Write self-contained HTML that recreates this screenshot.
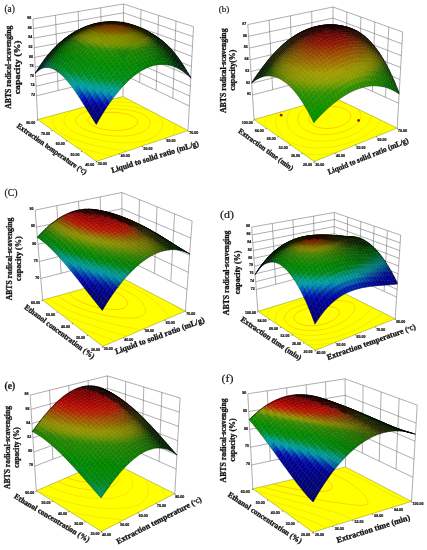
<!DOCTYPE html>
<html><head><meta charset="utf-8"><title>ABTS radical-scavenging capacity response surfaces</title>
<style>
html,body{margin:0;padding:0;background:#fff}
svg{display:block}
.tk{font-family:"Liberation Sans",sans-serif;font-weight:bold;font-size:3.6px;fill:#111;stroke:#111;stroke-width:.2px}
.q path{fill:currentColor;stroke:currentColor;stroke-width:.4}
.pl{font-family:"Liberation Serif",serif;fill:#111;stroke:#111;stroke-width:.15px}
.ax{stroke:#111;stroke-width:.3px;font-family:"Liberation Serif","Noto Serif CJK SC",serif;font-weight:bold;fill:#111}
</style></head><body>
<svg width="427" height="550" viewBox="0 0 427 550">
<rect width="427" height="550" fill="#fff"/>
<g><path d="M32.9 19L123.5 4L193.5 26.7M33.3 28.6L123.5 12.8L193 36.6M33.8 38.2L123.4 21.7L192.5 46.5M34.2 47.8L123.4 30.5L191.9 56.4M34.7 57.4L123.3 39.3L191.4 66.4M35.1 67L123.3 48.1L190.9 76.3M35.6 76.6L123.2 57L190.4 86.2M36 86.2L123.2 65.8L189.8 96.1M36.5 95.8L123.1 74.6L189.3 106M32.9 19L37.6 119.6M55.5 15.2L58.1 90.5M78.2 11.5L79.8 85.2M100.8 7.8L101.5 79.9M123.5 4L123 96.5M193.5 26.7L188 130.6M176 21L172.8 98.2M158.5 15.3L156.2 90.3M141 9.7L139.7 82.5" fill="none" stroke="#6a6a6a" stroke-width="0.55"/>
<polygon points="37.6,119.6 96.5,161.4 188,130.6 123,96.5" fill="#ffff00" stroke="#8a8a20" stroke-width="0.5"/>
<path d="M186.6 131.1L186.6 129.8M75.7 146.6L77.6 147.2L79.5 147.8L82.6 148.7L84.3 149.1L86.7 149.8L89.4 150.5L91.1 151L93.7 151.6L96.4 152.3L98.2 152.7L100.5 153.2L103.6 153.9L105.4 154.4L107.3 154.8L110.7 155.6L112.5 156M128.7 99.5L126.2 99.3L123.7 99.2L121.3 99L119 98.9L116.7 98.9M42.4 118.3L42.2 119.3L42 120.3L41.9 121.3L42 122.7" fill="none" stroke="#d8e000" stroke-width="0.5"/>
<path d="M172.8 135.7L173.3 134.6L173.7 133.5L174.1 132.4L174.4 131.3L174.7 130.1L174.9 128.9L175.1 127.7L175.1 126.5L175.1 125.6L175.1 124.7L174.9 123.8M136.1 103.4L133.7 103.1L131.5 102.8L129.2 102.6L126.8 102.4L124.4 102.2L121.8 102L119.2 101.9L116.4 101.8L113.5 101.7L111.1 101.7L109 101.6L106.9 101.6L103.8 101.7M54.4 115.1L53.6 116.2L53.1 117.3L52.7 118.4L52.5 119.4L52.3 120.4L52.4 121.6L52.6 123.2L52.9 124.1L53.3 125L54.2 126.6L54.9 127.5L56.1 129L57.6 130.5L59.4 131.9L61.4 133.3L63.5 134.6L65.9 135.9L68.4 137.1L69.7 137.7L72.5 138.9L74 139.5L76.9 140.5L78.4 141L81.6 142L83.2 142.5L86 143.3L88.2 143.9L90 144.3L92.9 145L95.4 145.6L97.2 146L99.5 146.5L102.6 147.1L104.9 147.5L106.8 147.9L108.8 148.2L111.8 148.7L114.8 149.2L117 149.5L119.2 149.8L121.3 150.1L123.5 150.3L126.2 150.6" fill="none" stroke="#d6dc00" stroke-width="0.5"/>
<path d="M140.2 141.8L143.6 141.1L146.9 140.2L149.8 139.1L152.4 137.9L153.6 137.2L155.8 135.7L156.8 134.9L157.8 134.1L159.1 132.7L160.1 131.4L160.8 130.4L161.4 129.4L161.8 128.4L162.2 127.3L162.5 126.1L162.7 125L162.7 124.1L162.6 123.2L162.5 122.3L162.1 120.8L161.6 119.8L161.2 119L160.1 117.5L159.5 116.8L158 115.5L156.3 114.2L154.4 113L152.1 111.9L149.6 110.8L146.9 109.9L145.2 109.4L142.3 108.6L140.6 108.2L137.1 107.4L135.2 107.1L133.2 106.8L130.7 106.4L127.8 106L125.1 105.8L122.5 105.5L120 105.4L117.6 105.2L115.2 105.1L113 105.1L110.8 105L107.9 105L104.5 105.1L102.5 105.1L100.5 105.2L96.8 105.5L94.9 105.7L91.4 106L89.7 106.3L86.4 106.8L83.3 107.4L80.4 108.1L77.6 108.9L74.9 109.8L72.5 110.8L71.3 111.4L69.2 112.6L68.2 113.3L66.8 114.5L65.8 115.6L65.1 116.5L64.6 117.5L64.2 118.6L63.9 119.8L63.9 121L64.1 121.9L64.3 122.8L65.1 124.4L65.7 125.3L67 126.8L68.5 128.3L70.4 129.7L72.5 131L74.8 132.3L77.3 133.5L79.2 134.3L81.5 135.1L83.9 136L86 136.7L87.9 137.2L91 138.1L92.7 138.5L95 139L98.2 139.7L100.2 140.1L102.1 140.5L104.3 140.8L107.2 141.3L110 141.7L112.8 142L115.1 142.2L117.5 142.4L120 142.6L122.7 142.7L125.4 142.8L127.7 142.8L130 142.7L132.1 142.7L135.4 142.4L138.2 142.1L140.2 141.8" fill="none" stroke="#e6d200" stroke-width="0.5"/>
<path d="M129.7 135.6L131.6 135.3L135.1 134.6L138.3 133.7L141.1 132.7L143.6 131.4L144.8 130.7L146.8 129.2L147.7 128.4L148.4 127.5L149.1 126.5L149.7 125.4L150 124.4L150.2 123.3L150.1 121.9L149.8 120.7L149.5 119.9L148.6 118.5L147.8 117.7L146.3 116.4L144.4 115.1L142.2 114L139.7 112.9L136.8 112L135.3 111.5L132 110.7L130.1 110.3L128.2 110L125.5 109.6L122.7 109.3L120 109L117.5 108.8L115.1 108.7L112.8 108.6L110.6 108.6L107.9 108.6L104.4 108.7L102.5 108.8L100 109L97 109.3L94.1 109.7L92 110.1L88.9 110.8L86.1 111.6L83.4 112.5L82.2 113.1L80 114.3L79 114.9L77.5 116.2L76.6 117.4L76.1 118.4L75.8 119.5L75.7 120.5L75.9 121.4L76.3 122.5L77.1 123.9L78.4 125.3L79.3 126.1L81.2 127.4L83.4 128.7L84.6 129.3L87.3 130.5L90 131.5L91.7 132L94 132.7L96.7 133.4L98.5 133.8L100.8 134.3L103.9 134.8L106.5 135.2L108.7 135.5L111 135.7L113.5 135.9L116.1 136.1L118.9 136.1L121.6 136.1L123.8 136.1L125.9 136L129.7 135.6" fill="none" stroke="#eab400" stroke-width="0.5"/>
<path d="M122.9 130.1L124.8 129.8L128.2 129.1L131.1 128.2L133.7 127L134.8 126.3L136.3 125L137.2 123.8L137.6 122.7L137.6 121.8L137.5 120.9L137 119.7L136 118.6L134.3 117.2L132.2 116.1L129.6 115L127.4 114.4L124.7 113.7L122.9 113.4L120.5 113L117.8 112.7L115.3 112.5L112.9 112.4L110.7 112.3L107.2 112.4L104.7 112.6L102.7 112.8L99.4 113.3L96.3 114L93.5 114.9L91.1 116L90.1 116.6L88.9 117.7L88.1 118.8L87.8 119.8L87.9 120.8L88.5 122.3L89.2 123.2L90.9 124.6L93.1 125.9L95.6 127L97.1 127.5L100.2 128.5L102 128.9L104 129.3L106.9 129.8L109.7 130.1L112.2 130.3L114.6 130.4L116.9 130.5L119 130.4L122.9 130.1" fill="none" stroke="#f09a00" stroke-width="0.5"/>
<path d="M96.5 161.4l0.6 1.2M119.4 153.7l0.6 1.2M142.2 146l0.6 1.2M165.1 138.3l0.6 1.2M188 130.6l0.6 1.2M96.5 161.4l-0.6 1.2M81.8 150.9l-0.6 1.2M67 140.5l-0.6 1.2M52.3 130.1l-0.6 1.2M37.6 119.6l-0.6 1.2" stroke="#333" stroke-width="0.6" fill="none"/>
<g class="q">
<path color="#000092" d="M122.5 52.1l3.1 4-2.4 4.5-3.1-4.2z"/>
<path color="#0023b0" d="M119.4 48.4l3.1 3.7-2.4 4.3-3.1-3.8z"/>
<path color="#002fb0" d="M124.9 48.3l3.2 3.8-2.5 4-3.1-4z"/>
<path color="#0081af" d="M116.2 45.1l3.2 3.3-2.4 4.2-3.2-3.5z"/>
<path color="#0092ad" d="M127.4 44.9l3.1 3.7-2.4 3.5-3.2-3.8z"/>
<path color="#008fae" d="M121.8 44.7l3.1 3.6-2.4 3.8-3.1-3.7z"/>
<path color="#009f8b" d="M113 42.1l3.2 3-2.4 4-3.1-3.1z"/>
<path color="#009c7b" d="M118.6 41.6l3.2 3.1-2.4 3.7-3.2-3.3z"/>
<path color="#009973" d="M124.2 41.5l3.2 3.4-2.5 3.4-3.1-3.6z"/>
<path color="#009875" d="M129.9 42l3.1 3.6-2.5 3-3.1-3.7z"/>
<path color="#008a1d" d="M121.1 38.5l3.1 3-2.4 3.2-3.2-3.1z"/>
<path color="#00914d" d="M109.9 39.5l3.1 2.6-2.3 3.9-3.2-2.8z"/>
<path color="#008d2d" d="M115.5 38.7l3.1 2.9-2.4 3.5-3.2-3z"/>
<path color="#00891a" d="M126.7 38.8l3.2 3.2-2.5 2.9-3.2-3.4z"/>
<path color="#008826" d="M132.3 39.6l3.2 3.4-2.5 2.6-3.1-3.6z"/>
<path color="#008917" d="M106.7 37.2l3.2 2.3-2.4 3.7-3.2-2.4z"/>
<path color="#008710" d="M117.9 35.8l3.2 2.7-2.5 3.1-3.1-2.9z"/>
<path color="#00850f" d="M123.5 35.9l3.2 2.9-2.5 2.7-3.1-3z"/>
<path color="#008211" d="M134.8 37.6l3.2 3.3-2.5 2.1-3.2-3.4z"/>
<path color="#008812" d="M112.3 36.3l3.2 2.4-2.5 3.4-3.1-2.6z"/>
<path color="#00840f" d="M129.1 36.5l3.2 3.1-2.4 2.4-3.2-3.2z"/>
<path color="#00860e" d="M103.5 35.3l3.2 1.9-2.4 3.6-3.2-2z"/>
<path color="#00850a" d="M109.1 34.1l3.2 2.2-2.4 3.2-3.2-2.3z"/>
<path color="#008307" d="M114.7 33.5l3.2 2.3-2.4 2.9-3.2-2.4z"/>
<path color="#008205" d="M120.3 33.3l3.2 2.6-2.4 2.6-3.2-2.7z"/>
<path color="#008005" d="M126 33.7l3.1 2.8-2.4 2.3-3.2-2.9z"/>
<path color="#007d07" d="M131.6 34.6l3.2 3-2.5 2-3.2-3.1z"/>
<path color="#007b09" d="M137.3 36l3.2 3.2-2.5 1.7-3.2-3.3z"/>
<path color="#008207" d="M100.3 33.8l3.2 1.5-2.4 3.5-3.2-1.7z"/>
<path color="#017f00" d="M111.4 31.5l3.3 2-2.4 2.8-3.2-2.2z"/>
<path color="#037800" d="M128.4 31.9l3.2 2.7-2.5 1.9-3.1-2.8z"/>
<path color="#007203" d="M139.8 34.9l3.1 3.1-2.4 1.2-3.2-3.2z"/>
<path color="#008002" d="M105.8 32.3l3.3 1.8-2.4 3.1-3.2-1.9z"/>
<path color="#047d00" d="M117.1 31.1l3.2 2.2-2.4 2.5-3.2-2.3z"/>
<path color="#047b00" d="M122.7 31.3l3.3 2.4-2.5 2.2-3.2-2.6z"/>
<path color="#007500" d="M134.1 33.1l3.2 2.9-2.5 1.6-3.2-3z"/>
<path color="#007d02" d="M97 32.5l3.3 1.3-2.4 3.3-3.2-1.4z"/>
<path color="#057c00" d="M102.6 30.9l3.2 1.4-2.3 3-3.2-1.5z"/>
<path color="#0a7a00" d="M108.2 29.8l3.2 1.7-2.3 2.6-3.3-1.8z"/>
<path color="#0d7800" d="M113.9 29.2l3.2 1.9-2.4 2.4-3.3-2z"/>
<path color="#0d7200" d="M125.2 29.6l3.2 2.3-2.4 1.8-3.3-2.4z"/>
<path color="#0b6f00" d="M130.9 30.6l3.2 2.5-2.5 1.5-3.2-2.7z"/>
<path color="#076a00" d="M136.6 32.1l3.2 2.8-2.5 1.1-3.2-2.9z"/>
<path color="#026500" d="M142.2 34.1l3.2 3-2.5 .9-3.1-3.1z"/>
<path color="#0e7600" d="M119.5 29.2l3.2 2.1-2.4 2-3.2-2.2z"/>
<path color="#037700" d="M93.8 31.7l3.2 .8-2.3 3.2-3.2-1z"/>
<path color="#107400" d="M105 28.5l3.2 1.3-2.4 2.5-3.2-1.4z"/>
<path color="#0f6100" d="M133.3 29.7l3.3 2.4-2.5 1-3.2-2.5z"/>
<path color="#055400" d="M144.7 33.7l3.2 2.9-2.5 .5-3.2-3z"/>
<path color="#0b7500" d="M99.4 29.8l3.2 1.1-2.3 2.9-3.3-1.3z"/>
<path color="#147100" d="M110.6 27.7l3.3 1.5-2.5 2.3-3.2-1.7z"/>
<path color="#156e00" d="M116.3 27.4l3.2 1.8-2.4 1.9-3.2-1.9z"/>
<path color="#156b00" d="M122 27.6l3.2 2-2.5 1.7-3.2-2.1z"/>
<path color="#126600" d="M127.6 28.4l3.3 2.2-2.5 1.3-3.2-2.3z"/>
<path color="#0a5b00" d="M139 31.4l3.2 2.7-2.4 .8-3.2-2.8z"/>
<path color="#076f00" d="M90.6 31.1l3.2 .6-2.3 3-3.2-.6z"/>
<path color="#0f6d00" d="M96.2 29l3.2 .8-2.4 2.7-3.2-.8z"/>
<path color="#146b00" d="M101.7 27.5l3.3 1-2.4 2.4-3.2-1.1z"/>
<path color="#1a6800" d="M107.4 26.5l3.2 1.2-2.4 2.1-3.2-1.3z"/>
<path color="#296200" d="M118.7 26l3.3 1.6-2.5 1.6-3.2-1.8z"/>
<path color="#175500" d="M130.1 27.6l3.2 2.1-2.4 .9-3.3-2.2z"/>
<path color="#0f4d00" d="M135.8 29.1l3.2 2.3-2.4 .7-3.3-2.4z"/>
<path color="#0a4400" d="M141.5 31.2l3.2 2.5-2.5 .4-3.2-2.7z"/>
<path color="#053b00" d="M147.2 33.7l3.2 2.9-2.5 0-3.2-2.9z"/>
<path color="#246500" d="M113 26l3.3 1.4-2.4 1.8-3.3-1.5z"/>
<path color="#235c00" d="M124.4 26.5l3.2 1.9-2.4 1.2-3.2-2z"/>
<path color="#196000" d="M98.5 26.8l3.2 .7-2.3 2.3-3.2-.8z"/>
<path color="#0d2f00" d="M138.3 28.9l3.2 2.3-2.5 .2-3.2-2.3z"/>
<path color="#0a6400" d="M87.4 30.9l3.2 .2-2.3 3-3.2-.3z"/>
<path color="#116200" d="M92.9 28.6l3.3 .4-2.4 2.7-3.2-.6z"/>
<path color="#316000" d="M104.1 25.6l3.3 .9-2.4 2-3.3-1z"/>
<path color="#425e00" d="M109.8 24.9l3.2 1.1-2.4 1.7-3.2-1.2z"/>
<path color="#465900" d="M115.4 24.7l3.3 1.3-2.4 1.4-3.3-1.4z"/>
<path color="#405200" d="M121.1 25l3.3 1.5-2.4 1.1-3.3-1.6z"/>
<path color="#344800" d="M126.8 25.8l3.3 1.8-2.5 .8-3.2-1.9z"/>
<path color="#203c00" d="M132.6 27.1l3.2 2-2.5 .6-3.2-2.1z"/>
<path color="#062300" d="M144 31.2l3.2 2.5-2.5 0-3.2-2.5z"/>
<path color="#031e00" d="M149.7 34.1l3.2 2.8-2.5-.3-3.2-2.9z"/>
<path color="#0a5700" d="M84.2 31.1l3.2-.2-2.3 2.9-3.2 0z"/>
<path color="#235200" d="M95.3 26.5l3.2 .3-2.3 2.2-3.3-.4z"/>
<path color="#3d5100" d="M100.9 25.1l3.2 .5-2.4 1.9-3.2-.7z"/>
<path color="#3e4400" d="M112.2 23.7l3.2 1-2.4 1.3-3.2-1.1z"/>
<path color="#2a2e00" d="M123.6 24.3l3.2 1.5-2.4 .7-3.3-1.5z"/>
<path color="#192100" d="M135 27l3.3 1.9-2.5 .2-3.2-2z"/>
<path color="#0d1f00" d="M140.7 29.1l3.3 2.1-2.5 0-3.2-2.3z"/>
<path color="#041e00" d="M152.1 34.8l3.2 2.7-2.4-.6-3.2-2.8z"/>
<path color="#105400" d="M89.7 28.5l3.2 .1-2.3 2.5-3.2-.2z"/>
<path color="#424c00" d="M106.5 24.1l3.3 .8-2.4 1.6-3.3-.9z"/>
<path color="#353a00" d="M117.9 23.8l3.2 1.2-2.4 1-3.3-1.3z"/>
<path color="#1d2100" d="M129.3 25.4l3.3 1.7-2.5 .5-3.3-1.8z"/>
<path color="#061e00" d="M146.4 31.7l3.3 2.4-2.5-.4-3.2-2.5z"/>
<path color="#094500" d="M81 31.5l3.2-.4-2.3 2.7-3.2 .4z"/>
<path color="#0e4100" d="M86.5 28.7l3.2-.2-2.3 2.4-3.2 .2z"/>
<path color="#233e00" d="M92 26.5l3.3 0-2.4 2.1-3.2-.1z"/>
<path color="#303900" d="M97.6 24.8l3.3 .3-2.4 1.7-3.2-.3z"/>
<path color="#2c2f00" d="M103.2 23.7l3.3 .4-2.4 1.5-3.2-.5z"/>
<path color="#222300" d="M108.9 23l3.3 .7-2.4 1.2-3.3-.8z"/>
<path color="#212200" d="M114.6 22.9l3.3 .9-2.5 .9-3.2-1z"/>
<path color="#212200" d="M120.3 23.2l3.3 1.1-2.5 .7-3.2-1.2z"/>
<path color="#202200" d="M126 24.1l3.3 1.3-2.5 .4-3.2-1.5z"/>
<path color="#1f2200" d="M131.7 25.4l3.3 1.6-2.4 .1-3.3-1.7z"/>
<path color="#1c2100" d="M137.5 27.2l3.2 1.9-2.4-.2-3.3-1.9z"/>
<path color="#111f00" d="M143.2 29.6l3.2 2.1-2.4-.5-3.3-2.1z"/>
<path color="#061e00" d="M148.9 32.4l3.2 2.4-2.4-.7-3.3-2.4z"/>
<path color="#041e00" d="M154.6 35.8l3.2 2.7-2.5-1-3.2-2.7z"/>
<path color="#062d00" d="M77.8 32.3l3.2-.8-2.3 2.7-3.2 .7z"/>
<path color="#152000" d="M88.8 26.8l3.2-.3-2.3 2-3.2 .2z"/>
<path color="#222200" d="M105.6 22.7l3.3 .3-2.4 1.1-3.3-.4z"/>
<path color="#232200" d="M117 22.4l3.3 .8-2.4 .6-3.3-.9z"/>
<path color="#212200" d="M128.5 24.1l3.2 1.3-2.4 0-3.3-1.3z"/>
<path color="#122000" d="M145.6 30.4l3.3 2-2.5-.7-3.2-2.1z"/>
<path color="#031e00" d="M157 37.2l3.2 2.5-2.4-1.2-3.2-2.7z"/>
<path color="#082600" d="M83.2 29.3l3.3-.6-2.3 2.4-3.2 .4z"/>
<path color="#1e2200" d="M94.4 24.9l3.2-.1-2.3 1.7-3.3 0z"/>
<path color="#202200" d="M100 23.5l3.2 .2-2.3 1.4-3.3-.3z"/>
<path color="#232200" d="M111.3 22.3l3.3 .6-2.4 .8-3.3-.7z"/>
<path color="#222200" d="M122.7 23l3.3 1.1-2.4 .2-3.3-1.1z"/>
<path color="#202200" d="M134.2 25.7l3.3 1.5-2.5-.2-3.3-1.6z"/>
<path color="#1d2100" d="M139.9 27.8l3.3 1.8-2.5-.5-3.2-1.9z"/>
<path color="#061e00" d="M151.3 33.5l3.3 2.3-2.5-1-3.2-2.4z"/>
<path color="#031e00" d="M74.6 33.4l3.2-1.1-2.3 2.6-3.2 1z"/>
<path color="#061e00" d="M80 30.2l3.2-.9-2.2 2.2-3.2 .8z"/>
<path color="#162000" d="M85.5 27.5l3.3-.7-2.3 1.9-3.3 .6z"/>
<path color="#1f2200" d="M91.1 25.3l3.3-.4-2.4 1.6-3.2 .3z"/>
<path color="#232200" d="M102.4 22.6l3.2 .1-2.4 1-3.2-.2z"/>
<path color="#231e00" d="M108 22l3.3 .3-2.4 .7-3.3-.3z"/>
<path color="#231c00" d="M113.7 21.9l3.3 .5-2.4 .5-3.3-.6z"/>
<path color="#231c00" d="M119.4 22.3l3.3 .7-2.4 .2-3.3-.8z"/>
<path color="#231f00" d="M125.2 23.2l3.3 .9-2.5 0-3.3-1.1z"/>
<path color="#222200" d="M130.9 24.5l3.3 1.2-2.5-.3-3.2-1.3z"/>
<path color="#1e2200" d="M142.4 28.7l3.2 1.7-2.4-.8-3.3-1.8z"/>
<path color="#122000" d="M148.1 31.5l3.2 2-2.4-1.1-3.3-2z"/>
<path color="#061e00" d="M153.8 34.9l3.2 2.3-2.4-1.4-3.3-2.3z"/>
<path color="#031e00" d="M159.5 38.8l3.2 2.5-2.5-1.6-3.2-2.5z"/>
<path color="#212200" d="M96.7 23.7l3.3-.2-2.4 1.3-3.2 .1z"/>
<path color="#202200" d="M136.6 26.4l3.3 1.4-2.4-.6-3.3-1.5z"/>
<path color="#152000" d="M82.3 28.5l3.2-1-2.3 1.8-3.2 .9z"/>
<path color="#241700" d="M110.4 21.7l3.3 .2-2.4 .4-3.3-.3z"/>
<path color="#241800" d="M121.9 22.5l3.3 .7-2.5-.2-3.3-.7z"/>
<path color="#101f00" d="M150.5 33l3.3 1.9-2.5-1.4-3.2-2z"/>
<path color="#031e00" d="M71.4 34.9l3.2-1.5-2.3 2.5-3.1 1.4z"/>
<path color="#061e00" d="M76.8 31.4l3.2-1.2-2.2 2.1-3.2 1.1z"/>
<path color="#1f2200" d="M87.9 26.1l3.2-.8-2.3 1.5-3.3 .7z"/>
<path color="#212200" d="M93.4 24.2l3.3-.5-2.3 1.2-3.3 .4z"/>
<path color="#232000" d="M99.1 22.9l3.3-.3-2.4 .9-3.3 .2z"/>
<path color="#241b00" d="M104.7 22.1l3.3-.1-2.4 .7-3.2-.1z"/>
<path color="#241600" d="M116.1 21.9l3.3 .4-2.4 .1-3.3-.5z"/>
<path color="#231c00" d="M127.6 23.7l3.3 .8-2.4-.4-3.3-.9z"/>
<path color="#232200" d="M133.3 25.2l3.3 1.2-2.4-.7-3.3-1.2z"/>
<path color="#212200" d="M139.1 27.3l3.3 1.4-2.5-.9-3.3-1.4z"/>
<path color="#1d2100" d="M144.8 29.9l3.3 1.6-2.5-1.1-3.2-1.7z"/>
<path color="#051e00" d="M156.2 36.6l3.3 2.2-2.5-1.6-3.2-2.3z"/>
<path color="#021e00" d="M161.9 40.7l3.2 2.5-2.4-1.9-3.2-2.5z"/>
<path color="#021e00" d="M68.2 36.6l3.2-1.7-2.2 2.4-3.2 1.7z"/>
<path color="#061e00" d="M73.6 32.9l3.2-1.5-2.2 2-3.2 1.5z"/>
<path color="#122000" d="M79.1 29.7l3.2-1.2-2.3 1.7-3.2 1.2z"/>
<path color="#1e2200" d="M84.6 27.1l3.3-1-2.4 1.4-3.2 1z"/>
<path color="#231f00" d="M95.8 23.5l3.3-.6-2.4 .8-3.3 .5z"/>
<path color="#241500" d="M107.1 21.9l3.3-.2-2.4 .3-3.3 .1z"/>
<path color="#241400" d="M112.8 21.8l3.3 .1-2.4 0-3.3-.2z"/>
<path color="#241400" d="M118.6 22.2l3.3 .3-2.5-.2-3.3-.4z"/>
<path color="#241500" d="M124.3 23.1l3.3 .6-2.4-.5-3.3-.7z"/>
<path color="#232200" d="M135.8 26.3l3.3 1-2.5-.9-3.3-1.2z"/>
<path color="#1c2100" d="M147.2 31.4l3.3 1.6-2.4-1.5-3.3-1.6z"/>
<path color="#0c1f00" d="M152.9 34.7l3.3 1.9-2.4-1.7-3.3-1.9z"/>
<path color="#051e00" d="M158.6 38.5l3.3 2.2-2.4-1.9-3.3-2.2z"/>
<path color="#011e00" d="M164.3 42.9l3.2 2.5-2.4-2.2-3.2-2.5z"/>
<path color="#212200" d="M90.2 25.1l3.2-.9-2.3 1.1-3.2 .8z"/>
<path color="#241800" d="M101.5 22.4l3.2-.3-2.3 .5-3.3 .3z"/>
<path color="#241b00" d="M130 24.4l3.3 .8-2.4-.7-3.3-.8z"/>
<path color="#202200" d="M141.5 28.6l3.3 1.3-2.4-1.2-3.3-1.4z"/>
<path color="#011d00" d="M65 38.7l3.2-2.1-2.2 2.4-3.1 2z"/>
<path color="#0d1f00" d="M75.9 31.3l3.2-1.6-2.3 1.7-3.2 1.5z"/>
<path color="#241300" d="M115.2 22.2l3.4 0-2.5-.3-3.3-.1z"/>
<path color="#081e00" d="M155.4 36.6l3.2 1.9-2.4-1.9-3.3-1.9z"/>
<path color="#001d00" d="M166.7 45.3l3.2 2.5-2.4-2.4-3.2-2.5z"/>
<path color="#051e00" d="M70.4 34.7l3.2-1.8-2.2 2-3.2 1.7z"/>
<path color="#1d2100" d="M81.4 28.5l3.2-1.4-2.3 1.4-3.2 1.2z"/>
<path color="#212200" d="M86.9 26.2l3.3-1.1-2.3 1-3.3 1z"/>
<path color="#231f00" d="M92.5 24.4l3.3-.9-2.4 .7-3.2 .9z"/>
<path color="#241700" d="M98.2 23.1l3.3-.7-2.4 .5-3.3 .6z"/>
<path color="#241400" d="M103.8 22.3l3.3-.4-2.4 .2-3.2 .3z"/>
<path color="#241300" d="M109.5 22l3.3-.2-2.4-.1-3.3 .2z"/>
<path color="#241300" d="M121 22.8l3.3 .3-2.4-.6-3.3-.3z"/>
<path color="#241500" d="M126.7 23.9l3.3 .5-2.4-.7-3.3-.6z"/>
<path color="#241b00" d="M132.4 25.5l3.4 .8-2.5-1.1-3.3-.8z"/>
<path color="#232200" d="M138.2 27.6l3.3 1-2.4-1.3-3.3-1z"/>
<path color="#202200" d="M143.9 30.1l3.3 1.3-2.4-1.5-3.3-1.3z"/>
<path color="#1a2100" d="M149.6 33.1l3.3 1.6-2.4-1.7-3.3-1.6z"/>
<path color="#041e00" d="M161 40.7l3.3 2.2-2.4-2.2-3.3-2.2z"/>
<path color="#001d00" d="M61.9 41.1l3.1-2.4-2.1 2.3-3.2 2.3z"/>
<path color="#081e00" d="M72.7 33.2l3.2-1.9-2.3 1.6-3.2 1.8z"/>
<path color="#232100" d="M89.3 25.6l3.2-1.2-2.3 .7-3.3 1.1z"/>
<path color="#241400" d="M100.5 23.1l3.3-.8-2.3 .1-3.3 .7z"/>
<path color="#241200" d="M111.9 22.5l3.3-.3-2.4-.4-3.3 .2z"/>
<path color="#241200" d="M117.6 22.9l3.4-.1-2.4-.6-3.4 0z"/>
<path color="#241500" d="M129.1 25.1l3.3 .4-2.4-1.1-3.3-.5z"/>
<path color="#222200" d="M140.6 29.1l3.3 1-2.4-1.5-3.3-1z"/>
<path color="#061e00" d="M157.8 38.8l3.2 1.9-2.4-2.2-3.2-1.9z"/>
<path color="#001d01" d="M169.1 47.9l3.2 2.5-2.4-2.6-3.2-2.5z"/>
<path color="#041e00" d="M67.2 36.9l3.2-2.2-2.2 1.9-3.2 2.1z"/>
<path color="#1b2100" d="M78.2 30.2l3.2-1.7-2.3 1.2-3.2 1.6z"/>
<path color="#202200" d="M83.7 27.6l3.2-1.4-2.3 .9-3.2 1.4z"/>
<path color="#241800" d="M94.9 24.1l3.3-1-2.4 .4-3.3 .9z"/>
<path color="#241200" d="M106.2 22.6l3.3-.6-2.4-.1-3.3 .4z"/>
<path color="#241300" d="M123.4 23.8l3.3 .1-2.4-.8-3.3-.3z"/>
<path color="#231c00" d="M134.9 26.9l3.3 .7-2.4-1.3-3.4-.8z"/>
<path color="#1f2200" d="M146.3 31.9l3.3 1.2-2.4-1.7-3.3-1.3z"/>
<path color="#162000" d="M152.1 35.1l3.3 1.5-2.5-1.9-3.3-1.6z"/>
<path color="#031e00" d="M163.4 43.1l3.3 2.2-2.4-2.4-3.3-2.2z"/>
<path color="#001d01" d="M58.8 43.8l3.1-2.7-2.2 2.2-3.1 2.7z"/>
<path color="#021e00" d="M64.1 39.3l3.1-2.4-2.2 1.8-3.1 2.4z"/>
<path color="#061e00" d="M69.5 35.4l3.2-2.2-2.3 1.5-3.2 2.2z"/>
<path color="#152000" d="M74.9 32.1l3.3-1.9-2.3 1.1-3.2 1.9z"/>
<path color="#1f2200" d="M80.4 29.4l3.3-1.8-2.3 .9-3.2 1.7z"/>
<path color="#222200" d="M86 27.1l3.3-1.5-2.4 .6-3.2 1.4z"/>
<path color="#241b00" d="M91.6 25.4l3.3-1.3-2.4 .3-3.2 1.2z"/>
<path color="#241400" d="M97.2 24.1l3.3-1-2.3 0-3.3 1z"/>
<path color="#241200" d="M102.9 23.4l3.3-.8-2.4-.3-3.3 .8z"/>
<path color="#241100" d="M108.6 23.1l3.3-.6-2.4-.5-3.3 .6z"/>
<path color="#241100" d="M114.3 23.3l3.3-.4-2.4-.7-3.3 .3z"/>
<path color="#241200" d="M120 23.9l3.4-.1-2.4-1-3.4 .1z"/>
<path color="#241300" d="M125.8 25l3.3 .1-2.4-1.2-3.3-.1z"/>
<path color="#241600" d="M131.5 26.5l3.4 .4-2.5-1.4-3.3-.4z"/>
<path color="#231e00" d="M137.3 28.5l3.3 .6-2.4-1.5-3.3-.7z"/>
<path color="#212200" d="M143 31l3.3 .9-2.4-1.8-3.3-1z"/>
<path color="#1e2200" d="M148.8 33.9l3.3 1.2-2.5-2-3.3-1.2z"/>
<path color="#0e1f00" d="M154.5 37.3l3.3 1.5-2.4-2.2-3.3-1.5z"/>
<path color="#051e00" d="M160.1 41.3l3.3 1.8-2.4-2.4-3.2-1.9z"/>
<path color="#021e00" d="M165.8 45.7l3.3 2.2-2.4-2.6-3.3-2.2z"/>
<path color="#001d02" d="M171.4 50.7l3.2 2.6-2.3-2.9-3.2-2.5z"/>
<path color="#001d02" d="M55.7 46.9l3.1-3.1-2.2 2.2-3.1 3z"/>
<path color="#051e00" d="M66.3 38l3.2-2.6-2.3 1.5-3.1 2.4z"/>
<path color="#0d1f00" d="M71.7 34.4l3.2-2.3-2.2 1.1-3.2 2.2z"/>
<path color="#212200" d="M82.7 28.9l3.3-1.8-2.3 .5-3.3 1.8z"/>
<path color="#241500" d="M93.9 25.5l3.3-1.4-2.3 0-3.3 1.3z"/>
<path color="#241200" d="M105.3 24l3.3-.9-2.4-.5-3.3 .8z"/>
<path color="#241200" d="M122.4 25.1l3.4-.1-2.4-1.2-3.4 .1z"/>
<path color="#241900" d="M133.9 28.2l3.4 .3-2.4-1.6-3.4-.4z"/>
<path color="#202200" d="M145.4 33l3.4 .9-2.5-2-3.3-.9z"/>
<path color="#081e00" d="M156.9 39.8l3.2 1.5-2.3-2.5-3.3-1.5z"/>
<path color="#041e00" d="M162.5 43.9l3.3 1.8-2.4-2.6-3.3-1.8z"/>
<path color="#001d03" d="M173.8 53.8l3.2 2.5-2.4-3-3.2-2.6z"/>
<path color="#011d00" d="M60.9 42.1l3.2-2.8-2.2 1.8-3.1 2.7z"/>
<path color="#1d2100" d="M77.2 31.4l3.2-2-2.2 .8-3.3 1.9z"/>
<path color="#231e00" d="M88.3 27l3.3-1.6-2.3 .2-3.3 1.5z"/>
<path color="#241300" d="M99.6 24.5l3.3-1.1-2.4-.3-3.3 1z"/>
<path color="#241100" d="M111 23.9l3.3-.6-2.4-.8-3.3 .6z"/>
<path color="#241100" d="M116.7 24.3l3.3-.4-2.4-1-3.3 .4z"/>
<path color="#241400" d="M128.2 26.4l3.3 .1-2.4-1.4-3.3-.1z"/>
<path color="#232200" d="M139.7 30.3l3.3 .7-2.4-1.9-3.3-.6z"/>
<path color="#1a2100" d="M151.1 36.1l3.4 1.2-2.4-2.2-3.3-1.2z"/>
<path color="#001d00" d="M168.2 48.6l3.2 2.1-2.3-2.8-3.3-2.2z"/>
<path color="#001d04" d="M52.6 50.2l3.1-3.3-2.2 2.1-3.1 3.2z"/>
<path color="#001d01" d="M57.8 45.2l3.1-3.1-2.1 1.7-3.1 3.1z"/>
<path color="#031e00" d="M63.1 40.8l3.2-2.8-2.2 1.3-3.2 2.8z"/>
<path color="#061e00" d="M68.5 37l3.2-2.6-2.2 1-3.2 2.6z"/>
<path color="#202200" d="M79.5 31l3.2-2.1-2.3 .5-3.2 2z"/>
<path color="#241900" d="M90.7 27.1l3.2-1.6-2.3-.1-3.3 1.6z"/>
<path color="#241400" d="M96.3 25.9l3.3-1.4-2.4-.4-3.3 1.4z"/>
<path color="#241200" d="M102 25.2l3.3-1.2-2.4-.6-3.3 1.1z"/>
<path color="#241100" d="M107.7 24.9l3.3-1-2.4-.8-3.3 .9z"/>
<path color="#241100" d="M119.1 25.6l3.3-.5-2.4-1.2-3.3 .4z"/>
<path color="#241300" d="M124.8 26.7l3.4-.3-2.4-1.4-3.4 .1z"/>
<path color="#241500" d="M130.6 28.1l3.3 .1-2.4-1.7-3.3-.1z"/>
<path color="#231d00" d="M136.3 30.1l3.4 .2-2.4-1.8-3.4-.3z"/>
<path color="#1f2200" d="M147.8 35.3l3.3 .8-2.3-2.2-3.4-.9z"/>
<path color="#061e00" d="M159.2 42.4l3.3 1.5-2.4-2.6-3.2-1.5z"/>
<path color="#021e00" d="M164.9 46.7l3.3 1.9-2.4-2.9-3.3-1.8z"/>
<path color="#001d01" d="M170.5 51.6l3.3 2.2-2.4-3.1-3.2-2.1z"/>
<path color="#001d04" d="M176.1 57l3.2 2.6-2.3-3.3-3.2-2.5z"/>
<path color="#192100" d="M74 33.7l3.2-2.3-2.3 .7-3.2 2.3z"/>
<path color="#232200" d="M85.1 28.8l3.2-1.8-2.3 .1-3.3 1.8z"/>
<path color="#241100" d="M113.4 25l3.3-.7-2.4-1-3.3 .6z"/>
<path color="#222200" d="M142.1 32.4l3.3 .6-2.4-2-3.3-.7z"/>
<path color="#132000" d="M153.5 38.6l3.4 1.2-2.4-2.5-3.4-1.2z"/>
<path color="#011d00" d="M60 43.9l3.1-3.1-2.2 1.3-3.1 3.1z"/>
<path color="#2d1800" d="M98.7 26.6l3.3-1.4-2.4-.7-3.3 1.4z"/>
<path color="#502c00" d="M127.2 28.4l3.4-.3-2.4-1.7-3.4 .3z"/>
<path color="#011d00" d="M167.3 49.7l3.2 1.9-2.3-3-3.3-1.9z"/>
<path color="#001d06" d="M49.5 53.8l3.1-3.6-2.2 2-3 3.6z"/>
<path color="#001d02" d="M54.7 48.5l3.1-3.3-2.1 1.7-3.1 3.3z"/>
<path color="#051e00" d="M65.4 39.8l3.1-2.8-2.2 1-3.2 2.8z"/>
<path color="#0d1f00" d="M70.8 36.3l3.2-2.6-2.3 .7-3.2 2.6z"/>
<path color="#1d2100" d="M76.3 33.4l3.2-2.4-2.3 .4-3.2 2.3z"/>
<path color="#212200" d="M81.8 31l3.3-2.2-2.4 .1-3.2 2.1z"/>
<path color="#231e00" d="M87.4 29.1l3.3-2-2.4-.1-3.2 1.8z"/>
<path color="#241600" d="M93 27.6l3.3-1.7-2.4-.4-3.2 1.6z"/>
<path color="#502800" d="M104.3 26.1l3.4-1.2-2.4-.9-3.3 1.2z"/>
<path color="#572a00" d="M110 26l3.4-1-2.4-1.1-3.3 1z"/>
<path color="#592b00" d="M115.8 26.4l3.3-.8-2.4-1.3-3.3 .7z"/>
<path color="#562c00" d="M121.5 27.2l3.3-.5-2.4-1.6-3.3 .5z"/>
<path color="#3b2900" d="M133 30.1l3.3 0-2.4-1.9-3.3-.1z"/>
<path color="#323000" d="M138.7 32.2l3.4 .2-2.4-2.1-3.4-.2z"/>
<path color="#272800" d="M144.5 34.7l3.3 .6-2.4-2.3-3.3-.6z"/>
<path color="#1b2100" d="M150.2 37.7l3.3 .9-2.4-2.5-3.3-.8z"/>
<path color="#0a1e00" d="M155.9 41.2l3.3 1.2-2.3-2.6-3.4-1.2z"/>
<path color="#041e00" d="M161.6 45.2l3.3 1.5-2.4-2.8-3.3-1.5z"/>
<path color="#001d02" d="M172.9 54.7l3.2 2.3-2.3-3.2-3.3-2.2z"/>
<path color="#001d05" d="M178.4 60.3l3.3 2.7-2.4-3.4-3.2-2.6z"/>
<path color="#001f14" d="M46.4 57.7l3.1-3.9-2.1 2-3 3.9z"/>
<path color="#001d04" d="M51.6 52.2l3.1-3.7-2.1 1.7-3.1 3.6z"/>
<path color="#001d01" d="M56.9 47.3l3.1-3.4-2.2 1.3-3.1 3.3z"/>
<path color="#031e00" d="M62.2 43l3.2-3.2-2.3 1-3.1 3.1z"/>
<path color="#172000" d="M73.1 36.1l3.2-2.7-2.3 .3-3.2 2.6z"/>
<path color="#1f2200" d="M78.6 33.4l3.2-2.4-2.3 0-3.2 2.4z"/>
<path color="#2d2c00" d="M84.1 31.3l3.3-2.2-2.3-.3-3.3 2.2z"/>
<path color="#3c2e00" d="M89.7 29.6l3.3-2-2.3-.5-3.3 2z"/>
<path color="#563100" d="M95.3 28.4l3.4-1.8-2.4-.7-3.3 1.7z"/>
<path color="#613300" d="M101 27.7l3.3-1.6-2.3-.9-3.3 1.4z"/>
<path color="#6b3500" d="M112.4 27.5l3.4-1.1-2.4-1.4-3.4 1z"/>
<path color="#663700" d="M123.9 29l3.3-.6-2.4-1.7-3.3 .5z"/>
<path color="#5d3800" d="M129.6 30.4l3.4-.3-2.4-2-3.4 .3z"/>
<path color="#4c4000" d="M135.4 32.2l3.3 0-2.4-2.1-3.3 0z"/>
<path color="#434300" d="M141.1 34.5l3.4 .2-2.4-2.3-3.4-.2z"/>
<path color="#353a00" d="M146.9 37.2l3.3 .5-2.4-2.4-3.3-.6z"/>
<path color="#1c2d00" d="M152.6 40.4l3.3 .8-2.4-2.6-3.3-.9z"/>
<path color="#031e00" d="M164 48.2l3.3 1.5-2.4-3-3.3-1.5z"/>
<path color="#001d01" d="M169.6 52.8l3.3 1.9-2.4-3.1-3.2-1.9z"/>
<path color="#001d03" d="M175.2 58l3.2 2.3-2.3-3.3-3.2-2.3z"/>
<path color="#001f10" d="M180.8 63.8l3.2 2.7-2.3-3.5-3.3-2.7z"/>
<path color="#061e00" d="M67.6 39.3l3.2-3-2.3 .7-3.1 2.8z"/>
<path color="#683400" d="M106.7 27.4l3.3-1.4-2.3-1.1-3.4 1.2z"/>
<path color="#6b3600" d="M118.1 28l3.4-.8-2.4-1.6-3.3 .8z"/>
<path color="#061e00" d="M158.3 44l3.3 1.2-2.4-2.8-3.3-1.2z"/>
<path color="#001d02" d="M53.8 51l3.1-3.7-2.2 1.2-3.1 3.7z"/>
<path color="#3e4100" d="M80.9 33.8l3.2-2.5-2.3-.3-3.2 2.4z"/>
<path color="#594000" d="M92 30.5l3.3-2.1-2.3-.8-3.3 2z"/>
<path color="#604900" d="M132 32.6l3.4-.4-2.4-2.1-3.4 .3z"/>
<path color="#4c5000" d="M143.5 37l3.4 .2-2.4-2.5-3.4-.2z"/>
<path color="#001d02" d="M171.9 56.1l3.3 1.9-2.3-3.3-3.3-1.9z"/>
<path color="#00211f" d="M43.4 61.9l3-4.2-2 2-3 4.2z"/>
<path color="#001d06" d="M48.6 56.1l3-3.9-2.1 1.6-3.1 3.9z"/>
<path color="#011d00" d="M59.1 46.4l3.1-3.4-2.2 .9-3.1 3.4z"/>
<path color="#041e00" d="M64.4 42.5l3.2-3.2-2.2 .5-3.2 3.2z"/>
<path color="#0a1e00" d="M69.9 39.1l3.2-3-2.3 .2-3.2 3z"/>
<path color="#293100" d="M75.3 36.2l3.3-2.8-2.3 0-3.2 2.7z"/>
<path color="#4f4c00" d="M86.4 31.9l3.3-2.3-2.3-.5-3.3 2.2z"/>
<path color="#6d3e00" d="M97.7 29.5l3.3-1.8-2.3-1.1-3.4 1.8z"/>
<path color="#743e00" d="M103.4 29l3.3-1.6-2.4-1.3-3.3 1.6z"/>
<path color="#783e00" d="M109.1 28.8l3.3-1.3-2.4-1.5-3.3 1.4z"/>
<path color="#783e00" d="M114.8 29.1l3.3-1.1-2.3-1.6-3.4 1.1z"/>
<path color="#764000" d="M120.5 29.9l3.4-.9-2.4-1.8-3.4 .8z"/>
<path color="#704100" d="M126.3 31l3.3-.6-2.4-2-3.3 .6z"/>
<path color="#595600" d="M137.8 34.6l3.3-.1-2.4-2.3-3.3 0z"/>
<path color="#394600" d="M149.2 39.8l3.4 .6-2.4-2.7-3.3-.5z"/>
<path color="#113600" d="M154.9 43.2l3.4 .8-2.4-2.8-3.3-.8z"/>
<path color="#062900" d="M160.6 47l3.4 1.2-2.4-3-3.3-1.2z"/>
<path color="#011d00" d="M166.3 51.3l3.3 1.5-2.3-3.1-3.3-1.5z"/>
<path color="#001d05" d="M177.5 61.5l3.3 2.3-2.4-3.5-3.2-2.3z"/>
<path color="#002019" d="M183.1 67.4l3.1 2.8-2.2-3.7-3.2-2.7z"/>
<path color="#001a24" d="M40.4 66.4l3-4.5-2 2-3 4.5z"/>
<path color="#001d04" d="M50.7 54.9l3.1-3.9-2.2 1.2-3 3.9z"/>
<path color="#082c00" d="M66.7 42.3l3.2-3.2-2.3 .2-3.2 3.2z"/>
<path color="#475000" d="M77.6 36.6l3.3-2.8-2.3-.4-3.3 2.8z"/>
<path color="#655d00" d="M88.8 32.8l3.2-2.3-2.3-.9-3.3 2.3z"/>
<path color="#804600" d="M105.7 30.5l3.4-1.7-2.4-1.4-3.3 1.6z"/>
<path color="#814700" d="M117.2 31l3.3-1.1-2.4-1.9-3.3 1.1z"/>
<path color="#696300" d="M134.4 34.9l3.4-.3-2.4-2.4-3.4 .4z"/>
<path color="#505900" d="M145.9 39.6l3.3 .2-2.3-2.6-3.4-.2z"/>
<path color="#0c3d00" d="M157.3 46.1l3.3 .9-2.3-3-3.4-.8z"/>
<path color="#001d03" d="M174.3 59.5l3.2 2-2.3-3.5-3.3-1.9z"/>
<path color="#002121" d="M185.3 71.1l3.2 2.9-2.3-3.8-3.1-2.8z"/>
<path color="#001f15" d="M45.5 60.4l3.1-4.3-2.2 1.6-3 4.2z"/>
<path color="#001d01" d="M55.9 50.1l3.2-3.7-2.2 .9-3.1 3.7z"/>
<path color="#021e00" d="M61.3 45.9l3.1-3.4-2.2 .5-3.1 3.4z"/>
<path color="#223f00" d="M72.1 39.2l3.2-3-2.2-.1-3.2 3z"/>
<path color="#585a00" d="M83.2 34.5l3.2-2.6-2.3-.6-3.2 2.5z"/>
<path color="#6c4e00" d="M94.4 31.6l3.3-2.1-2.4-1.1-3.3 2.1z"/>
<path color="#7b4700" d="M100 30.8l3.4-1.8-2.4-1.3-3.3 1.8z"/>
<path color="#824600" d="M111.4 30.6l3.4-1.5-2.4-1.6-3.3 1.3z"/>
<path color="#7d4900" d="M122.9 31.9l3.4-.9-2.4-2-3.4 .9z"/>
<path color="#6f5100" d="M128.6 33.2l3.4-.6-2.4-2.2-3.3 .6z"/>
<path color="#5e6000" d="M140.1 37.1l3.4-.1-2.4-2.5-3.3 .1z"/>
<path color="#2c4c00" d="M151.6 42.6l3.3 .6-2.3-2.8-3.4-.6z"/>
<path color="#053000" d="M163 50.1l3.3 1.2-2.3-3.1-3.4-1.2z"/>
<path color="#002000" d="M168.6 54.5l3.3 1.6-2.3-3.3-3.3-1.5z"/>
<path color="#001e0c" d="M179.8 65l3.3 2.4-2.3-3.6-3.3-2.3z"/>
<path color="#000924" d="M37.5 71.2l2.9-4.8-2 2-3 4.8z"/>
<path color="#002121" d="M42.5 64.9l3-4.5-2.1 1.5-3 4.5z"/>
<path color="#001e0a" d="M47.6 59.2l3.1-4.3-2.1 1.2-3.1 4.3z"/>
<path color="#001d03" d="M52.8 54.1l3.1-4-2.1 .9-3.1 3.9z"/>
<path color="#073900" d="M63.5 45.8l3.2-3.5-2.3 .2-3.1 3.4z"/>
<path color="#0f4700" d="M68.9 42.5l3.2-3.3-2.2-.1-3.2 3.2z"/>
<path color="#3c5800" d="M74.4 39.6l3.2-3-2.3-.4-3.2 3z"/>
<path color="#5b6400" d="M79.9 37.3l3.3-2.8-2.3-.7-3.3 2.8z"/>
<path color="#6a6b00" d="M85.5 35.4l3.3-2.6-2.4-.9-3.2 2.6z"/>
<path color="#746b00" d="M91.1 34l3.3-2.4-2.4-1.1-3.2 2.3z"/>
<path color="#835100" d="M102.4 32.4l3.3-1.9-2.3-1.5-3.4 1.8z"/>
<path color="#884e00" d="M108.1 32.3l3.3-1.7-2.3-1.8-3.4 1.7z"/>
<path color="#884e00" d="M113.8 32.5l3.4-1.5-2.4-1.9-3.4 1.5z"/>
<path color="#845100" d="M119.5 33.2l3.4-1.3-2.4-2-3.3 1.1z"/>
<path color="#766b00" d="M131 35.6l3.4-.7-2.4-2.3-3.4 .6z"/>
<path color="#6c6d00" d="M136.8 37.5l3.3-.4-2.3-2.5-3.4 .3z"/>
<path color="#606700" d="M142.5 39.8l3.4-.2-2.4-2.6-3.4 .1z"/>
<path color="#485e00" d="M148.2 42.4l3.4 .2-2.4-2.8-3.3-.2z"/>
<path color="#164e00" d="M154 45.6l3.3 .5-2.4-2.9-3.3-.6z"/>
<path color="#0a4300" d="M159.6 49.2l3.4 .9-2.4-3.1-3.3-.9z"/>
<path color="#002402" d="M171 57.8l3.3 1.7-2.4-3.4-3.3-1.6z"/>
<path color="#001d05" d="M176.6 63l3.2 2-2.3-3.5-3.2-2z"/>
<path color="#002016" d="M182.1 68.6l3.2 2.5-2.2-3.7-3.3-2.4z"/>
<path color="#001b24" d="M187.6 74.9l3.2 3-2.3-3.9-3.2-2.9z"/>
<path color="#002600" d="M58.1 49.7l3.2-3.8-2.2 .5-3.2 3.7z"/>
<path color="#795b00" d="M96.7 33l3.3-2.2-2.3-1.3-3.3 2.1z"/>
<path color="#7a5a00" d="M125.3 34.2l3.3-1-2.3-2.2-3.4 .9z"/>
<path color="#023500" d="M165.3 53.3l3.3 1.2-2.3-3.2-3.3-1.2z"/>
<path color="#002019" d="M44.6 63.7l3-4.5-2.1 1.2-3 4.5z"/>
<path color="#195a00" d="M71.2 43l3.2-3.4-2.3-.4-3.2 3.3z"/>
<path color="#697200" d="M82.2 38.3l3.3-2.9-2.3-.9-3.3 2.8z"/>
<path color="#6c7300" d="M139.1 40.2l3.4-.4-2.4-2.7-3.3 .4z"/>
<path color="#2a5e00" d="M150.6 45.4l3.4 .2-2.4-3-3.4-.2z"/>
<path color="#001e09" d="M178.9 66.5l3.2 2.1-2.3-3.6-3.2-2z"/>
<path color="#001624" d="M39.5 69.7l3-4.8-2.1 1.5-2.9 4.8z"/>
<path color="#001d05" d="M49.8 58.4l3-4.3-2.1 .8-3.1 4.3z"/>
<path color="#034300" d="M60.3 49.6l3.2-3.8-2.2 .1-3.2 3.8z"/>
<path color="#757700" d="M87.8 36.7l3.3-2.7-2.3-1.2-3.3 2.6z"/>
<path color="#836a00" d="M99.1 34.7l3.3-2.3-2.4-1.6-3.3 2.2z"/>
<path color="#875c00" d="M110.4 34.3l3.4-1.8-2.4-1.9-3.3 1.7z"/>
<path color="#836700" d="M121.9 35.4l3.4-1.2-2.4-2.3-3.4 1.3z"/>
<path color="#777700" d="M133.4 38.2l3.4-.7-2.4-2.6-3.4 .7z"/>
<path color="#064700" d="M162 52.3l3.3 1-2.3-3.2-3.4-.9z"/>
<path color="#002604" d="M173.3 61.3l3.3 1.7-2.3-3.5-3.3-1.7z"/>
<path color="#00211e" d="M184.4 72.3l3.2 2.6-2.3-3.8-3.2-2.5z"/>
<path color="#003203" d="M55 53.7l3.1-4-2.2 .4-3.1 4z"/>
<path color="#0c5000" d="M65.7 46l3.2-3.5-2.2-.2-3.2 3.5z"/>
<path color="#506a00" d="M76.7 40.4l3.2-3.1-2.3-.7-3.2 3z"/>
<path color="#7f7900" d="M93.4 35.5l3.3-2.5-2.3-1.4-3.3 2.4z"/>
<path color="#855f00" d="M104.7 34.3l3.4-2-2.4-1.8-3.3 1.9z"/>
<path color="#855e00" d="M116.2 34.7l3.3-1.5-2.3-2.2-3.4 1.5z"/>
<path color="#7f7500" d="M127.6 36.6l3.4-1-2.4-2.4-3.3 1z"/>
<path color="#5a6c00" d="M144.9 42.6l3.3-.2-2.3-2.8-3.4 .2z"/>
<path color="#0f5200" d="M156.3 48.6l3.3 .6-2.3-3.1-3.3-.5z"/>
<path color="#003801" d="M167.6 56.5l3.4 1.3-2.4-3.3-3.3-1.2z"/>
<path color="#002024" d="M41.6 68.5l3-4.8-2.1 1.2-3 4.8z"/>
<path color="#001f15" d="M181.2 70.1l3.2 2.2-2.3-3.7-3.2-2.1z"/>
<path color="#002817" d="M46.7 63l3.1-4.6-2.2 .8-3 4.5z"/>
<path color="#004b03" d="M57.2 53.7l3.1-4.1-2.2 .1-3.1 4z"/>
<path color="#106000" d="M68 46.6l3.2-3.6-2.3-.5-3.2 3.5z"/>
<path color="#226700" d="M73.4 43.8l3.3-3.4-2.3-.8-3.2 3.4z"/>
<path color="#5d7600" d="M79 41.5l3.2-3.2-2.3-1-3.2 3.1z"/>
<path color="#727d00" d="M84.5 39.6l3.3-2.9-2.3-1.3-3.3 2.9z"/>
<path color="#858200" d="M95.7 37.2l3.4-2.5-2.4-1.7-3.3 2.5z"/>
<path color="#8a7400" d="M107.1 36.3l3.3-2-2.3-2-3.4 2z"/>
<path color="#8a7200" d="M112.8 36.5l3.4-1.8-2.4-2.2-3.4 1.8z"/>
<path color="#878100" d="M124.2 37.9l3.4-1.3-2.3-2.4-3.4 1.2z"/>
<path color="#757c00" d="M135.7 40.9l3.4-.7-2.3-2.7-3.4 .7z"/>
<path color="#677700" d="M141.5 43l3.4-.4-2.4-2.8-3.4 .4z"/>
<path color="#406b00" d="M147.2 45.5l3.4-.1-2.4-3-3.3 .2z"/>
<path color="#145e00" d="M152.9 48.4l3.4 .2-2.3-3-3.4-.2z"/>
<path color="#024900" d="M164.3 55.6l3.3 .9-2.3-3.2-3.3-1z"/>
<path color="#002606" d="M175.6 64.7l3.3 1.8-2.3-3.5-3.3-1.7z"/>
<path color="#003b08" d="M51.9 58l3.1-4.3-2.2 .4-3 4.3z"/>
<path color="#065700" d="M62.6 49.9l3.1-3.9-2.2-.2-3.2 3.8z"/>
<path color="#7d8000" d="M90.1 38.2l3.3-2.7-2.3-1.5-3.3 2.7z"/>
<path color="#897c00" d="M101.4 36.5l3.3-2.2-2.3-1.9-3.3 2.3z"/>
<path color="#897700" d="M118.5 37l3.4-1.6-2.4-2.2-3.3 1.5z"/>
<path color="#7f7f00" d="M130 39.2l3.4-1-2.4-2.6-3.4 1z"/>
<path color="#0b5400" d="M158.6 51.8l3.4 .5-2.4-3.1-3.3-.6z"/>
<path color="#003a03" d="M170 59.9l3.3 1.4-2.3-3.5-3.4-1.3z"/>
<path color="#287100" d="M75.7 44.9l3.3-3.4-2.3-1.1-3.3 3.4z"/>
<path color="#517600" d="M143.8 45.9l3.4-.4-2.3-2.9-3.4 .4z"/>
<path color="#003430" d="M43.7 67.8l3-4.8-2.1 .7-3 4.8z"/>
<path color="#005108" d="M54.1 58l3.1-4.3-2.2 0-3.1 4.3z"/>
<path color="#096400" d="M64.8 50.5l3.2-3.9-2.3-.6-3.1 3.9z"/>
<path color="#818600" d="M92.4 39.9l3.3-2.7-2.3-1.7-3.3 2.7z"/>
<path color="#848500" d="M126.6 40.5l3.4-1.3-2.4-2.6-3.4 1.3z"/>
<path color="#106000" d="M155.3 51.5l3.3 .3-2.3-3.2-3.4-.2z"/>
<path color="#004901" d="M166.6 58.9l3.4 1-2.4-3.4-3.3-.9z"/>
<path color="#002509" d="M177.9 68.3l3.3 1.8-2.3-3.6-3.3-1.8z"/>
<path color="#004313" d="M48.9 62.6l3-4.6-2.1 .4-3.1 4.6z"/>
<path color="#005c01" d="M59.4 54l3.2-4.1-2.3-.3-3.1 4.1z"/>
<path color="#136b00" d="M70.2 47.5l3.2-3.7-2.2-.8-3.2 3.6z"/>
<path color="#637f00" d="M81.2 42.8l3.3-3.2-2.3-1.3-3.2 3.2z"/>
<path color="#788400" d="M86.8 41.2l3.3-3-2.3-1.5-3.3 2.9z"/>
<path color="#888800" d="M98.1 39.1l3.3-2.6-2.3-1.8-3.4 2.5z"/>
<path color="#8c8900" d="M103.7 38.6l3.4-2.3-2.4-2-3.3 2.2z"/>
<path color="#8e8900" d="M109.4 38.5l3.4-2-2.4-2.2-3.3 2z"/>
<path color="#8d8800" d="M115.1 38.8l3.4-1.8-2.3-2.3-3.4 1.8z"/>
<path color="#8a8700" d="M120.9 39.5l3.3-1.6-2.3-2.5-3.4 1.6z"/>
<path color="#7c8300" d="M132.3 41.9l3.4-1-2.3-2.7-3.4 1z"/>
<path color="#707f00" d="M138.1 43.7l3.4-.7-2.4-2.8-3.4 .7z"/>
<path color="#1e6800" d="M149.5 48.5l3.4-.1-2.3-3-3.4 .1z"/>
<path color="#065600" d="M161 55l3.3 .6-2.3-3.3-3.4-.5z"/>
<path color="#003906" d="M172.3 63.3l3.3 1.4-2.3-3.4-3.3-1.4z"/>
<path color="#00560f" d="M51 62.6l3.1-4.6-2.2 0-3 4.6z"/>
<path color="#006800" d="M61.6 54.6l3.2-4.1-2.2-.6-3.2 4.1z"/>
<path color="#157300" d="M72.5 48.6l3.2-3.7-2.3-1.1-3.2 3.7z"/>
<path color="#287800" d="M78 46.3l3.2-3.5-2.2-1.3-3.3 3.4z"/>
<path color="#798a00" d="M89.1 43l3.3-3.1-2.3-1.7-3.3 3z"/>
<path color="#888d00" d="M100.4 41.2l3.3-2.6-2.3-2.1-3.3 2.6z"/>
<path color="#8a8c00" d="M117.5 41.4l3.4-1.9-2.4-2.5-3.4 1.8z"/>
<path color="#7f8900" d="M128.9 43.3l3.4-1.4-2.3-2.7-3.4 1.3z"/>
<path color="#5b7e00" d="M140.4 46.7l3.4-.8-2.3-2.9-3.4 .7z"/>
<path color="#277000" d="M146.1 48.9l3.4-.4-2.3-3-3.4 .4z"/>
<path color="#0a6100" d="M157.6 54.7l3.4 .3-2.4-3.2-3.3-.3z"/>
<path color="#004905" d="M168.9 62.3l3.4 1-2.3-3.4-3.4-1z"/>
<path color="#004f3c" d="M45.8 67.4l3.1-4.8-2.2 .4-3 4.8z"/>
<path color="#006008" d="M56.3 58.3l3.1-4.3-2.2-.3-3.1 4.3z"/>
<path color="#0b6e00" d="M67 51.4l3.2-3.9-2.2-.9-3.2 3.9z"/>
<path color="#838c00" d="M94.7 41.9l3.4-2.8-2.4-1.9-3.3 2.7z"/>
<path color="#8b8d00" d="M106.1 40.9l3.3-2.4-2.3-2.2-3.4 2.3z"/>
<path color="#8c8d00" d="M111.8 40.9l3.3-2.1-2.3-2.3-3.4 2z"/>
<path color="#868b00" d="M123.2 42.1l3.4-1.6-2.4-2.6-3.3 1.6z"/>
<path color="#136900" d="M151.9 51.6l3.4-.1-2.4-3.1-3.4 .1z"/>
<path color="#015600" d="M163.3 58.3l3.3 .6-2.3-3.3-3.3-.6z"/>
<path color="#003808" d="M174.6 66.8l3.3 1.5-2.3-3.6-3.3-1.4z"/>
<path color="#5f8400" d="M83.5 44.4l3.3-3.2-2.3-1.6-3.3 3.2z"/>
<path color="#758500" d="M134.7 44.8l3.4-1.1-2.4-2.8-3.4 1z"/>
<path color="#005f3d" d="M47.9 67.4l3.1-4.8-2.1 0-3.1 4.8z"/>
<path color="#006b07" d="M58.5 59l3.1-4.4-2.2-.6-3.1 4.3z"/>
<path color="#0c7500" d="M69.3 52.6l3.2-4-2.3-1.1-3.2 3.9z"/>
<path color="#167000" d="M148.5 52l3.4-.4-2.4-3.1-3.4 .4z"/>
<path color="#056100" d="M159.9 57.9l3.4 .4-2.3-3.3-3.4-.3z"/>
<path color="#004708" d="M171.2 65.6l3.4 1.2-2.3-3.5-3.4-1z"/>
<path color="#00640f" d="M53.2 62.9l3.1-4.6-2.2-.3-3.1 4.6z"/>
<path color="#017000" d="M63.9 55.5l3.1-4.1-2.2-.9-3.2 4.1z"/>
<path color="#157900" d="M74.8 50l3.2-3.7-2.3-1.4-3.2 3.7z"/>
<path color="#257d00" d="M80.3 47.9l3.2-3.5-2.3-1.6-3.2 3.5z"/>
<path color="#548700" d="M85.8 46.3l3.3-3.3-2.3-1.8-3.3 3.2z"/>
<path color="#748d00" d="M91.4 45l3.3-3.1-2.3-2-3.3 3.1z"/>
<path color="#829000" d="M97.1 44.1l3.3-2.9-2.3-2.1-3.4 2.8z"/>
<path color="#869000" d="M102.7 43.5l3.4-2.6-2.4-2.3-3.3 2.6z"/>
<path color="#889000" d="M108.4 43.3l3.4-2.4-2.4-2.4-3.3 2.4z"/>
<path color="#889000" d="M114.1 43.5l3.4-2.1-2.4-2.6-3.3 2.1z"/>
<path color="#868f00" d="M119.8 44l3.4-1.9-2.3-2.6-3.4 1.9z"/>
<path color="#818d00" d="M125.5 44.9l3.4-1.6-2.3-2.8-3.4 1.6z"/>
<path color="#758a00" d="M131.3 46.1l3.4-1.3-2.4-2.9-3.4 1.4z"/>
<path color="#5d8400" d="M137 47.7l3.4-1-2.3-3-3.4 1.1z"/>
<path color="#2f7800" d="M142.7 49.7l3.4-.8-2.3-3-3.4 .8z"/>
<path color="#0e6a00" d="M154.2 54.8l3.4-.1-2.3-3.2-3.4 .1z"/>
<path color="#005603" d="M165.6 61.6l3.3 .7-2.3-3.4-3.3-.6z"/>
<path color="#006d0f" d="M55.4 63.6l3.1-4.6-2.2-.7-3.1 4.6z"/>
<path color="#027700" d="M66.1 56.8l3.2-4.2-2.3-1.2-3.1 4.1z"/>
<path color="#1f8000" d="M82.6 49.8l3.2-3.5-2.3-1.9-3.2 3.5z"/>
<path color="#678e00" d="M93.7 47.2l3.4-3.1-2.4-2.2-3.3 3.1z"/>
<path color="#7c9000" d="M122.1 46.8l3.4-1.9-2.3-2.8-3.4 1.9z"/>
<path color="#578700" d="M133.6 49.1l3.4-1.4-2.3-2.9-3.4 1.3z"/>
<path color="#117100" d="M150.8 55.2l3.4-.4-2.3-3.2-3.4 .4z"/>
<path color="#006000" d="M162.2 61.2l3.4 .4-2.3-3.3-3.4-.4z"/>
<path color="#006a37" d="M50.1 67.8l3.1-4.9-2.2-.3-3.1 4.8z"/>
<path color="#007307" d="M60.7 60l3.2-4.5-2.3-.9-3.1 4.4z"/>
<path color="#0c7b00" d="M71.5 54l3.3-4-2.3-1.4-3.2 4z"/>
<path color="#799200" d="M99.4 46.4l3.3-2.9-2.3-2.3-3.3 2.9z"/>
<path color="#809300" d="M105 46l3.4-2.7-2.3-2.4-3.4 2.6z"/>
<path color="#849300" d="M110.7 45.9l3.4-2.4-2.3-2.6-3.4 2.4z"/>
<path color="#829200" d="M116.4 46.2l3.4-2.2-2.3-2.6-3.4 2.1z"/>
<path color="#187600" d="M145.1 52.8l3.4-.8-2.4-3.1-3.4 .8z"/>
<path color="#086900" d="M156.5 58l3.4-.1-2.3-3.2-3.4 .1z"/>
<path color="#005406" d="M167.9 64.9l3.3 .7-2.3-3.3-3.3-.7z"/>
<path color="#157e00" d="M77 51.7l3.3-3.8-2.3-1.6-3.2 3.7z"/>
<path color="#428700" d="M88.1 48.3l3.3-3.3-2.3-2-3.3 3.3z"/>
<path color="#718d00" d="M127.9 47.8l3.4-1.7-2.4-2.8-3.4 1.6z"/>
<path color="#307d00" d="M139.3 50.7l3.4-1-2.3-3-3.4 1z"/>
<path color="#00722e" d="M52.3 68.5l3.1-4.9-2.2-.7-3.1 4.9z"/>
<path color="#007907" d="M62.9 61.2l3.2-4.4-2.2-1.3-3.2 4.5z"/>
<path color="#0a7100" d="M153.1 58.3l3.4-.3-2.3-3.2-3.4 .4z"/>
<path color="#005f04" d="M164.5 64.5l3.4 .4-2.3-3.3-3.4-.4z"/>
<path color="#00750f" d="M57.6 64.6l3.1-4.6-2.2-1-3.1 4.6z"/>
<path color="#017c00" d="M68.3 58.3l3.2-4.3-2.2-1.4-3.2 4.2z"/>
<path color="#138100" d="M79.3 53.7l3.3-3.9-2.3-1.9-3.3 3.8z"/>
<path color="#1b8300" d="M84.9 51.9l3.2-3.6-2.3-2-3.2 3.5z"/>
<path color="#2a8500" d="M90.4 50.6l3.3-3.4-2.3-2.2-3.3 3.3z"/>
<path color="#4a8c00" d="M96.1 49.6l3.3-3.2-2.3-2.3-3.4 3.1z"/>
<path color="#629000" d="M101.7 49l3.3-3-2.3-2.5-3.3 2.9z"/>
<path color="#709300" d="M107.4 48.7l3.3-2.8-2.3-2.6-3.4 2.7z"/>
<path color="#739300" d="M113 48.7l3.4-2.5-2.3-2.7-3.4 2.4z"/>
<path color="#6f9100" d="M118.7 49l3.4-2.2-2.3-2.8-3.4 2.2z"/>
<path color="#608e00" d="M124.5 49.7l3.4-1.9-2.4-2.9-3.4 1.9z"/>
<path color="#498800" d="M130.2 50.7l3.4-1.6-2.3-3-3.4 1.7z"/>
<path color="#298000" d="M135.9 52.1l3.4-1.4-2.3-3-3.4 1.4z"/>
<path color="#127700" d="M147.4 55.9l3.4-.7-2.3-3.2-3.4 .8z"/>
<path color="#026900" d="M158.8 61.2l3.4 0-2.3-3.3-3.4 .1z"/>
<path color="#0b7f00" d="M73.8 55.8l3.2-4.1-2.2-1.7-3.3 4z"/>
<path color="#197b00" d="M141.7 53.8l3.4-1-2.4-3.1-3.4 1z"/>
<path color="#007a10" d="M59.8 65.9l3.1-4.7-2.2-1.2-3.1 4.6z"/>
<path color="#047000" d="M155.4 61.5l3.4-.3-2.3-3.2-3.4 .3z"/>
<path color="#007828" d="M54.5 69.5l3.1-4.9-2.2-1-3.1 4.9z"/>
<path color="#007d07" d="M65.2 62.8l3.1-4.5-2.2-1.5-3.2 4.4z"/>
<path color="#098200" d="M76.1 57.7l3.2-4-2.3-2-3.2 4.1z"/>
<path color="#188600" d="M87.1 54.2l3.3-3.6-2.3-2.3-3.2 3.6z"/>
<path color="#2a8800" d="M98.4 52.2l3.3-3.2-2.3-2.6-3.3 3.2z"/>
<path color="#3c8b00" d="M104 51.6l3.4-2.9-2.4-2.7-3.3 3z"/>
<path color="#478d00" d="M109.7 51.4l3.3-2.7-2.3-2.8-3.3 2.8z"/>
<path color="#498d00" d="M115.4 51.5l3.3-2.5-2.3-2.8-3.4 2.5z"/>
<path color="#318600" d="M126.8 52.7l3.4-2-2.3-2.9-3.4 1.9z"/>
<path color="#197f00" d="M138.2 55.2l3.5-1.4-2.4-3.1-3.4 1.4z"/>
<path color="#0c7600" d="M149.7 59l3.4-.7-2.3-3.1-3.4 .7z"/>
<path color="#006703" d="M161.1 64.4l3.4 .1-2.3-3.3-3.4 0z"/>
<path color="#008000" d="M70.6 60l3.2-4.2-2.3-1.8-3.2 4.3z"/>
<path color="#118400" d="M81.6 55.8l3.3-3.9-2.3-2.1-3.3 3.9z"/>
<path color="#1d8700" d="M92.7 53l3.4-3.4-2.4-2.4-3.3 3.4z"/>
<path color="#428b00" d="M121.1 52l3.4-2.3-2.4-2.9-3.4 2.2z"/>
<path color="#228200" d="M132.5 53.8l3.4-1.7-2.3-3-3.4 1.6z"/>
<path color="#137b00" d="M144 56.9l3.4-1-2.3-3.1-3.4 1z"/>
<path color="#007d28" d="M56.7 70.9l3.1-5-2.2-1.3-3.1 4.9z"/>
<path color="#006f01" d="M157.7 64.7l3.4-.3-2.3-3.2-3.4 .3z"/>
<path color="#007f11" d="M62 67.5l3.2-4.7-2.3-1.6-3.1 4.7z"/>
<path color="#008302" d="M72.8 62l3.3-4.3-2.3-1.9-3.2 4.2z"/>
<path color="#0e8600" d="M83.9 58.1l3.2-3.9-2.2-2.3-3.3 3.9z"/>
<path color="#148800" d="M89.4 56.7l3.3-3.7-2.3-2.4-3.3 3.6z"/>
<path color="#198800" d="M95 55.7l3.4-3.5-2.3-2.6-3.4 3.4z"/>
<path color="#1c8900" d="M100.7 54.9l3.3-3.3-2.3-2.6-3.3 3.2z"/>
<path color="#208900" d="M106.3 54.5l3.4-3.1-2.3-2.7-3.4 2.9z"/>
<path color="#248900" d="M112 54.3l3.4-2.8-2.4-2.8-3.3 2.7z"/>
<path color="#248800" d="M117.7 54.5l3.4-2.5-2.4-3-3.3 2.5z"/>
<path color="#1f8700" d="M123.4 55l3.4-2.3-2.3-3-3.4 2.3z"/>
<path color="#1b8500" d="M129.1 55.7l3.4-1.9-2.3-3.1-3.4 2z"/>
<path color="#137f00" d="M140.5 58.3l3.5-1.4-2.3-3.1-3.5 1.4z"/>
<path color="#067600" d="M152 62.2l3.4-.7-2.3-3.2-3.4 .7z"/>
<path color="#008109" d="M67.4 64.6l3.2-4.6-2.3-1.7-3.1 4.5z"/>
<path color="#068500" d="M78.3 59.9l3.3-4.1-2.3-2.1-3.2 4z"/>
<path color="#178200" d="M134.8 56.9l3.4-1.7-2.3-3.1-3.4 1.7z"/>
<path color="#0d7b00" d="M146.3 60l3.4-1-2.3-3.1-3.4 1z"/>
<path color="#00822d" d="M58.9 72.5l3.1-5-2.2-1.6-3.1 5z"/>
<path color="#00840b" d="M69.6 66.6l3.2-4.6-2.2-2-3.2 4.6z"/>
<path color="#178a00" d="M102.9 57.7l3.4-3.2-2.3-2.9-3.3 3.3z"/>
<path color="#198a00" d="M108.6 57.4l3.4-3.1-2.3-2.9-3.4 3.1z"/>
<path color="#0c7f00" d="M142.9 61.4l3.4-1.4-2.3-3.1-3.5 1.4z"/>
<path color="#007400" d="M154.3 65.3l3.4-.6-2.3-3.2-3.4 .7z"/>
<path color="#008212" d="M64.2 69.3l3.2-4.7-2.2-1.8-3.2 4.7z"/>
<path color="#008504" d="M75.1 64.3l3.2-4.4-2.2-2.2-3.3 4.3z"/>
<path color="#038700" d="M80.6 62.3l3.3-4.2-2.3-2.3-3.3 4.1z"/>
<path color="#098800" d="M86.1 60.7l3.3-4-2.3-2.5-3.2 3.9z"/>
<path color="#0f8900" d="M91.7 59.4l3.3-3.7-2.3-2.7-3.3 3.7z"/>
<path color="#138900" d="M97.3 58.4l3.4-3.5-2.3-2.7-3.4 3.5z"/>
<path color="#198900" d="M114.3 57.3l3.4-2.8-2.3-3-3.4 2.8z"/>
<path color="#198800" d="M120 57.5l3.4-2.5-2.3-3-3.4 2.5z"/>
<path color="#178700" d="M125.7 58l3.4-2.3-2.3-3-3.4 2.3z"/>
<path color="#158500" d="M131.4 58.8l3.4-1.9-2.3-3.1-3.4 1.9z"/>
<path color="#118200" d="M137.1 60l3.4-1.7-2.3-3.1-3.4 1.7z"/>
<path color="#067a00" d="M148.6 63.2l3.4-1-2.3-3.2-3.4 1z"/>
<path color="#008514" d="M66.4 71.4l3.2-4.8-2.2-2-3.2 4.7z"/>
<path color="#008707" d="M77.3 66.7l3.3-4.4-2.3-2.4-3.2 4.4z"/>
<path color="#0a8a00" d="M94 62.2l3.3-3.8-2.3-2.7-3.3 3.7z"/>
<path color="#0e8a00" d="M99.6 61.3l3.3-3.6-2.2-2.8-3.4 3.5z"/>
<path color="#118a00" d="M105.2 60.7l3.4-3.3-2.3-2.9-3.4 3.2z"/>
<path color="#128a00" d="M110.9 60.4l3.4-3.1-2.3-3-3.4 3.1z"/>
<path color="#138a00" d="M116.6 60.3l3.4-2.8-2.3-3-3.4 2.8z"/>
<path color="#0e8500" d="M133.7 61.9l3.4-1.9-2.3-3.1-3.4 1.9z"/>
<path color="#057e00" d="M145.1 64.5l3.5-1.3-2.3-3.2-3.4 1.4z"/>
<path color="#008639" d="M61.1 74.3l3.1-5-2.2-1.8-3.1 5z"/>
<path color="#00860d" d="M71.9 68.9l3.2-4.6-2.3-2.3-3.2 4.6z"/>
<path color="#008801" d="M82.9 64.9l3.2-4.2-2.2-2.6-3.3 4.2z"/>
<path color="#058900" d="M88.4 63.4l3.3-4-2.3-2.7-3.3 4z"/>
<path color="#128800" d="M122.3 60.6l3.4-2.6-2.3-3-3.4 2.5z"/>
<path color="#118700" d="M128 61.1l3.4-2.3-2.3-3.1-3.4 2.3z"/>
<path color="#0a8200" d="M139.4 63.1l3.5-1.7-2.4-3.1-3.4 1.7z"/>
<path color="#007900" d="M150.9 66.3l3.4-1-2.3-3.1-3.4 1z"/>
<path color="#008b4a" d="M63.3 76.4l3.1-5-2.2-2.1-3.1 5z"/>
<path color="#007d01" d="M147.4 67.6l3.5-1.3-2.3-3.1-3.5 1.3z"/>
<path color="#008717" d="M68.7 73.7l3.2-4.8-2.3-2.3-3.2 4.8z"/>
<path color="#008810" d="M74.1 71.4l3.2-4.7-2.2-2.4-3.2 4.6z"/>
<path color="#00890a" d="M79.6 69.3l3.3-4.4-2.3-2.6-3.3 4.4z"/>
<path color="#008a05" d="M85.1 67.6l3.3-4.2-2.3-2.7-3.2 4.2z"/>
<path color="#008a01" d="M90.7 66.2l3.3-4-2.3-2.8-3.3 4z"/>
<path color="#048b00" d="M96.3 65.1l3.3-3.8-2.3-2.9-3.3 3.8z"/>
<path color="#088b00" d="M101.9 64.3l3.3-3.6-2.3-3-3.3 3.6z"/>
<path color="#0a8b00" d="M107.5 63.7l3.4-3.3-2.3-3-3.4 3.3z"/>
<path color="#0c8a00" d="M113.2 63.5l3.4-3.2-2.3-3-3.4 3.1z"/>
<path color="#0c8a00" d="M118.9 63.4l3.4-2.8-2.3-3.1-3.4 2.8z"/>
<path color="#0c8800" d="M124.6 63.7l3.4-2.6-2.3-3.1-3.4 2.6z"/>
<path color="#0a8700" d="M130.3 64.2l3.4-2.3-2.3-3.1-3.4 2.3z"/>
<path color="#078400" d="M136 65l3.4-1.9-2.3-3.1-3.4 1.9z"/>
<path color="#048100" d="M141.7 66.1l3.4-1.6-2.2-3.1-3.5 1.7z"/>
<path color="#008b02" d="M98.5 68.1l3.4-3.8-2.3-3-3.3 3.8z"/>
<path color="#048b00" d="M109.8 66.8l3.4-3.3-2.3-3.1-3.4 3.3z"/>
<path color="#00905c" d="M65.5 78.8l3.2-5.1-2.3-2.3-3.1 5z"/>
<path color="#00891d" d="M70.9 76.2l3.2-4.8-2.2-2.5-3.2 4.8z"/>
<path color="#008a14" d="M76.4 74l3.2-4.7-2.3-2.6-3.2 4.7z"/>
<path color="#008a0e" d="M81.9 72.1l3.2-4.5-2.2-2.7-3.3 4.4z"/>
<path color="#008b09" d="M87.4 70.5l3.3-4.3-2.3-2.8-3.3 4.2z"/>
<path color="#008b05" d="M92.9 69.2l3.4-4.1-2.3-2.9-3.3 4z"/>
<path color="#018b00" d="M104.2 67.4l3.3-3.7-2.3-3-3.3 3.6z"/>
<path color="#058a00" d="M115.5 66.6l3.4-3.2-2.3-3.1-3.4 3.2z"/>
<path color="#068a00" d="M121.1 66.6l3.5-2.9-2.3-3.1-3.4 2.8z"/>
<path color="#058800" d="M126.8 66.8l3.5-2.6-2.3-3.1-3.4 2.6z"/>
<path color="#038600" d="M132.6 67.3l3.4-2.3-2.3-3.1-3.4 2.3z"/>
<path color="#018400" d="M138.3 68.1l3.4-2-2.3-3-3.4 1.9z"/>
<path color="#008002" d="M144 69.2l3.4-1.6-2.3-3.1-3.4 1.6z"/>
<path color="#00956e" d="M67.7 81.3l3.2-5.1-2.2-2.5-3.2 5.1z"/>
<path color="#008b18" d="M78.6 76.8l3.3-4.7-2.3-2.8-3.2 4.7z"/>
<path color="#008c12" d="M84.1 75l3.3-4.5-2.3-2.9-3.2 4.5z"/>
<path color="#008c0e" d="M89.6 73.5l3.3-4.3-2.2-3-3.3 4.3z"/>
<path color="#008c0a" d="M95.2 72.3l3.3-4.2-2.2-3-3.4 4.1z"/>
<path color="#008c07" d="M100.8 71.3l3.4-3.9-2.3-3.1-3.4 3.8z"/>
<path color="#008c04" d="M106.4 70.5l3.4-3.7-2.3-3.1-3.3 3.7z"/>
<path color="#008b02" d="M112.1 70l3.4-3.4-2.3-3.1-3.4 3.3z"/>
<path color="#008a01" d="M117.7 69.7l3.4-3.1-2.2-3.2-3.4 3.2z"/>
<path color="#008901" d="M123.4 69.7l3.4-2.9-2.2-3.1-3.5 2.9z"/>
<path color="#008801" d="M129.1 69.9l3.5-2.6-2.3-3.1-3.5 2.6z"/>
<path color="#008304" d="M140.6 71.1l3.4-1.9-2.3-3.1-3.4 2z"/>
<path color="#008e3c" d="M73.1 78.9l3.3-4.9-2.3-2.6-3.2 4.8z"/>
<path color="#008602" d="M134.8 70.4l3.5-2.3-2.3-3.1-3.4 2.3z"/>
<path color="#008e29" d="M80.8 79.8l3.3-4.8-2.2-2.9-3.3 4.7z"/>
<path color="#008d17" d="M86.3 78.1l3.3-4.6-2.2-3-3.3 4.5z"/>
<path color="#008d13" d="M91.9 76.6l3.3-4.3-2.3-3.1-3.3 4.3z"/>
<path color="#008d0f" d="M97.5 75.4l3.3-4.1-2.3-3.2-3.3 4.2z"/>
<path color="#008d0c" d="M103.1 74.4l3.3-3.9-2.2-3.1-3.4 3.9z"/>
<path color="#008c09" d="M108.7 73.7l3.4-3.7-2.3-3.2-3.4 3.7z"/>
<path color="#008c08" d="M114.3 73.2l3.4-3.5-2.2-3.1-3.4 3.4z"/>
<path color="#008b06" d="M120 72.9l3.4-3.2-2.3-3.1-3.4 3.1z"/>
<path color="#008906" d="M125.7 72.8l3.4-2.9-2.3-3.1-3.4 2.9z"/>
<path color="#009b82" d="M69.9 84.1l3.2-5.2-2.2-2.7-3.2 5.1z"/>
<path color="#00935c" d="M75.4 81.8l3.2-5-2.2-2.8-3.3 4.9z"/>
<path color="#008806" d="M131.4 73l3.4-2.6-2.2-3.1-3.5 2.6z"/>
<path color="#008507" d="M137.1 73.4l3.5-2.3-2.3-3-3.5 2.3z"/>
<path color="#009353" d="M83.1 82.9l3.2-4.8-2.2-3.1-3.3 4.8z"/>
<path color="#008e25" d="M88.6 81.3l3.3-4.7-2.3-3.1-3.3 4.6z"/>
<path color="#008d14" d="M99.7 78.6l3.4-4.2-2.3-3.1-3.3 4.1z"/>
<path color="#008d11" d="M105.3 77.7l3.4-4-2.3-3.2-3.3 3.9z"/>
<path color="#008c0d" d="M116.6 76.4l3.4-3.5-2.3-3.2-3.4 3.5z"/>
<path color="#008b0b" d="M122.3 76l3.4-3.2-2.3-3.1-3.4 3.2z"/>
<path color="#009d97" d="M72.2 87l3.2-5.2-2.3-2.9-3.2 5.2z"/>
<path color="#009a75" d="M77.6 84.8l3.2-5-2.2-3-3.2 5z"/>
<path color="#008d18" d="M94.1 79.8l3.4-4.4-2.3-3.1-3.3 4.3z"/>
<path color="#008c0e" d="M110.9 76.9l3.4-3.7-2.2-3.2-3.4 3.7z"/>
<path color="#00890b" d="M128 75.9l3.4-2.9-2.3-3.1-3.4 2.9z"/>
<path color="#00870b" d="M133.7 76l3.4-2.6-2.3-3-3.4 2.6z"/>
<path color="#009a70" d="M85.3 86.1l3.3-4.8-2.3-3.2-3.2 4.8z"/>
<path color="#008c12" d="M118.8 79.5l3.5-3.5-2.3-3.1-3.4 3.5z"/>
<path color="#009aab" d="M74.4 90.1l3.2-5.3-2.2-3-3.2 5.2z"/>
<path color="#009e8f" d="M79.8 88l3.3-5.1-2.3-3.1-3.2 5z"/>
<path color="#009453" d="M90.8 84.5l3.3-4.7-2.2-3.2-3.3 4.7z"/>
<path color="#00902c" d="M96.4 83.1l3.3-4.5-2.2-3.2-3.4 4.4z"/>
<path color="#008e19" d="M102 81.9l3.3-4.2-2.2-3.3-3.4 4.2z"/>
<path color="#008d16" d="M107.6 80.9l3.3-4-2.2-3.2-3.4 4z"/>
<path color="#008d14" d="M113.2 80.1l3.4-3.7-2.3-3.2-3.4 3.7z"/>
<path color="#008a10" d="M124.5 79.1l3.5-3.2-2.3-3.1-3.4 3.2z"/>
<path color="#008910" d="M130.2 78.9l3.5-2.9-2.3-3-3.4 2.9z"/>
<path color="#007dac" d="M76.6 93.3l3.2-5.3-2.2-3.2-3.2 5.3z"/>
<path color="#009fa8" d="M82 91.2l3.3-5.1-2.2-3.2-3.3 5.1z"/>
<path color="#009b72" d="M93.1 87.8l3.3-4.7-2.3-3.3-3.3 4.7z"/>
<path color="#008e1f" d="M109.8 84.1l3.4-4-2.3-3.2-3.3 4z"/>
<path color="#008b17" d="M121.1 82.6l3.4-3.5-2.2-3.1-3.5 3.5z"/>
<path color="#008a15" d="M126.8 82.2l3.4-3.3-2.2-3-3.5 3.2z"/>
<path color="#009f8d" d="M87.5 89.4l3.3-4.9-2.2-3.2-3.3 4.8z"/>
<path color="#00955a" d="M98.6 86.4l3.4-4.5-2.3-3.3-3.3 4.5z"/>
<path color="#00913b" d="M104.2 85.2l3.4-4.3-2.3-3.2-3.3 4.2z"/>
<path color="#008c19" d="M115.4 83.3l3.4-3.8-2.2-3.1-3.4 3.7z"/>
<path color="#005aad" d="M78.8 96.6l3.2-5.4-2.2-3.2-3.2 5.3z"/>
<path color="#008c23" d="M123.3 85.7l3.5-3.5-2.3-3.1-3.4 3.5z"/>
<path color="#0084ad" d="M84.3 94.6l3.2-5.2-2.2-3.3-3.3 5.1z"/>
<path color="#00a0a7" d="M89.8 92.8l3.3-5-2.3-3.3-3.3 4.9z"/>
<path color="#00a08f" d="M95.3 91.2l3.3-4.8-2.2-3.3-3.3 4.7z"/>
<path color="#009c78" d="M100.8 89.7l3.4-4.5-2.2-3.3-3.4 4.5z"/>
<path color="#009763" d="M106.4 88.5l3.4-4.4-2.2-3.2-3.4 4.3z"/>
<path color="#00934e" d="M112 87.4l3.4-4.1-2.2-3.2-3.4 4z"/>
<path color="#008f36" d="M117.7 86.4l3.4-3.8-2.3-3.1-3.4 3.8z"/>
<path color="#0032ad" d="M81 100l3.3-5.4-2.3-3.4-3.2 5.4z"/>
<path color="#0060ae" d="M86.5 98l3.3-5.2-2.3-3.4-3.2 5.2z"/>
<path color="#0085ae" d="M92 96.2l3.3-5-2.2-3.4-3.3 5z"/>
<path color="#00a0aa" d="M97.5 94.5l3.3-4.8-2.2-3.3-3.3 4.8z"/>
<path color="#009f95" d="M103.1 93l3.3-4.5-2.2-3.3-3.4 4.5z"/>
<path color="#009d80" d="M108.7 91.7l3.3-4.3-2.2-3.3-3.4 4.4z"/>
<path color="#00986d" d="M114.3 90.5l3.4-4.1-2.3-3.1-3.4 4.1z"/>
<path color="#00945d" d="M119.9 89.5l3.4-3.8-2.2-3.1-3.4 3.8z"/>
<path color="#0014ab" d="M83.2 103.4l3.3-5.4-2.2-3.4-3.3 5.4z"/>
<path color="#0036ae" d="M88.7 101.4l3.3-5.2-2.2-3.4-3.3 5.2z"/>
<path color="#0081ad" d="M99.7 97.9l3.4-4.9-2.3-3.3-3.3 4.8z"/>
<path color="#009e9a" d="M110.9 94.9l3.4-4.4-2.3-3.1-3.3 4.3z"/>
<path color="#009d88" d="M116.5 93.7l3.4-4.2-2.2-3.1-3.4 4.1z"/>
<path color="#0060ae" d="M94.2 99.6l3.3-5.1-2.2-3.3-3.3 5z"/>
<path color="#009dad" d="M105.3 96.3l3.4-4.6-2.3-3.2-3.3 4.5z"/>
<path color="#0002a5" d="M85.4 106.9l3.3-5.5-2.2-3.4-3.3 5.4z"/>
<path color="#0015ac" d="M90.9 104.9l3.3-5.3-2.2-3.4-3.3 5.2z"/>
<path color="#0036ae" d="M96.4 103l3.3-5.1-2.2-3.4-3.3 5.1z"/>
<path color="#005cad" d="M101.9 101.2l3.4-4.9-2.2-3.3-3.4 4.9z"/>
<path color="#007bad" d="M107.5 99.6l3.4-4.7-2.2-3.2-3.4 4.6z"/>
<path color="#0096ac" d="M113.1 98.1l3.4-4.4-2.2-3.2-3.4 4.4z"/>
<path color="#0003a5" d="M93.1 108.4l3.3-5.4-2.2-3.4-3.3 5.3z"/>
<path color="#0034ad" d="M104.1 104.5l3.4-4.9-2.2-3.3-3.4 4.9z"/>
<path color="#00008e" d="M87.6 110.5l3.3-5.6-2.2-3.5-3.3 5.5z"/>
<path color="#0015ab" d="M98.6 106.4l3.3-5.2-2.2-3.3-3.3 5.1z"/>
<path color="#0058ac" d="M109.7 102.8l3.4-4.7-2.2-3.2-3.4 4.7z"/>
<path color="#000087" d="M89.8 114l3.3-5.6-2.2-3.5-3.3 5.6z"/>
<path color="#00008f" d="M95.3 111.8l3.3-5.4-2.2-3.4-3.3 5.4z"/>
<path color="#0004a5" d="M100.8 109.8l3.3-5.3-2.2-3.3-3.3 5.2z"/>
<path color="#0016ab" d="M106.3 107.8l3.4-5-2.2-3.2-3.4 4.9z"/>
<path color="#000087" d="M97.4 115.2l3.4-5.4-2.2-3.4-3.3 5.4z"/>
<path color="#000081" d="M92 117.5l3.3-5.7-2.2-3.4-3.3 5.6z"/>
<path color="#000091" d="M103 113l3.3-5.2-2.2-3.3-3.3 5.3z"/>
<path color="#00007b" d="M94.1 121l3.3-5.8-2.1-3.4-3.3 5.7z"/>
<path color="#000082" d="M99.6 118.6l3.4-5.6-2.2-3.2-3.4 5.4z"/>
<path color="#000076" d="M96.3 124.4l3.3-5.8-2.2-3.4-3.3 5.8z"/>
</g>
<path d="M35 73.5L36 71.8L37 70.1L38 68.9L39 67.3L40 65.7L41 64.2L42 63L43 61.6L44 60.1L45 58.7L46 57.4L47 56L48 55L49 53.7L50 52.7L51 51.5L52 50.3L53 49.4L54 48.3L55 47.3L56 46.3L57 45.4L58 44.4L59 43.5L60 42.7L61 41.8L62 41L63 40.1L64 39.3L65 38.6L66 37.8L67 37.1L68 36.4L69 35.6L70 35L71 34.4L72 33.7L73 33L74 32.5L75 31.9L76 31.3L77 30.7L78 30.2L79 29.8L80 29.3L81 28.8L82 28.3L83 27.9L84 27.5L85 27.1L86 26.7L87 26.3L88 25.9L89 25.6L90 25.3L91 25L92 24.7L93 24.4L94 24.1L95 23.9L96 23.7L97 23.5L98 23.3L99 23.1L100 22.9L101 22.8L102 22.6L103 22.5L104 22.4L105 22.3L106 22.2L107 22.1L108 22.1L109 22.1L110 22L111 22L112 22L113 22.1L114 22.1L115 22.1L116 22.2L117 22.2L118 22.3L119 22.4L120 22.5L121 22.7L122 22.8L123 23L124 23.1L125 23.3L126 23.5L127 23.7L128 24L129 24.2L130 24.4L131 24.7L132 25L133 25.3L134 25.6L135 25.9L136 26.3L137 26.6L138 27L139 27.4L140 27.8L141 28.2L142 28.7L143 29.1L144 29.6L145 30L146 30.5L147 31.1L148 31.6L149 32.1L150 32.7L151 33.3L152 33.8L153 34.4L154 35.1L155 35.7L156 36.4L157 37L158 37.7L159 38.4L160 39.1L161 39.9L162 40.6L163 41.5L164 42.3L165 43.1L166 44L167 44.9L168 45.7L169 46.9L170 47.8L171 49.2L172 50.1L173 51.1L174 52.5L175 53.6L176 55.2L177 56.2L178 57.3L179 59L180 60.2L181 62L182 63.2L183 65L184 66.3L185 68.2L186 69.5L187 71.5L188 72.8L189 74.8L190 76.1L191 78.2" fill="none" stroke="#000" stroke-opacity=".75" stroke-width=".9" stroke-linejoin="round"/>
<path d="M96.3 124.4L99.6 118.6L103 113L106.3 107.8L109.7 102.8L113.1 98.1L116.5 93.7L119.9 89.5L123.3 85.7L126.8 82.2L130.2 78.9L133.7 76L137.1 73.4L140.6 71.1L144 69.2L147.4 67.6L150.9 66.3L154.3 65.3L157.7 64.7L161.1 64.4L164.5 64.5L167.9 64.9L171.2 65.6L174.6 66.8L177.9 68.3L181.2 70.1L184.4 72.3L187.6 74.9L190.8 77.9" fill="none" stroke="#000" stroke-opacity=".45" stroke-width=".5"/>
<path d="M96.3 124.4L94.1 121L92 117.5L89.8 114L87.6 110.5L85.4 106.9L83.2 103.4L81 100L78.8 96.6L76.6 93.3L74.4 90.1L72.2 87L69.9 84.1L67.7 81.3L65.5 78.8L63.3 76.4L61.1 74.3L58.9 72.5L56.7 70.9L54.5 69.5L52.3 68.5L50.1 67.8L47.9 67.4L45.8 67.4L43.7 67.8L41.6 68.5L39.5 69.7L37.5 71.2L35.4 73.2" fill="none" stroke="#000" stroke-opacity=".45" stroke-width=".5"/>
<text x="4.4" y="11.6" font-size="9.4" textLength="10.4" lengthAdjust="spacingAndGlyphs" class="pl">(a)</text>
<text x="31.3" y="19.2" class="tk" text-anchor="end">88</text>
<text x="31.7" y="28.8" class="tk" text-anchor="end">86</text>
<text x="32.2" y="38.4" class="tk" text-anchor="end">84</text>
<text x="32.6" y="48" class="tk" text-anchor="end">82</text>
<text x="33.1" y="57.6" class="tk" text-anchor="end">80</text>
<text x="33.5" y="67.2" class="tk" text-anchor="end">78</text>
<text x="34" y="76.8" class="tk" text-anchor="end">76</text>
<text x="34.4" y="86.4" class="tk" text-anchor="end">74</text>
<text x="34.9" y="96" class="tk" text-anchor="end">72</text>
<text x="102.3" y="164.9" class="tk" text-anchor="middle">30.00</text>
<text x="125.2" y="157.2" class="tk" text-anchor="middle">40.00</text>
<text x="148.1" y="149.5" class="tk" text-anchor="middle">50.00</text>
<text x="170.9" y="141.8" class="tk" text-anchor="middle">60.00</text>
<text x="193.8" y="134.1" class="tk" text-anchor="middle">70.00</text>
<text x="89.7" y="166.2" class="tk" text-anchor="middle">40.00</text>
<text x="75" y="155.8" class="tk" text-anchor="middle">50.00</text>
<text x="60.2" y="145.3" class="tk" text-anchor="middle">60.00</text>
<text x="45.5" y="134.9" class="tk" text-anchor="middle">70.00</text>
<text x="30.8" y="124.4" class="tk" text-anchor="middle">80.00</text>
<text transform="translate(11.3 108.7) rotate(-90)" y="0" class="ax" font-size="7.9" textLength="83" lengthAdjust="spacingAndGlyphs">ABTS radical-scavenging</text>
<text transform="translate(20.3 94.3) rotate(-90)" y="0" class="ax" font-size="7.9" textLength="53.9" lengthAdjust="spacingAndGlyphs">capacity (%)</text>
<text transform="translate(17.2 125.6) rotate(34.9)" y="1.8" class="ax" font-size="7.7" textLength="83.6" lengthAdjust="spacingAndGlyphs">Extraction temperature (<tspan font-size="5.6">℃</tspan>)</text>
<text transform="translate(111.7 171.2) rotate(-17.5)" y="1.8" class="ax" font-size="8.01" textLength="91.2" lengthAdjust="spacingAndGlyphs">Liquid to solid ratio (mL/g)</text></g>
<g><path d="M247.8 24.6L333 7L402.7 32M248.6 36.3L333 18.1L402 43.9M249.4 48.1L333 29.2L401.3 55.7M250.1 59.8L333 40.3L400.7 67.6M250.9 71.5L333 51.5L400 79.5M251.7 83.3L333 62.6L399.3 91.3M252.5 95L333 73.7L398.6 103.2M247.8 24.6L254.1 119.6M269.1 20.2L272.6 89.7M290.4 15.8L292.7 84.3M311.7 11.4L312.9 79M333 7L333 97M402.7 32L397.2 128.1M388.8 27L385.5 97.3M374.8 22L372.4 91.4M360.9 17L359.2 85.5M346.9 12L346.1 79.6" fill="none" stroke="#6a6a6a" stroke-width="0.55"/>
<polygon points="254.1,119.6 314.3,161.4 397.2,128.1 333,97" fill="#ffff00" stroke="#8a8a20" stroke-width="0.5"/>
<path d="M374.6 137.2L376 136.2L377.7 134.9L379 133.9L380.1 133L381.8 131.5L382.6 130.7L383.6 129.7L384.9 128.2L385.7 127.3L386.3 126.4L387 125.5L387.8 124.3M303.4 153.8L305.9 154.1L308.3 154.2L310.6 154.4L312.8 154.4L315.4 154.4L318.4 154.3L321.2 154.2L323.2 154.1L325.1 153.9L328.7 153.5L330.7 153.2L333 152.8L336 152.3L338 151.9M266.1 116.2L265.8 117.2L265.6 118.2L265.4 119.3L265.2 120.3L265.1 121.3L265 122.3L265 123.3L265 124.5L265.1 125.9L265.3 127.2" fill="none" stroke="#d8e000" stroke-width="0.5"/>
<path d="M277.7 112.8L277.2 113.9L276.8 115L276.4 116L276.2 117.1L275.9 118.1L275.8 119.1L275.7 120.1L275.6 121.3L275.6 122.6L275.7 124L275.9 124.9L276.1 125.9L276.4 127L276.9 128.6L277.3 129.5L277.9 130.7L278.7 132.1L279.3 133L280.5 134.5L281.9 136.1L282.7 136.9L284.4 138.3L286.4 139.8L288.5 141.1L290.8 142.4L292.1 143L294.8 144.1L296.3 144.6L299.4 145.6L301.1 146L303.2 146.5L306.1 147L308.8 147.4L311 147.6L313.4 147.8L315.9 147.9L318.2 147.9L320.3 147.9L322.4 147.8L324.6 147.7L328.1 147.4L330.2 147.1L332.1 146.9L335.5 146.3L337.2 146L340.6 145.3L343.1 144.6L345.3 144L348.4 143.1L351.3 142.1L354.1 141.1L356.8 140L359.4 138.8L361.8 137.5L363.6 136.6L365.4 135.6L367.6 134.2L368.6 133.5L370.6 132L371.6 131.3L373.2 129.9L374.3 128.9L375.1 128.1L376.3 126.8L377.3 125.6L378 124.7L378.6 123.8L379.1 122.9L379.7 121.8L380.2 120.7" fill="none" stroke="#d6dc00" stroke-width="0.5"/>
<path d="M291.8 108.8L290.7 110L290.1 110.9L289.5 111.7L289 112.6L288.5 113.5L288 114.5L287.6 115.6L287.3 116.6L287.1 117.6L287 118.6L286.9 119.8L286.9 121.1L287 122.4L287.2 123.4L287.5 124.3L287.9 125.5L288.5 126.9L289 127.7L290.1 129.3L290.7 130.1L292.1 131.7L293.8 133.1L295.7 134.5L297.8 135.8L300.2 137L302.9 138.1L304.4 138.6L307.4 139.4L309.3 139.9L311.2 140.2L313.3 140.6L315.9 140.9L318.3 141L320.6 141.1L322.8 141.1L325.8 141L328.8 140.8L330.7 140.6L333.2 140.3L336 139.8L338.4 139.3L341 138.7L344 137.9L347 137L349.8 135.9L352.4 134.8L354.9 133.7L357.3 132.4L358.8 131.6L360.6 130.4L362.2 129.3L363.6 128.3L364.5 127.5L366.2 125.9L366.9 125.1L367.6 124.3L368.5 123.2L369.3 122L369.9 120.8L370.4 119.7L370.7 118.7L371 117.7L371.2 116.7L371.2 115.8" fill="none" stroke="#e6d200" stroke-width="0.5"/>
<path d="M346.2 103.4L344.2 102.9L342.1 102.4L339 101.9L336.9 101.7L334.7 101.5L332.2 101.4L329.4 101.4L327.4 101.5L325.5 101.6L322.1 101.9L320.5 102.2L317.5 102.8L314.8 103.5L312.2 104.3L309.9 105.2L308.8 105.7L306.7 106.8L305.5 107.5L304 108.6L303.1 109.3L301.9 110.4L300.9 111.5L300.3 112.3L299.7 113.1L299.2 114L298.7 115L298.4 116.1L298.1 117.1L298 118.1L297.9 119.2L298 120.5L298.3 121.8L298.6 122.7L299 123.6L299.9 125.1L300.5 125.9L301.8 127.4L303.5 128.8L305.5 130.2L307.8 131.4L310.4 132.4L311.9 132.9L315.2 133.7L317.1 134.1L319.2 134.4L321.4 134.6L323.9 134.7L326.7 134.6L329.4 134.5L331.3 134.3L334.2 133.9L336.5 133.5L339.7 132.7L341.2 132.3L344.1 131.4L346.7 130.4L348.1 129.8L350.4 128.6L352.6 127.3L353.6 126.7L355.5 125.2L356.4 124.5L357.4 123.5L358.6 122.1L359.3 121.2L359.8 120.3L360.3 119.3L360.7 118.3L360.9 117.3L361 116.2L361 115L360.8 114L360.5 113.2L360.2 112.4L359.3 111L358.8 110.3L357.5 109" fill="none" stroke="#eab400" stroke-width="0.5"/>
<path d="M335.2 127.7L336.8 127.3L339.7 126.4L342.3 125.4L343.9 124.6L345.6 123.5L347 122.5L348.3 121.4L349 120.6L349.7 119.7L350.3 118.6L350.6 117.6L350.8 116.6L350.8 115.6L350.4 114.3L349.9 113.3L349.4 112.5L348.1 111.2L346.7 110.1L345.4 109.4L343.6 108.6L341.8 107.9L338.8 107.2L337 106.8L335 106.6L332.8 106.4L330 106.4L326.8 106.6L325.1 106.8L322 107.3L319.3 108.1L316.9 109L314.7 110.1L313.7 110.7L312.2 111.8L311.2 112.7L310.6 113.5L309.9 114.4L309.4 115.5L309 116.5L308.8 117.5L308.8 118.5L309 119.8L309.5 121.1L309.9 121.9L311.1 123.4L311.9 124.1L313.8 125.4L316.1 126.6L317.5 127.1L320.5 127.9L322.6 128.2L324.8 128.4L327.3 128.5L330 128.4L331.9 128.2L335.2 127.7" fill="none" stroke="#f09a00" stroke-width="0.5"/>
<circle cx="281.2" cy="115.2" r="1.4" fill="#8b2000"/>
<circle cx="358.6" cy="120.5" r="1.4" fill="#8b2000"/>
<path d="M314.3 161.4l0.6 1.2M335 153.1l0.6 1.2M355.8 144.8l0.6 1.2M376.5 136.4l0.6 1.2M397.2 128.1l0.6 1.2M314.3 161.4l-0.6 1.2M302.3 153l-0.6 1.2M290.2 144.7l-0.6 1.2M278.2 136.3l-0.6 1.2M266.1 128l-0.6 1.2M254.1 119.6l-0.6 1.2" stroke="#333" stroke-width="0.6" fill="none"/>
<g class="q">
<path color="#241a00" d="M332.4 27.4l3 .8-2.4 .8-3-.8z"/>
<path color="#241700" d="M329.4 26.8l3 .6-2.4 .8-3-.6z"/>
<path color="#241700" d="M334.9 26.8l3 .9-2.5 .5-3-.8z"/>
<path color="#241600" d="M326.4 26.4l3 .4-2.4 .8-3-.3z"/>
<path color="#241500" d="M337.3 26.5l3.1 .9-2.5 .3-3-.9z"/>
<path color="#241500" d="M331.9 26.2l3 .6-2.5 .6-3-.6z"/>
<path color="#241400" d="M323.4 26.3l3 .1-2.4 .9-3-.1z"/>
<path color="#241300" d="M328.9 25.8l3 .4-2.5 .6-3-.4z"/>
<path color="#241200" d="M334.3 25.8l3 .7-2.4 .3-3-.6z"/>
<path color="#241300" d="M339.8 26.3l3 1-2.4 .1-3.1-.9z"/>
<path color="#241000" d="M331.3 25.3l3 .5-2.4 .4-3-.4z"/>
<path color="#241300" d="M320.4 26.4l3-.1-2.4 .9-3 .1z"/>
<path color="#241100" d="M325.8 25.6l3.1 .2-2.5 .6-3-.1z"/>
<path color="#241000" d="M336.8 25.6l3 .7-2.5 .2-3-.7z"/>
<path color="#241100" d="M342.3 26.4l3 1-2.5-.1-3-1z"/>
<path color="#241200" d="M317.4 26.7l3-.3-2.4 .9-3 .4z"/>
<path color="#240e00" d="M328.3 25.1l3 .2-2.4 .5-3.1-.2z"/>
<path color="#240d00" d="M333.7 25.1l3.1 .5-2.5 .2-3-.5z"/>
<path color="#241000" d="M344.7 26.7l3 1-2.4-.3-3-1z"/>
<path color="#241000" d="M322.8 25.7l3-.1-2.4 .7-3 .1z"/>
<path color="#240e00" d="M339.2 25.6l3.1 .8-2.5-.1-3-.7z"/>
<path color="#241200" d="M314.4 27.3l3-.6-2.4 1-3 .6z"/>
<path color="#240f00" d="M319.8 26l3-.3-2.4 .7-3 .3z"/>
<path color="#240c00" d="M325.2 25.2l3.1-.1-2.5 .5-3 .1z"/>
<path color="#240a00" d="M330.7 24.9l3 .2-2.4 .2-3-.2z"/>
<path color="#240a00" d="M336.2 25.1l3 .5-2.4 0-3.1-.5z"/>
<path color="#240c00" d="M341.7 25.9l3 .8-2.4-.3-3.1-.8z"/>
<path color="#240f00" d="M347.2 27.2l3 1.1-2.5-.6-3-1z"/>
<path color="#241200" d="M311.4 28l3-.7-2.4 1-3 .8z"/>
<path color="#240a00" d="M322.2 25.4l3-.2-2.4 .5-3 .3z"/>
<path color="#240800" d="M338.6 25.4l3.1 .5-2.5-.3-3-.5z"/>
<path color="#240e00" d="M349.6 28l3.1 1.1-2.5-.8-3-1.1z"/>
<path color="#240e00" d="M316.8 26.5l3-.5-2.4 .7-3 .6z"/>
<path color="#240800" d="M327.7 24.9l3 0-2.4 .2-3.1 .1z"/>
<path color="#240700" d="M333.1 24.9l3.1 .2-2.5 0-3-.2z"/>
<path color="#240a00" d="M344.1 26.4l3.1 .8-2.5-.5-3-.8z"/>
<path color="#241200" d="M308.4 29l3-1-2.4 1.1-3 1z"/>
<path color="#240e00" d="M313.7 27.2l3.1-.7-2.4 .8-3 .7z"/>
<path color="#240a00" d="M319.2 25.9l3-.5-2.4 .6-3 .5z"/>
<path color="#240700" d="M324.6 25.1l3.1-.2-2.5 .3-3 .2z"/>
<path color="#230600" d="M335.6 25l3 .4-2.4-.3-3.1-.2z"/>
<path color="#240700" d="M341.1 25.8l3 .6-2.4-.5-3.1-.5z"/>
<path color="#240900" d="M346.6 27.1l3 .9-2.4-.8-3.1-.8z"/>
<path color="#240e00" d="M352.1 28.9l3 1.2-2.4-1-3.1-1.1z"/>
<path color="#230600" d="M330.1 24.8l3 .1-2.4 0-3 0z"/>
<path color="#241300" d="M305.4 30.2l3-1.2-2.4 1.1-3 1.2z"/>
<path color="#240900" d="M316.1 26.6l3.1-.7-2.4 .6-3.1 .7z"/>
<path color="#230600" d="M343.5 26.5l3.1 .6-2.5-.7-3-.6z"/>
<path color="#240e00" d="M354.5 30.1l3.1 1.2-2.5-1.2-3-1.2z"/>
<path color="#240e00" d="M310.7 28.1l3-.9-2.3 .8-3 1z"/>
<path color="#230600" d="M321.6 25.5l3-.4-2.4 .3-3 .5z"/>
<path color="#230500" d="M327.1 25l3-.2-2.4 .1-3.1 .2z"/>
<path color="#230500" d="M332.5 25l3.1 0-2.5-.1-3-.1z"/>
<path color="#230500" d="M338 25.4l3.1 .4-2.5-.4-3-.4z"/>
<path color="#240900" d="M349.1 28l3 .9-2.5-.9-3-.9z"/>
<path color="#241400" d="M302.4 31.5l3-1.3-2.4 1.1-3 1.4z"/>
<path color="#240f00" d="M307.7 29.3l3-1.2-2.3 .9-3 1.2z"/>
<path color="#240a00" d="M313.1 27.5l3-.9-2.4 .6-3 .9z"/>
<path color="#230600" d="M318.5 26.2l3.1-.7-2.4 .4-3.1 .7z"/>
<path color="#230400" d="M329.5 25.1l3-.1-2.4-.2-3 .2z"/>
<path color="#230500" d="M340.5 26.1l3 .4-2.4-.7-3.1-.4z"/>
<path color="#230600" d="M346 27.4l3.1 .6-2.5-.9-3.1-.6z"/>
<path color="#240900" d="M351.5 29.2l3 .9-2.4-1.2-3-.9z"/>
<path color="#240f00" d="M357 31.5l3 1.2-2.4-1.4-3.1-1.2z"/>
<path color="#230500" d="M324 25.4l3.1-.4-2.5 .1-3 .4z"/>
<path color="#230400" d="M335 25.3l3 .1-2.4-.4-3.1 0z"/>
<path color="#240b00" d="M310.1 28.6l3-1.1-2.4 .6-3 1.2z"/>
<path color="#230600" d="M348.4 28.5l3.1 .7-2.4-1.2-3.1-.6z"/>
<path color="#241500" d="M299.4 33.1l3-1.6-2.4 1.2-2.9 1.6z"/>
<path color="#241000" d="M304.7 30.6l3-1.3-2.3 .9-3 1.3z"/>
<path color="#230600" d="M315.5 27.1l3-.9-2.4 .4-3 .9z"/>
<path color="#230500" d="M321 26l3-.6-2.4 .1-3.1 .7z"/>
<path color="#220400" d="M326.4 25.5l3.1-.4-2.4-.1-3.1 .4z"/>
<path color="#210100" d="M331.9 25.4l3.1-.1-2.5-.3-3 .1z"/>
<path color="#220300" d="M337.4 25.9l3.1 .2-2.5-.7-3-.1z"/>
<path color="#230500" d="M342.9 26.9l3.1 .5-2.5-.9-3-.4z"/>
<path color="#240a00" d="M353.9 30.5l3.1 1-2.5-1.4-3-.9z"/>
<path color="#241000" d="M359.4 33.2l3 1.2-2.4-1.7-3-1.2z"/>
<path color="#241700" d="M296.4 34.9l3-1.8-2.3 1.2-3 1.8z"/>
<path color="#240c00" d="M307.1 29.9l3-1.3-2.4 .7-3 1.3z"/>
<path color="#240700" d="M312.5 28.1l3-1-2.4 .4-3 1.1z"/>
<path color="#210100" d="M323.4 26.1l3-.6-2.4-.1-3 .6z"/>
<path color="#210100" d="M334.4 26l3-.1-2.4-.6-3.1 .1z"/>
<path color="#230500" d="M345.4 28l3 .5-2.4-1.1-3.1-.5z"/>
<path color="#240700" d="M350.9 29.8l3 .7-2.4-1.3-3.1-.7z"/>
<path color="#241200" d="M361.9 35l3 1.3-2.5-1.9-3-1.2z"/>
<path color="#241200" d="M301.7 32.2l3-1.6-2.3 .9-3 1.6z"/>
<path color="#230500" d="M317.9 26.8l3.1-.8-2.5 .2-3 .9z"/>
<path color="#210100" d="M328.9 25.8l3-.4-2.4-.3-3.1 .4z"/>
<path color="#210100" d="M339.9 26.7l3 .2-2.4-.8-3.1-.2z"/>
<path color="#240c00" d="M356.4 32.2l3 1-2.4-1.7-3.1-1z"/>
<path color="#241900" d="M293.4 36.8l3-1.9-2.3 1.2-2.9 2z"/>
<path color="#241300" d="M298.7 33.9l3-1.7-2.3 .9-3 1.8z"/>
<path color="#240e00" d="M304.1 31.4l3-1.5-2.4 .7-3 1.6z"/>
<path color="#240800" d="M309.4 29.4l3.1-1.3-2.4 .5-3 1.3z"/>
<path color="#230500" d="M314.9 27.9l3-1.1-2.4 .3-3 1z"/>
<path color="#210100" d="M320.3 26.9l3.1-.8-2.4-.1-3.1 .8z"/>
<path color="#210100" d="M325.8 26.3l3.1-.5-2.5-.3-3 .6z"/>
<path color="#200100" d="M331.3 26.3l3.1-.3-2.5-.6-3 .4z"/>
<path color="#210100" d="M336.8 26.8l3.1-.1-2.5-.8-3 .1z"/>
<path color="#210100" d="M342.3 27.8l3.1 .2-2.5-1.1-3-.2z"/>
<path color="#230500" d="M347.8 29.3l3.1 .5-2.5-1.3-3-.5z"/>
<path color="#240700" d="M353.3 31.4l3.1 .8-2.5-1.7-3-.7z"/>
<path color="#240e00" d="M358.8 34l3.1 1-2.5-1.8-3-1z"/>
<path color="#241400" d="M364.3 37.2l3 1.3-2.4-2.2-3-1.3z"/>
<path color="#241b00" d="M290.5 39l2.9-2.2-2.2 1.3-3 2.2z"/>
<path color="#241000" d="M301.1 33.1l3-1.7-2.4 .8-3 1.7z"/>
<path color="#220200" d="M317.3 27.9l3-1-2.4-.1-3 1.1z"/>
<path color="#200100" d="M328.2 26.8l3.1-.5-2.4-.5-3.1 .5z"/>
<path color="#210100" d="M339.2 27.8l3.1 0-2.4-1.1-3.1 .1z"/>
<path color="#240900" d="M355.8 33.2l3 .8-2.4-1.8-3.1-.8z"/>
<path color="#241600" d="M366.7 39.5l3 1.4-2.4-2.4-3-1.3z"/>
<path color="#241500" d="M295.7 35.8l3-1.9-2.3 1-3 1.9z"/>
<path color="#240900" d="M306.4 30.9l3-1.5-2.3 .5-3 1.5z"/>
<path color="#230600" d="M311.8 29.1l3.1-1.2-2.4 .2-3.1 1.3z"/>
<path color="#210100" d="M322.7 27.1l3.1-.8-2.4-.2-3.1 .8z"/>
<path color="#200100" d="M333.7 27l3.1-.2-2.4-.8-3.1 .3z"/>
<path color="#220100" d="M344.8 29l3 .3-2.4-1.3-3.1-.2z"/>
<path color="#230500" d="M350.3 30.8l3 .6-2.4-1.6-3.1-.5z"/>
<path color="#241000" d="M361.2 36.1l3.1 1.1-2.4-2.2-3.1-1z"/>
<path color="#231d00" d="M287.6 41.3l2.9-2.3-2.3 1.3-2.9 2.3z"/>
<path color="#241700" d="M292.8 37.9l2.9-2.1-2.3 1-2.9 2.2z"/>
<path color="#241200" d="M298.1 35l3-1.9-2.4 .8-3 1.9z"/>
<path color="#240c00" d="M303.4 32.6l3-1.7-2.3 .5-3 1.7z"/>
<path color="#230400" d="M314.2 29.1l3.1-1.2-2.4 0-3.1 1.2z"/>
<path color="#210100" d="M319.7 28.1l3-1-2.4-.2-3 1z"/>
<path color="#200100" d="M325.1 27.5l3.1-.7-2.4-.5-3.1 .8z"/>
<path color="#200100" d="M330.6 27.5l3.1-.5-2.4-.7-3.1 .5z"/>
<path color="#200100" d="M336.2 28l3-.2-2.4-1-3.1 .2z"/>
<path color="#210100" d="M341.7 29l3.1 0-2.5-1.2-3.1 0z"/>
<path color="#230600" d="M352.7 32.6l3.1 .6-2.5-1.8-3-.6z"/>
<path color="#240c00" d="M358.2 35.2l3 .9-2.4-2.1-3-.8z"/>
<path color="#241200" d="M363.6 38.4l3.1 1.1-2.4-2.3-3.1-1.1z"/>
<path color="#241800" d="M369.1 42.1l3 1.4-2.4-2.6-3-1.4z"/>
<path color="#230600" d="M308.8 30.6l3-1.5-2.4 .3-3 1.5z"/>
<path color="#230400" d="M347.2 30.5l3.1 .3-2.5-1.5-3-.3z"/>
<path color="#241400" d="M295.1 37.1l3-2.1-2.4 .8-2.9 2.1z"/>
<path color="#200100" d="M322.1 28.5l3-1-2.4-.4-3 1z"/>
<path color="#200100" d="M333.1 28.5l3.1-.5-2.5-1-3.1 .5z"/>
<path color="#240f00" d="M360.6 37.5l3 .9-2.4-2.3-3-.9z"/>
<path color="#232000" d="M284.6 43.8l3-2.5-2.3 1.3-2.9 2.5z"/>
<path color="#241a00" d="M289.8 40.2l3-2.3-2.3 1.1-2.9 2.3z"/>
<path color="#240e00" d="M300.4 34.4l3-1.8-2.3 .5-3 1.9z"/>
<path color="#240800" d="M305.8 32.2l3-1.6-2.4 .3-3 1.7z"/>
<path color="#230500" d="M311.2 30.5l3-1.4-2.4 0-3 1.5z"/>
<path color="#210100" d="M316.6 29.2l3.1-1.1-2.4-.2-3.1 1.2z"/>
<path color="#200100" d="M327.6 28.2l3-.7-2.4-.7-3.1 .7z"/>
<path color="#200100" d="M338.6 29.2l3.1-.2-2.5-1.2-3 .2z"/>
<path color="#210100" d="M344.1 30.5l3.1 0-2.4-1.5-3.1 0z"/>
<path color="#230500" d="M349.6 32.3l3.1 .3-2.4-1.8-3.1-.3z"/>
<path color="#240800" d="M355.1 34.6l3.1 .6-2.4-2-3.1-.6z"/>
<path color="#241500" d="M366 40.9l3.1 1.2-2.4-2.6-3.1-1.1z"/>
<path color="#241b00" d="M371.5 44.9l3 1.5-2.4-2.9-3-1.4z"/>
<path color="#222200" d="M281.7 46.5l2.9-2.7-2.2 1.3-2.9 2.7z"/>
<path color="#231c00" d="M286.9 42.7l2.9-2.5-2.2 1.1-3 2.5z"/>
<path color="#241600" d="M292.1 39.3l3-2.2-2.3 .8-3 2.3z"/>
<path color="#241100" d="M297.4 36.5l3-2.1-2.3 .6-3 2.1z"/>
<path color="#230600" d="M308.1 32.1l3.1-1.6-2.4 .1-3 1.6z"/>
<path color="#200100" d="M319 29.6l3.1-1.1-2.4-.4-3.1 1.1z"/>
<path color="#200100" d="M324.5 29.1l3.1-.9-2.5-.7-3 1z"/>
<path color="#1f0100" d="M330 29.1l3.1-.6-2.5-1-3 .7z"/>
<path color="#200100" d="M335.5 29.6l3.1-.4-2.4-1.2-3.1 .5z"/>
<path color="#220100" d="M346.5 32.2l3.1 .1-2.4-1.8-3.1 0z"/>
<path color="#240b00" d="M357.5 36.8l3.1 .7-2.4-2.3-3.1-.6z"/>
<path color="#241100" d="M363 40l3 .9-2.4-2.5-3-.9z"/>
<path color="#241800" d="M368.4 43.7l3.1 1.2-2.4-2.8-3.1-1.2z"/>
<path color="#231e00" d="M373.8 48l3 1.5-2.3-3.1-3-1.5z"/>
<path color="#240a00" d="M302.7 34l3.1-1.8-2.4 .4-3 1.8z"/>
<path color="#220100" d="M313.5 30.6l3.1-1.4-2.4-.1-3 1.4z"/>
<path color="#200100" d="M341 30.6l3.1-.1-2.4-1.5-3.1 .2z"/>
<path color="#230600" d="M352 34.2l3.1 .4-2.4-2-3.1-.3z"/>
<path color="#202200" d="M278.8 49.3l2.9-2.8-2.2 1.3-2.9 2.9z"/>
<path color="#241900" d="M289.2 41.8l2.9-2.5-2.3 .9-2.9 2.5z"/>
<path color="#1f0100" d="M326.9 30l3.1-.9-2.4-.9-3.1 .9z"/>
<path color="#241400" d="M365.4 42.7l3 1-2.4-2.8-3-.9z"/>
<path color="#232100" d="M376.2 51.3l3 1.5-2.4-3.3-3-1.5z"/>
<path color="#231f00" d="M284 45.3l2.9-2.6-2.3 1.1-2.9 2.7z"/>
<path color="#241300" d="M294.4 38.7l3-2.2-2.3 .6-3 2.2z"/>
<path color="#240d00" d="M299.7 36.1l3-2.1-2.3 .4-3 2.1z"/>
<path color="#240700" d="M305.1 33.9l3-1.8-2.3 .1-3.1 1.8z"/>
<path color="#230400" d="M310.5 32.2l3-1.6-2.3-.1-3.1 1.6z"/>
<path color="#210100" d="M315.9 31l3.1-1.4-2.4-.4-3.1 1.4z"/>
<path color="#200100" d="M321.4 30.2l3.1-1.1-2.4-.6-3.1 1.1z"/>
<path color="#1f0100" d="M332.4 30.3l3.1-.7-2.4-1.1-3.1 .6z"/>
<path color="#200100" d="M337.9 31l3.1-.4-2.4-1.4-3.1 .4z"/>
<path color="#220100" d="M343.5 32.3l3-.1-2.4-1.7-3.1 .1z"/>
<path color="#260500" d="M349 34.1l3 .1-2.4-1.9-3.1-.1z"/>
<path color="#270800" d="M354.5 36.4l3 .4-2.4-2.2-3.1-.4z"/>
<path color="#250f00" d="M359.9 39.3l3.1 .7-2.4-2.5-3.1-.7z"/>
<path color="#241a00" d="M370.8 46.7l3 1.3-2.3-3.1-3.1-1.2z"/>
<path color="#1e2200" d="M276 52.3l2.8-3-2.2 1.4-2.8 3z"/>
<path color="#241c00" d="M286.2 44.4l3-2.6-2.3 .9-2.9 2.6z"/>
<path color="#240a00" d="M302.1 35.9l3-2-2.4 .1-3 2.1z"/>
<path color="#210100" d="M312.9 32.5l3-1.5-2.4-.4-3 1.6z"/>
<path color="#200100" d="M323.8 31.1l3.1-1.1-2.4-.9-3.1 1.1z"/>
<path color="#260100" d="M329.3 31.1l3.1-.8-2.4-1.2-3.1 .9z"/>
<path color="#430200" d="M340.4 32.6l3.1-.3-2.5-1.7-3.1 .4z"/>
<path color="#470c00" d="M351.4 36.3l3.1 .1-2.5-2.2-3-.1z"/>
<path color="#322100" d="M367.8 45.7l3 1-2.4-3-3-1z"/>
<path color="#242400" d="M378.5 54.8l3 1.6-2.3-3.6-3-1.5z"/>
<path color="#232200" d="M281.1 48.1l2.9-2.8-2.3 1.2-2.9 2.8z"/>
<path color="#241600" d="M291.4 41.1l3-2.4-2.3 .6-2.9 2.5z"/>
<path color="#241000" d="M296.7 38.2l3-2.1-2.3 .4-3 2.2z"/>
<path color="#230600" d="M307.5 34l3-1.8-2.4-.1-3 1.8z"/>
<path color="#200100" d="M318.3 31.6l3.1-1.4-2.4-.6-3.1 1.4z"/>
<path color="#2c0100" d="M334.8 31.6l3.1-.6-2.4-1.4-3.1 .7z"/>
<path color="#480300" d="M345.9 34.2l3.1-.1-2.5-1.9-3 .1z"/>
<path color="#431400" d="M356.9 38.9l3 .4-2.4-2.5-3-.4z"/>
<path color="#3c1d00" d="M362.3 42l3.1 .7-2.4-2.7-3.1-.7z"/>
<path color="#2d2500" d="M373.2 50l3 1.3-2.4-3.3-3-1.3z"/>
<path color="#182100" d="M273.1 55.4l2.9-3.1-2.2 1.4-2.9 3.2z"/>
<path color="#212200" d="M278.2 51.1l2.9-3-2.3 1.2-2.8 3z"/>
<path color="#231f00" d="M283.3 47.1l2.9-2.7-2.2 .9-2.9 2.8z"/>
<path color="#241900" d="M288.5 43.7l2.9-2.6-2.2 .7-3 2.6z"/>
<path color="#241300" d="M293.7 40.6l3-2.4-2.3 .5-3 2.4z"/>
<path color="#240d00" d="M299.1 38l3-2.1-2.4 .2-3 2.1z"/>
<path color="#240700" d="M304.4 35.9l3.1-1.9-2.4-.1-3 2z"/>
<path color="#230400" d="M309.8 34.2l3.1-1.7-2.4-.3-3 1.8z"/>
<path color="#220100" d="M315.3 33.1l3-1.5-2.4-.6-3 1.5z"/>
<path color="#2c0100" d="M320.7 32.4l3.1-1.3-2.4-.9-3.1 1.4z"/>
<path color="#440200" d="M326.2 32.1l3.1-1-2.4-1.1-3.1 1.1z"/>
<path color="#490200" d="M331.7 32.4l3.1-.8-2.4-1.3-3.1 .8z"/>
<path color="#4e0200" d="M337.3 33.2l3.1-.6-2.5-1.6-3.1 .6z"/>
<path color="#520300" d="M342.8 34.5l3.1-.3-2.4-1.9-3.1 .3z"/>
<path color="#550b00" d="M348.3 36.3l3.1 0-2.4-2.2-3.1 .1z"/>
<path color="#541200" d="M353.8 38.7l3.1 .2-2.4-2.5-3.1-.1z"/>
<path color="#4e2000" d="M359.3 41.5l3 .5-2.4-2.7-3-.4z"/>
<path color="#472900" d="M364.7 45l3.1 .7-2.4-3-3.1-.7z"/>
<path color="#402f00" d="M370.1 48.9l3.1 1.1-2.4-3.3-3-1z"/>
<path color="#393600" d="M375.5 53.5l3 1.3-2.3-3.5-3-1.3z"/>
<path color="#2d3100" d="M380.8 58.6l3 1.6-2.3-3.8-3-1.6z"/>
<path color="#101f00" d="M270.3 58.7l2.8-3.3-2.2 1.5-2.8 3.3z"/>
<path color="#232200" d="M280.4 50.1l2.9-3-2.2 1-2.9 3z"/>
<path color="#241b00" d="M285.6 46.4l2.9-2.7-2.3 .7-2.9 2.7z"/>
<path color="#241000" d="M296.1 40.4l3-2.4-2.4 .2-3 2.4z"/>
<path color="#230600" d="M306.8 36.2l3-2-2.3-.2-3.1 1.9z"/>
<path color="#480300" d="M317.7 33.8l3-1.4-2.4-.8-3 1.5z"/>
<path color="#570300" d="M334.2 34l3.1-.8-2.5-1.6-3.1 .8z"/>
<path color="#600b00" d="M345.2 36.6l3.1-.3-2.4-2.1-3.1 .3z"/>
<path color="#5d1e00" d="M356.2 41.3l3.1 .2-2.4-2.6-3.1-.2z"/>
<path color="#503500" d="M367.1 48.1l3 .8-2.3-3.2-3.1-.7z"/>
<path color="#4a3f00" d="M372.5 52.4l3 1.1-2.3-3.5-3.1-1.1z"/>
<path color="#293a00" d="M383.1 62.6l2.9 1.7-2.2-4.1-3-1.6z"/>
<path color="#1f2200" d="M275.3 54.2l2.9-3.1-2.2 1.2-2.9 3.1z"/>
<path color="#241600" d="M290.8 43.2l2.9-2.6-2.3 .5-2.9 2.6z"/>
<path color="#240a00" d="M301.4 38l3-2.1-2.3 0-3 2.1z"/>
<path color="#2e0300" d="M312.2 34.8l3.1-1.7-2.4-.6-3.1 1.7z"/>
<path color="#4d0200" d="M323.1 33.4l3.1-1.3-2.4-1-3.1 1.3z"/>
<path color="#520200" d="M328.6 33.4l3.1-1-2.4-1.3-3.1 1z"/>
<path color="#5b0300" d="M339.7 35l3.1-.5-2.4-1.9-3.1 .6z"/>
<path color="#601100" d="M350.7 38.7l3.1 0-2.4-2.4-3.1 0z"/>
<path color="#572c00" d="M361.6 44.4l3.1 .6-2.4-3-3-.5z"/>
<path color="#404200" d="M377.8 57.2l3 1.4-2.3-3.8-3-1.3z"/>
<path color="#091e00" d="M267.5 62.2l2.8-3.5-2.2 1.5-2.8 3.5z"/>
<path color="#182100" d="M272.4 57.4l2.9-3.2-2.2 1.2-2.8 3.3z"/>
<path color="#212200" d="M277.5 53.2l2.9-3.1-2.2 1-2.9 3.1z"/>
<path color="#231f00" d="M282.6 49.3l3-2.9-2.3 .7-2.9 3z"/>
<path color="#241300" d="M293.1 42.9l3-2.5-2.4 .2-2.9 2.6z"/>
<path color="#2d0900" d="M303.7 38.3l3.1-2.1-2.4-.3-3 2.1z"/>
<path color="#490a00" d="M309.2 36.7l3-1.9-2.4-.6-3 2z"/>
<path color="#510300" d="M314.6 35.5l3.1-1.7-2.4-.7-3.1 1.7z"/>
<path color="#560300" d="M320.1 34.8l3-1.4-2.4-1-3 1.4z"/>
<path color="#5e0300" d="M331.1 35l3.1-1-2.5-1.6-3.1 1z"/>
<path color="#630300" d="M336.6 35.8l3.1-.8-2.4-1.8-3.1 .8z"/>
<path color="#670400" d="M342.1 37.1l3.1-.5-2.4-2.1-3.1 .5z"/>
<path color="#6a1000" d="M347.6 38.9l3.1-.2-2.4-2.4-3.1 .3z"/>
<path color="#642c00" d="M358.6 44.2l3 .2-2.3-2.9-3.1-.2z"/>
<path color="#584300" d="M369.4 51.6l3.1 .8-2.4-3.5-3-.8z"/>
<path color="#524f00" d="M374.8 56.1l3 1.1-2.3-3.7-3-1.1z"/>
<path color="#434b00" d="M380.1 61.2l3 1.4-2.3-4-3-1.4z"/>
<path color="#1c3f00" d="M385.4 66.9l2.9 1.7-2.3-4.3-2.9-1.7z"/>
<path color="#241900" d="M287.8 45.9l3-2.7-2.3 .5-2.9 2.7z"/>
<path color="#240e00" d="M298.4 40.3l3-2.3-2.3 0-3 2.4z"/>
<path color="#5a0300" d="M325.5 34.7l3.1-1.3-2.4-1.3-3.1 1.3z"/>
<path color="#691a00" d="M353.1 41.3l3.1 0-2.4-2.6-3.1 0z"/>
<path color="#5e3800" d="M364 47.6l3.1 .5-2.4-3.1-3.1-.6z"/>
<path color="#1e2200" d="M274.6 56.4l2.9-3.2-2.2 1-2.9 3.2z"/>
<path color="#590b00" d="M311.5 37.4l3.1-1.9-2.4-.7-3 1.9z"/>
<path color="#6e0400" d="M339 37.8l3.1-.7-2.4-2.1-3.1 .8z"/>
<path color="#535700" d="M377.1 60.1l3 1.1-2.3-4-3-1.1z"/>
<path color="#071e00" d="M264.7 65.7l2.8-3.5-2.2 1.5-2.7 3.6z"/>
<path color="#101f00" d="M269.6 60.9l2.8-3.5-2.1 1.3-2.8 3.5z"/>
<path color="#232200" d="M279.7 52.3l2.9-3-2.2 .8-2.9 3.1z"/>
<path color="#231c00" d="M284.9 48.7l2.9-2.8-2.2 .5-3 2.9z"/>
<path color="#241600" d="M290.1 45.6l3-2.7-2.3 .3-3 2.7z"/>
<path color="#251200" d="M295.4 42.8l3-2.5-2.3 .1-3 2.5z"/>
<path color="#401400" d="M300.7 40.5l3-2.2-2.3-.3-3 2.3z"/>
<path color="#4f0e00" d="M306.1 38.7l3.1-2-2.4-.5-3.1 2.1z"/>
<path color="#5e0400" d="M317 36.5l3.1-1.7-2.4-1-3.1 1.7z"/>
<path color="#620300" d="M322.5 36.1l3-1.4-2.4-1.3-3 1.4z"/>
<path color="#650300" d="M328 36.1l3.1-1.1-2.5-1.6-3.1 1.3z"/>
<path color="#690400" d="M333.5 36.7l3.1-.9-2.4-1.8-3.1 1z"/>
<path color="#720f00" d="M344.5 39.4l3.1-.5-2.4-2.3-3.1 .5z"/>
<path color="#731600" d="M350 41.5l3.1-.2-2.4-2.6-3.1 .2z"/>
<path color="#6f2900" d="M355.5 44.1l3.1 .1-2.4-2.9-3.1 0z"/>
<path color="#6a3900" d="M360.9 47.3l3.1 .3-2.4-3.2-3-.2z"/>
<path color="#644600" d="M366.4 51l3 .6-2.3-3.5-3.1-.5z"/>
<path color="#5f5400" d="M371.8 55.2l3 .9-2.3-3.7-3.1-.8z"/>
<path color="#344f00" d="M382.4 65.5l3 1.4-2.3-4.3-3-1.4z"/>
<path color="#124400" d="M387.6 71.4l2.9 1.8-2.2-4.6-2.9-1.7z"/>
<path color="#051e00" d="M261.9 69.5l2.8-3.8-2.1 1.6-2.8 3.7z"/>
<path color="#091e00" d="M266.8 64.4l2.8-3.5-2.1 1.3-2.8 3.5z"/>
<path color="#182100" d="M271.8 59.8l2.8-3.4-2.2 1-2.8 3.5z"/>
<path color="#212200" d="M276.8 55.5l2.9-3.2-2.2 .9-2.9 3.2z"/>
<path color="#241a00" d="M287.2 48.4l2.9-2.8-2.3 .3-2.9 2.8z"/>
<path color="#2c1900" d="M292.4 45.5l3-2.7-2.3 .1-3 2.7z"/>
<path color="#431c00" d="M297.7 43l3-2.5-2.3-.2-3 2.5z"/>
<path color="#531500" d="M303.1 41l3-2.3-2.4-.4-3 2.2z"/>
<path color="#5f0f00" d="M308.5 39.4l3-2-2.3-.7-3.1 2z"/>
<path color="#660b00" d="M313.9 38.3l3.1-1.8-2.4-1-3.1 1.9z"/>
<path color="#6c0400" d="M324.9 37.5l3.1-1.4-2.5-1.4-3 1.4z"/>
<path color="#740400" d="M335.9 38.7l3.1-.9-2.4-2-3.1 .9z"/>
<path color="#790f00" d="M341.4 40l3.1-.6-2.4-2.3-3.1 .7z"/>
<path color="#7a1600" d="M346.9 41.9l3.1-.4-2.4-2.6-3.1 .5z"/>
<path color="#782500" d="M352.4 44.3l3.1-.2-2.4-2.8-3.1 .2z"/>
<path color="#743800" d="M357.9 47.2l3 .1-2.3-3.1-3.1-.1z"/>
<path color="#6f4700" d="M363.3 50.6l3.1 .4-2.4-3.4-3.1-.3z"/>
<path color="#636200" d="M374.1 59.2l3 .9-2.3-4-3-.9z"/>
<path color="#4e5d00" d="M379.4 64.3l3 1.2-2.3-4.3-3-1.1z"/>
<path color="#1e5000" d="M384.6 69.9l3 1.5-2.2-4.5-3-1.4z"/>
<path color="#0e4a00" d="M389.8 76.2l2.9 1.8-2.2-4.8-2.9-1.8z"/>
<path color="#231f00" d="M282 51.8l2.9-3.1-2.3 .6-2.9 3z"/>
<path color="#690400" d="M319.4 37.7l3.1-1.6-2.4-1.3-3.1 1.7z"/>
<path color="#6f0400" d="M330.4 37.9l3.1-1.2-2.4-1.7-3.1 1.1z"/>
<path color="#6a5500" d="M368.7 54.6l3.1 .6-2.4-3.6-3-.6z"/>
<path color="#101f00" d="M268.9 63.3l2.9-3.5-2.2 1.1-2.8 3.5z"/>
<path color="#472400" d="M294.7 45.6l3-2.6-2.3-.2-3 2.7z"/>
<path color="#631400" d="M305.4 41.6l3.1-2.2-2.4-.7-3 2.3z"/>
<path color="#801500" d="M343.8 42.5l3.1-.6-2.4-2.5-3.1 .6z"/>
<path color="#7c3600" d="M354.8 47.3l3.1-.1-2.4-3.1-3.1 .2z"/>
<path color="#365e00" d="M381.6 68.7l3 1.2-2.2-4.4-3-1.2z"/>
<path color="#031e00" d="M259.1 73.3l2.8-3.8-2.1 1.5-2.7 3.9z"/>
<path color="#071e00" d="M264 68.1l2.8-3.7-2.1 1.3-2.8 3.8z"/>
<path color="#1e2200" d="M274 58.9l2.8-3.4-2.2 .9-2.8 3.4z"/>
<path color="#222200" d="M279.1 54.9l2.9-3.1-2.3 .5-2.9 3.2z"/>
<path color="#231c00" d="M284.2 51.4l3-3-2.3 .3-2.9 3.1z"/>
<path color="#322100" d="M289.4 48.3l3-2.8-2.3 .1-2.9 2.8z"/>
<path color="#561f00" d="M300 43.4l3.1-2.4-2.4-.5-3 2.5z"/>
<path color="#6b1000" d="M310.8 40.3l3.1-2-2.4-.9-3 2z"/>
<path color="#710c00" d="M316.3 39.5l3.1-1.8-2.4-1.2-3.1 1.8z"/>
<path color="#720400" d="M321.8 39.1l3.1-1.6-2.4-1.4-3.1 1.6z"/>
<path color="#750400" d="M327.3 39.2l3.1-1.3-2.4-1.8-3.1 1.4z"/>
<path color="#790500" d="M332.8 39.8l3.1-1.1-2.4-2-3.1 1.2z"/>
<path color="#7e0f00" d="M338.3 40.9l3.1-.9-2.4-2.2-3.1 .9z"/>
<path color="#7f2200" d="M349.3 44.7l3.1-.4-2.4-2.8-3.1 .4z"/>
<path color="#784600" d="M360.2 50.5l3.1 .1-2.4-3.3-3-.1z"/>
<path color="#745600" d="M365.6 54.2l3.1 .4-2.3-3.6-3.1-.4z"/>
<path color="#6f6700" d="M371 58.5l3.1 .7-2.3-4-3.1-.6z"/>
<path color="#606700" d="M376.4 63.3l3 1-2.3-4.2-3-.9z"/>
<path color="#145400" d="M386.9 74.7l2.9 1.5-2.2-4.8-3-1.5z"/>
<path color="#084e00" d="M392 81.2l2.9 1.9-2.2-5.1-2.9-1.8z"/>
<path color="#011d00" d="M256.4 77.3l2.7-4-2 1.6-2.7 4z"/>
<path color="#091e00" d="M266.1 66.9l2.8-3.6-2.1 1.1-2.8 3.7z"/>
<path color="#242100" d="M281.3 54.5l2.9-3.1-2.2 .4-2.9 3.1z"/>
<path color="#492c00" d="M291.7 48.4l3-2.8-2.3-.1-3 2.8z"/>
<path color="#652000" d="M302.4 44l3-2.4-2.3-.6-3.1 2.4z"/>
<path color="#7a0e00" d="M318.7 40.9l3.1-1.8-2.4-1.4-3.1 1.8z"/>
<path color="#7f0800" d="M329.7 41.1l3.1-1.3-2.4-1.9-3.1 1.3z"/>
<path color="#852000" d="M346.2 45.3l3.1-.6-2.4-2.8-3.1 .6z"/>
<path color="#804500" d="M357.1 50.6l3.1-.1-2.3-3.3-3.1 .1z"/>
<path color="#786600" d="M368 58.1l3 .4-2.3-3.9-3.1-.4z"/>
<path color="#1c5d00" d="M383.9 73.4l3 1.3-2.3-4.8-3-1.2z"/>
<path color="#025200" d="M394.1 86.5l2.9 1.9-2.1-5.3-2.9-1.9z"/>
<path color="#051e00" d="M261.2 71.9l2.8-3.8-2.1 1.4-2.8 3.8z"/>
<path color="#162000" d="M271.1 62.4l2.9-3.5-2.2 .9-2.9 3.5z"/>
<path color="#202200" d="M276.2 58.3l2.9-3.4-2.3 .6-2.8 3.4z"/>
<path color="#372900" d="M286.5 51.2l2.9-2.9-2.2 .1-3 3z"/>
<path color="#582900" d="M297 46l3-2.6-2.3-.4-3 2.6z"/>
<path color="#6f1500" d="M307.8 42.5l3-2.2-2.3-.9-3.1 2.2z"/>
<path color="#751100" d="M313.2 41.4l3.1-1.9-2.4-1.2-3.1 2z"/>
<path color="#7b0500" d="M324.2 40.8l3.1-1.6-2.4-1.7-3.1 1.6z"/>
<path color="#831000" d="M335.2 42l3.1-1.1-2.4-2.2-3.1 1.1z"/>
<path color="#851500" d="M340.7 43.4l3.1-.9-2.4-2.5-3.1 .9z"/>
<path color="#833400" d="M351.7 47.7l3.1-.4-2.4-3-3.1 .4z"/>
<path color="#7c5500" d="M362.6 54.1l3 .1-2.3-3.6-3.1-.1z"/>
<path color="#6d6f00" d="M373.3 62.6l3.1 .7-2.3-4.1-3.1-.7z"/>
<path color="#4e6900" d="M378.6 67.7l3 1-2.2-4.4-3-1z"/>
<path color="#0e5800" d="M389 79.7l3 1.5-2.2-5-2.9-1.5z"/>
<path color="#001d01" d="M253.7 81.4l2.7-4.1-2 1.6-2.7 4.1z"/>
<path color="#031e00" d="M258.5 75.8l2.7-3.9-2.1 1.4-2.7 4z"/>
<path color="#071e00" d="M263.3 70.7l2.8-3.8-2.1 1.2-2.8 3.8z"/>
<path color="#0e1f00" d="M268.3 66l2.8-3.6-2.2 .9-2.8 3.6z"/>
<path color="#262600" d="M278.4 57.8l2.9-3.3-2.2 .4-2.9 3.4z"/>
<path color="#3a3100" d="M283.5 54.4l3-3.2-2.3 .2-2.9 3.1z"/>
<path color="#4a3400" d="M288.8 51.3l2.9-2.9-2.3-.1-2.9 2.9z"/>
<path color="#5a3200" d="M294 48.7l3-2.7-2.3-.4-3 2.8z"/>
<path color="#672c00" d="M299.4 46.6l3-2.6-2.4-.6-3 2.6z"/>
<path color="#712000" d="M304.7 44.9l3.1-2.4-2.4-.9-3 2.4z"/>
<path color="#7e1200" d="M315.6 42.8l3.1-1.9-2.4-1.4-3.1 1.9z"/>
<path color="#811000" d="M321.1 42.5l3.1-1.7-2.4-1.7-3.1 1.8z"/>
<path color="#841000" d="M326.5 42.7l3.2-1.6-2.4-1.9-3.1 1.6z"/>
<path color="#871200" d="M332 43.3l3.2-1.3-2.4-2.2-3.1 1.3z"/>
<path color="#8a1f00" d="M343.1 46.1l3.1-.8-2.4-2.8-3.1 .9z"/>
<path color="#893200" d="M348.5 48.3l3.2-.6-2.4-3-3.1 .6z"/>
<path color="#864400" d="M354 50.9l3.1-.3-2.3-3.3-3.1 .4z"/>
<path color="#835400" d="M359.5 54.1l3.1 0-2.4-3.6-3.1 .1z"/>
<path color="#7f6500" d="M364.9 57.9l3.1 .2-2.4-3.9-3-.1z"/>
<path color="#797700" d="M370.3 62.2l3 .4-2.3-4.1-3-.4z"/>
<path color="#2f6700" d="M380.9 72.4l3 1-2.3-4.7-3-1z"/>
<path color="#156000" d="M386.1 78.4l2.9 1.3-2.1-5-3-1.3z"/>
<path color="#075b00" d="M391.2 84.9l2.9 1.6-2.1-5.3-3-1.5z"/>
<path color="#005605" d="M396.3 92.1l2.9 1.9-2.2-5.6-2.9-1.9z"/>
<path color="#1d2100" d="M273.3 61.7l2.9-3.4-2.2 .6-2.9 3.5z"/>
<path color="#791600" d="M310.2 43.6l3-2.2-2.4-1.1-3 2.2z"/>
<path color="#891600" d="M337.5 44.5l3.2-1.1-2.4-2.5-3.1 1.1z"/>
<path color="#677400" d="M375.6 67l3 .7-2.2-4.4-3.1-.7z"/>
<path color="#051e00" d="M260.6 74.6l2.7-3.9-2.1 1.2-2.7 3.9z"/>
<path color="#4d3c00" d="M285.8 54.4l3-3.1-2.3-.1-3 3.2z"/>
<path color="#683600" d="M296.4 49.3l3-2.7-2.4-.6-3 2.7z"/>
<path color="#8b4300" d="M350.9 51.5l3.1-.6-2.3-3.2-3.2 .6z"/>
<path color="#866500" d="M361.8 57.9l3.1 0-2.3-3.8-3.1 0z"/>
<path color="#0d6300" d="M388.3 83.6l2.9 1.3-2.2-5.2-2.9-1.3z"/>
<path color="#011d00" d="M255.7 79.9l2.8-4.1-2.1 1.5-2.7 4.1z"/>
<path color="#081e00" d="M265.5 69.8l2.8-3.8-2.2 .9-2.8 3.8z"/>
<path color="#272a00" d="M275.5 61.3l2.9-3.5-2.2 .5-2.9 3.4z"/>
<path color="#722d00" d="M301.7 47.4l3-2.5-2.3-.9-3 2.6z"/>
<path color="#811800" d="M312.5 44.9l3.1-2.1-2.4-1.4-3 2.2z"/>
<path color="#881400" d="M323.4 44.4l3.1-1.7-2.3-1.9-3.1 1.7z"/>
<path color="#8d1800" d="M334.4 45.7l3.1-1.2-2.3-2.5-3.2 1.3z"/>
<path color="#8d3100" d="M345.4 49l3.1-.7-2.3-3-3.1 .8z"/>
<path color="#737a00" d="M372.6 66.5l3 .5-2.3-4.4-3-.4z"/>
<path color="#1b6800" d="M383.1 77.3l3 1.1-2.2-5-3-1z"/>
<path color="#005e01" d="M393.4 90.4l2.9 1.7-2.2-5.6-2.9-1.6z"/>
<path color="#142000" d="M270.4 65.3l2.9-3.6-2.2 .7-2.8 3.6z"/>
<path color="#3d3b00" d="M280.6 57.6l2.9-3.2-2.2 .1-2.9 3.3z"/>
<path color="#5b3b00" d="M291.1 51.6l2.9-2.9-2.3-.3-2.9 2.9z"/>
<path color="#7b2100" d="M307.1 45.9l3.1-2.3-2.4-1.1-3.1 2.4z"/>
<path color="#851500" d="M318 44.4l3.1-1.9-2.4-1.6-3.1 1.9z"/>
<path color="#8b1500" d="M328.9 44.8l3.1-1.5-2.3-2.2-3.2 1.6z"/>
<path color="#8e2000" d="M339.9 47.1l3.2-1-2.4-2.7-3.2 1.1z"/>
<path color="#895300" d="M356.4 54.4l3.1-.3-2.4-3.5-3.1 .3z"/>
<path color="#827900" d="M367.2 61.9l3.1 .3-2.3-4.1-3.1-.2z"/>
<path color="#467200" d="M377.9 71.6l3 .8-2.3-4.7-3-.7z"/>
<path color="#031e00" d="M257.8 78.7l2.8-4.1-2.1 1.2-2.8 4.1z"/>
<path color="#046500" d="M390.4 89.1l3 1.3-2.2-5.5-2.9-1.3z"/>
<path color="#061e00" d="M262.7 73.7l2.8-3.9-2.2 .9-2.7 3.9z"/>
<path color="#232c00" d="M272.6 64.8l2.9-3.5-2.2 .4-2.9 3.6z"/>
<path color="#4f4600" d="M282.9 57.6l2.9-3.2-2.3 0-2.9 3.2z"/>
<path color="#5c4400" d="M288.1 54.7l3-3.1-2.3-.3-3 3.1z"/>
<path color="#694000" d="M293.4 52.2l3-2.9-2.4-.6-2.9 2.9z"/>
<path color="#733900" d="M298.7 50.1l3-2.7-2.3-.8-3 2.7z"/>
<path color="#832300" d="M309.5 47.2l3-2.3-2.3-1.3-3.1 2.3z"/>
<path color="#8c1800" d="M320.4 46.3l3-1.9-2.3-1.9-3.1 1.9z"/>
<path color="#8e1900" d="M325.8 46.5l3.1-1.7-2.4-2.1-3.1 1.7z"/>
<path color="#922300" d="M336.8 48.3l3.1-1.2-2.4-2.6-3.1 1.2z"/>
<path color="#904300" d="M347.8 52.2l3.1-.7-2.4-3.2-3.1 .7z"/>
<path color="#8e5300" d="M353.3 54.9l3.1-.5-2.4-3.5-3.1 .6z"/>
<path color="#8b6400" d="M358.7 58.2l3.1-.3-2.3-3.8-3.1 .3z"/>
<path color="#887700" d="M364.1 61.9l3.1 0-2.3-4-3.1 0z"/>
<path color="#5c7b00" d="M374.8 71.1l3.1 .5-2.3-4.6-3-.5z"/>
<path color="#136a00" d="M385.3 82.5l3 1.1-2.2-5.2-3-1.1z"/>
<path color="#0c1f00" d="M267.6 69l2.8-3.7-2.1 .7-2.8 3.8z"/>
<path color="#3c3e00" d="M277.7 61l2.9-3.4-2.2 .2-2.9 3.5z"/>
<path color="#7c2f00" d="M304.1 48.4l3-2.5-2.4-1-3 2.5z"/>
<path color="#881a00" d="M314.9 46.5l3.1-2.1-2.4-1.6-3.1 2.1z"/>
<path color="#911b00" d="M331.3 47.2l3.1-1.5-2.4-2.4-3.1 1.5z"/>
<path color="#913200" d="M342.3 50l3.1-1-2.3-2.9-3.2 1z"/>
<path color="#7d8000" d="M369.5 66.2l3.1 .3-2.3-4.3-3.1-.3z"/>
<path color="#236e00" d="M380.1 76.5l3 .8-2.2-4.9-3-.8z"/>
<path color="#694a00" d="M290.4 55.2l3-3-2.3-.6-3 3.1z"/>
<path color="#906400" d="M355.6 58.6l3.1-.4-2.3-3.8-3.1 .5z"/>
<path color="#041e00" d="M259.9 77.7l2.8-4-2.1 .9-2.8 4.1z"/>
<path color="#192c00" d="M269.8 68.5l2.8-3.7-2.2 .5-2.8 3.7z"/>
<path color="#4f4e00" d="M280 61l2.9-3.4-2.3 0-2.9 3.4z"/>
<path color="#843200" d="M306.4 49.7l3.1-2.5-2.4-1.3-3 2.5z"/>
<path color="#943500" d="M339.2 51.2l3.1-1.2-2.4-2.9-3.1 1.2z"/>
<path color="#868500" d="M366.4 66.2l3.1 0-2.3-4.3-3.1 0z"/>
<path color="#367600" d="M377.1 75.9l3 .6-2.2-4.9-3.1-.5z"/>
<path color="#0a6c00" d="M387.5 87.9l2.9 1.2-2.1-5.5-3-1.1z"/>
<path color="#081e00" d="M264.8 72.9l2.8-3.9-2.1 .8-2.8 3.9z"/>
<path color="#3a4000" d="M274.8 64.6l2.9-3.6-2.2 .3-2.9 3.5z"/>
<path color="#5e4e00" d="M285.1 57.9l3-3.2-2.3-.3-2.9 3.2z"/>
<path color="#744300" d="M295.7 52.9l3-2.8-2.3-.8-3 2.9z"/>
<path color="#7d3b00" d="M301 51.1l3.1-2.7-2.4-1-3 2.7z"/>
<path color="#8a2700" d="M311.8 48.8l3.1-2.3-2.4-1.6-3 2.3z"/>
<path color="#8e2000" d="M317.3 48.3l3.1-2-2.4-1.9-3.1 2.1z"/>
<path color="#911e00" d="M322.7 48.3l3.1-1.8-2.4-2.1-3 1.9z"/>
<path color="#932000" d="M328.2 48.8l3.1-1.6-2.4-2.4-3.1 1.7z"/>
<path color="#942800" d="M333.7 49.8l3.1-1.5-2.4-2.6-3.1 1.5z"/>
<path color="#934400" d="M344.7 53.2l3.1-1-2.4-3.2-3.1 1z"/>
<path color="#925300" d="M350.2 55.7l3.1-.8-2.4-3.4-3.1 .7z"/>
<path color="#8d7600" d="M361 62.2l3.1-.3-2.3-4-3.1 .3z"/>
<path color="#718200" d="M371.8 70.8l3 .3-2.2-4.6-3.1-.3z"/>
<path color="#197000" d="M382.3 81.6l3 .9-2.2-5.2-3-.8z"/>
<path color="#0e2c00" d="M266.9 72.4l2.9-3.9-2.2 .5-2.8 3.9z"/>
<path color="#4b5000" d="M277.1 64.5l2.9-3.5-2.3 0-2.9 3.6z"/>
<path color="#6a5400" d="M287.4 58.4l3-3.2-2.3-.5-3 3.2z"/>
<path color="#744e00" d="M292.7 55.9l3-3-2.3-.7-3 3z"/>
<path color="#843f00" d="M303.4 52.3l3-2.6-2.3-1.3-3.1 2.7z"/>
<path color="#8f2d00" d="M314.2 50.6l3.1-2.3-2.4-1.8-3.1 2.3z"/>
<path color="#962f00" d="M330.6 51.4l3.1-1.6-2.4-2.6-3.1 1.6z"/>
<path color="#964600" d="M341.6 54.3l3.1-1.1-2.4-3.2-3.1 1.2z"/>
<path color="#936400" d="M352.5 59.3l3.1-.7-2.3-3.7-3.1 .8z"/>
<path color="#917500" d="M357.9 62.6l3.1-.4-2.3-4-3.1 .4z"/>
<path color="#7c8800" d="M368.7 70.7l3.1 .1-2.3-4.6-3.1 0z"/>
<path color="#1e7500" d="M379.3 81l3 .6-2.2-5.1-3-.6z"/>
<path color="#061e00" d="M262 76.9l2.8-4-2.1 .8-2.8 4z"/>
<path color="#2d3f00" d="M272 68.2l2.8-3.6-2.2 .2-2.8 3.7z"/>
<path color="#5f5a00" d="M282.2 61.2l2.9-3.3-2.2-.3-2.9 3.4z"/>
<path color="#8a3600" d="M308.8 51.2l3-2.4-2.3-1.6-3.1 2.5z"/>
<path color="#922900" d="M319.6 50.4l3.1-2.1-2.3-2-3.1 2z"/>
<path color="#952900" d="M325.1 50.6l3.1-1.8-2.4-2.3-3.1 1.8z"/>
<path color="#963a00" d="M336.1 52.6l3.1-1.4-2.4-2.9-3.1 1.5z"/>
<path color="#8d8900" d="M363.3 66.4l3.1-.2-2.3-4.3-3.1 .3z"/>
<path color="#497e00" d="M374 75.6l3.1 .3-2.3-4.8-3-.3z"/>
<path color="#0f7200" d="M384.5 87l3 .9-2.2-5.4-3-.9z"/>
<path color="#7d4600" d="M298 53.9l3-2.8-2.3-1-3 2.8z"/>
<path color="#955400" d="M347 56.6l3.2-.9-2.4-3.5-3.1 1z"/>
<path color="#0b2d00" d="M264.1 76.3l2.8-3.9-2.1 .5-2.8 4z"/>
<path color="#425000" d="M274.2 68.2l2.9-3.7-2.3 .1-2.8 3.6z"/>
<path color="#6b6100" d="M284.5 61.7l2.9-3.3-2.3-.5-2.9 3.3z"/>
<path color="#938b00" d="M360.2 66.8l3.1-.4-2.3-4.2-3.1 .4z"/>
<path color="#5b8500" d="M371 75.5l3 .1-2.2-4.8-3.1-.1z"/>
<path color="#147700" d="M381.5 86.4l3 .6-2.2-5.4-3-.6z"/>
<path color="#1c3e00" d="M269.1 72l2.9-3.8-2.2 .3-2.9 3.9z"/>
<path color="#5a5d00" d="M279.3 64.7l2.9-3.5-2.2-.2-2.9 3.5z"/>
<path color="#745900" d="M289.7 59.1l3-3.2-2.3-.7-3 3.2z"/>
<path color="#7d5200" d="M295 56.9l3-3-2.3-1-3 3z"/>
<path color="#844a00" d="M300.3 55.1l3.1-2.8-2.4-1.2-3 2.8z"/>
<path color="#8a4200" d="M305.7 53.8l3.1-2.6-2.4-1.5-3 2.6z"/>
<path color="#8f3c00" d="M311.1 53l3.1-2.4-2.4-1.8-3 2.4z"/>
<path color="#933600" d="M316.5 52.6l3.1-2.2-2.3-2.1-3.1 2.3z"/>
<path color="#963500" d="M322 52.6l3.1-2-2.4-2.3-3.1 2.1z"/>
<path color="#983800" d="M327.5 53.2l3.1-1.8-2.4-2.6-3.1 1.8z"/>
<path color="#984000" d="M333 54.2l3.1-1.6-2.4-2.8-3.1 1.6z"/>
<path color="#994a00" d="M338.4 55.7l3.2-1.4-2.4-3.1-3.1 1.4z"/>
<path color="#985600" d="M343.9 57.7l3.1-1.1-2.3-3.4-3.1 1.1z"/>
<path color="#976500" d="M349.4 60.2l3.1-.9-2.3-3.6-3.2 .9z"/>
<path color="#957500" d="M354.8 63.2l3.1-.6-2.3-4-3.1 .7z"/>
<path color="#848c00" d="M365.6 70.9l3.1-.2-2.3-4.5-3.1 .2z"/>
<path color="#237a00" d="M376.2 80.7l3.1 .3-2.2-5.1-3.1-.3z"/>
<path color="#2e4e00" d="M271.3 71.9l2.9-3.7-2.2 0-2.9 3.8z"/>
<path color="#686700" d="M281.5 65.1l3-3.4-2.3-.5-2.9 3.5z"/>
<path color="#845600" d="M297.3 58.1l3-3-2.3-1.2-3 3z"/>
<path color="#904700" d="M308.1 55.5l3-2.5-2.3-1.8-3.1 2.6z"/>
<path color="#9a4e00" d="M335.3 57.2l3.1-1.5-2.3-3.1-3.1 1.6z"/>
<path color="#996700" d="M346.3 61.3l3.1-1.1-2.4-3.6-3.1 1.1z"/>
<path color="#8a8f00" d="M362.5 71.2l3.1-.3-2.3-4.5-3.1 .4z"/>
<path color="#2f7f00" d="M373.2 80.5l3 .2-2.2-5.1-3-.1z"/>
<path color="#113d00" d="M266.3 75.9l2.8-3.9-2.2 .4-2.8 3.9z"/>
<path color="#555e00" d="M276.4 68.3l2.9-3.6-2.2-.2-2.9 3.7z"/>
<path color="#756600" d="M286.7 62.4l3-3.3-2.3-.7-2.9 3.3z"/>
<path color="#934300" d="M313.5 54.9l3-2.3-2.3-2-3.1 2.4z"/>
<path color="#964000" d="M318.9 54.8l3.1-2.2-2.4-2.2-3.1 2.2z"/>
<path color="#994100" d="M324.4 55.1l3.1-1.9-2.4-2.6-3.1 2z"/>
<path color="#9a4600" d="M329.8 56l3.2-1.8-2.4-2.8-3.1 1.8z"/>
<path color="#968a00" d="M357.1 67.4l3.1-.6-2.3-4.2-3.1 .6z"/>
<path color="#6a8b00" d="M367.9 75.6l3.1-.1-2.3-4.8-3.1 .2z"/>
<path color="#197b00" d="M378.4 86l3.1 .4-2.2-5.4-3.1-.3z"/>
<path color="#7d5e00" d="M292 60l3-3.1-2.3-1-3 3.2z"/>
<path color="#8a4e00" d="M302.7 56.6l3-2.8-2.3-1.5-3.1 2.8z"/>
<path color="#9a5900" d="M340.8 59l3.1-1.3-2.3-3.4-3.2 1.4z"/>
<path color="#987600" d="M351.7 64.1l3.1-.9-2.3-3.9-3.1 .9z"/>
<path color="#194a00" d="M268.5 75.8l2.8-3.9-2.2 .1-2.8 3.9z"/>
<path color="#616800" d="M278.6 68.7l2.9-3.6-2.2-.4-2.9 3.6z"/>
<path color="#778f00" d="M364.8 75.9l3.1-.3-2.3-4.7-3.1 .3z"/>
<path color="#1e7f00" d="M375.4 85.8l3 .2-2.2-5.3-3-.2z"/>
<path color="#405b00" d="M273.5 72.1l2.9-3.8-2.2-.1-2.9 3.7z"/>
<path color="#737000" d="M283.8 65.8l2.9-3.4-2.2-.7-3 3.4z"/>
<path color="#846200" d="M294.3 61.2l3-3.1-2.3-1.2-3 3.1z"/>
<path color="#8a5a00" d="M299.6 59.5l3.1-2.9-2.4-1.5-3 3z"/>
<path color="#905300" d="M305 58.3l3.1-2.8-2.4-1.7-3 2.8z"/>
<path color="#944e00" d="M310.4 57.5l3.1-2.6-2.4-1.9-3 2.5z"/>
<path color="#974b00" d="M315.8 57.2l3.1-2.4-2.4-2.2-3 2.3z"/>
<path color="#994b00" d="M321.3 57.3l3.1-2.2-2.4-2.5-3.1 2.2z"/>
<path color="#9b4e00" d="M326.7 57.9l3.1-1.9-2.3-2.8-3.1 1.9z"/>
<path color="#9c5400" d="M332.2 59l3.1-1.8-2.3-3-3.2 1.8z"/>
<path color="#9c5d00" d="M337.7 60.5l3.1-1.5-2.4-3.3-3.1 1.5z"/>
<path color="#9c6a00" d="M343.1 62.6l3.2-1.3-2.4-3.6-3.1 1.3z"/>
<path color="#9b7800" d="M348.6 65.2l3.1-1.1-2.3-3.9-3.1 1.1z"/>
<path color="#8f9200" d="M359.4 71.8l3.1-.6-2.3-4.4-3.1 .6z"/>
<path color="#3d8400" d="M370.1 80.6l3.1-.1-2.2-5-3.1 .1z"/>
<path color="#7d6a00" d="M289 63.3l3-3.3-2.3-.9-3 3.3z"/>
<path color="#998b00" d="M354 68.2l3.1-.8-2.3-4.2-3.1 .9z"/>
<path color="#516700" d="M275.7 72.4l2.9-3.7-2.2-.4-2.9 3.8z"/>
<path color="#4a8900" d="M367 80.9l3.1-.3-2.2-5-3.1 .3z"/>
<path color="#285800" d="M270.7 75.9l2.8-3.8-2.2-.2-2.8 3.9z"/>
<path color="#6c7100" d="M280.9 69.3l2.9-3.5-2.3-.7-2.9 3.6z"/>
<path color="#846e00" d="M291.3 64.4l3-3.2-2.3-1.2-3 3.3z"/>
<path color="#8f5f00" d="M302 61.2l3-2.9-2.3-1.7-3.1 2.9z"/>
<path color="#975500" d="M312.8 59.7l3-2.5-2.3-2.3-3.1 2.6z"/>
<path color="#9a5400" d="M318.2 59.6l3.1-2.3-2.4-2.5-3.1 2.4z"/>
<path color="#9c5600" d="M323.6 60l3.1-2.1-2.3-2.8-3.1 2.2z"/>
<path color="#9d5b00" d="M329.1 60.9l3.1-1.9-2.4-3-3.1 1.9z"/>
<path color="#9d6e00" d="M340 64.1l3.1-1.5-2.3-3.6-3.1 1.5z"/>
<path color="#9b8c00" d="M350.9 69.3l3.1-1.1-2.3-4.1-3.1 1.1z"/>
<path color="#819300" d="M361.7 76.5l3.1-.6-2.3-4.7-3.1 .6z"/>
<path color="#218200" d="M372.3 85.8l3.1 0-2.2-5.3-3.1 .1z"/>
<path color="#7d7800" d="M286.1 66.7l2.9-3.4-2.3-.9-2.9 3.4z"/>
<path color="#8a6600" d="M296.6 62.6l3-3.1-2.3-1.4-3 3.1z"/>
<path color="#945900" d="M307.3 60.2l3.1-2.7-2.3-2-3.1 2.8z"/>
<path color="#9d6300" d="M334.6 62.3l3.1-1.8-2.4-3.3-3.1 1.8z"/>
<path color="#9d7b00" d="M345.5 66.4l3.1-1.2-2.3-3.9-3.2 1.3z"/>
<path color="#939400" d="M356.3 72.6l3.1-.8-2.3-4.4-3.1 .8z"/>
<path color="#366300" d="M272.9 76.3l2.8-3.9-2.2-.3-2.8 3.8z"/>
<path color="#258500" d="M369.3 86.1l3-.3-2.2-5.2-3.1 .3z"/>
<path color="#607100" d="M278 73l2.9-3.7-2.3-.6-2.9 3.7z"/>
<path color="#847d00" d="M288.4 67.8l2.9-3.4-2.3-1.1-2.9 3.4z"/>
<path color="#8f6b00" d="M298.9 64.2l3.1-3-2.4-1.7-3 3.1z"/>
<path color="#936600" d="M304.3 63l3-2.8-2.3-1.9-3 2.9z"/>
<path color="#976100" d="M309.7 62.4l3.1-2.7-2.4-2.2-3.1 2.7z"/>
<path color="#9a5e00" d="M315.1 62.1l3.1-2.5-2.4-2.4-3 2.5z"/>
<path color="#9c5f00" d="M320.5 62.3l3.1-2.3-2.3-2.7-3.1 2.3z"/>
<path color="#9e6300" d="M326 63l3.1-2.1-2.4-3-3.1 2.1z"/>
<path color="#9e6900" d="M331.4 64.1l3.2-1.8-2.4-3.3-3.1 1.9z"/>
<path color="#9f7300" d="M336.9 65.8l3.1-1.7-2.3-3.6-3.1 1.8z"/>
<path color="#9e7e00" d="M342.4 67.9l3.1-1.5-2.4-3.8-3.1 1.5z"/>
<path color="#959600" d="M353.2 73.6l3.1-1-2.3-4.4-3.1 1.1z"/>
<path color="#538d00" d="M364 81.4l3-.5-2.2-5-3.1 .6z"/>
<path color="#757900" d="M283.1 70.2l3-3.5-2.3-.9-2.9 3.5z"/>
<path color="#8a7300" d="M293.6 65.8l3-3.2-2.3-1.4-3 3.2z"/>
<path color="#9d8f00" d="M347.8 70.5l3.1-1.2-2.3-4.1-3.1 1.2z"/>
<path color="#879600" d="M358.6 77.3l3.1-.8-2.3-4.7-3.1 .8z"/>
<path color="#446d00" d="M275.1 76.8l2.9-3.8-2.3-.6-2.8 3.9z"/>
<path color="#7c7f00" d="M285.4 71.3l3-3.5-2.3-1.1-3 3.5z"/>
<path color="#9c6900" d="M317.5 64.8l3-2.5-2.3-2.7-3.1 2.5z"/>
<path color="#9e6b00" d="M322.9 65.2l3.1-2.2-2.4-3-3.1 2.3z"/>
<path color="#8a9800" d="M355.5 78.2l3.1-.9-2.3-4.7-3.1 1z"/>
<path color="#278700" d="M366.2 86.6l3.1-.5-2.3-5.2-3 .5z"/>
<path color="#6d7900" d="M280.2 73.8l2.9-3.6-2.2-.9-2.9 3.7z"/>
<path color="#898200" d="M290.6 69.1l3-3.3-2.3-1.4-2.9 3.4z"/>
<path color="#8f7800" d="M295.9 67.4l3-3.2-2.3-1.6-3 3.2z"/>
<path color="#937100" d="M301.3 66.1l3-3.1-2.3-1.8-3.1 3z"/>
<path color="#976d00" d="M306.6 65.2l3.1-2.8-2.4-2.2-3 2.8z"/>
<path color="#9a6a00" d="M312 64.7l3.1-2.6-2.3-2.4-3.1 2.7z"/>
<path color="#9f7100" d="M328.3 66.2l3.1-2.1-2.3-3.2-3.1 2.1z"/>
<path color="#a07800" d="M333.8 67.6l3.1-1.8-2.3-3.5-3.2 1.8z"/>
<path color="#a08300" d="M339.2 69.5l3.2-1.6-2.4-3.8-3.1 1.7z"/>
<path color="#9f9300" d="M344.7 71.9l3.1-1.4-2.3-4.1-3.1 1.5z"/>
<path color="#979800" d="M350.1 74.8l3.1-1.2-2.3-4.3-3.1 1.2z"/>
<path color="#5a9100" d="M360.9 82.1l3.1-.7-2.3-4.9-3.1 .8z"/>
<path color="#747f00" d="M282.5 74.9l2.9-3.6-2.3-1.1-2.9 3.6z"/>
<path color="#8e8700" d="M292.9 70.7l3-3.3-2.3-1.6-3 3.3z"/>
<path color="#9a7500" d="M309 67.5l3-2.8-2.3-2.3-3.1 2.8z"/>
<path color="#9c7300" d="M314.4 67.4l3.1-2.6-2.4-2.7-3.1 2.6z"/>
<path color="#9e7500" d="M319.8 67.7l3.1-2.5-2.4-2.9-3 2.5z"/>
<path color="#a07800" d="M325.2 68.4l3.1-2.2-2.3-3.2-3.1 2.2z"/>
<path color="#a07f00" d="M330.7 69.6l3.1-2-2.4-3.5-3.1 2.1z"/>
<path color="#979a00" d="M347 76.2l3.1-1.4-2.3-4.3-3.1 1.4z"/>
<path color="#5f9300" d="M357.8 83.1l3.1-1-2.3-4.8-3.1 .9z"/>
<path color="#4f7500" d="M277.3 77.6l2.9-3.8-2.2-.8-2.9 3.8z"/>
<path color="#828400" d="M287.7 72.6l2.9-3.5-2.2-1.3-3 3.5z"/>
<path color="#937f00" d="M298.3 69.2l3-3.1-2.4-1.9-3 3.2z"/>
<path color="#977800" d="M303.6 68.2l3-3-2.3-2.2-3 3.1z"/>
<path color="#a18900" d="M336.1 71.3l3.1-1.8-2.3-3.7-3.1 1.8z"/>
<path color="#a09800" d="M341.6 73.5l3.1-1.6-2.3-4-3.2 1.6z"/>
<path color="#8b9a00" d="M352.4 79.4l3.1-1.2-2.3-4.6-3.1 1.2z"/>
<path color="#2b8900" d="M363.1 87.3l3.1-.7-2.2-5.2-3.1 .7z"/>
<path color="#587c00" d="M279.5 78.6l3-3.7-2.3-1.1-2.9 3.8z"/>
<path color="#2e8b00" d="M360 88.2l3.1-.9-2.2-5.2-3.1 1z"/>
<path color="#798500" d="M284.7 76.2l3-3.6-2.3-1.3-2.9 3.6z"/>
<path color="#868900" d="M290 74.1l2.9-3.4-2.3-1.6-2.9 3.5z"/>
<path color="#928c00" d="M295.2 72.5l3.1-3.3-2.4-1.8-3 3.3z"/>
<path color="#968600" d="M300.6 71.3l3-3.1-2.3-2.1-3 3.1z"/>
<path color="#9a8100" d="M305.9 70.5l3.1-3-2.4-2.3-3 3z"/>
<path color="#9c7e00" d="M311.3 70.2l3.1-2.8-2.4-2.7-3 2.8z"/>
<path color="#9e7e00" d="M316.7 70.3l3.1-2.6-2.3-2.9-3.1 2.6z"/>
<path color="#a08100" d="M322.1 70.8l3.1-2.4-2.3-3.2-3.1 2.5z"/>
<path color="#a18700" d="M327.6 71.9l3.1-2.3-2.4-3.4-3.1 2.2z"/>
<path color="#a19100" d="M333 73.3l3.1-2-2.3-3.7-3.1 2z"/>
<path color="#a09b00" d="M338.4 75.3l3.2-1.8-2.4-4-3.1 1.8z"/>
<path color="#979b00" d="M343.9 77.8l3.1-1.6-2.3-4.3-3.1 1.6z"/>
<path color="#8c9b00" d="M349.3 80.7l3.1-1.3-2.3-4.6-3.1 1.4z"/>
<path color="#609500" d="M354.7 84.2l3.1-1.1-2.3-4.9-3.1 1.2z"/>
<path color="#9e8a00" d="M313.6 73l3.1-2.7-2.3-2.9-3.1 2.8z"/>
<path color="#a19100" d="M324.5 74.2l3.1-2.3-2.4-3.5-3.1 2.4z"/>
<path color="#5f8100" d="M281.8 79.9l2.9-3.7-2.2-1.3-3 3.7z"/>
<path color="#7d8900" d="M287 77.7l3-3.6-2.3-1.5-3 3.6z"/>
<path color="#898d00" d="M292.3 75.9l2.9-3.4-2.3-1.8-2.9 3.4z"/>
<path color="#939000" d="M297.6 74.5l3-3.2-2.3-2.1-3.1 3.3z"/>
<path color="#998f00" d="M302.9 73.6l3-3.1-2.3-2.3-3 3.1z"/>
<path color="#9c8b00" d="M308.3 73.1l3-2.9-2.3-2.7-3.1 3z"/>
<path color="#a08c00" d="M319.1 73.4l3-2.6-2.3-3.1-3.1 2.6z"/>
<path color="#a29900" d="M329.9 75.5l3.1-2.2-2.3-3.7-3.1 2.3z"/>
<path color="#9d9c00" d="M335.3 77.3l3.1-2-2.3-4-3.1 2z"/>
<path color="#959c00" d="M340.8 79.5l3.1-1.7-2.3-4.3-3.2 1.8z"/>
<path color="#889c00" d="M346.2 82.3l3.1-1.6-2.3-4.5-3.1 1.6z"/>
<path color="#5f9600" d="M351.6 85.5l3.1-1.3-2.3-4.8-3.1 1.3z"/>
<path color="#2f8d00" d="M356.9 89.3l3.1-1.1-2.2-5.1-3.1 1.1z"/>
<path color="#628600" d="M284.1 81.4l2.9-3.7-2.3-1.5-2.9 3.7z"/>
<path color="#8a9000" d="M294.6 77.9l3-3.4-2.4-2-2.9 3.4z"/>
<path color="#939300" d="M299.9 76.8l3-3.2-2.3-2.3-3 3.2z"/>
<path color="#999500" d="M305.2 76.1l3.1-3-2.4-2.6-3 3.1z"/>
<path color="#9e9700" d="M310.6 75.9l3-2.9-2.3-2.8-3 2.9z"/>
<path color="#a09800" d="M316 76.1l3.1-2.7-2.4-3.1-3.1 2.7z"/>
<path color="#a09b00" d="M321.4 76.7l3.1-2.5-2.4-3.4-3 2.6z"/>
<path color="#9e9c00" d="M326.8 77.9l3.1-2.4-2.3-3.6-3.1 2.3z"/>
<path color="#9a9d00" d="M332.2 79.4l3.1-2.1-2.3-4-3.1 2.2z"/>
<path color="#939d00" d="M337.6 81.5l3.2-2-2.4-4.2-3.1 2z"/>
<path color="#819c00" d="M343.1 84l3.1-1.7-2.3-4.5-3.1 1.7z"/>
<path color="#2e8e00" d="M353.8 90.6l3.1-1.3-2.2-5.1-3.1 1.3z"/>
<path color="#808d00" d="M289.3 79.5l3-3.6-2.3-1.8-3 3.6z"/>
<path color="#5b9600" d="M348.4 87l3.2-1.5-2.3-4.8-3.1 1.6z"/>
<path color="#8a9300" d="M296.9 80.2l3-3.4-2.3-2.3-3 3.4z"/>
<path color="#919600" d="M302.2 79.3l3-3.2-2.3-2.5-3 3.2z"/>
<path color="#969800" d="M307.5 78.9l3.1-3-2.3-2.8-3.1 3z"/>
<path color="#999a00" d="M312.9 79l3.1-2.9-2.4-3.1-3 2.9z"/>
<path color="#9a9b00" d="M318.3 79.4l3.1-2.7-2.3-3.3-3.1 2.7z"/>
<path color="#999c00" d="M323.7 80.4l3.1-2.5-2.3-3.7-3.1 2.5z"/>
<path color="#959d00" d="M329.1 81.7l3.1-2.3-2.3-3.9-3.1 2.4z"/>
<path color="#909e00" d="M334.5 83.6l3.1-2.1-2.3-4.2-3.1 2.1z"/>
<path color="#789b00" d="M339.9 85.9l3.2-1.9-2.3-4.5-3.2 2z"/>
<path color="#628900" d="M286.3 83.1l3-3.6-2.3-1.8-2.9 3.7z"/>
<path color="#7f9000" d="M291.6 81.4l3-3.5-2.3-2-3 3.6z"/>
<path color="#559600" d="M345.3 88.7l3.1-1.7-2.2-4.7-3.1 1.7z"/>
<path color="#2d8f00" d="M350.7 92.1l3.1-1.5-2.2-5.1-3.2 1.5z"/>
<path color="#889600" d="M299.2 82.7l3-3.4-2.3-2.5-3 3.4z"/>
<path color="#8e9800" d="M304.5 82.1l3-3.2-2.3-2.8-3 3.2z"/>
<path color="#949c00" d="M315.2 82.3l3.1-2.9-2.3-3.3-3.1 2.9z"/>
<path color="#939d00" d="M320.6 83l3.1-2.6-2.3-3.7-3.1 2.7z"/>
<path color="#859d00" d="M331.4 85.9l3.1-2.3-2.3-4.2-3.1 2.3z"/>
<path color="#6c9a00" d="M336.8 88l3.1-2.1-2.3-4.4-3.1 2.1z"/>
<path color="#5e8b00" d="M288.6 85.1l3-3.7-2.3-1.9-3 3.6z"/>
<path color="#789200" d="M293.9 83.7l3-3.5-2.3-2.3-3 3.5z"/>
<path color="#929a00" d="M309.9 82l3-3-2.3-3.1-3.1 3z"/>
<path color="#909e00" d="M326 84.2l3.1-2.5-2.3-3.8-3.1 2.5z"/>
<path color="#4c9500" d="M342.2 90.6l3.1-1.9-2.2-4.7-3.2 1.9z"/>
<path color="#2a8f00" d="M347.6 93.7l3.1-1.6-2.3-5.1-3.1 1.7z"/>
<path color="#7e9700" d="M301.5 85.4l3-3.3-2.3-2.8-3 3.4z"/>
<path color="#5d9800" d="M333.7 90.3l3.1-2.3-2.3-4.4-3.1 2.3z"/>
<path color="#578d00" d="M290.9 87.3l3-3.6-2.3-2.3-3 3.7z"/>
<path color="#6d9200" d="M296.2 86.1l3-3.4-2.3-2.5-3 3.5z"/>
<path color="#899a00" d="M306.8 85.1l3.1-3.1-2.4-3.1-3 3.2z"/>
<path color="#8c9c00" d="M312.2 85.2l3-2.9-2.3-3.3-3 3z"/>
<path color="#8c9d00" d="M317.5 85.8l3.1-2.8-2.3-3.6-3.1 2.9z"/>
<path color="#839d00" d="M322.9 86.8l3.1-2.6-2.3-3.8-3.1 2.6z"/>
<path color="#749b00" d="M328.3 88.3l3.1-2.4-2.3-4.2-3.1 2.5z"/>
<path color="#409300" d="M339.1 92.7l3.1-2.1-2.3-4.7-3.1 2.1z"/>
<path color="#289000" d="M344.5 95.6l3.1-1.9-2.3-5-3.1 1.9z"/>
<path color="#4d8d00" d="M293.2 89.7l3-3.6-2.3-2.4-3 3.6z"/>
<path color="#5f9200" d="M298.5 88.8l3-3.4-2.3-2.7-3 3.4z"/>
<path color="#739800" d="M309.1 88.4l3.1-3.2-2.3-3.2-3.1 3.1z"/>
<path color="#609800" d="M325.2 90.9l3.1-2.6-2.3-4.1-3.1 2.6z"/>
<path color="#329100" d="M336 94.9l3.1-2.2-2.3-4.7-3.1 2.3z"/>
<path color="#269000" d="M341.4 97.6l3.1-2-2.3-5-3.1 2.1z"/>
<path color="#6c9600" d="M303.8 88.4l3-3.3-2.3-3-3 3.3z"/>
<path color="#739a00" d="M314.5 88.8l3-3-2.3-3.5-3 2.9z"/>
<path color="#6d9a00" d="M319.9 89.6l3-2.8-2.3-3.8-3.1 2.8z"/>
<path color="#4d9600" d="M330.6 92.7l3.1-2.4-2.3-4.4-3.1 2.4z"/>
<path color="#3f8c00" d="M295.5 92.4l3-3.6-2.3-2.7-3 3.6z"/>
<path color="#239100" d="M338.3 99.8l3.1-2.2-2.3-4.9-3.1 2.2z"/>
<path color="#4d9100" d="M300.8 91.8l3-3.4-2.3-3-3 3.4z"/>
<path color="#569400" d="M306.1 91.6l3-3.2-2.3-3.3-3 3.3z"/>
<path color="#599500" d="M311.4 91.9l3.1-3.1-2.3-3.6-3.1 3.2z"/>
<path color="#559600" d="M316.8 92.5l3.1-2.9-2.4-3.8-3 3z"/>
<path color="#4b9500" d="M322.2 93.7l3-2.8-2.3-4.1-3 2.8z"/>
<path color="#3a9200" d="M327.5 95.2l3.1-2.5-2.3-4.4-3.1 2.6z"/>
<path color="#299100" d="M332.9 97.3l3.1-2.4-2.3-4.6-3.1 2.4z"/>
<path color="#2d8b00" d="M297.8 95.3l3-3.5-2.3-3-3 3.6z"/>
<path color="#388e00" d="M303.1 95l3-3.4-2.3-3.2-3 3.4z"/>
<path color="#3d9000" d="M308.4 95.1l3-3.2-2.3-3.5-3 3.2z"/>
<path color="#3b9100" d="M313.7 95.6l3.1-3.1-2.3-3.7-3.1 3.1z"/>
<path color="#339100" d="M319.1 96.6l3.1-2.9-2.3-4.1-3.1 2.9z"/>
<path color="#2a9000" d="M324.5 98l3-2.8-2.3-4.3-3 2.8z"/>
<path color="#269100" d="M329.8 99.8l3.1-2.5-2.3-4.6-3.1 2.5z"/>
<path color="#209100" d="M335.2 102.1l3.1-2.3-2.3-4.9-3.1 2.4z"/>
<path color="#268c00" d="M300.1 98.5l3-3.5-2.3-3.2-3 3.5z"/>
<path color="#288d00" d="M305.4 98.4l3-3.3-2.3-3.5-3 3.4z"/>
<path color="#278f00" d="M316 99.6l3.1-3-2.3-4.1-3.1 3.1z"/>
<path color="#219100" d="M326.7 102.5l3.1-2.7-2.3-4.6-3 2.8z"/>
<path color="#1c9100" d="M332.1 104.6l3.1-2.5-2.3-4.8-3.1 2.5z"/>
<path color="#288e00" d="M310.7 98.8l3-3.2-2.3-3.7-3 3.2z"/>
<path color="#259000" d="M321.4 100.8l3.1-2.8-2.3-4.3-3.1 2.9z"/>
<path color="#218d00" d="M302.4 101.9l3-3.5-2.3-3.4-3 3.5z"/>
<path color="#228e00" d="M307.7 102.1l3-3.3-2.3-3.7-3 3.3z"/>
<path color="#228f00" d="M313 102.8l3-3.2-2.3-4-3 3.2z"/>
<path color="#209000" d="M318.3 103.8l3.1-3-2.3-4.2-3.1 3z"/>
<path color="#1c9100" d="M323.7 105.3l3-2.8-2.2-4.5-3.1 2.8z"/>
<path color="#189100" d="M329 107.3l3.1-2.7-2.3-4.8-3.1 2.7z"/>
<path color="#1b8f00" d="M310 106.1l3-3.3-2.3-4-3 3.3z"/>
<path color="#179000" d="M320.6 108.3l3.1-3-2.3-4.5-3.1 3z"/>
<path color="#1b8e00" d="M304.6 105.6l3.1-3.5-2.3-3.7-3 3.5z"/>
<path color="#1a9000" d="M315.3 107l3-3.2-2.3-4.2-3 3.2z"/>
<path color="#139100" d="M325.9 110.1l3.1-2.8-2.3-4.8-3 2.8z"/>
<path color="#158e00" d="M306.9 109.5l3.1-3.4-2.3-4-3.1 3.5z"/>
<path color="#148f00" d="M312.2 110.2l3.1-3.2-2.3-4.2-3 3.3z"/>
<path color="#119000" d="M317.6 111.4l3-3.1-2.3-4.5-3 3.2z"/>
<path color="#0e9100" d="M322.9 113.1l3-3-2.2-4.8-3.1 3z"/>
<path color="#0b9000" d="M314.5 114.7l3.1-3.3-2.3-4.4-3.1 3.2z"/>
<path color="#0d8f00" d="M309.2 113.6l3-3.4-2.2-4.1-3.1 3.4z"/>
<path color="#089000" d="M319.8 116.1l3.1-3-2.3-4.8-3 3.1z"/>
<path color="#058f00" d="M311.5 118l3-3.3-2.3-4.5-3 3.4z"/>
<path color="#029000" d="M316.8 119.3l3-3.2-2.2-4.7-3.1 3.3z"/>
<path color="#009003" d="M313.8 122.7l3-3.4-2.3-4.6-3 3.3z"/>
</g>
<path d="M252 82.3L253 80.8L254 79L255 77.6L256 76.2L257 74.8L258 73.4L259 72.1L260 70.8L261 69.4L262 68.1L263 66.6L264 65.3L265 64.1L266 62.8L267 61.6L268 60.1L269 58.9L270 57.8L271 56.6L272 55.5L273 54.4L274 53.3L275 52.3L276 51.2L277 50.2L278 49.2L279 48.2L280 47.2L281 46.3L282 45.4L283 44.5L284 43.8L285 42.9L286 42.1L287 41.2L288 40.4L289 39.8L290 39L291 38.3L292 37.6L293 37L294 36.3L295 35.6L296 35L297 34.4L298 33.8L299 33.3L300 32.8L301 32.3L302 31.8L303 31.3L304 30.9L305 30.4L306 30L307 29.6L308 29.2L309 28.9L310 28.5L311 28.2L312 27.9L313 27.6L314 27.3L315 27.1L316 26.8L317 26.6L318 26.3L319 26.2L320 26L321 25.8L322 25.7L323 25.5L324 25.4L325 25.3L326 25.2L327 25.2L328 25.1L329 25.1L330 25.1L331 25.1L332 25.1L333 25.1L334 25.2L335 25.2L336 25.3L337 25.4L338 25.5L339 25.7L340 25.8L341 25.9L342 26.1L343 26.3L344 26.5L345 26.8L346 27L347 27.3L348 27.6L349 27.9L350 28.2L351 28.6L352 28.9L353 29.3L354 29.7L355 30.1L356 30.7L357 31.1L358 31.6L359 32.3L360 32.8L361 33.7L362 34.2L363 34.9L364 35.9L365 36.5L366 37.3L367 38.4L368 39.2L369 40L370 41.3L371 42.2L372 43.6L373 44.6L374 45.6L375 47.1L376 48.2L377 49.8L378 51L379 52.1L380 54L381 55.2L382 57.1L383 58.5L384 60.5L385 61.9L386 64L387 65.5L388 67.8L389 69.3L390 71.7L391 74.2L392 75.8L393 78.4L394 80.2L395 82.8L396 85.6L397 87.5L398 90.3L399 93.3" fill="none" stroke="#000" stroke-opacity=".75" stroke-width=".9" stroke-linejoin="round"/>
<path d="M313.8 122.7L316.8 119.3L319.8 116.1L322.9 113.1L325.9 110.1L329 107.3L332.1 104.6L335.2 102.1L338.3 99.8L341.4 97.6L344.5 95.6L347.6 93.7L350.7 92.1L353.8 90.6L356.9 89.3L360 88.2L363.1 87.3L366.2 86.6L369.3 86.1L372.3 85.8L375.4 85.8L378.4 86L381.5 86.4L384.5 87L387.5 87.9L390.4 89.1L393.4 90.4L396.3 92.1L399.2 94" fill="none" stroke="#000" stroke-opacity=".45" stroke-width=".5"/>
<path d="M313.8 122.7L311.5 118L309.2 113.6L306.9 109.5L304.6 105.6L302.4 101.9L300.1 98.5L297.8 95.3L295.5 92.4L293.2 89.7L290.9 87.3L288.6 85.1L286.3 83.1L284.1 81.4L281.8 79.9L279.5 78.6L277.3 77.6L275.1 76.8L272.9 76.3L270.7 75.9L268.5 75.8L266.3 75.9L264.1 76.3L262 76.9L259.9 77.7L257.8 78.7L255.7 79.9L253.7 81.4L251.7 83" fill="none" stroke="#000" stroke-opacity=".45" stroke-width=".5"/>
<text x="218.8" y="11.6" font-size="9.2" textLength="10.5" lengthAdjust="spacingAndGlyphs" class="pl">(b)</text>
<text x="246.2" y="24.8" class="tk" text-anchor="end">87</text>
<text x="247" y="36.5" class="tk" text-anchor="end">86</text>
<text x="247.8" y="48.3" class="tk" text-anchor="end">85</text>
<text x="248.5" y="60" class="tk" text-anchor="end">84</text>
<text x="249.3" y="71.7" class="tk" text-anchor="end">83</text>
<text x="250.1" y="83.5" class="tk" text-anchor="end">82</text>
<text x="250.9" y="95.2" class="tk" text-anchor="end">81</text>
<text x="319.7" y="165.7" class="tk" text-anchor="middle">30.00</text>
<text x="340.4" y="157.4" class="tk" text-anchor="middle">40.00</text>
<text x="361.1" y="149.1" class="tk" text-anchor="middle">50.00</text>
<text x="381.9" y="140.7" class="tk" text-anchor="middle">60.00</text>
<text x="402.6" y="132.4" class="tk" text-anchor="middle">70.00</text>
<text x="307.4" y="165.5" class="tk" text-anchor="middle">20.00</text>
<text x="295.4" y="157.1" class="tk" text-anchor="middle">36.00</text>
<text x="283.3" y="148.8" class="tk" text-anchor="middle">52.00</text>
<text x="271.3" y="140.4" class="tk" text-anchor="middle">68.00</text>
<text x="259.2" y="132.1" class="tk" text-anchor="middle">84.00</text>
<text x="247.2" y="123.7" class="tk" text-anchor="middle">100.00</text>
<text transform="translate(226 113) rotate(-90)" y="0" class="ax" font-size="7.9" textLength="84.6" lengthAdjust="spacingAndGlyphs">ABTS radical-scavenging</text>
<text transform="translate(234.5 90.6) rotate(-90)" y="0" class="ax" font-size="7.9" textLength="40.9" lengthAdjust="spacingAndGlyphs">capacity(%)</text>
<text transform="translate(238.9 130.7) rotate(35.9)" y="1.8" class="ax" font-size="7.59" textLength="65.9" lengthAdjust="spacingAndGlyphs">Extraction time (min)</text>
<text transform="translate(328.3 172.9) rotate(-22)" y="1.8" class="ax" font-size="7.8" textLength="86.3" lengthAdjust="spacingAndGlyphs">Liquid to solid ratio (mL/g)</text></g>
<g><path d="M35.1 210.1L121.9 192.5L192.1 221M36.5 227.2L121.9 208.7L190.8 238.1M37.9 244.3L121.9 225L189.6 255.2M39.4 261.4L122 241.2L188.3 272.3M40.8 278.5L122 257.5L187 289.4M35.1 210.1L42.6 300.1M56.8 205.7L61.1 273.2M78.5 201.3L81.4 268M100.2 196.9L101.7 262.7M121.9 192.5L122 278M192.1 221L185.4 311M174.6 213.9L170.8 281.4M157 206.8L154.5 273.4M139.4 199.6L138.2 265.5" fill="none" stroke="#6a6a6a" stroke-width="0.55"/>
<polygon points="42.6,300.1 102.8,346.4 185.4,311 122,278" fill="#ffff00" stroke="#8a8a20" stroke-width="0.5"/>
<path d="M78 327.3L80.7 328.3L82.2 328.9L85.3 330L86.9 330.5L89.6 331.5L91.5 332.2L93.5 332.9L96.1 333.8L97.7 334.4L100.7 335.5L102.3 336L105.3 337.1L106.8 337.6L109.7 338.7L111.2 339.3L114.1 340.4L115.5 341" fill="none" stroke="#d8e000" stroke-width="0.5"/>
<path d="M183.3 311.9L181.5 310.6L179.8 309.4L178.9 308.8L177.2 307.5L175.5 306.2L173.8 305M59.9 313.4L62.4 314.5L64.4 315.4L66.8 316.4L68.6 317.1L71.3 318.2L72.8 318.8L75.8 319.9L77.4 320.5L80.4 321.6L82.1 322.1L84.2 322.9L86.8 323.8L88.4 324.3L91.6 325.4L93.2 325.9L95.3 326.5L98 327.4L99.6 327.9L102.6 328.8L104.5 329.4L106.3 330L109.3 330.9L110.9 331.4L113.8 332.3L115.6 332.8L117.7 333.5L120.3 334.3L121.8 334.8L124.8 335.8L126.3 336.3M125.8 280L123.5 279.3L121.2 278.7" fill="none" stroke="#d6dc00" stroke-width="0.5"/>
<path d="M169.9 317.6L169.3 316.9L168 315.3L167.4 314.5L166.1 313L165.3 312L164.2 310.8L163.2 309.5L162.3 308.6L160.9 307.1L160.3 306.4L158.8 305L157.9 304.1L156.6 302.9L155.1 301.5L154.3 300.9L152.7 299.6L151 298.3L149.3 297L148.4 296.4L146.6 295.1L144.7 293.9L142.8 292.8L140.7 291.6L138.6 290.5L136.4 289.4L134.2 288.3L131.8 287.3L129.4 286.2L128.1 285.7L125.5 284.8L122.8 283.8L121.4 283.4L118.5 282.4L117 282L113.9 281.1L112.3 280.7M48.5 298.5L50.4 300L52.5 301.5L54.7 302.9L57.1 304.3L58.3 305L60.8 306.4L63.4 307.7L64.8 308.4L67.5 309.6L69.3 310.4L71.8 311.4L73.7 312.2L76.2 313.2L77.8 313.8L80.8 314.9L82.4 315.4L85.5 316.5L87.2 317L89.1 317.6L92.1 318.5L93.7 319L96.1 319.7L98.7 320.5L100.4 320.9L102.9 321.6L105.6 322.3L107.3 322.7L109.5 323.2L112.6 324L114.4 324.4L116.1 324.8L119.1 325.5L121.5 326L123.3 326.4L125.5 326.8L128.6 327.5L130.4 327.8L132.2 328.2L135.2 328.8L137.5 329.3L139.3 329.6" fill="none" stroke="#e6d200" stroke-width="0.5"/>
<path d="M58.5 295.7L59.3 296.5L61 298L63 299.5L65.2 300.9L67.5 302.3L68.7 302.9L71.2 304.2L73.8 305.5L75.2 306.1L78 307.3L79.5 307.9L82.5 309L84 309.5L87.2 310.6L88.8 311.1L90.7 311.7L93.8 312.6L95.5 313L97.4 313.5L100.6 314.3L102.6 314.7L104.5 315.1L106.6 315.6L109.5 316.1L112.2 316.6L114.2 316.9L116.3 317.1L118.5 317.4L120.6 317.6L122.9 317.8L125.3 318L127.8 318L130.6 318L133.7 317.9L135.7 317.6L138 317.2L140.5 316.5L142.6 315.4L143.8 314.4L144.6 313.5L145.1 312.3L145.4 311.2L145.5 310L145.3 308.5L144.9 307.4L144.5 306.5L143.9 305.1L143.2 304L142.5 303.1L141.4 301.8L140.4 300.6L139.3 299.6L137.8 298.2L136.8 297.4L135.3 296.2L133.5 295L131.6 293.7L129.5 292.6L127.4 291.4L125.1 290.3L122.8 289.2L120.5 288.2L118.9 287.6L116.2 286.7L114.7 286.1L111.8 285.2L110.3 284.8L107.1 283.9L105.4 283.5" fill="none" stroke="#eab400" stroke-width="0.5"/>
<path d="M69.3 292.7L69.7 293.5L70.8 295.2L71.6 296L73.3 297.5L75.3 298.9L77.6 300.2L79.7 301.4L81.4 302.1L84.1 303.3L85.6 303.8L88.6 304.9L90.2 305.4L92.7 306.2L95.2 306.8L97 307.3L99.1 307.7L102 308.3L104.7 308.7L106.9 309L109.2 309.3L111.6 309.4L114.2 309.5L116.2 309.5L118.1 309.3L121.5 308.8L124.3 307.9L126.3 306.5L127 305.6L127.5 304.5L127.5 303.3L127.2 301.9L126.8 301.1L126.2 300L125.2 298.7L123.8 297.3L123 296.6L121.2 295.3L119.2 294L117.1 292.8L114.8 291.7L112.4 290.6L110.9 290.1L108.1 289.1L106.6 288.6L103.4 287.7L101.6 287.3L99.8 286.9L97.3 286.4L94.6 286" fill="none" stroke="#f09a00" stroke-width="0.5"/>
<path d="M102.8 346.4l0.6 1.2M123.5 337.5l0.6 1.2M144.1 328.7l0.6 1.2M164.8 319.9l0.6 1.2M185.4 311l0.6 1.2M102.8 346.4l-0.6 1.2M87.8 334.8l-0.6 1.2M72.7 323.2l-0.6 1.2M57.6 311.7l-0.6 1.2M42.6 300.1l-0.6 1.2" stroke="#333" stroke-width="0.6" fill="none"/>
<g class="q">
<path color="#003026" d="M121.3 221.1l3.1 2.6-2.5 0-3-2.6z"/>
<path color="#001d05" d="M118.3 218.9l3 2.2-2.4 0-3-2.3z"/>
<path color="#001f14" d="M123.8 221.3l3 2.4-2.4 0-3.1-2.6z"/>
<path color="#021e00" d="M115.3 216.9l3 2-2.4-.1-3.1-2z"/>
<path color="#001e0d" d="M126.2 221.5l3 2.5-2.4-.3-3-2.4z"/>
<path color="#001d03" d="M120.7 219.1l3.1 2.2-2.5-.2-3-2.2z"/>
<path color="#091e00" d="M112.2 215.1l3.1 1.8-2.5-.1-3-1.8z"/>
<path color="#051e00" d="M117.7 217.1l3 2-2.4-.2-3-2z"/>
<path color="#001d01" d="M123.2 219.4l3 2.1-2.4-.2-3.1-2.2z"/>
<path color="#001e07" d="M128.6 221.9l3 2.4-2.4-.3-3-2.5z"/>
<path color="#071e00" d="M120.1 217.5l3.1 1.9-2.5-.3-3-2z"/>
<path color="#152000" d="M109.1 213.6l3.1 1.5-2.4-.1-3.1-1.6z"/>
<path color="#0e1f00" d="M114.6 215.4l3.1 1.7-2.4-.2-3.1-1.8z"/>
<path color="#011d00" d="M125.6 219.8l3 2.1-2.4-.4-3-2.1z"/>
<path color="#001d05" d="M131.1 222.5l3 2.3-2.5-.5-3-2.4z"/>
<path color="#1f2200" d="M106 212.3l3.1 1.3-2.4-.2-3.1-1.3z"/>
<path color="#122000" d="M117.1 215.8l3 1.7-2.4-.4-3.1-1.7z"/>
<path color="#091e00" d="M122.6 218l3 1.8-2.4-.4-3.1-1.9z"/>
<path color="#001d03" d="M133.5 223.1l3 2.3-2.4-.6-3-2.3z"/>
<path color="#1a2100" d="M111.5 213.9l3.1 1.5-2.4-.3-3.1-1.5z"/>
<path color="#031e00" d="M128 220.4l3.1 2.1-2.5-.6-3-2.1z"/>
<path color="#231f00" d="M102.9 211.3l3.1 1-2.4-.2-3.1-1.1z"/>
<path color="#222200" d="M108.5 212.7l3 1.2-2.4-.3-3.1-1.3z"/>
<path color="#1e2200" d="M114 214.4l3.1 1.4-2.5-.4-3.1-1.5z"/>
<path color="#152000" d="M119.5 216.3l3.1 1.7-2.5-.5-3-1.7z"/>
<path color="#0b1e00" d="M125 218.6l3 1.8-2.4-.6-3-1.8z"/>
<path color="#051e00" d="M130.5 221.1l3 2-2.4-.6-3.1-2.1z"/>
<path color="#001d02" d="M136 223.8l3 2.3-2.5-.7-3-2.3z"/>
<path color="#241500" d="M99.8 210.5l3.1 .8-2.4-.3-3.1-.8z"/>
<path color="#232000" d="M110.9 213.2l3.1 1.2-2.5-.5-3-1.2z"/>
<path color="#0e1f00" d="M127.4 219.3l3.1 1.8-2.5-.7-3-1.8z"/>
<path color="#001d02" d="M138.4 224.7l3 2.2-2.4-.8-3-2.3z"/>
<path color="#241a00" d="M105.4 211.7l3.1 1-2.5-.4-3.1-1z"/>
<path color="#202200" d="M116.4 215l3.1 1.3-2.4-.5-3.1-1.4z"/>
<path color="#182100" d="M121.9 217l3.1 1.6-2.4-.6-3.1-1.7z"/>
<path color="#061e00" d="M132.9 221.9l3.1 1.9-2.5-.7-3-2z"/>
<path color="#240a00" d="M96.7 210l3.1 .5-2.4-.3-3.1-.6z"/>
<path color="#240f00" d="M102.3 211l3.1 .7-2.5-.4-3.1-.8z"/>
<path color="#241500" d="M107.8 212.3l3.1 .9-2.4-.5-3.1-1z"/>
<path color="#231d00" d="M113.3 213.9l3.1 1.1-2.4-.6-3.1-1.2z"/>
<path color="#1b2100" d="M124.4 217.8l3 1.5-2.4-.7-3.1-1.6z"/>
<path color="#0f1f00" d="M129.9 220.1l3 1.8-2.4-.8-3.1-1.8z"/>
<path color="#071e00" d="M135.4 222.8l3 1.9-2.4-.9-3.1-1.9z"/>
<path color="#001d01" d="M140.8 225.6l3 2.2-2.4-.9-3-2.2z"/>
<path color="#212200" d="M118.9 215.7l3 1.3-2.4-.7-3.1-1.3z"/>
<path color="#230500" d="M93.6 209.6l3.1 .4-2.4-.4-3.1-.4z"/>
<path color="#240a00" d="M104.7 211.6l3.1 .7-2.4-.6-3.1-.7z"/>
<path color="#101f00" d="M132.3 221.1l3.1 1.7-2.5-.9-3-1.8z"/>
<path color="#001d01" d="M143.3 226.7l3 2.1-2.5-1-3-2.2z"/>
<path color="#230600" d="M99.2 210.5l3.1 .5-2.5-.5-3.1-.5z"/>
<path color="#241100" d="M110.2 213l3.1 .9-2.4-.7-3.1-.9z"/>
<path color="#241a00" d="M115.8 214.6l3.1 1.1-2.5-.7-3.1-1.1z"/>
<path color="#222200" d="M121.3 216.5l3.1 1.3-2.5-.8-3-1.3z"/>
<path color="#1d2100" d="M126.8 218.7l3.1 1.4-2.5-.8-3-1.5z"/>
<path color="#071e00" d="M137.8 223.8l3 1.8-2.4-.9-3-1.9z"/>
<path color="#220300" d="M90.5 209.5l3.1 .1-2.4-.4-3.1-.2z"/>
<path color="#220300" d="M96.1 210.2l3.1 .3-2.5-.5-3.1-.4z"/>
<path color="#230400" d="M101.6 211.2l3.1 .4-2.4-.6-3.1-.5z"/>
<path color="#230600" d="M107.1 212.4l3.1 .6-2.4-.7-3.1-.7z"/>
<path color="#241800" d="M118.2 215.5l3.1 1-2.4-.8-3.1-1.1z"/>
<path color="#1e2200" d="M129.3 219.7l3 1.4-2.4-1-3.1-1.4z"/>
<path color="#111f00" d="M134.8 222.1l3 1.7-2.4-1-3.1-1.7z"/>
<path color="#071e00" d="M140.3 224.8l3 1.9-2.5-1.1-3-1.8z"/>
<path color="#001d01" d="M145.7 227.8l3 2.1-2.4-1.1-3-2.1z"/>
<path color="#240e00" d="M112.7 213.8l3.1 .8-2.5-.7-3.1-.9z"/>
<path color="#232100" d="M123.7 217.5l3.1 1.2-2.4-.9-3.1-1.3z"/>
<path color="#220200" d="M98.5 211l3.1 .2-2.4-.7-3.1-.3z"/>
<path color="#112000" d="M137.2 223.3l3.1 1.5-2.5-1-3-1.7z"/>
<path color="#210100" d="M87.4 209.7l3.1-.2-2.4-.5-3.1 .1z"/>
<path color="#210100" d="M93 210.2l3.1 0-2.5-.6-3.1-.1z"/>
<path color="#220300" d="M104 212l3.1 .4-2.4-.8-3.1-.4z"/>
<path color="#230500" d="M109.6 213.2l3.1 .6-2.5-.8-3.1-.6z"/>
<path color="#240b00" d="M115.1 214.8l3.1 .7-2.4-.9-3.1-.8z"/>
<path color="#241600" d="M120.7 216.5l3 1-2.4-1-3.1-1z"/>
<path color="#232000" d="M126.2 218.5l3.1 1.2-2.5-1-3.1-1.2z"/>
<path color="#1e2200" d="M131.7 220.8l3.1 1.3-2.5-1-3-1.4z"/>
<path color="#071e00" d="M142.7 226l3 1.8-2.4-1.1-3-1.9z"/>
<path color="#001d01" d="M148.1 229l3 2-2.4-1.1-3-2.1z"/>
<path color="#200100" d="M84.3 210l3.1-.3-2.4-.6-3 .3z"/>
<path color="#200100" d="M95.4 211l3.1 0-2.4-.8-3.1 0z"/>
<path color="#210100" d="M100.9 211.8l3.1 .2-2.4-.8-3.1-.2z"/>
<path color="#230500" d="M112 214.2l3.1 .6-2.4-1-3.1-.6z"/>
<path color="#241500" d="M123.1 217.6l3.1 .9-2.5-1-3-1z"/>
<path color="#1e2200" d="M134.2 221.9l3 1.4-2.4-1.2-3.1-1.3z"/>
<path color="#111f00" d="M139.7 224.5l3 1.5-2.4-1.2-3.1-1.5z"/>
<path color="#001d01" d="M150.6 230.3l3 1.9-2.5-1.2-3-2z"/>
<path color="#200100" d="M89.9 210.4l3.1-.2-2.5-.7-3.1 .2z"/>
<path color="#220200" d="M106.5 212.9l3.1 .3-2.5-.8-3.1-.4z"/>
<path color="#240a00" d="M117.6 215.8l3.1 .7-2.5-1-3.1-.7z"/>
<path color="#232000" d="M128.6 219.6l3.1 1.2-2.4-1.1-3.1-1.2z"/>
<path color="#071e00" d="M145.1 227.2l3 1.8-2.4-1.2-3-1.8z"/>
<path color="#1f0100" d="M81.3 210.5l3-.5-2.3-.6-3.1 .5z"/>
<path color="#1e0100" d="M86.8 210.8l3.1-.4-2.5-.7-3.1 .3z"/>
<path color="#1e0100" d="M92.3 211.2l3.1-.2-2.4-.8-3.1 .2z"/>
<path color="#1f0100" d="M97.8 211.9l3.1-.1-2.4-.8-3.1 0z"/>
<path color="#200100" d="M103.3 212.8l3.2 .1-2.5-.9-3.1-.2z"/>
<path color="#220200" d="M108.9 213.9l3.1 .3-2.4-1-3.1-.3z"/>
<path color="#230400" d="M114.4 215.3l3.2 .5-2.5-1-3.1-.6z"/>
<path color="#240900" d="M120 216.9l3.1 .7-2.4-1.1-3.1-.7z"/>
<path color="#241500" d="M125.5 218.8l3.1 .8-2.4-1.1-3.1-.9z"/>
<path color="#232000" d="M131.1 220.9l3.1 1-2.5-1.1-3.1-1.2z"/>
<path color="#1e2200" d="M136.6 223.2l3.1 1.3-2.5-1.2-3-1.4z"/>
<path color="#111f00" d="M142.1 225.7l3 1.5-2.4-1.2-3-1.5z"/>
<path color="#071e00" d="M147.6 228.5l3 1.8-2.5-1.3-3-1.8z"/>
<path color="#001d02" d="M153 231.6l3 1.9-2.4-1.3-3-1.9z"/>
<path color="#1f0100" d="M78.2 211.3l3.1-.8-2.4-.6-3.1 .7z"/>
<path color="#1d0000" d="M89.2 211.7l3.1-.5-2.4-.8-3.1 .4z"/>
<path color="#1f0100" d="M105.8 213.9l3.1 0-2.4-1-3.2-.1z"/>
<path color="#230400" d="M116.9 216.5l3.1 .4-2.4-1.1-3.2-.5z"/>
<path color="#241500" d="M128 220.1l3.1 .8-2.5-1.3-3.1-.8z"/>
<path color="#101f00" d="M144.5 227.1l3.1 1.4-2.5-1.3-3-1.5z"/>
<path color="#001d02" d="M155.4 233l3 1.9-2.4-1.4-3-1.9z"/>
<path color="#1e0000" d="M83.7 211.4l3.1-.6-2.5-.8-3 .5z"/>
<path color="#1d0000" d="M94.7 212.2l3.1-.3-2.4-.9-3.1 .2z"/>
<path color="#1e0000" d="M100.2 212.9l3.1-.1-2.4-1-3.1 .1z"/>
<path color="#210100" d="M111.3 215.1l3.1 .2-2.4-1.1-3.1-.3z"/>
<path color="#240900" d="M122.4 218.2l3.1 .6-2.4-1.2-3.1-.7z"/>
<path color="#232100" d="M133.5 222.2l3.1 1-2.4-1.3-3.1-1z"/>
<path color="#1d2100" d="M139 224.5l3.1 1.2-2.4-1.2-3.1-1.3z"/>
<path color="#061e00" d="M150 229.9l3 1.7-2.4-1.3-3-1.8z"/>
<path color="#200100" d="M75.1 212.3l3.1-1-2.4-.7-3.1 .9z"/>
<path color="#1e0100" d="M80.6 212.2l3.1-.8-2.4-.9-3.1 .8z"/>
<path color="#1d0000" d="M86.1 212.3l3.1-.6-2.4-.9-3.1 .6z"/>
<path color="#1c0000" d="M91.6 212.7l3.1-.5-2.4-1-3.1 .5z"/>
<path color="#1e0000" d="M102.7 214.1l3.1-.2-2.5-1.1-3.1 .1z"/>
<path color="#1f0100" d="M108.2 215.1l3.1 0-2.4-1.2-3.1 0z"/>
<path color="#210100" d="M113.8 216.3l3.1 .2-2.5-1.2-3.1-.2z"/>
<path color="#230400" d="M119.3 217.8l3.1 .4-2.4-1.3-3.1-.4z"/>
<path color="#240a00" d="M124.9 219.5l3.1 .6-2.5-1.3-3.1-.6z"/>
<path color="#241600" d="M130.4 221.4l3.1 .8-2.4-1.3-3.1-.8z"/>
<path color="#1c2100" d="M141.5 225.9l3 1.2-2.4-1.4-3.1-1.2z"/>
<path color="#0e1f00" d="M147 228.5l3 1.4-2.4-1.4-3.1-1.4z"/>
<path color="#051e00" d="M152.4 231.3l3 1.7-2.4-1.4-3-1.7z"/>
<path color="#001d03" d="M157.9 234.4l2.9 1.8-2.4-1.3-3-1.9z"/>
<path color="#1d0000" d="M97.1 213.3l3.1-.4-2.4-1-3.1 .3z"/>
<path color="#232200" d="M136 223.5l3 1-2.4-1.3-3.1-1z"/>
<path color="#1d0000" d="M83 213.2l3.1-.9-2.4-.9-3.1 .8z"/>
<path color="#1f0100" d="M110.7 216.4l3.1-.1-2.5-1.2-3.1 0z"/>
<path color="#230400" d="M121.8 219.2l3.1 .3-2.5-1.3-3.1-.4z"/>
<path color="#0d1f00" d="M149.4 230l3 1.3-2.4-1.4-3-1.4z"/>
<path color="#230100" d="M72.1 213.5l3-1.2-2.4-.8-3 1.1z"/>
<path color="#1f0100" d="M77.5 213.2l3.1-1-2.4-.9-3.1 1z"/>
<path color="#1c0000" d="M88.5 213.4l3.1-.7-2.4-1-3.1 .6z"/>
<path color="#1b0000" d="M94 213.9l3.1-.6-2.4-1.1-3.1 .5z"/>
<path color="#1c0000" d="M99.6 214.5l3.1-.4-2.5-1.2-3.1 .4z"/>
<path color="#1d0000" d="M105.1 215.3l3.1-.2-2.4-1.2-3.1 .2z"/>
<path color="#220100" d="M116.2 217.7l3.1 .1-2.4-1.3-3.1-.2z"/>
<path color="#240b00" d="M127.3 220.9l3.1 .5-2.4-1.3-3.1-.6z"/>
<path color="#241800" d="M132.9 222.8l3.1 .7-2.5-1.3-3.1-.8z"/>
<path color="#222200" d="M138.4 225l3.1 .9-2.5-1.4-3-1z"/>
<path color="#1a2100" d="M143.9 227.4l3.1 1.1-2.5-1.4-3-1.2z"/>
<path color="#041e00" d="M154.9 232.8l3 1.6-2.5-1.4-3-1.7z"/>
<path color="#001d04" d="M160.3 235.8l2.9 1.9-2.4-1.5-2.9-1.8z"/>
<path color="#8d0900" d="M69 214.9l3.1-1.4-2.4-.9-3 1.3z"/>
<path color="#830400" d="M74.5 214.5l3-1.3-2.4-.9-3 1.2z"/>
<path color="#790200" d="M79.9 214.3l3.1-1.1-2.4-1-3.1 1z"/>
<path color="#280000" d="M85.4 214.4l3.1-1-2.4-1.1-3.1 .9z"/>
<path color="#190000" d="M96.4 215.1l3.2-.6-2.5-1.2-3.1 .6z"/>
<path color="#1e0000" d="M107.5 216.7l3.2-.3-2.5-1.3-3.1 .2z"/>
<path color="#1f0100" d="M113.1 217.8l3.1-.1-2.4-1.4-3.1 .1z"/>
<path color="#220200" d="M118.7 219.1l3.1 .1-2.5-1.4-3.1-.1z"/>
<path color="#230500" d="M124.2 220.6l3.1 .3-2.4-1.4-3.1-.3z"/>
<path color="#241a00" d="M135.3 224.3l3.1 .7-2.4-1.5-3.1-.7z"/>
<path color="#182100" d="M146.3 228.9l3.1 1.1-2.4-1.5-3.1-1.1z"/>
<path color="#0b1e00" d="M151.8 231.5l3.1 1.3-2.5-1.5-3-1.3z"/>
<path color="#031e00" d="M157.3 234.3l3 1.5-2.4-1.4-3-1.6z"/>
<path color="#001d05" d="M162.7 237.3l3 1.8-2.5-1.4-2.9-1.9z"/>
<path color="#1e0000" d="M90.9 214.6l3.1-.7-2.4-1.2-3.1 .7z"/>
<path color="#1c0000" d="M102 215.8l3.1-.5-2.4-1.2-3.1 .4z"/>
<path color="#240d00" d="M129.8 222.4l3.1 .4-2.5-1.4-3.1-.5z"/>
<path color="#212200" d="M140.8 226.5l3.1 .9-2.4-1.5-3.1-.9z"/>
<path color="#8f1100" d="M66 216.4l3-1.5-2.3-1-3.1 1.5z"/>
<path color="#870300" d="M76.9 215.6l3-1.3-2.4-1.1-3 1.3z"/>
<path color="#200100" d="M115.5 219.3l3.2-.2-2.5-1.4-3.1 .1z"/>
<path color="#091e00" d="M154.2 233l3.1 1.3-2.4-1.5-3.1-1.3z"/>
<path color="#001d06" d="M165.1 238.9l3 1.7-2.4-1.5-3-1.8z"/>
<path color="#930600" d="M71.4 215.9l3.1-1.4-2.4-1-3.1 1.4z"/>
<path color="#7e0100" d="M82.3 215.5l3.1-1.1-2.4-1.2-3.1 1.1z"/>
<path color="#770000" d="M87.8 215.7l3.1-1.1-2.4-1.2-3.1 1z"/>
<path color="#620000" d="M93.3 216l3.1-.9-2.4-1.2-3.1 .7z"/>
<path color="#640000" d="M98.9 216.5l3.1-.7-2.4-1.3-3.2 .6z"/>
<path color="#200000" d="M104.4 217.2l3.1-.5-2.4-1.4-3.1 .5z"/>
<path color="#1e0000" d="M110 218.1l3.1-.3-2.4-1.4-3.2 .3z"/>
<path color="#220200" d="M121.1 220.6l3.1 0-2.4-1.4-3.1-.1z"/>
<path color="#230600" d="M126.7 222.2l3.1 .2-2.5-1.5-3.1-.3z"/>
<path color="#241000" d="M132.2 223.9l3.1 .4-2.4-1.5-3.1-.4z"/>
<path color="#231c00" d="M137.7 225.9l3.1 .6-2.4-1.5-3.1-.7z"/>
<path color="#202200" d="M143.3 228l3 .9-2.4-1.5-3.1-.9z"/>
<path color="#162000" d="M148.8 230.4l3 1.1-2.4-1.5-3.1-1.1z"/>
<path color="#021e00" d="M159.7 235.8l3 1.5-2.4-1.5-3-1.5z"/>
<path color="#8e1b00" d="M63 218.2l3-1.8-2.4-1-3 1.7z"/>
<path color="#960500" d="M73.8 217.2l3.1-1.6-2.4-1.1-3.1 1.4z"/>
<path color="#7c0000" d="M90.2 217l3.1-1-2.4-1.4-3.1 1.1z"/>
<path color="#760000" d="M101.3 218l3.1-.8-2.4-1.4-3.1 .7z"/>
<path color="#240100" d="M112.4 219.7l3.1-.4-2.4-1.5-3.1 .3z"/>
<path color="#210100" d="M118 220.8l3.1-.2-2.4-1.5-3.2 .2z"/>
<path color="#240700" d="M129.1 223.7l3.1 .2-2.4-1.5-3.1-.2z"/>
<path color="#231e00" d="M140.2 227.5l3.1 .5-2.5-1.5-3.1-.6z"/>
<path color="#081e00" d="M156.7 234.6l3 1.2-2.4-1.5-3.1-1.3z"/>
<path color="#001e09" d="M167.5 240.4l3 1.7-2.4-1.5-3-1.7z"/>
<path color="#9a0f00" d="M68.4 217.6l3-1.7-2.4-1-3 1.5z"/>
<path color="#8b0300" d="M79.3 216.9l3-1.4-2.4-1.2-3 1.3z"/>
<path color="#820100" d="M84.7 216.9l3.1-1.2-2.4-1.3-3.1 1.1z"/>
<path color="#6d0000" d="M95.8 217.4l3.1-.9-2.5-1.4-3.1 .9z"/>
<path color="#750100" d="M106.9 218.7l3.1-.6-2.5-1.4-3.1 .5z"/>
<path color="#220300" d="M123.5 222.2l3.2 0-2.5-1.6-3.1 0z"/>
<path color="#241200" d="M134.6 225.5l3.1 .4-2.4-1.6-3.1-.4z"/>
<path color="#1f2200" d="M145.7 229.6l3.1 .8-2.5-1.5-3-.9z"/>
<path color="#142000" d="M151.2 232l3 1-2.4-1.5-3-1.1z"/>
<path color="#001d00" d="M162.1 237.4l3 1.5-2.4-1.6-3-1.5z"/>
<path color="#803800" d="M60 220.2l3-2-2.4-1.1-3 1.9z"/>
<path color="#981a00" d="M65.4 219.4l3-1.8-2.4-1.2-3 1.8z"/>
<path color="#a20d00" d="M70.8 218.9l3-1.7-2.4-1.3-3 1.7z"/>
<path color="#9a0500" d="M76.2 218.5l3.1-1.6-2.4-1.3-3.1 1.6z"/>
<path color="#8f0300" d="M81.7 218.3l3-1.4-2.4-1.4-3 1.4z"/>
<path color="#870100" d="M87.1 218.3l3.1-1.3-2.4-1.3-3.1 1.2z"/>
<path color="#820000" d="M92.7 218.5l3.1-1.1-2.5-1.4-3.1 1z"/>
<path color="#7e0000" d="M98.2 218.9l3.1-.9-2.4-1.5-3.1 .9z"/>
<path color="#7d0100" d="M103.7 219.5l3.2-.8-2.5-1.5-3.1 .8z"/>
<path color="#7e0200" d="M109.3 220.3l3.1-.6-2.4-1.6-3.1 .6z"/>
<path color="#7f0300" d="M114.8 221.3l3.2-.5-2.5-1.5-3.1 .4z"/>
<path color="#260200" d="M120.4 222.5l3.1-.3-2.4-1.6-3.1 .2z"/>
<path color="#230400" d="M126 223.8l3.1-.1-2.4-1.5-3.2 0z"/>
<path color="#240900" d="M131.5 225.4l3.1 .1-2.4-1.6-3.1-.2z"/>
<path color="#241500" d="M137.1 227.2l3.1 .3-2.5-1.6-3.1-.4z"/>
<path color="#232000" d="M142.6 229.1l3.1 .5-2.4-1.6-3.1-.5z"/>
<path color="#1e2200" d="M148.1 231.3l3.1 .7-2.4-1.6-3.1-.8z"/>
<path color="#111f00" d="M153.6 233.6l3.1 1-2.5-1.6-3-1z"/>
<path color="#071e00" d="M159.1 236.2l3 1.2-2.4-1.6-3-1.2z"/>
<path color="#001d01" d="M164.5 239l3 1.4-2.4-1.5-3-1.5z"/>
<path color="#001e0d" d="M169.9 241.9l3 1.7-2.4-1.5-3-1.7z"/>
<path color="#704f00" d="M57 222.3l3-2.1-2.4-1.2-2.9 2.1z"/>
<path color="#9f1900" d="M67.7 220.8l3.1-1.9-2.4-1.3-3 1.8z"/>
<path color="#a70d00" d="M73.2 220.3l3-1.8-2.4-1.3-3 1.7z"/>
<path color="#940300" d="M84.1 219.8l3-1.5-2.4-1.4-3 1.4z"/>
<path color="#880100" d="M95.1 220.1l3.1-1.2-2.4-1.5-3.1 1.1z"/>
<path color="#850200" d="M106.2 221.2l3.1-.9-2.4-1.6-3.2 .8z"/>
<path color="#880a00" d="M122.8 224.2l3.2-.4-2.5-1.6-3.1 .3z"/>
<path color="#240d00" d="M134 227.1l3.1 .1-2.5-1.7-3.1-.1z"/>
<path color="#222200" d="M145 230.8l3.1 .5-2.4-1.7-3.1-.5z"/>
<path color="#0f1f00" d="M156 235.3l3.1 .9-2.4-1.6-3.1-1z"/>
<path color="#061e00" d="M161.5 237.8l3 1.2-2.4-1.6-3-1.2z"/>
<path color="#001f11" d="M172.3 243.5l3 1.6-2.4-1.5-3-1.7z"/>
<path color="#8c3500" d="M62.4 221.5l3-2.1-2.4-1.2-3 2z"/>
<path color="#9e0500" d="M78.6 219.9l3.1-1.6-2.4-1.4-3.1 1.6z"/>
<path color="#8d0200" d="M89.6 219.9l3.1-1.4-2.5-1.5-3.1 1.3z"/>
<path color="#850100" d="M100.6 220.6l3.1-1.1-2.4-1.5-3.1 .9z"/>
<path color="#860300" d="M111.7 222l3.1-.7-2.4-1.6-3.1 .6z"/>
<path color="#880400" d="M117.3 223l3.1-.5-2.4-1.7-3.2 .5z"/>
<path color="#230500" d="M128.4 225.5l3.1-.1-2.4-1.7-3.1 .1z"/>
<path color="#241900" d="M139.5 228.9l3.1 .2-2.4-1.6-3.1-.3z"/>
<path color="#1b2100" d="M150.5 232.9l3.1 .7-2.4-1.6-3.1-.7z"/>
<path color="#001d02" d="M166.9 240.6l3 1.3-2.4-1.5-3-1.4z"/>
<path color="#757000" d="M54.1 224.7l2.9-2.4-2.3-1.2-3 2.3z"/>
<path color="#7b5200" d="M59.4 223.7l3-2.2-2.4-1.3-3 2.1z"/>
<path color="#943400" d="M64.7 222.9l3-2.1-2.3-1.4-3 2.1z"/>
<path color="#a41900" d="M70.1 222.2l3.1-1.9-2.4-1.4-3.1 1.9z"/>
<path color="#a30600" d="M81 221.5l3.1-1.7-2.4-1.5-3.1 1.6z"/>
<path color="#930200" d="M92 221.5l3.1-1.4-2.4-1.6-3.1 1.4z"/>
<path color="#8f0200" d="M97.5 221.8l3.1-1.2-2.4-1.7-3.1 1.2z"/>
<path color="#8d0200" d="M103 222.3l3.2-1.1-2.5-1.7-3.1 1.1z"/>
<path color="#8d0300" d="M108.6 222.9l3.1-.9-2.4-1.7-3.1 .9z"/>
<path color="#920600" d="M119.7 224.7l3.1-.5-2.4-1.7-3.1 .5z"/>
<path color="#880e00" d="M125.3 225.9l3.1-.4-2.4-1.7-3.2 .4z"/>
<path color="#2d0800" d="M130.8 227.3l3.2-.2-2.5-1.7-3.1 .1z"/>
<path color="#241100" d="M136.4 228.8l3.1 .1-2.4-1.7-3.1-.1z"/>
<path color="#212200" d="M147.5 232.5l3 .4-2.4-1.6-3.1-.5z"/>
<path color="#0c1f00" d="M158.4 236.9l3.1 .9-2.4-1.6-3.1-.9z"/>
<path color="#041e00" d="M163.9 239.4l3 1.2-2.4-1.6-3-1.2z"/>
<path color="#001d03" d="M169.3 242.1l3 1.4-2.4-1.6-3-1.3z"/>
<path color="#001f13" d="M174.7 245l3 1.6-2.4-1.5-3-1.6z"/>
<path color="#aa0d00" d="M75.6 221.8l3-1.9-2.4-1.4-3 1.8z"/>
<path color="#9a0400" d="M86.5 221.4l3.1-1.5-2.5-1.6-3 1.5z"/>
<path color="#8f0400" d="M114.2 223.7l3.1-.7-2.5-1.7-3.1 .7z"/>
<path color="#231c00" d="M141.9 230.6l3.1 .2-2.4-1.7-3.1-.2z"/>
<path color="#182100" d="M153 234.6l3 .7-2.4-1.7-3.1-.7z"/>
<path color="#825500" d="M61.8 225.2l2.9-2.3-2.3-1.4-3 2.2z"/>
<path color="#960300" d="M99.9 223.6l3.1-1.3-2.4-1.7-3.1 1.2z"/>
<path color="#871300" d="M127.7 227.7l3.1-.4-2.4-1.8-3.1 .4z"/>
<path color="#031e00" d="M166.3 241.1l3 1-2.4-1.5-3-1.2z"/>
<path color="#6b7600" d="M51.2 227.2l2.9-2.5-2.4-1.3-2.9 2.4z"/>
<path color="#7c7400" d="M56.4 226.1l3-2.4-2.4-1.4-2.9 2.4z"/>
<path color="#993600" d="M67.1 224.4l3-2.2-2.4-1.4-3 2.1z"/>
<path color="#a71b00" d="M72.5 223.8l3.1-2-2.4-1.5-3.1 1.9z"/>
<path color="#ad1000" d="M78 223.4l3-1.9-2.4-1.6-3 1.9z"/>
<path color="#a90700" d="M83.4 223.2l3.1-1.8-2.4-1.6-3.1 1.7z"/>
<path color="#a00500" d="M88.9 223.1l3.1-1.6-2.4-1.6-3.1 1.5z"/>
<path color="#9a0400" d="M94.4 223.3l3.1-1.5-2.4-1.7-3.1 1.4z"/>
<path color="#950300" d="M105.5 224l3.1-1.1-2.4-1.7-3.2 1.1z"/>
<path color="#950400" d="M111 224.7l3.2-1-2.5-1.7-3.1 .9z"/>
<path color="#980600" d="M116.6 225.5l3.1-.8-2.4-1.7-3.1 .7z"/>
<path color="#980b00" d="M122.1 226.5l3.2-.6-2.5-1.7-3.1 .5z"/>
<path color="#691e00" d="M133.3 229.1l3.1-.3-2.4-1.7-3.2 .2z"/>
<path color="#241500" d="M138.8 230.6l3.1 0-2.4-1.7-3.1-.1z"/>
<path color="#231f00" d="M144.4 232.3l3.1 .2-2.5-1.7-3.1-.2z"/>
<path color="#1f2200" d="M149.9 234.2l3.1 .4-2.5-1.7-3-.4z"/>
<path color="#152000" d="M155.4 236.3l3 .6-2.4-1.6-3-.7z"/>
<path color="#0a1e00" d="M160.9 238.6l3 .8-2.4-1.6-3.1-.9z"/>
<path color="#001d04" d="M171.7 243.7l3 1.3-2.4-1.5-3-1.4z"/>
<path color="#002016" d="M177.1 246.6l3 1.5-2.4-1.5-3-1.6z"/>
<path color="#4a7600" d="M48.2 229.9l3-2.7-2.4-1.4-2.9 2.7z"/>
<path color="#717c00" d="M53.5 228.7l2.9-2.6-2.3-1.4-2.9 2.5z"/>
<path color="#817800" d="M58.8 227.6l3-2.4-2.4-1.5-3 2.4z"/>
<path color="#875900" d="M64.1 226.8l3-2.4-2.4-1.5-2.9 2.3z"/>
<path color="#a91d00" d="M74.9 225.5l3.1-2.1-2.4-1.6-3.1 2z"/>
<path color="#ae1300" d="M80.4 225.2l3-2-2.4-1.7-3 1.9z"/>
<path color="#ae0a00" d="M85.8 225l3.1-1.9-2.4-1.7-3.1 1.8z"/>
<path color="#a70600" d="M91.3 224.9l3.1-1.6-2.4-1.8-3.1 1.6z"/>
<path color="#a20500" d="M96.8 225.1l3.1-1.5-2.4-1.8-3.1 1.5z"/>
<path color="#9f0500" d="M102.4 225.4l3.1-1.4-2.5-1.7-3.1 1.3z"/>
<path color="#9f0600" d="M113.5 226.5l3.1-1-2.4-1.8-3.2 1z"/>
<path color="#961100" d="M124.6 228.4l3.1-.7-2.4-1.8-3.2 .6z"/>
<path color="#841800" d="M130.1 229.6l3.2-.5-2.5-1.8-3.1 .4z"/>
<path color="#602800" d="M135.7 230.9l3.1-.3-2.4-1.8-3.1 .3z"/>
<path color="#2a1d00" d="M141.2 232.4l3.2-.1-2.5-1.7-3.1 0z"/>
<path color="#232200" d="M146.8 234.1l3.1 .1-2.4-1.7-3.1-.2z"/>
<path color="#1e2200" d="M152.3 236l3.1 .3-2.4-1.7-3.1-.4z"/>
<path color="#091e00" d="M163.3 240.3l3 .8-2.4-1.7-3-.8z"/>
<path color="#011e00" d="M168.7 242.7l3 1-2.4-1.6-3-1z"/>
<path color="#001d05" d="M174.1 245.3l3 1.3-2.4-1.6-3-1.3z"/>
<path color="#002018" d="M179.5 248.1l3 1.5-2.4-1.5-3-1.5z"/>
<path color="#9b3c00" d="M69.5 226.1l3-2.3-2.4-1.6-3 2.2z"/>
<path color="#9e0500" d="M107.9 225.9l3.1-1.2-2.4-1.8-3.1 1.1z"/>
<path color="#9f0900" d="M119 227.4l3.1-.9-2.4-1.8-3.1 .8z"/>
<path color="#122000" d="M157.8 238.1l3.1 .5-2.5-1.7-3-.6z"/>
<path color="#758000" d="M55.9 230.3l2.9-2.7-2.4-1.5-2.9 2.6z"/>
<path color="#ae1700" d="M82.8 227l3-2-2.4-1.8-3 2z"/>
<path color="#af0900" d="M93.7 226.8l3.1-1.7-2.4-1.8-3.1 1.6z"/>
<path color="#7d2400" d="M132.6 231.4l3.1-.5-2.4-1.8-3.2 .5z"/>
<path color="#302600" d="M143.7 234.3l3.1-.2-2.4-1.8-3.2 .1z"/>
<path color="#001d00" d="M171.1 244.3l3 1-2.4-1.6-3-1z"/>
<path color="#267200" d="M45.4 232.7l2.8-2.8-2.3-1.4-2.9 2.7z"/>
<path color="#4e7a00" d="M50.6 231.4l2.9-2.7-2.3-1.5-3 2.7z"/>
<path color="#867f00" d="M61.2 229.3l2.9-2.5-2.3-1.6-3 2.4z"/>
<path color="#895f00" d="M66.5 228.5l3-2.4-2.4-1.7-3 2.4z"/>
<path color="#9b4400" d="M71.9 227.8l3-2.3-2.4-1.7-3 2.3z"/>
<path color="#aa2100" d="M77.3 227.3l3.1-2.1-2.4-1.8-3.1 2.1z"/>
<path color="#b10f00" d="M88.2 226.8l3.1-1.9-2.4-1.8-3.1 1.9z"/>
<path color="#aa0700" d="M99.2 227l3.2-1.6-2.5-1.8-3.1 1.5z"/>
<path color="#a80600" d="M104.8 227.3l3.1-1.4-2.4-1.9-3.1 1.4z"/>
<path color="#a70700" d="M110.3 227.8l3.2-1.3-2.5-1.8-3.1 1.2z"/>
<path color="#a60a00" d="M115.9 228.5l3.1-1.1-2.4-1.9-3.1 1z"/>
<path color="#a01000" d="M121.4 229.3l3.2-.9-2.5-1.9-3.1 .9z"/>
<path color="#941700" d="M127 230.3l3.1-.7-2.4-1.9-3.1 .7z"/>
<path color="#572f00" d="M138.1 232.8l3.1-.4-2.4-1.8-3.1 .3z"/>
<path color="#212200" d="M149.2 235.9l3.1 .1-2.4-1.8-3.1-.1z"/>
<path color="#1b2100" d="M154.7 237.8l3.1 .3-2.4-1.8-3.1-.3z"/>
<path color="#101f00" d="M160.2 239.8l3.1 .5-2.4-1.7-3.1-.5z"/>
<path color="#071e00" d="M165.7 241.9l3 .8-2.4-1.6-3-.8z"/>
<path color="#001e07" d="M176.5 246.8l3 1.3-2.4-1.5-3-1.3z"/>
<path color="#00201a" d="M181.9 249.5l3 1.5-2.4-1.4-3-1.5z"/>
<path color="#107400" d="M42.5 235.8l2.9-3.1-2.4-1.5-2.8 3z"/>
<path color="#4f7e00" d="M52.9 233.1l3-2.8-2.4-1.6-2.9 2.7z"/>
<path color="#8b6800" d="M68.9 230.3l3-2.5-2.4-1.7-3 2.4z"/>
<path color="#a72f00" d="M79.7 229.2l3.1-2.2-2.4-1.8-3.1 2.1z"/>
<path color="#b01500" d="M90.6 228.8l3.1-2-2.4-1.9-3.1 1.9z"/>
<path color="#ae0c00" d="M107.2 229.3l3.1-1.5-2.4-1.9-3.1 1.4z"/>
<path color="#a61200" d="M118.3 230.4l3.1-1.1-2.4-1.9-3.1 1.1z"/>
<path color="#743200" d="M135 233.3l3.1-.5-2.4-1.9-3.1 .5z"/>
<path color="#353000" d="M146.1 236.1l3.1-.2-2.4-1.8-3.1 .2z"/>
<path color="#172100" d="M157.1 239.5l3.1 .3-2.4-1.7-3.1-.3z"/>
<path color="#001d01" d="M173.5 245.9l3 .9-2.4-1.5-3-1z"/>
<path color="#00211b" d="M184.3 251l3 1.4-2.4-1.4-3-1.5z"/>
<path color="#287600" d="M47.7 234.3l2.9-2.9-2.4-1.5-2.8 2.8z"/>
<path color="#778400" d="M58.2 232l3-2.7-2.4-1.7-2.9 2.7z"/>
<path color="#888400" d="M63.5 231.1l3-2.6-2.4-1.7-2.9 2.5z"/>
<path color="#994e00" d="M74.3 229.7l3-2.4-2.4-1.8-3 2.3z"/>
<path color="#ae1d00" d="M85.2 228.9l3-2.1-2.4-1.8-3 2z"/>
<path color="#b11000" d="M96.1 228.8l3.1-1.8-2.4-1.9-3.1 1.7z"/>
<path color="#b00d00" d="M101.7 229l3.1-1.7-2.4-1.9-3.2 1.6z"/>
<path color="#ab0e00" d="M112.7 229.8l3.2-1.3-2.4-2-3.2 1.3z"/>
<path color="#9d1700" d="M123.9 231.2l3.1-.9-2.4-1.9-3.2 .9z"/>
<path color="#901e00" d="M129.4 232.2l3.2-.8-2.5-1.8-3.1 .7z"/>
<path color="#4d3300" d="M140.5 234.6l3.2-.3-2.5-1.9-3.1 .4z"/>
<path color="#202200" d="M151.6 237.7l3.1 .1-2.4-1.8-3.1-.1z"/>
<path color="#0d1f00" d="M162.6 241.5l3.1 .4-2.4-1.6-3.1-.5z"/>
<path color="#061e00" d="M168.1 243.6l3 .7-2.4-1.6-3-.8z"/>
<path color="#001e0a" d="M178.9 248.3l3 1.2-2.4-1.4-3-1.3z"/>
<path color="#007509" d="M39.7 238.9l2.8-3.1-2.3-1.6-2.8 3.1z"/>
<path color="#107700" d="M44.8 237.4l2.9-3.1-2.3-1.6-2.9 3.1z"/>
<path color="#277900" d="M50 236.1l2.9-3-2.3-1.7-2.9 2.9z"/>
<path color="#4e8100" d="M55.3 234.9l2.9-2.9-2.3-1.7-3 2.8z"/>
<path color="#878700" d="M65.9 233l3-2.7-2.4-1.8-3 2.6z"/>
<path color="#8e7300" d="M71.3 232.2l3-2.5-2.4-1.9-3 2.5z"/>
<path color="#965900" d="M76.7 231.6l3-2.4-2.4-1.9-3 2.4z"/>
<path color="#a34000" d="M82.1 231.2l3.1-2.3-2.4-1.9-3.1 2.2z"/>
<path color="#ad2500" d="M87.6 230.9l3-2.1-2.4-2-3 2.1z"/>
<path color="#af1c00" d="M93.1 230.8l3-2-2.4-2-3.1 2z"/>
<path color="#af1500" d="M104.1 231l3.1-1.7-2.4-2-3.1 1.7z"/>
<path color="#ad1400" d="M109.6 231.3l3.1-1.5-2.4-2-3.1 1.5z"/>
<path color="#a91600" d="M115.2 231.8l3.1-1.4-2.4-1.9-3.2 1.3z"/>
<path color="#a31900" d="M120.7 232.4l3.2-1.2-2.5-1.9-3.1 1.1z"/>
<path color="#863000" d="M131.8 234.2l3.2-.9-2.4-1.9-3.2 .8z"/>
<path color="#693b00" d="M137.4 235.3l3.1-.7-2.4-1.8-3.1 .5z"/>
<path color="#4c3b00" d="M142.9 236.5l3.2-.4-2.4-1.8-3.2 .3z"/>
<path color="#383700" d="M148.5 237.9l3.1-.2-2.4-1.8-3.1 .2z"/>
<path color="#1e2200" d="M154 239.5l3.1 0-2.4-1.7-3.1-.1z"/>
<path color="#142000" d="M159.5 241.3l3.1 .2-2.4-1.7-3.1-.3z"/>
<path color="#051e00" d="M170.5 245.2l3 .7-2.4-1.6-3-.7z"/>
<path color="#001d02" d="M175.9 247.4l3 .9-2.4-1.5-3-.9z"/>
<path color="#001e0d" d="M181.3 249.8l3 1.2-2.4-1.5-3-1.2z"/>
<path color="#00211d" d="M186.7 252.4l3 1.4-2.4-1.4-3-1.4z"/>
<path color="#758700" d="M60.6 233.9l2.9-2.8-2.3-1.8-3 2.7z"/>
<path color="#b01700" d="M98.6 230.8l3.1-1.8-2.5-2-3.1 1.8z"/>
<path color="#9a1e00" d="M126.3 233.2l3.1-1-2.4-1.9-3.1 .9z"/>
<path color="#0a1e00" d="M165 243.2l3.1 .4-2.4-1.7-3.1-.4z"/>
<path color="#0f7a00" d="M47.2 239.3l2.8-3.2-2.3-1.8-2.9 3.1z"/>
<path color="#908000" d="M73.7 234.3l3-2.7-2.4-1.9-3 2.5z"/>
<path color="#9d5100" d="M84.5 233.3l3.1-2.4-2.4-2-3.1 2.3z"/>
<path color="#5f4200" d="M139.8 237.2l3.1-.7-2.4-1.9-3.1 .7z"/>
<path color="#383a00" d="M150.9 239.8l3.1-.3-2.4-1.8-3.1 .2z"/>
<path color="#001d03" d="M178.3 249l3 .8-2.4-1.5-3-.9z"/>
<path color="#00780a" d="M42 240.7l2.8-3.3-2.3-1.6-2.8 3.1z"/>
<path color="#267c00" d="M52.4 238l2.9-3.1-2.4-1.8-2.9 3z"/>
<path color="#6f8800" d="M63 235.8l2.9-2.8-2.4-1.9-2.9 2.8z"/>
<path color="#a63a00" d="M90 233l3.1-2.2-2.5-2-3 2.1z"/>
<path color="#ae1f00" d="M101 232.9l3.1-1.9-2.4-2-3.1 1.8z"/>
<path color="#ab1c00" d="M112 233.4l3.2-1.6-2.5-2-3.1 1.5z"/>
<path color="#9f2200" d="M123.1 234.5l3.2-1.3-2.4-2-3.2 1.2z"/>
<path color="#7b3f00" d="M134.2 236.1l3.2-.8-2.4-2-3.2 .9z"/>
<path color="#112000" d="M161.9 243l3.1 .2-2.4-1.7-3.1-.2z"/>
<path color="#031e00" d="M172.9 246.8l3 .6-2.4-1.5-3-.7z"/>
<path color="#001f10" d="M183.7 251.3l3 1.1-2.4-1.4-3-1.2z"/>
<path color="#498200" d="M57.7 236.8l2.9-2.9-2.4-1.9-2.9 2.9z"/>
<path color="#868a00" d="M68.3 235l3-2.8-2.4-1.9-3 2.7z"/>
<path color="#916600" d="M79.1 233.7l3-2.5-2.4-2-3 2.4z"/>
<path color="#ad2600" d="M95.5 232.9l3.1-2.1-2.5-2-3 2z"/>
<path color="#ad1c00" d="M106.5 233.1l3.1-1.8-2.4-2-3.1 1.7z"/>
<path color="#a61d00" d="M117.6 233.9l3.1-1.5-2.4-2-3.1 1.4z"/>
<path color="#903200" d="M128.7 235.2l3.1-1-2.4-2-3.1 1z"/>
<path color="#4f4600" d="M145.3 238.4l3.2-.5-2.4-1.8-3.2 .4z"/>
<path color="#1c2300" d="M156.4 241.3l3.1 0-2.4-1.8-3.1 0z"/>
<path color="#091e00" d="M167.4 244.8l3.1 .4-2.4-1.6-3.1-.4z"/>
<path color="#007b0c" d="M44.3 242.6l2.9-3.3-2.4-1.9-2.8 3.3z"/>
<path color="#001d04" d="M180.7 250.4l3 .9-2.4-1.5-3-.8z"/>
<path color="#0c7c00" d="M49.5 241.2l2.9-3.2-2.4-1.9-2.8 3.2z"/>
<path color="#428300" d="M60 238.9l3-3.1-2.4-1.9-2.9 2.9z"/>
<path color="#828c00" d="M70.7 237.1l3-2.8-2.4-2.1-3 2.8z"/>
<path color="#8f8c00" d="M76.1 236.4l3-2.7-2.4-2.1-3 2.7z"/>
<path color="#927500" d="M81.5 235.8l3-2.5-2.4-2.1-3 2.5z"/>
<path color="#976100" d="M86.9 235.4l3.1-2.4-2.4-2.1-3.1 2.4z"/>
<path color="#a53f00" d="M97.9 235l3.1-2.1-2.4-2.1-3.1 2.1z"/>
<path color="#a82b00" d="M108.9 235.2l3.1-1.8-2.4-2.1-3.1 1.8z"/>
<path color="#a62a00" d="M114.4 235.5l3.2-1.6-2.4-2.1-3.2 1.6z"/>
<path color="#953900" d="M125.5 236.5l3.2-1.3-2.4-2-3.2 1.3z"/>
<path color="#714900" d="M136.6 238.1l3.2-.9-2.4-1.9-3.2 .8z"/>
<path color="#604d00" d="M142.2 239.1l3.1-.7-2.4-1.9-3.1 .7z"/>
<path color="#4f4e00" d="M147.7 240.3l3.2-.5-2.4-1.9-3.2 .5z"/>
<path color="#383d00" d="M153.3 241.6l3.1-.3-2.4-1.8-3.1 .3z"/>
<path color="#0f1f00" d="M164.3 244.7l3.1 .1-2.4-1.6-3.1-.2z"/>
<path color="#021e00" d="M175.3 248.4l3 .6-2.4-1.6-3-.6z"/>
<path color="#237e00" d="M54.7 240l3-3.2-2.4-1.9-2.9 3.1z"/>
<path color="#658900" d="M65.3 237.9l3-2.9-2.4-2-2.9 2.8z"/>
<path color="#9f4f00" d="M92.4 235.2l3.1-2.3-2.4-2.1-3.1 2.2z"/>
<path color="#a83200" d="M103.4 235l3.1-1.9-2.4-2.1-3.1 1.9z"/>
<path color="#9f2f00" d="M120 235.9l3.1-1.4-2.4-2.1-3.1 1.5z"/>
<path color="#864300" d="M131.1 237.3l3.1-1.2-2.4-1.9-3.1 1z"/>
<path color="#1a2500" d="M158.8 243.1l3.1-.1-2.4-1.7-3.1 0z"/>
<path color="#081e00" d="M169.8 246.5l3.1 .3-2.4-1.6-3.1-.4z"/>
<path color="#8a8e00" d="M78.5 238.6l3-2.8-2.4-2.1-3 2.7z"/>
<path color="#615a00" d="M144.6 241.1l3.1-.8-2.4-1.9-3.1 .7z"/>
<path color="#007d0f" d="M46.7 244.6l2.8-3.4-2.3-1.9-2.9 3.3z"/>
<path color="#1f8000" d="M57.1 242.1l2.9-3.2-2.3-2.1-3 3.2z"/>
<path color="#598900" d="M67.7 240.1l3-3-2.4-2.1-3 2.9z"/>
<path color="#976100" d="M94.8 237.4l3.1-2.4-2.4-2.1-3.1 2.3z"/>
<path color="#8a4b00" d="M127.9 238.6l3.2-1.3-2.4-2.1-3.2 1.3z"/>
<path color="#353e00" d="M155.7 243.4l3.1-.3-2.4-1.8-3.1 .3z"/>
<path color="#0c1f00" d="M166.7 246.4l3.1 .1-2.4-1.7-3.1-.1z"/>
<path color="#011d00" d="M177.7 249.9l3 .5-2.4-1.4-3-.6z"/>
<path color="#077e00" d="M51.9 243.3l2.8-3.3-2.3-2-2.9 3.2z"/>
<path color="#388300" d="M62.4 241l2.9-3.1-2.3-2.1-3 3.1z"/>
<path color="#7b8e00" d="M73.1 239.2l3-2.8-2.4-2.1-3 2.8z"/>
<path color="#938700" d="M83.9 238l3-2.6-2.4-2.1-3 2.5z"/>
<path color="#937200" d="M89.3 237.6l3.1-2.4-2.4-2.2-3.1 2.4z"/>
<path color="#9c5400" d="M100.3 237.2l3.1-2.2-2.4-2.1-3.1 2.1z"/>
<path color="#9f4b00" d="M105.8 237.2l3.1-2-2.4-2.1-3.1 1.9z"/>
<path color="#9f4500" d="M111.3 237.4l3.1-1.9-2.4-2.1-3.1 1.8z"/>
<path color="#9c4300" d="M116.8 237.6l3.2-1.7-2.4-2-3.2 1.6z"/>
<path color="#954600" d="M122.4 238.1l3.1-1.6-2.4-2-3.1 1.4z"/>
<path color="#7b5000" d="M133.5 239.3l3.1-1.2-2.4-2-3.1 1.2z"/>
<path color="#6d5400" d="M139 240.1l3.2-1-2.4-1.9-3.2 .9z"/>
<path color="#4d5000" d="M150.1 242.2l3.2-.6-2.4-1.8-3.2 .5z"/>
<path color="#182600" d="M161.2 244.8l3.1-.1-2.4-1.7-3.1 .1z"/>
<path color="#071e00" d="M172.2 248.1l3.1 .3-2.4-1.6-3.1-.3z"/>
<path color="#007f00" d="M54.2 245.4l2.9-3.3-2.4-2.1-2.8 3.3z"/>
<path color="#2c8200" d="M64.8 243.2l2.9-3.1-2.4-2.2-2.9 3.1z"/>
<path color="#6b8d00" d="M75.4 241.5l3.1-2.9-2.4-2.2-3 2.8z"/>
<path color="#849000" d="M80.8 240.8l3.1-2.8-2.4-2.2-3 2.8z"/>
<path color="#948500" d="M91.7 239.9l3.1-2.5-2.4-2.2-3.1 2.4z"/>
<path color="#936600" d="M102.7 239.5l3.1-2.3-2.4-2.2-3.1 2.2z"/>
<path color="#915600" d="M119.2 239.8l3.2-1.7-2.4-2.2-3.2 1.7z"/>
<path color="#805800" d="M130.3 240.7l3.2-1.4-2.4-2-3.2 1.3z"/>
<path color="#6d6200" d="M141.4 242.1l3.2-1-2.4-2-3.2 1z"/>
<path color="#5e5e00" d="M147 243l3.1-.8-2.4-1.9-3.1 .8z"/>
<path color="#303e00" d="M158.1 245.2l3.1-.4-2.4-1.7-3.1 .3z"/>
<path color="#0a1e00" d="M169.1 248l3.1 .1-2.4-1.6-3.1-.1z"/>
<path color="#007f14" d="M49 246.7l2.9-3.4-2.4-2.1-2.8 3.4z"/>
<path color="#198100" d="M59.5 244.3l2.9-3.3-2.4-2.1-2.9 3.2z"/>
<path color="#4c8800" d="M70.1 242.3l3-3.1-2.4-2.1-3 3z"/>
<path color="#937400" d="M97.2 239.6l3.1-2.4-2.4-2.2-3.1 2.4z"/>
<path color="#955e00" d="M108.2 239.5l3.1-2.1-2.4-2.2-3.1 2z"/>
<path color="#955800" d="M113.7 239.6l3.1-2-2.4-2.1-3.1 1.9z"/>
<path color="#8b5700" d="M124.8 240.2l3.1-1.6-2.4-2.1-3.1 1.6z"/>
<path color="#4b5100" d="M152.5 244.1l3.2-.7-2.4-1.8-3.2 .6z"/>
<path color="#152600" d="M163.6 246.6l3.1-.2-2.4-1.7-3.1 .1z"/>
<path color="#061e00" d="M174.6 249.6l3.1 .3-2.4-1.5-3.1-.3z"/>
<path color="#8e8f00" d="M86.3 240.3l3-2.7-2.4-2.2-3 2.6z"/>
<path color="#775d00" d="M135.9 241.3l3.1-1.2-2.4-2-3.1 1.2z"/>
<path color="#00811c" d="M51.4 249l2.8-3.6-2.3-2.1-2.9 3.4z"/>
<path color="#108200" d="M61.8 246.6l3-3.4-2.4-2.2-2.9 3.3z"/>
<path color="#3d8700" d="M72.5 244.6l2.9-3.1-2.3-2.3-3 3.1z"/>
<path color="#5b6000" d="M149.4 244.9l3.1-.8-2.4-1.9-3.1 .8z"/>
<path color="#2a3e00" d="M160.5 247l3.1-.4-2.4-1.8-3.1 .4z"/>
<path color="#091e00" d="M171.5 249.6l3.1 0-2.4-1.5-3.1-.1z"/>
<path color="#008106" d="M56.6 247.7l2.9-3.4-2.4-2.2-2.9 3.3z"/>
<path color="#248300" d="M67.1 245.5l3-3.2-2.4-2.2-2.9 3.1z"/>
<path color="#598b00" d="M77.8 243.8l3-3-2.3-2.2-3.1 2.9z"/>
<path color="#768f00" d="M83.2 243.2l3.1-2.9-2.4-2.3-3.1 2.8z"/>
<path color="#879000" d="M88.7 242.6l3-2.7-2.4-2.3-3 2.7z"/>
<path color="#8e8f00" d="M94.1 242.2l3.1-2.6-2.4-2.2-3.1 2.5z"/>
<path color="#938900" d="M99.6 241.9l3.1-2.4-2.4-2.3-3.1 2.4z"/>
<path color="#927b00" d="M105.1 241.8l3.1-2.3-2.4-2.3-3.1 2.3z"/>
<path color="#907100" d="M110.6 241.7l3.1-2.1-2.4-2.2-3.1 2.1z"/>
<path color="#8e6a00" d="M116.1 241.8l3.1-2-2.4-2.2-3.1 2z"/>
<path color="#8a6700" d="M121.6 242l3.2-1.8-2.4-2.1-3.2 1.7z"/>
<path color="#856600" d="M127.2 242.3l3.1-1.6-2.4-2.1-3.1 1.6z"/>
<path color="#7f6800" d="M132.7 242.8l3.2-1.5-2.4-2-3.2 1.4z"/>
<path color="#776c00" d="M138.3 243.4l3.1-1.3-2.4-2-3.1 1.2z"/>
<path color="#6b6a00" d="M143.8 244.1l3.2-1.1-2.4-1.9-3.2 1z"/>
<path color="#465200" d="M154.9 245.9l3.2-.7-2.4-1.8-3.2 .7z"/>
<path color="#122500" d="M166 248.2l3.1-.2-2.4-1.6-3.1 .2z"/>
<path color="#00820d" d="M58.9 250.1l2.9-3.5-2.3-2.3-2.9 3.4z"/>
<path color="#1c8400" d="M69.5 247.9l3-3.3-2.4-2.3-3 3.2z"/>
<path color="#618d00" d="M85.6 245.6l3.1-3-2.4-2.3-3.1 2.9z"/>
<path color="#869000" d="M96.5 244.6l3.1-2.7-2.4-2.3-3.1 2.6z"/>
<path color="#8a7a00" d="M124 244.2l3.2-1.9-2.4-2.1-3.2 1.8z"/>
<path color="#7f7900" d="M135.1 244.9l3.2-1.5-2.4-2.1-3.2 1.5z"/>
<path color="#576000" d="M151.8 246.8l3.1-.9-2.4-1.8-3.1 .8z"/>
<path color="#253d00" d="M162.9 248.7l3.1-.5-2.4-1.6-3.1 .4z"/>
<path color="#008534" d="M53.7 251.3l2.9-3.6-2.4-2.3-2.8 3.6z"/>
<path color="#068300" d="M64.2 248.9l2.9-3.4-2.3-2.3-3 3.4z"/>
<path color="#2c8500" d="M74.8 247l3-3.2-2.4-2.3-2.9 3.1z"/>
<path color="#8c8e00" d="M102 244.3l3.1-2.5-2.4-2.3-3.1 2.4z"/>
<path color="#908c00" d="M107.5 244.1l3.1-2.4-2.4-2.2-3.1 2.3z"/>
<path color="#908500" d="M113 244l3.1-2.2-2.4-2.2-3.1 2.1z"/>
<path color="#8d7e00" d="M118.5 244l3.1-2-2.4-2.2-3.1 2z"/>
<path color="#676b00" d="M146.2 246.1l3.2-1.2-2.4-1.9-3.2 1.1z"/>
<path color="#3e5100" d="M157.3 247.7l3.2-.7-2.4-1.8-3.2 .7z"/>
<path color="#0f2400" d="M168.4 249.9l3.1-.3-2.4-1.6-3.1 .2z"/>
<path color="#488900" d="M80.2 246.2l3-3-2.4-2.4-3 3z"/>
<path color="#7a9000" d="M91 245l3.1-2.8-2.4-2.3-3 2.7z"/>
<path color="#857800" d="M129.6 244.5l3.1-1.7-2.4-2.1-3.1 1.6z"/>
<path color="#747300" d="M140.7 245.4l3.1-1.3-2.4-2-3.1 1.3z"/>
<path color="#00894f" d="M56.1 253.8l2.8-3.7-2.3-2.4-2.9 3.6z"/>
<path color="#008304" d="M66.6 251.4l2.9-3.5-2.4-2.4-2.9 3.4z"/>
<path color="#4e5f00" d="M154.2 248.7l3.1-1-2.4-1.8-3.1 .9z"/>
<path color="#203c00" d="M165.3 250.4l3.1-.5-2.4-1.7-3.1 .5z"/>
<path color="#008315" d="M61.3 252.5l2.9-3.6-2.4-2.3-2.9 3.5z"/>
<path color="#118400" d="M71.9 250.4l2.9-3.4-2.3-2.4-3 3.3z"/>
<path color="#358700" d="M82.6 248.7l3-3.1-2.4-2.4-3 3z"/>
<path color="#4d8b00" d="M88 248l3-3-2.3-2.4-3.1 3z"/>
<path color="#638e00" d="M93.4 247.5l3.1-2.9-2.4-2.4-3.1 2.8z"/>
<path color="#778f00" d="M98.9 247l3.1-2.7-2.4-2.4-3.1 2.7z"/>
<path color="#838f00" d="M104.4 246.7l3.1-2.6-2.4-2.3-3.1 2.5z"/>
<path color="#878d00" d="M109.8 246.4l3.2-2.4-2.4-2.3-3.1 2.4z"/>
<path color="#898b00" d="M115.4 246.3l3.1-2.3-2.4-2.2-3.1 2.2z"/>
<path color="#888800" d="M120.9 246.3l3.1-2.1-2.4-2.2-3.1 2z"/>
<path color="#858400" d="M126.4 246.4l3.2-1.9-2.4-2.2-3.2 1.9z"/>
<path color="#808000" d="M132 246.6l3.1-1.7-2.4-2.1-3.1 1.7z"/>
<path color="#787a00" d="M137.5 247l3.2-1.6-2.4-2-3.2 1.5z"/>
<path color="#626b00" d="M148.6 248l3.2-1.2-2.4-1.9-3.2 1.2z"/>
<path color="#375000" d="M159.7 249.5l3.2-.8-2.4-1.7-3.2 .7z"/>
<path color="#228500" d="M77.2 249.5l3-3.3-2.4-2.4-3 3.2z"/>
<path color="#6e7400" d="M143.1 247.4l3.1-1.3-2.4-2-3.1 1.3z"/>
<path color="#00862b" d="M63.7 255.1l2.9-3.7-2.4-2.5-2.9 3.6z"/>
<path color="#455e00" d="M156.6 250.5l3.1-1-2.4-1.8-3.1 1z"/>
<path color="#008f64" d="M58.4 256.3l2.9-3.8-2.4-2.4-2.8 3.7z"/>
<path color="#00840d" d="M68.9 253.9l3-3.5-2.4-2.5-2.9 3.5z"/>
<path color="#178500" d="M79.6 252l3-3.3-2.4-2.5-3 3.3z"/>
<path color="#398800" d="M90.4 250.5l3-3-2.4-2.5-3 3z"/>
<path color="#608d00" d="M101.3 249.4l3.1-2.7-2.4-2.4-3.1 2.7z"/>
<path color="#718e00" d="M106.7 249.1l3.1-2.7-2.3-2.3-3.1 2.6z"/>
<path color="#7c8e00" d="M112.2 248.8l3.2-2.5-2.4-2.3-3.2 2.4z"/>
<path color="#808c00" d="M117.7 248.6l3.2-2.3-2.4-2.3-3.1 2.3z"/>
<path color="#7e8500" d="M128.8 248.6l3.2-2-2.4-2.1-3.2 1.9z"/>
<path color="#727b00" d="M139.9 249l3.2-1.6-2.4-2-3.2 1.6z"/>
<path color="#596a00" d="M151 249.9l3.2-1.2-2.4-1.9-3.2 1.2z"/>
<path color="#304e00" d="M162.1 251.2l3.2-.8-2.4-1.7-3.2 .8z"/>
<path color="#048400" d="M74.2 252.9l3-3.4-2.4-2.5-2.9 3.4z"/>
<path color="#268600" d="M85 251.2l3-3.2-2.4-2.4-3 3.1z"/>
<path color="#4e8b00" d="M95.8 249.9l3.1-2.9-2.4-2.4-3.1 2.9z"/>
<path color="#808900" d="M123.3 248.6l3.1-2.2-2.4-2.2-3.1 2.1z"/>
<path color="#798000" d="M134.3 248.8l3.2-1.8-2.4-2.1-3.1 1.7z"/>
<path color="#697400" d="M145.4 249.4l3.2-1.4-2.4-1.9-3.1 1.3z"/>
<path color="#009479" d="M60.8 258.9l2.9-3.8-2.4-2.6-2.9 3.8z"/>
<path color="#3c5c00" d="M159 252.2l3.1-1-2.4-1.7-3.1 1z"/>
<path color="#008b4e" d="M66 257.7l2.9-3.8-2.3-2.5-2.9 3.7z"/>
<path color="#008507" d="M76.6 255.5l3-3.5-2.4-2.5-3 3.4z"/>
<path color="#1b8600" d="M87.3 253.8l3.1-3.3-2.4-2.5-3 3.2z"/>
<path color="#288600" d="M92.7 253l3.1-3.1-2.4-2.4-3 3z"/>
<path color="#398700" d="M98.2 252.4l3.1-3-2.4-2.4-3.1 2.9z"/>
<path color="#4b8a00" d="M103.6 251.9l3.1-2.8-2.3-2.4-3.1 2.7z"/>
<path color="#598b00" d="M109.1 251.5l3.1-2.7-2.4-2.4-3.1 2.7z"/>
<path color="#668b00" d="M114.6 251.1l3.1-2.5-2.3-2.3-3.2 2.5z"/>
<path color="#6f8a00" d="M120.1 250.9l3.2-2.3-2.4-2.3-3.2 2.3z"/>
<path color="#738800" d="M125.6 250.8l3.2-2.2-2.4-2.2-3.1 2.2z"/>
<path color="#748500" d="M131.2 250.8l3.1-2-2.3-2.2-3.2 2z"/>
<path color="#687a00" d="M142.3 251.1l3.1-1.7-2.3-2-3.2 1.6z"/>
<path color="#4e6800" d="M153.4 251.7l3.2-1.2-2.4-1.8-3.2 1.2z"/>
<path color="#008517" d="M71.3 256.5l2.9-3.6-2.3-2.5-3 3.5z"/>
<path color="#0a8500" d="M82 254.6l3-3.4-2.4-2.5-3 3.3z"/>
<path color="#708000" d="M136.7 250.9l3.2-1.9-2.4-2-3.2 1.8z"/>
<path color="#5d7200" d="M147.8 251.3l3.2-1.4-2.4-1.9-3.2 1.4z"/>
<path color="#00968c" d="M63.1 261.6l2.9-3.9-2.3-2.6-2.9 3.8z"/>
<path color="#008936" d="M73.7 259.2l2.9-3.7-2.4-2.6-2.9 3.6z"/>
<path color="#368600" d="M106 254.4l3.1-2.9-2.4-2.4-3.1 2.8z"/>
<path color="#458800" d="M111.5 253.9l3.1-2.8-2.4-2.3-3.1 2.7z"/>
<path color="#5a7800" d="M144.7 253l3.1-1.7-2.4-1.9-3.1 1.7z"/>
<path color="#436600" d="M155.8 253.5l3.2-1.3-2.4-1.7-3.2 1.2z"/>
<path color="#009167" d="M68.4 260.3l2.9-3.8-2.4-2.6-2.9 3.8z"/>
<path color="#008611" d="M79 258.2l3-3.6-2.4-2.6-3 3.5z"/>
<path color="#008503" d="M84.3 257.2l3-3.4-2.3-2.6-3 3.4z"/>
<path color="#0d8500" d="M89.7 256.4l3-3.4-2.3-2.5-3.1 3.3z"/>
<path color="#1d8500" d="M95.1 255.6l3.1-3.2-2.4-2.5-3.1 3.1z"/>
<path color="#288500" d="M100.5 254.9l3.1-3-2.3-2.5-3.1 3z"/>
<path color="#518800" d="M117 253.5l3.1-2.6-2.4-2.3-3.1 2.5z"/>
<path color="#5a8700" d="M122.5 253.2l3.1-2.4-2.3-2.2-3.2 2.3z"/>
<path color="#608500" d="M128 253l3.2-2.2-2.4-2.2-3.2 2.2z"/>
<path color="#628200" d="M133.5 252.9l3.2-2-2.4-2.1-3.1 2z"/>
<path color="#607e00" d="M139.1 252.9l3.2-1.8-2.4-2.1-3.2 1.9z"/>
<path color="#507000" d="M150.2 253.2l3.2-1.5-2.4-1.8-3.2 1.4z"/>
<path color="#009780" d="M70.7 263.1l3-3.9-2.4-2.7-2.9 3.8z"/>
<path color="#008724" d="M81.3 260.8l3-3.6-2.3-2.6-3 3.6z"/>
<path color="#0f8500" d="M97.5 258.2l3-3.3-2.3-2.5-3.1 3.2z"/>
<path color="#1d8500" d="M102.9 257.5l3.1-3.1-2.4-2.5-3.1 3z"/>
<path color="#268400" d="M108.4 256.8l3.1-2.9-2.4-2.4-3.1 2.9z"/>
<path color="#318400" d="M113.8 256.3l3.2-2.8-2.4-2.4-3.1 2.8z"/>
<path color="#3e8500" d="M119.3 255.9l3.2-2.7-2.4-2.3-3.1 2.6z"/>
<path color="#508000" d="M135.9 255.1l3.2-2.2-2.4-2-3.2 2z"/>
<path color="#4c7600" d="M147 255l3.2-1.8-2.4-1.9-3.1 1.7z"/>
<path color="#00979d" d="M65.5 264.3l2.9-4-2.4-2.6-2.9 3.9z"/>
<path color="#008e5a" d="M76 261.9l3-3.7-2.4-2.7-2.9 3.7z"/>
<path color="#00860e" d="M86.7 259.9l3-3.5-2.4-2.6-3 3.4z"/>
<path color="#008501" d="M92.1 259l3-3.4-2.4-2.6-3 3.4z"/>
<path color="#478400" d="M124.9 255.5l3.1-2.5-2.4-2.2-3.1 2.4z"/>
<path color="#4e8300" d="M130.4 255.2l3.1-2.3-2.3-2.1-3.2 2.2z"/>
<path color="#507c00" d="M141.5 255l3.2-2-2.4-1.9-3.2 1.8z"/>
<path color="#456e00" d="M152.6 255.1l3.2-1.6-2.4-1.8-3.2 1.5z"/>
<path color="#008aa5" d="M67.8 267.1l2.9-4-2.3-2.8-2.9 4z"/>
<path color="#417300" d="M149.4 256.9l3.2-1.8-2.4-1.9-3.2 1.8z"/>
<path color="#009893" d="M73.1 265.8l2.9-3.9-2.3-2.7-3 3.9z"/>
<path color="#009474" d="M78.4 264.6l2.9-3.8-2.3-2.6-3 3.7z"/>
<path color="#008c4d" d="M83.7 263.6l3-3.7-2.4-2.7-3 3.6z"/>
<path color="#008619" d="M89 262.5l3.1-3.5-2.4-2.6-3 3.5z"/>
<path color="#00850c" d="M94.4 261.6l3.1-3.4-2.4-2.6-3 3.4z"/>
<path color="#008400" d="M99.8 260.8l3.1-3.3-2.4-2.6-3 3.3z"/>
<path color="#0f8400" d="M105.3 260l3.1-3.2-2.4-2.4-3.1 3.1z"/>
<path color="#1b8400" d="M110.7 259.3l3.1-3-2.3-2.4-3.1 2.9z"/>
<path color="#248300" d="M116.2 258.7l3.1-2.8-2.3-2.4-3.2 2.8z"/>
<path color="#2b8100" d="M121.7 258.2l3.2-2.7-2.4-2.3-3.2 2.7z"/>
<path color="#368100" d="M127.2 257.8l3.2-2.6-2.4-2.2-3.1 2.5z"/>
<path color="#3d8000" d="M132.7 257.4l3.2-2.3-2.4-2.2-3.1 2.3z"/>
<path color="#427d00" d="M138.3 257.2l3.2-2.2-2.4-2.1-3.2 2.2z"/>
<path color="#437900" d="M143.8 257l3.2-2-2.3-2-3.2 2z"/>
<path color="#00850b" d="M102.2 263.4l3.1-3.4-2.4-2.5-3.1 3.3z"/>
<path color="#0e8300" d="M113.1 261.8l3.1-3.1-2.4-2.4-3.1 3z"/>
<path color="#0072a5" d="M70.2 269.9l2.9-4.1-2.4-2.7-2.9 4z"/>
<path color="#0097a5" d="M75.4 268.6l3-4-2.4-2.7-2.9 3.9z"/>
<path color="#00988a" d="M80.7 267.4l3-3.8-2.4-2.8-2.9 3.8z"/>
<path color="#00926a" d="M86 266.3l3-3.8-2.3-2.6-3 3.7z"/>
<path color="#008b42" d="M91.4 265.2l3-3.6-2.3-2.6-3.1 3.5z"/>
<path color="#008617" d="M96.8 264.3l3-3.5-2.3-2.6-3.1 3.4z"/>
<path color="#018400" d="M107.6 262.5l3.1-3.2-2.3-2.5-3.1 3.2z"/>
<path color="#198200" d="M118.6 261.1l3.1-2.9-2.4-2.3-3.1 2.8z"/>
<path color="#218100" d="M124.1 260.5l3.1-2.7-2.3-2.3-3.2 2.7z"/>
<path color="#277f00" d="M129.6 260l3.1-2.6-2.3-2.2-3.2 2.6z"/>
<path color="#2e7d00" d="M135.1 259.6l3.2-2.4-2.4-2.1-3.2 2.3z"/>
<path color="#347a00" d="M140.7 259.2l3.1-2.2-2.3-2-3.2 2.2z"/>
<path color="#377600" d="M146.2 258.9l3.2-2-2.4-1.9-3.2 2z"/>
<path color="#0056a6" d="M72.5 272.8l2.9-4.2-2.3-2.8-2.9 4.1z"/>
<path color="#00989e" d="M83.1 270.2l2.9-3.9-2.3-2.7-3 3.8z"/>
<path color="#009884" d="M88.4 269.1l3-3.9-2.4-2.7-3 3.8z"/>
<path color="#009163" d="M93.7 268l3.1-3.7-2.4-2.7-3 3.6z"/>
<path color="#008a39" d="M99.1 266.9l3.1-3.5-2.4-2.6-3 3.5z"/>
<path color="#008515" d="M104.5 266l3.1-3.5-2.3-2.5-3.1 3.4z"/>
<path color="#00840a" d="M110 265.1l3.1-3.3-2.4-2.5-3.1 3.2z"/>
<path color="#018200" d="M115.4 264.2l3.2-3.1-2.4-2.4-3.1 3.1z"/>
<path color="#0d8100" d="M120.9 263.5l3.2-3-2.4-2.3-3.1 2.9z"/>
<path color="#178000" d="M126.4 262.8l3.2-2.8-2.4-2.2-3.1 2.7z"/>
<path color="#1f7e00" d="M131.9 262.2l3.2-2.6-2.4-2.2-3.1 2.6z"/>
<path color="#277800" d="M143 261.2l3.2-2.3-2.4-1.9-3.1 2.2z"/>
<path color="#007fa6" d="M77.8 271.5l2.9-4.1-2.3-2.8-3 4z"/>
<path color="#247b00" d="M137.5 261.7l3.2-2.5-2.4-2-3.2 2.4z"/>
<path color="#0089a6" d="M85.4 273.1l3-4-2.4-2.8-2.9 3.9z"/>
<path color="#009897" d="M90.7 271.8l3-3.8-2.3-2.8-3 3.9z"/>
<path color="#00967d" d="M96.1 270.7l3-3.8-2.3-2.6-3.1 3.7z"/>
<path color="#008f5c" d="M101.5 269.6l3-3.6-2.3-2.6-3.1 3.5z"/>
<path color="#008832" d="M106.9 268.5l3.1-3.4-2.4-2.6-3.1 3.5z"/>
<path color="#008414" d="M112.3 267.6l3.1-3.4-2.3-2.4-3.1 3.3z"/>
<path color="#008209" d="M117.8 266.7l3.1-3.2-2.3-2.4-3.2 3.1z"/>
<path color="#018100" d="M123.3 265.8l3.1-3-2.3-2.3-3.2 3z"/>
<path color="#0d7f00" d="M128.8 265.1l3.1-2.9-2.3-2.2-3.2 2.8z"/>
<path color="#003ca6" d="M74.8 275.7l3-4.2-2.4-2.9-2.9 4.2z"/>
<path color="#0065a6" d="M80.1 274.4l3-4.2-2.4-2.8-2.9 4.1z"/>
<path color="#167d00" d="M134.3 264.4l3.2-2.7-2.4-2.1-3.2 2.6z"/>
<path color="#1d7a00" d="M139.8 263.7l3.2-2.5-2.3-2-3.2 2.5z"/>
<path color="#006fa6" d="M87.7 275.9l3-4.1-2.3-2.7-3 4z"/>
<path color="#0092a5" d="M93.1 274.6l3-3.9-2.4-2.7-3 3.8z"/>
<path color="#009475" d="M103.8 272.2l3.1-3.7-2.4-2.5-3 3.6z"/>
<path color="#008c56" d="M109.2 271.1l3.1-3.5-2.3-2.5-3.1 3.4z"/>
<path color="#008212" d="M120.1 269.1l3.2-3.3-2.4-2.3-3.1 3.2z"/>
<path color="#008007" d="M125.6 268.1l3.2-3-2.4-2.3-3.1 3z"/>
<path color="#0020a7" d="M77.2 278.6l2.9-4.2-2.3-2.9-3 4.2z"/>
<path color="#0048a6" d="M82.4 277.2l3-4.1-2.3-2.9-3 4.2z"/>
<path color="#009790" d="M98.4 273.4l3.1-3.8-2.4-2.7-3 3.8z"/>
<path color="#00862a" d="M114.6 270.1l3.2-3.4-2.4-2.5-3.1 3.4z"/>
<path color="#027e00" d="M131.1 267.3l3.2-2.9-2.4-2.2-3.1 2.9z"/>
<path color="#0d7c00" d="M136.6 266.4l3.2-2.7-2.3-2-3.2 2.7z"/>
<path color="#0053a6" d="M90 278.7l3.1-4.1-2.4-2.8-3 4.1z"/>
<path color="#008320" d="M122.4 271.4l3.2-3.3-2.3-2.3-3.2 3.3z"/>
<path color="#0011a4" d="M79.5 281.6l2.9-4.4-2.3-2.8-2.9 4.2z"/>
<path color="#002da7" d="M84.8 280.1l2.9-4.2-2.3-2.8-3 4.1z"/>
<path color="#0079a5" d="M95.4 277.4l3-4-2.3-2.7-3 3.9z"/>
<path color="#0098a3" d="M100.7 276.1l3.1-3.9-2.3-2.6-3.1 3.8z"/>
<path color="#00968a" d="M106.1 274.8l3.1-3.7-2.3-2.6-3.1 3.7z"/>
<path color="#00916d" d="M111.5 273.7l3.1-3.6-2.3-2.5-3.1 3.5z"/>
<path color="#008a4c" d="M117 272.5l3.1-3.4-2.3-2.4-3.2 3.4z"/>
<path color="#00800f" d="M127.9 270.4l3.2-3.1-2.3-2.2-3.2 3z"/>
<path color="#007e05" d="M133.4 269.4l3.2-3-2.3-2-3.2 2.9z"/>
<path color="#00059f" d="M81.8 284.6l3-4.5-2.4-2.9-2.9 4.4z"/>
<path color="#0017a6" d="M87.1 283l2.9-4.3-2.3-2.8-2.9 4.2z"/>
<path color="#0060a5" d="M97.7 280.2l3-4.1-2.3-2.7-3 4z"/>
<path color="#009582" d="M113.9 276.2l3.1-3.7-2.4-2.4-3.1 3.6z"/>
<path color="#00863e" d="M124.8 273.7l3.1-3.3-2.3-2.3-3.2 3.3z"/>
<path color="#008017" d="M130.3 272.6l3.1-3.2-2.3-2.1-3.2 3.1z"/>
<path color="#0039a6" d="M92.4 281.6l3-4.2-2.3-2.8-3.1 4.1z"/>
<path color="#0082a4" d="M103.1 278.8l3-4-2.3-2.6-3.1 3.9z"/>
<path color="#00969a" d="M108.4 277.4l3.1-3.7-2.3-2.6-3.1 3.7z"/>
<path color="#008e63" d="M119.3 274.9l3.1-3.5-2.3-2.3-3.1 3.4z"/>
<path color="#000093" d="M84.1 287.5l3-4.5-2.3-2.9-3 4.5z"/>
<path color="#008956" d="M127.1 276l3.2-3.4-2.4-2.2-3.1 3.3z"/>
<path color="#000ba1" d="M89.4 285.9l3-4.3-2.4-2.9-2.9 4.3z"/>
<path color="#001fa6" d="M94.7 284.4l3-4.2-2.3-2.8-3 4.2z"/>
<path color="#0045a6" d="M100 282.9l3.1-4.1-2.4-2.7-3 4.1z"/>
<path color="#006ba4" d="M105.4 281.4l3-4-2.3-2.6-3 4z"/>
<path color="#008da3" d="M110.8 280l3.1-3.8-2.4-2.5-3.1 3.7z"/>
<path color="#009591" d="M116.2 278.6l3.1-3.7-2.3-2.4-3.1 3.7z"/>
<path color="#009276" d="M121.6 277.3l3.2-3.6-2.4-2.3-3.1 3.5z"/>
<path color="#00008c" d="M86.4 290.5l3-4.6-2.3-2.9-3 4.5z"/>
<path color="#00009d" d="M91.7 288.8l3-4.4-2.3-2.8-3 4.3z"/>
<path color="#0011a3" d="M97 287.2l3-4.3-2.3-2.7-3 4.2z"/>
<path color="#002da5" d="M102.3 285.6l3.1-4.2-2.3-2.6-3.1 4.1z"/>
<path color="#0053a4" d="M107.7 284l3.1-4-2.4-2.6-3 4z"/>
<path color="#0078a3" d="M113.1 282.5l3.1-3.9-2.3-2.4-3.1 3.8z"/>
<path color="#00959f" d="M118.5 281l3.1-3.7-2.3-2.4-3.1 3.7z"/>
<path color="#009385" d="M123.9 279.6l3.2-3.6-2.3-2.3-3.2 3.6z"/>
<path color="#000086" d="M88.7 293.4l3-4.6-2.3-2.9-3 4.6z"/>
<path color="#00008f" d="M94 291.7l3-4.5-2.3-2.8-3 4.4z"/>
<path color="#0018a5" d="M104.6 288.3l3.1-4.3-2.3-2.6-3.1 4.2z"/>
<path color="#0064a3" d="M115.4 285l3.1-4-2.3-2.4-3.1 3.9z"/>
<path color="#0086a1" d="M120.8 283.4l3.1-3.8-2.3-2.3-3.1 3.7z"/>
<path color="#00079f" d="M99.3 290l3-4.4-2.3-2.7-3 4.3z"/>
<path color="#003da4" d="M110 286.6l3.1-4.1-2.3-2.5-3.1 4z"/>
<path color="#000081" d="M91 296.3l3-4.6-2.3-2.9-3 4.6z"/>
<path color="#000089" d="M96.3 294.5l3-4.5-2.3-2.8-3 4.5z"/>
<path color="#000097" d="M101.6 292.7l3-4.4-2.3-2.7-3 4.4z"/>
<path color="#000ea1" d="M106.9 290.9l3.1-4.3-2.3-2.6-3.1 4.3z"/>
<path color="#0028a4" d="M112.3 289.2l3.1-4.2-2.3-2.5-3.1 4.1z"/>
<path color="#004fa2" d="M117.7 287.4l3.1-4-2.3-2.4-3.1 4z"/>
<path color="#000084" d="M98.6 297.3l3-4.6-2.3-2.7-3 4.5z"/>
<path color="#00059d" d="M109.2 293.5l3.1-4.3-2.3-2.6-3.1 4.3z"/>
<path color="#00007d" d="M93.3 299.2l3-4.7-2.3-2.8-3 4.6z"/>
<path color="#00008d" d="M103.9 295.4l3-4.5-2.3-2.6-3 4.4z"/>
<path color="#0017a3" d="M114.6 291.6l3.1-4.2-2.3-2.4-3.1 4.2z"/>
<path color="#00007a" d="M95.6 302.1l3-4.8-2.3-2.8-3 4.7z"/>
<path color="#000080" d="M100.8 300.1l3.1-4.7-2.3-2.7-3 4.6z"/>
<path color="#000088" d="M106.1 298l3.1-4.5-2.3-2.6-3 4.5z"/>
<path color="#000096" d="M111.5 296l3.1-4.4-2.3-2.4-3.1 4.3z"/>
<path color="#00007c" d="M103.1 302.8l3-4.8-2.2-2.6-3.1 4.7z"/>
<path color="#000076" d="M97.8 304.9l3-4.8-2.2-2.8-3 4.8z"/>
<path color="#000083" d="M108.4 300.6l3.1-4.6-2.3-2.5-3.1 4.5z"/>
<path color="#000072" d="M100.1 307.7l3-4.9-2.3-2.7-3 4.8z"/>
<path color="#000079" d="M105.4 305.4l3-4.8-2.3-2.6-3 4.8z"/>
<path color="#00006f" d="M102.3 310.4l3.1-5-2.3-2.6-3 4.9z"/>
</g>
<path d="M37 237.6L38 236.5L39 235.4L40 234.3L41 233.3L42 232.3L43 231.3L44 230.3L45 229.3L46 228.4L47 227.4L48 226.5L49 225.6L50 224.8L51 223.9L52 223.1L53 222.7L54 221.9L55 221.2L56 220.4L57 219.7L58 219L59 218.3L60 217.7L61 217L62 216.4L63 215.9L64 215.3L65 215L66 214.5L67 214L68 213.5L69 213.1L70 212.7L71 212.3L72 211.9L73 211.7L74 211.4L75 211.1L76 210.8L77 210.5L78 210.3L79 210.1L80 209.9L81 209.8L82 209.6L83 209.5L84 209.4L85 209.4L86 209.3L87 209.3L88 209.3L89 209.3L90 209.4L91 209.4L92 209.5L93 209.7L94 209.8L95 209.9L96 210.1L97 210.2L98 210.4L99 210.6L100 210.8L101 210.9L102 211.2L103 211.4L104 211.6L105 211.8L106 212.1L107 212.3L108 212.6L109 212.8L110 213.1L111 213.3L112 213.7L113 213.9L114 214.2L115 214.5L116 214.9L117 215.2L118 215.5L119 215.9L120 216.2L121 216.5L122 217L123 217.3L124 217.7L125 218.1L126 218.5L127 218.8L128 219.3L129 219.7L130 220.1L131 220.6L132 221L133 221.4L134 221.9L135 222.3L136 222.8L137 223.3L138 223.7L139 224.2L140 224.7L141 225.2L142 225.7L143 226.2L144 226.7L145 227.2L146 227.8L147 228.3L148 228.9L149 229.4L150 229.9L151 230.5L152 231.1L153 231.6L154 232.1L155 232.7L156 233.3L157 233.9L158 234.5L159 235.1L160 235.7L161 236.3L162 236.9L163 237.5L164 238.1L165 238.7L166 239.3L167 240L168 240.6L169 241.2L170 241.8L171 242.5L172 243.1L173 243.8L174 244.3L175 245L176 245.7L177 246.2L178 247L179 247.5L180 248.1L181 248.8L182 249.4L183 249.9L184 250.6L185 251.2L186 251.9L187 252.4L188 252.9L189 253.6L190 254.1" fill="none" stroke="#000" stroke-opacity=".75" stroke-width=".9" stroke-linejoin="round"/>
<path d="M102.3 310.4L105.4 305.4L108.4 300.6L111.5 296L114.6 291.6L117.7 287.4L120.8 283.4L123.9 279.6L127.1 276L130.3 272.6L133.4 269.4L136.6 266.4L139.8 263.7L143 261.2L146.2 258.9L149.4 256.9L152.6 255.1L155.8 253.5L159 252.2L162.1 251.2L165.3 250.4L168.4 249.9L171.5 249.6L174.6 249.6L177.7 249.9L180.7 250.4L183.7 251.3L186.7 252.4L189.7 253.8" fill="none" stroke="#000" stroke-opacity=".45" stroke-width=".5"/>
<path d="M102.3 310.4L100.1 307.7L97.8 304.9L95.6 302.1L93.3 299.2L91 296.3L88.7 293.4L86.4 290.5L84.1 287.5L81.8 284.6L79.5 281.6L77.2 278.6L74.8 275.7L72.5 272.8L70.2 269.9L67.8 267.1L65.5 264.3L63.1 261.6L60.8 258.9L58.4 256.3L56.1 253.8L53.7 251.3L51.4 249L49 246.7L46.7 244.6L44.3 242.6L42 240.7L39.7 238.9L37.4 237.3" fill="none" stroke="#000" stroke-opacity=".45" stroke-width=".5"/>
<text x="4.4" y="196.2" font-size="10" textLength="13.2" lengthAdjust="spacingAndGlyphs" class="pl">(C)</text>
<text x="33.5" y="210.3" class="tk" text-anchor="end">90</text>
<text x="34.9" y="227.4" class="tk" text-anchor="end">85</text>
<text x="36.3" y="244.5" class="tk" text-anchor="end">80</text>
<text x="37.8" y="261.6" class="tk" text-anchor="end">75</text>
<text x="39.2" y="278.7" class="tk" text-anchor="end">70</text>
<text x="108.2" y="350.1" class="tk" text-anchor="middle">30.00</text>
<text x="128.8" y="341.2" class="tk" text-anchor="middle">40.00</text>
<text x="149.5" y="332.4" class="tk" text-anchor="middle">50.00</text>
<text x="170.2" y="323.6" class="tk" text-anchor="middle">60.00</text>
<text x="190.8" y="314.7" class="tk" text-anchor="middle">70.00</text>
<text x="95.6" y="350.7" class="tk" text-anchor="middle">20.00</text>
<text x="80.5" y="339.1" class="tk" text-anchor="middle">30.00</text>
<text x="65.5" y="327.6" class="tk" text-anchor="middle">40.00</text>
<text x="50.4" y="316" class="tk" text-anchor="middle">50.00</text>
<text x="35.4" y="304.4" class="tk" text-anchor="middle">60.00</text>
<text transform="translate(12.4 300.2) rotate(-90)" y="0" class="ax" font-size="7.9" textLength="82.5" lengthAdjust="spacingAndGlyphs">ABTS radical-scavenging</text>
<text transform="translate(21.2 281) rotate(-90)" y="0" class="ax" font-size="7.9" textLength="44.7" lengthAdjust="spacingAndGlyphs">capacity (%)</text>
<text transform="translate(24.9 306.7) rotate(36.7)" y="1.8" class="ax" font-size="7.8" textLength="85.5" lengthAdjust="spacingAndGlyphs">Ethanol concentration (%)</text>
<text transform="translate(115.5 352.5) rotate(-20)" y="1.9" class="ax" font-size="8.11" textLength="94.6" lengthAdjust="spacingAndGlyphs">Liquid to solid ratio (mL/g)</text></g>
<g><path d="M251.6 227.1L334.3 212.5L400.7 235.1M252.2 234.9L334.3 219.5L400.2 242.9M252.8 242.7L334.2 226.5L399.7 250.6M253.4 250.5L334.2 233.6L399.2 258.4M253.9 258.3L334.2 240.6L398.7 266.1M254.5 266.1L334.2 247.6L398.2 273.9M255.1 273.9L334.1 254.6L397.6 281.6M255.7 281.7L334.1 261.7L397.1 289.4M256.3 289.5L334.1 268.7L396.6 297.1M251.6 227.1L257.9 311.3M272.3 223.4L275.7 284.3M292.9 219.8L295.2 279.1M313.6 216.2L314.6 273.9M334.3 212.5L334 288.3M400.7 235.1L395.2 318.8M387.4 230.6L384.1 291.4M374.1 226.1L371.6 285.7M360.9 221.5L359.1 280.1M347.6 217L346.6 274.4" fill="none" stroke="#6a6a6a" stroke-width="0.55"/>
<polygon points="257.9,311.3 315.5,350.2 395.2,318.8 334,288.3" fill="#ffff00" stroke="#8a8a20" stroke-width="0.5"/>
<path d="M374.8 326.8L376.3 326L378.5 324.7L379.9 323.9L381.8 322.8L384 321.5L385.1 320.8L387.3 319.6L389.2 318.4L390.5 317.7M306.9 344.4L309.2 344.5L311.6 344.6L314.3 344.6L317.1 344.5L319.4 344.4L321.3 344.2L323.5 344L326.7 343.6L328.5 343.4L331.3 343L333.6 342.6L336.3 342M261.2 310.3L260.4 311.5L259.8 312.6" fill="none" stroke="#d8e000" stroke-width="0.5"/>
<path d="M299.4 339.3L301.9 339.6L304.2 339.8L306.5 340L308.7 340.1L310.9 340.1L312.9 340.1L315.5 340.1L318.6 339.9L320.6 339.7L322.4 339.5L326 339.1L327.6 338.8L330.7 338.2L332.5 337.9L335.7 337.1L337.2 336.7L340.1 335.9L343 335L345.7 334L348.4 333L351 332L353.5 330.9L355.9 329.7L358.1 328.6L359.5 327.9L361.7 326.7L364 325.4L365 324.8L367.2 323.5L368.2 322.8L370.3 321.5L371.8 320.6L373.3 319.5L375 318.4L376.3 317.5L378 316.4L379.3 315.5L381 314.3L382.3 313.5M335.7 289.2L332.8 289.7L330.9 290.1L328.3 290.5L325.3 291.1M274.1 306.4L272.6 307.5L271.7 308.2L270.6 309.3L269.5 310.4L268.9 311.2L268.3 312.1L267.7 313L267.2 314.1L266.8 315.1L266.6 316.2" fill="none" stroke="#d6dc00" stroke-width="0.5"/>
<path d="M286.7 330.7L288 331.3L290.7 332.3L292.2 332.8L294.7 333.5L297 334L298.8 334.3L300.7 334.6L302.9 334.9L305.3 335.1L307.6 335.3L309.7 335.3L312.3 335.3L315.2 335.2L317.6 335.1L319.4 334.9L322.3 334.5L324.6 334.2L327.1 333.7L329.4 333.2L332.4 332.5L334.9 331.8L336.7 331.2L339.4 330.2L342 329.2L344.5 328.2L345.7 327.6L348.1 326.5L350.4 325.3L351.9 324.4L353.6 323.4L355.7 322.1L356.7 321.4L358.6 320.1L359.6 319.4L361.2 318.1L362.3 317.2L363.3 316.4L364.9 315.1L365.7 314.3L366.9 313.3L368.2 312.1L369 311.4L370 310.4L371.3 309.1L372 308.4M344.8 293.7L342.6 293.9L339.6 294.2L337.9 294.4L334.6 294.8L332.9 295L329.8 295.4L328 295.6L325.1 296L323.2 296.3L320 296.8L318.5 297L315.4 297.5L313.9 297.8L311 298.4L308.1 298.9L305.7 299.4L303.8 299.9L301.1 300.6L298.5 301.3L295.9 302L293.4 302.9L291.1 303.7L288.8 304.6L287.7 305.2L285.5 306.2L284 307L282.6 307.9L281.2 308.8L279.9 309.8L279.1 310.5L278 311.6L277 312.9L276.5 313.7L276 314.6L275.6 315.6L275.3 316.7L275.2 317.9L275.3 319.1L275.4 320L275.7 320.9L276.4 322.5L276.9 323.4L278.1 324.9" fill="none" stroke="#e6d200" stroke-width="0.5"/>
<path d="M323.1 329.4L324.7 329.1L327.7 328.3L330.5 327.5L333.2 326.6L335.7 325.5L338.1 324.4L340.4 323.3L341.8 322.5L343.6 321.4L345.2 320.4L346.5 319.4L347.5 318.6L349.1 317.2L349.9 316.5L350.8 315.6L351.9 314.2L352.6 313.2L353.2 312.4L353.7 311.5L354.2 310.6L354.5 309.6L354.7 308.6L354.8 307.5L354.6 306.3L354.3 305.4L353.8 304.7L352.4 303.4L350.3 302.4L347.9 301.7L346 301.3L344.2 301L342 300.8L339.6 300.6L337.4 300.6L335.1 300.6L332.3 300.6L329.4 300.7L327.5 300.8L325.7 301L322.2 301.3L320.6 301.5L317.6 301.8L315.7 302.1L312.6 302.6L311.1 302.9L308.2 303.5L305.4 304.1L302.6 304.9L300.1 305.6L297.6 306.5L295.2 307.4L293 308.4L291.6 309.2L290 310.2L288.8 311L287.4 312.2L286.7 312.9L286 313.8L285.2 314.9L284.7 316L284.5 317.1L284.4 318L284.4 319L284.9 320.4L285.4 321.5L286.1 322.5L287.3 323.7L288.9 325.1L291 326.3L293.3 327.5L294.6 328L297.5 328.9L299.2 329.3L301.1 329.7L303.7 330.1L306.1 330.4L308.4 330.5L310.5 330.6L312.5 330.6L314.9 330.4L318.1 330.2L319.8 329.9L323.1 329.4" fill="none" stroke="#eab400" stroke-width="0.5"/>
<path d="M318.8 325.2L321.6 324.6L324.5 323.9L327.2 323L329.6 321.9L331.9 320.8L333 320.1L334.8 318.8L335.7 318.1L337.1 316.8L338 315.8L338.5 314.9L339 314L339.3 313L339.3 311.8L339 310.7L338.6 309.9L337.1 308.7L334.9 307.6L332.6 307L330.2 306.5L328.2 306.3L325.8 306.2L323.2 306.2L321.1 306.3L319.3 306.4L316.3 306.7L314.2 307L311.1 307.5L309.7 307.8L306.9 308.5L304.3 309.3L301.8 310.2L300 311.1L298.6 311.8L296.9 313L296 313.8L295.2 314.6L294.6 315.6L294.1 316.7L294 317.7L294.1 318.9L294.8 320.3L295.4 321L297 322.4L299.1 323.5L300.4 324.1L303.3 324.9L305.1 325.3L307 325.6L309.2 325.8L311.7 325.8L314.8 325.7L316.8 325.5L318.8 325.2" fill="none" stroke="#f09a00" stroke-width="0.5"/>
<path d="M315.5 350.2l0.6 1.2M335.4 342.4l0.6 1.2M355.4 334.5l0.6 1.2M375.3 326.6l0.6 1.2M395.2 318.8l0.6 1.2M315.5 350.2l-0.6 1.2M304 342.4l-0.6 1.2M292.5 334.6l-0.6 1.2M280.9 326.9l-0.6 1.2M269.4 319.1l-0.6 1.2M257.9 311.3l-0.6 1.2" stroke="#333" stroke-width="0.6" fill="none"/>
<g class="q">
<path color="#001b24" d="M333.6 242.5l2.9-.1-2.3 1.9-2.9 .1z"/>
<path color="#00242b" d="M330.7 242.5l2.9 0-2.3 1.9-2.8 .1z"/>
<path color="#00211f" d="M335.9 240.9l2.9-.1-2.3 1.6-2.9 .1z"/>
<path color="#002e33" d="M327.9 242.5l2.8 0-2.2 2-2.9 0z"/>
<path color="#002016" d="M338.3 239.5l2.8 0-2.3 1.3-2.9 .1z"/>
<path color="#00211d" d="M333 240.8l2.9 .1-2.3 1.6-2.9 0z"/>
<path color="#003436" d="M325 242.4l2.9 .1-2.3 2-2.9 0z"/>
<path color="#00211b" d="M330.2 240.8l2.8 0-2.3 1.7-2.8 0z"/>
<path color="#001f12" d="M335.4 239.4l2.9 .1-2.4 1.4-2.9-.1z"/>
<path color="#001e08" d="M340.6 238.4l2.9 0-2.4 1.1-2.8 0z"/>
<path color="#001e0d" d="M332.5 239.3l2.9 .1-2.4 1.4-2.8 0z"/>
<path color="#003836" d="M322.1 242.4l2.9 0-2.3 2.1-2.8-.1z"/>
<path color="#002017" d="M327.3 240.7l2.9 .1-2.3 1.7-2.9-.1z"/>
<path color="#001d05" d="M337.7 238.3l2.9 .1-2.3 1.1-2.9-.1z"/>
<path color="#001d03" d="M342.9 237.6l2.9 0-2.3 .8-2.9 0z"/>
<path color="#003b35" d="M319.2 242.3l2.9 .1-2.2 2-2.9 0z"/>
<path color="#001e08" d="M329.6 239.2l2.9 .1-2.3 1.5-2.9-.1z"/>
<path color="#001d04" d="M334.8 238.2l2.9 .1-2.3 1.1-2.9-.1z"/>
<path color="#001d01" d="M345.3 237l2.9 .1-2.4 .5-2.9 0z"/>
<path color="#002216" d="M324.4 240.6l2.9 .1-2.3 1.7-2.9 0z"/>
<path color="#001d03" d="M340 237.5l2.9 .1-2.3 .8-2.9-.1z"/>
<path color="#003d32" d="M316.3 242.2l2.9 .1-2.2 2.1-2.9 0z"/>
<path color="#002413" d="M321.5 240.5l2.9 .1-2.3 1.8-2.9-.1z"/>
<path color="#001d05" d="M326.7 239.1l2.9 .1-2.3 1.5-2.9-.1z"/>
<path color="#001d03" d="M331.9 238l2.9 .2-2.3 1.1-2.9-.1z"/>
<path color="#001d02" d="M337.1 237.3l2.9 .2-2.3 .8-2.9-.1z"/>
<path color="#001d00" d="M342.3 236.9l3 .1-2.4 .6-2.9-.1z"/>
<path color="#001d00" d="M347.6 236.7l2.9 .1-2.3 .3-2.9-.1z"/>
<path color="#003c2d" d="M313.4 242.2l2.9 0-2.2 2.2-2.9 0z"/>
<path color="#001d04" d="M323.7 238.9l3 .2-2.3 1.5-2.9-.1z"/>
<path color="#011d00" d="M339.4 236.7l2.9 .2-2.3 .6-2.9-.2z"/>
<path color="#021e00" d="M349.9 236.6l3 .1-2.4 .1-2.9-.1z"/>
<path color="#00260d" d="M318.6 240.4l2.9 .1-2.3 1.8-2.9-.1z"/>
<path color="#001d02" d="M328.9 237.9l3 .1-2.3 1.2-2.9-.1z"/>
<path color="#001d00" d="M334.2 237.1l2.9 .2-2.3 .9-2.9-.2z"/>
<path color="#021e00" d="M344.7 236.5l2.9 .2-2.3 .3-3-.1z"/>
<path color="#003b28" d="M310.5 242.2l2.9 0-2.2 2.2-2.9 0z"/>
<path color="#002607" d="M315.7 240.3l2.9 .1-2.3 1.8-2.9 0z"/>
<path color="#001d03" d="M320.8 238.8l2.9 .1-2.2 1.6-2.9-.1z"/>
<path color="#001d01" d="M326 237.7l2.9 .2-2.2 1.2-3-.2z"/>
<path color="#021e00" d="M336.5 236.5l2.9 .2-2.3 .6-2.9-.2z"/>
<path color="#031e00" d="M341.7 236.4l3 .1-2.4 .4-2.9-.2z"/>
<path color="#041e00" d="M347 236.5l2.9 .1-2.3 .1-2.9-.2z"/>
<path color="#041e00" d="M352.3 236.8l2.9 .1-2.3-.2-3-.1z"/>
<path color="#011d00" d="M331.2 236.9l3 .2-2.3 .9-3-.1z"/>
<path color="#003922" d="M307.6 242.3l2.9-.1-2.2 2.2-2.8 .1z"/>
<path color="#001d02" d="M317.9 238.7l2.9 .1-2.2 1.6-2.9-.1z"/>
<path color="#051e00" d="M344.1 236.3l2.9 .2-2.3 0-3-.1z"/>
<path color="#051e00" d="M354.6 237.3l3 .1-2.4-.5-2.9-.1z"/>
<path color="#002606" d="M312.8 240.3l2.9 0-2.3 1.9-2.9 0z"/>
<path color="#001d00" d="M323.1 237.6l2.9 .1-2.3 1.2-2.9-.1z"/>
<path color="#021e00" d="M328.3 236.8l2.9 .1-2.3 1-2.9-.2z"/>
<path color="#041e00" d="M333.6 236.3l2.9 .2-2.3 .6-3-.2z"/>
<path color="#051e00" d="M338.8 236.2l2.9 .2-2.3 .3-2.9-.2z"/>
<path color="#051e00" d="M349.3 236.7l3 .1-2.4-.2-2.9-.1z"/>
<path color="#00361b" d="M304.7 242.4l2.9-.1-2.1 2.2-2.9 .2z"/>
<path color="#002405" d="M309.8 240.3l3 0-2.3 1.9-2.9 .1z"/>
<path color="#001d01" d="M315 238.7l2.9 0-2.2 1.6-2.9 0z"/>
<path color="#011e00" d="M320.2 237.4l2.9 .2-2.3 1.2-2.9-.1z"/>
<path color="#051e00" d="M330.6 236.1l3 .2-2.4 .6-2.9-.1z"/>
<path color="#071e00" d="M341.1 236.1l3 .2-2.4 .1-2.9-.2z"/>
<path color="#071e00" d="M346.4 236.5l2.9 .2-2.3-.2-2.9-.2z"/>
<path color="#061e00" d="M351.7 237.1l2.9 .2-2.3-.5-3-.1z"/>
<path color="#051e00" d="M357 238l2.9 .1-2.3-.7-3-.1z"/>
<path color="#041e00" d="M325.4 236.6l2.9 .2-2.3 .9-2.9-.1z"/>
<path color="#061e00" d="M335.9 235.9l2.9 .3-2.3 .3-2.9-.2z"/>
<path color="#001d00" d="M312.1 238.7l2.9 0-2.2 1.6-3 0z"/>
<path color="#081e00" d="M348.7 236.9l3 .2-2.4-.4-2.9-.2z"/>
<path color="#003315" d="M301.8 242.6l2.9-.2-2.1 2.3-2.9 .3z"/>
<path color="#002204" d="M306.9 240.4l2.9-.1-2.2 2-2.9 .1z"/>
<path color="#031e00" d="M317.2 237.4l3 0-2.3 1.3-2.9 0z"/>
<path color="#051e00" d="M322.4 236.4l3 .2-2.3 1-2.9-.2z"/>
<path color="#071e00" d="M327.7 235.9l2.9 .2-2.3 .7-2.9-.2z"/>
<path color="#081e00" d="M332.9 235.7l3 .2-2.3 .4-3-.2z"/>
<path color="#081e00" d="M338.2 235.8l2.9 .3-2.3 .1-2.9-.3z"/>
<path color="#081e00" d="M343.5 236.3l2.9 .2-2.3-.2-3-.2z"/>
<path color="#071e00" d="M354 237.8l3 .2-2.4-.7-2.9-.2z"/>
<path color="#051e00" d="M359.3 239l2.9 .1-2.3-1-2.9-.1z"/>
<path color="#002e0f" d="M298.9 243l2.9-.4-2.1 2.4-2.9 .4z"/>
<path color="#011d00" d="M309.1 238.8l3-.1-2.3 1.6-2.9 .1z"/>
<path color="#041e00" d="M314.3 237.3l2.9 .1-2.2 1.3-2.9 0z"/>
<path color="#081e00" d="M324.7 235.7l3 .2-2.3 .7-3-.2z"/>
<path color="#0a1e00" d="M335.2 235.6l3 .2-2.3 .1-3-.2z"/>
<path color="#091e00" d="M345.8 236.7l2.9 .2-2.3-.4-2.9-.2z"/>
<path color="#081e00" d="M351.1 237.6l2.9 .2-2.3-.7-3-.2z"/>
<path color="#051e00" d="M361.6 240.2l2.9 .1-2.3-1.2-2.9-.1z"/>
<path color="#001e03" d="M304 240.6l2.9-.2-2.2 2-2.9 .2z"/>
<path color="#061e00" d="M319.5 236.3l2.9 .1-2.2 1-3 0z"/>
<path color="#091e00" d="M330 235.5l2.9 .2-2.3 .4-2.9-.2z"/>
<path color="#0a1e00" d="M340.5 236l3 .3-2.4-.2-2.9-.3z"/>
<path color="#071e00" d="M356.3 238.8l3 .2-2.3-1-3-.2z"/>
<path color="#00290c" d="M296 243.4l2.9-.4-2.1 2.4-2.9 .5z"/>
<path color="#001d02" d="M301.1 240.9l2.9-.3-2.2 2-2.9 .4z"/>
<path color="#011d00" d="M306.2 238.9l2.9-.1-2.2 1.6-2.9 .2z"/>
<path color="#051e00" d="M311.4 237.4l2.9-.1-2.2 1.4-3 .1z"/>
<path color="#081e00" d="M316.6 236.3l2.9 0-2.3 1.1-2.9-.1z"/>
<path color="#0a1e00" d="M321.8 235.6l2.9 .1-2.3 .7-2.9-.1z"/>
<path color="#0c1f00" d="M327 235.3l3 .2-2.3 .4-3-.2z"/>
<path color="#0d1f00" d="M332.3 235.4l2.9 .2-2.3 .1-2.9-.2z"/>
<path color="#0d1f00" d="M337.6 235.8l2.9 .2-2.3-.2-3-.2z"/>
<path color="#0c1f00" d="M342.8 236.4l3 .3-2.3-.4-3-.3z"/>
<path color="#0a1e00" d="M348.1 237.4l3 .2-2.4-.7-2.9-.2z"/>
<path color="#081e00" d="M353.4 238.6l2.9 .2-2.3-1-2.9-.2z"/>
<path color="#061e00" d="M358.6 240l3 .2-2.3-1.2-3-.2z"/>
<path color="#041e00" d="M363.9 241.6l2.9 .1-2.3-1.4-2.9-.1z"/>
<path color="#002209" d="M293.2 244l2.8-.6-2.1 2.5-2.8 .6z"/>
<path color="#021e00" d="M303.3 239.2l2.9-.3-2.2 1.7-2.9 .3z"/>
<path color="#0c1f00" d="M318.8 235.5l3 .1-2.3 .7-2.9 0z"/>
<path color="#101f00" d="M329.3 235.2l3 .2-2.3 .1-3-.2z"/>
<path color="#101f00" d="M339.9 236.2l2.9 .2-2.3-.4-2.9-.2z"/>
<path color="#081e00" d="M355.7 239.8l2.9 .2-2.3-1.2-2.9-.2z"/>
<path color="#031e00" d="M366.2 243.3l2.9 0-2.3-1.6-2.9-.1z"/>
<path color="#001d02" d="M298.2 241.4l2.9-.5-2.2 2.1-2.9 .4z"/>
<path color="#061e00" d="M308.4 237.5l3-.1-2.3 1.4-2.9 .1z"/>
<path color="#091e00" d="M313.6 236.3l3 0-2.3 1-2.9 .1z"/>
<path color="#0f1f00" d="M324.1 235.2l2.9 .1-2.3 .4-2.9-.1z"/>
<path color="#111f00" d="M334.6 235.5l3 .3-2.4-.2-2.9-.2z"/>
<path color="#0d1f00" d="M345.2 237.1l2.9 .3-2.3-.7-3-.3z"/>
<path color="#0a1e00" d="M350.4 238.4l3 .2-2.3-1-3-.2z"/>
<path color="#061e00" d="M361 241.4l2.9 .2-2.3-1.4-3-.2z"/>
<path color="#001e08" d="M290.3 244.8l2.9-.8-2.1 2.5-2.9 .8z"/>
<path color="#001d02" d="M295.3 241.9l2.9-.5-2.2 2-2.8 .6z"/>
<path color="#031e00" d="M300.4 239.6l2.9-.4-2.2 1.7-2.9 .5z"/>
<path color="#071e00" d="M305.5 237.8l2.9-.3-2.2 1.4-2.9 .3z"/>
<path color="#0e1f00" d="M315.9 235.6l2.9-.1-2.2 .8-3 0z"/>
<path color="#122000" d="M321.1 235.1l3 .1-2.3 .4-3-.1z"/>
<path color="#142000" d="M326.4 235l2.9 .2-2.3 .1-2.9-.1z"/>
<path color="#152000" d="M331.6 235.3l3 .2-2.3-.1-3-.2z"/>
<path color="#132000" d="M336.9 236l3 .2-2.3-.4-3-.3z"/>
<path color="#111f00" d="M342.2 236.9l3 .2-2.4-.7-2.9-.2z"/>
<path color="#0a1e00" d="M352.7 239.6l3 .2-2.3-1.2-3-.2z"/>
<path color="#071e00" d="M358 241.2l3 .2-2.4-1.4-2.9-.2z"/>
<path color="#051e00" d="M363.3 243.1l2.9 .2-2.3-1.7-2.9-.2z"/>
<path color="#011e00" d="M368.5 245.1l2.9 .1-2.3-1.9-2.9 0z"/>
<path color="#0a1e00" d="M310.7 236.4l2.9-.1-2.2 1.1-3 .1z"/>
<path color="#0e1f00" d="M347.5 238.1l2.9 .3-2.3-1-2.9-.3z"/>
<path color="#031e00" d="M297.4 240.1l3-.5-2.2 1.8-2.9 .5z"/>
<path color="#1b2100" d="M323.4 234.9l3 .1-2.3 .2-3-.1z"/>
<path color="#1a2100" d="M333.9 235.7l3 .3-2.3-.5-3-.2z"/>
<path color="#061e00" d="M360.3 242.9l3 .2-2.3-1.7-3-.2z"/>
<path color="#001e0a" d="M287.4 245.7l2.9-.9-2.1 2.5-2.9 .9z"/>
<path color="#001d02" d="M292.4 242.6l2.9-.7-2.1 2.1-2.9 .8z"/>
<path color="#071e00" d="M302.5 238.1l3-.3-2.2 1.4-2.9 .4z"/>
<path color="#0b1e00" d="M307.7 236.7l3-.3-2.3 1.1-2.9 .3z"/>
<path color="#101f00" d="M312.9 235.7l3-.1-2.3 .7-2.9 .1z"/>
<path color="#162000" d="M318.1 235.1l3 0-2.3 .4-2.9 .1z"/>
<path color="#1c2100" d="M328.7 235.2l2.9 .1-2.3-.1-2.9-.2z"/>
<path color="#162000" d="M339.2 236.6l3 .3-2.3-.7-3-.2z"/>
<path color="#111f00" d="M344.5 237.8l3 .3-2.3-1-3-.2z"/>
<path color="#0d1f00" d="M349.8 239.3l2.9 .3-2.3-1.2-2.9-.3z"/>
<path color="#091e00" d="M355 241l3 .2-2.3-1.4-3-.2z"/>
<path color="#031e00" d="M365.5 245l3 .1-2.3-1.8-2.9-.2z"/>
<path color="#003001" d="M370.8 247.3l2.9 0-2.3-2.1-2.9-.1z"/>
<path color="#001e0d" d="M284.5 246.8l2.9-1.1-2.1 2.5-2.8 1.2z"/>
<path color="#001d02" d="M289.5 243.5l2.9-.9-2.1 2.2-2.9 .9z"/>
<path color="#031e00" d="M294.5 240.8l2.9-.7-2.1 1.8-2.9 .7z"/>
<path color="#071e00" d="M299.6 238.7l2.9-.6-2.1 1.5-3 .5z"/>
<path color="#122000" d="M309.9 235.9l3-.2-2.2 .7-3 .3z"/>
<path color="#1f2200" d="M320.4 234.9l3 0-2.3 .2-3 0z"/>
<path color="#202200" d="M325.7 235.1l3 .1-2.3-.2-3-.1z"/>
<path color="#202200" d="M331 235.6l2.9 .1-2.3-.4-2.9-.1z"/>
<path color="#1e2200" d="M336.2 236.4l3 .2-2.3-.6-3-.3z"/>
<path color="#111f00" d="M346.8 239.1l3 .2-2.3-1.2-3-.3z"/>
<path color="#081e00" d="M357.3 242.7l3 .2-2.3-1.7-3-.2z"/>
<path color="#051e00" d="M362.6 244.9l2.9 .1-2.2-1.9-3-.2z"/>
<path color="#022e00" d="M367.8 247.2l3 .1-2.3-2.2-3-.1z"/>
<path color="#003e04" d="M373 249.6l3 0-2.3-2.3-2.9 0z"/>
<path color="#0c1f00" d="M304.8 237l2.9-.3-2.2 1.1-3 .3z"/>
<path color="#1b2100" d="M315.2 235.2l2.9-.1-2.2 .5-3 .1z"/>
<path color="#172000" d="M341.5 237.6l3 .2-2.3-.9-3-.3z"/>
<path color="#0c1e00" d="M352.1 240.8l2.9 .2-2.3-1.4-2.9-.3z"/>
<path color="#001f11" d="M281.7 248.1l2.8-1.3-2 2.6-2.9 1.3z"/>
<path color="#021e00" d="M291.6 241.7l2.9-.9-2.1 1.8-2.9 .9z"/>
<path color="#222200" d="M328 235.5l3 .1-2.3-.4-3-.1z"/>
<path color="#042c00" d="M364.9 247l2.9 .2-2.3-2.2-2.9-.1z"/>
<path color="#00490a" d="M375.3 252.2l2.9 0-2.2-2.6-3 0z"/>
<path color="#001d03" d="M286.6 244.6l2.9-1.1-2.1 2.2-2.9 1.1z"/>
<path color="#071e00" d="M296.7 239.3l2.9-.6-2.2 1.4-2.9 .7z"/>
<path color="#0d1f00" d="M301.8 237.5l3-.5-2.3 1.1-2.9 .6z"/>
<path color="#142000" d="M307 236.2l2.9-.3-2.2 .8-2.9 .3z"/>
<path color="#1e2200" d="M312.2 235.4l3-.2-2.3 .5-3 .2z"/>
<path color="#212200" d="M317.4 235l3-.1-2.3 .2-2.9 .1z"/>
<path color="#232200" d="M322.7 235l3 .1-2.3-.2-3 0z"/>
<path color="#212200" d="M333.3 236.3l2.9 .1-2.3-.7-2.9-.1z"/>
<path color="#1e2200" d="M338.6 237.4l2.9 .2-2.3-1-3-.2z"/>
<path color="#152000" d="M343.8 238.8l3 .3-2.3-1.3-3-.2z"/>
<path color="#0f1f00" d="M349.1 240.5l3 .3-2.3-1.5-3-.2z"/>
<path color="#091e00" d="M354.4 242.5l2.9 .2-2.3-1.7-2.9-.2z"/>
<path color="#061e00" d="M359.6 244.7l3 .2-2.3-2-3-.2z"/>
<path color="#003c02" d="M370.1 249.5l2.9 .1-2.2-2.3-3-.1z"/>
<path color="#001f15" d="M278.8 249.6l2.9-1.5-2.1 2.6-2.8 1.6z"/>
<path color="#021e00" d="M288.7 242.7l2.9-1-2.1 1.8-2.9 1.1z"/>
<path color="#162000" d="M304 236.7l3-.5-2.2 .8-3 .5z"/>
<path color="#232100" d="M314.5 235.2l2.9-.2-2.2 .2-3 .2z"/>
<path color="#231e00" d="M325 235.4l3 .1-2.3-.4-3-.1z"/>
<path color="#232000" d="M330.3 236.2l3 .1-2.3-.7-3-.1z"/>
<path color="#1d2100" d="M340.9 238.6l2.9 .2-2.3-1.2-2.9-.2z"/>
<path color="#0d1f00" d="M351.4 242.3l3 .2-2.3-1.7-3-.3z"/>
<path color="#013b00" d="M367.1 249.4l3 .1-2.3-2.3-2.9-.2z"/>
<path color="#00541a" d="M377.5 254.9l2.9 0-2.2-2.7-2.9 0z"/>
<path color="#001d03" d="M283.7 245.9l2.9-1.3-2.1 2.2-2.8 1.3z"/>
<path color="#071e00" d="M293.8 240.1l2.9-.8-2.2 1.5-2.9 .9z"/>
<path color="#0d1f00" d="M298.9 238.1l2.9-.6-2.2 1.2-2.9 .6z"/>
<path color="#202200" d="M309.2 235.7l3-.3-2.3 .5-2.9 .3z"/>
<path color="#231e00" d="M319.7 235.1l3-.1-2.3-.1-3 .1z"/>
<path color="#212200" d="M335.6 237.2l3 .2-2.4-1-2.9-.1z"/>
<path color="#122000" d="M346.1 240.3l3 .2-2.3-1.4-3-.3z"/>
<path color="#081e00" d="M356.7 244.4l2.9 .3-2.3-2-2.9-.2z"/>
<path color="#062c00" d="M361.9 246.8l3 .2-2.3-2.1-3-.2z"/>
<path color="#004807" d="M372.3 252.1l3 .1-2.3-2.6-2.9-.1z"/>
<path color="#00201a" d="M276 251.4l2.8-1.8-2 2.7-2.8 1.8z"/>
<path color="#001d04" d="M280.9 247.3l2.8-1.4-2 2.2-2.9 1.5z"/>
<path color="#011d00" d="M285.8 243.9l2.9-1.2-2.1 1.9-2.9 1.3z"/>
<path color="#071e00" d="M290.8 241.2l3-1.1-2.2 1.6-2.9 1z"/>
<path color="#0d1f00" d="M295.9 238.9l3-.8-2.2 1.2-2.9 .8z"/>
<path color="#172000" d="M301.1 237.3l2.9-.6-2.2 .8-2.9 .6z"/>
<path color="#212200" d="M306.3 236.1l2.9-.4-2.2 .5-3 .5z"/>
<path color="#231f00" d="M311.5 235.5l3-.3-2.3 .2-3 .3z"/>
<path color="#241b00" d="M316.7 235.3l3-.2-2.3-.1-2.9 .2z"/>
<path color="#241a00" d="M322 235.5l3-.1-2.3-.4-3 .1z"/>
<path color="#241b00" d="M327.3 236.1l3 .1-2.3-.7-3-.1z"/>
<path color="#231f00" d="M332.6 237.1l3 .1-2.3-.9-3-.1z"/>
<path color="#212200" d="M337.9 238.5l3 .1-2.3-1.2-3-.2z"/>
<path color="#1a2100" d="M343.2 240.1l2.9 .2-2.3-1.5-2.9-.2z"/>
<path color="#101f00" d="M348.4 242l3 .3-2.3-1.8-3-.2z"/>
<path color="#0a1e00" d="M353.7 244.2l3 .2-2.3-1.9-3-.2z"/>
<path color="#092c00" d="M358.9 246.6l3 .2-2.3-2.1-2.9-.3z"/>
<path color="#043b00" d="M364.2 249.2l2.9 .2-2.2-2.4-3-.2z"/>
<path color="#004704" d="M369.4 252l2.9 .1-2.2-2.6-3-.1z"/>
<path color="#00510e" d="M374.5 254.9l3 0-2.2-2.7-3-.1z"/>
<path color="#006041" d="M379.7 257.9l2.9 0-2.2-3-2.9 0z"/>
<path color="#00211e" d="M273.2 253.4l2.8-2-2 2.7-2.8 2z"/>
<path color="#001d00" d="M282.9 245.4l2.9-1.5-2.1 2-2.8 1.4z"/>
<path color="#061e00" d="M287.9 242.4l2.9-1.2-2.1 1.5-2.9 1.2z"/>
<path color="#162000" d="M298.1 238.1l3-.8-2.2 .8-3 .8z"/>
<path color="#231d00" d="M308.5 235.9l3-.4-2.3 .2-2.9 .4z"/>
<path color="#241500" d="M319 235.7l3-.2-2.3-.4-3 .2z"/>
<path color="#232000" d="M334.9 238.4l3 .1-2.3-1.3-3-.1z"/>
<path color="#142000" d="M345.5 241.8l2.9 .2-2.3-1.7-2.9-.2z"/>
<path color="#0c2e00" d="M356 246.4l2.9 .2-2.2-2.2-3-.2z"/>
<path color="#004701" d="M366.4 251.9l3 .1-2.3-2.6-2.9-.2z"/>
<path color="#00510b" d="M371.6 254.8l2.9 .1-2.2-2.8-2.9-.1z"/>
<path color="#006c62" d="M381.9 261.1l2.9-.1-2.2-3.1-2.9 0z"/>
<path color="#001d05" d="M278 249.1l2.9-1.8-2.1 2.3-2.8 1.8z"/>
<path color="#0c1e00" d="M293 239.9l2.9-1-2.1 1.2-3 1.1z"/>
<path color="#212200" d="M303.3 236.7l3-.6-2.3 .6-2.9 .6z"/>
<path color="#241800" d="M313.7 235.6l3-.3-2.2-.1-3 .3z"/>
<path color="#241700" d="M324.3 236.2l3-.1-2.3-.7-3 .1z"/>
<path color="#241b00" d="M329.6 237.1l3 0-2.3-.9-3-.1z"/>
<path color="#1f2200" d="M340.2 240l3 .1-2.3-1.5-3-.1z"/>
<path color="#0d1f00" d="M350.7 244l3 .2-2.3-1.9-3-.3z"/>
<path color="#073b00" d="M361.2 249.1l3 .1-2.3-2.4-3-.2z"/>
<path color="#005d34" d="M376.8 257.9l2.9 0-2.2-3-3 0z"/>
<path color="#002123" d="M270.4 255.7l2.8-2.3-2 2.7-2.7 2.3z"/>
<path color="#001e0d" d="M275.2 251.1l2.8-2-2 2.3-2.8 2z"/>
<path color="#001d01" d="M280.1 247.1l2.8-1.7-2 1.9-2.9 1.8z"/>
<path color="#051e00" d="M285 243.8l2.9-1.4-2.1 1.5-2.9 1.5z"/>
<path color="#142000" d="M295.2 239l2.9-.9-2.2 .8-2.9 1z"/>
<path color="#231d00" d="M305.5 236.5l3-.6-2.2 .2-3 .6z"/>
<path color="#241600" d="M310.8 236l2.9-.4-2.2-.1-3 .4z"/>
<path color="#241200" d="M316 235.9l3-.2-2.3-.4-3 .3z"/>
<path color="#241100" d="M321.3 236.3l3-.1-2.3-.7-3 .2z"/>
<path color="#241b00" d="M331.9 238.3l3 .1-2.3-1.3-3 0z"/>
<path color="#222200" d="M337.2 239.9l3 .1-2.3-1.5-3-.1z"/>
<path color="#1c2100" d="M342.5 241.7l3 .1-2.3-1.7-3-.1z"/>
<path color="#112200" d="M347.7 243.8l3 .2-2.3-2-2.9-.2z"/>
<path color="#0b3d00" d="M358.2 248.9l3 .2-2.3-2.5-2.9-.2z"/>
<path color="#005008" d="M368.7 254.7l2.9 .1-2.2-2.8-3-.1z"/>
<path color="#005a20" d="M373.8 257.9l3 0-2.3-3-2.9-.1z"/>
<path color="#006a58" d="M379 261.1l2.9 0-2.2-3.2-2.9 0z"/>
<path color="#006c7c" d="M384.1 264.5l2.9-.1-2.2-3.4-2.9 .1z"/>
<path color="#0a1e00" d="M290.1 241.1l2.9-1.2-2.2 1.3-2.9 1.2z"/>
<path color="#212200" d="M300.3 237.5l3-.8-2.2 .6-3 .8z"/>
<path color="#241500" d="M326.6 237.1l3 0-2.3-1-3 .1z"/>
<path color="#0f3000" d="M353 246.2l3 .2-2.3-2.2-3-.2z"/>
<path color="#024700" d="M363.5 251.7l2.9 .2-2.2-2.7-3-.1z"/>
<path color="#001d03" d="M277.2 249.1l2.9-2-2.1 2-2.8 2z"/>
<path color="#240e00" d="M313 236.4l3-.5-2.3-.3-2.9 .4z"/>
<path color="#202200" d="M339.5 241.6l3 .1-2.3-1.7-3-.1z"/>
<path color="#00674b" d="M376 261.1l3 0-2.2-3.2-3 0z"/>
<path color="#001b24" d="M267.7 258.3l2.7-2.6-1.9 2.7-2.8 2.6z"/>
<path color="#002016" d="M272.4 253.3l2.8-2.2-2 2.3-2.8 2.3z"/>
<path color="#031e00" d="M282.2 245.5l2.8-1.7-2.1 1.6-2.8 1.7z"/>
<path color="#091e00" d="M287.2 242.5l2.9-1.4-2.2 1.3-2.9 1.4z"/>
<path color="#122000" d="M292.2 240.2l3-1.2-2.2 .9-2.9 1.2z"/>
<path color="#202200" d="M297.4 238.5l2.9-1-2.2 .6-2.9 .9z"/>
<path color="#231d00" d="M302.6 237.3l2.9-.8-2.2 .2-3 .8z"/>
<path color="#241400" d="M307.8 236.6l3-.6-2.3-.1-3 .6z"/>
<path color="#240d00" d="M318.3 236.6l3-.3-2.3-.6-3 .2z"/>
<path color="#241000" d="M323.6 237.3l3-.2-2.3-.9-3 .1z"/>
<path color="#241600" d="M328.9 238.4l3-.1-2.3-1.2-3 0z"/>
<path color="#231e00" d="M334.2 239.8l3 .1-2.3-1.5-3-.1z"/>
<path color="#192800" d="M344.8 243.7l2.9 .1-2.2-2-3-.1z"/>
<path color="#153400" d="M350 246.1l3 .1-2.3-2.2-3-.2z"/>
<path color="#0f3f00" d="M355.3 248.7l2.9 .2-2.2-2.5-3-.2z"/>
<path color="#064900" d="M360.5 251.6l3 .1-2.3-2.6-3-.2z"/>
<path color="#005104" d="M365.7 254.6l3 .1-2.3-2.8-2.9-.2z"/>
<path color="#005810" d="M370.9 257.8l2.9 .1-2.2-3.1-2.9-.1z"/>
<path color="#007177" d="M381.1 264.6l3-.1-2.2-3.4-2.9 0z"/>
<path color="#004e81" d="M386.2 268.1l2.9-.2-2.1-3.5-2.9 .1z"/>
<path color="#001324" d="M264.9 261.1l2.8-2.8-2 2.7-2.7 2.9z"/>
<path color="#00211d" d="M269.6 255.9l2.8-2.6-2 2.4-2.7 2.6z"/>
<path color="#001d05" d="M274.4 251.3l2.8-2.2-2 2-2.8 2.2z"/>
<path color="#011d00" d="M279.3 247.4l2.9-1.9-2.1 1.6-2.9 2z"/>
<path color="#0f1f00" d="M289.3 241.6l2.9-1.4-2.1 .9-2.9 1.4z"/>
<path color="#1e2200" d="M294.4 239.6l3-1.1-2.2 .5-3 1.2z"/>
<path color="#231e00" d="M299.6 238.2l3-.9-2.3 .2-2.9 1z"/>
<path color="#241500" d="M304.8 237.3l3-.7-2.3-.1-2.9 .8z"/>
<path color="#240d00" d="M310 237l3-.6-2.2-.4-3 .6z"/>
<path color="#240a00" d="M315.3 237.1l3-.5-2.3-.7-3 .5z"/>
<path color="#241100" d="M325.9 238.6l3-.2-2.3-1.3-3 .2z"/>
<path color="#232200" d="M336.5 241.6l3 0-2.3-1.7-3-.1z"/>
<path color="#272f00" d="M341.8 243.7l3 0-2.3-2-3-.1z"/>
<path color="#1c3a00" d="M347 246l3 .1-2.3-2.3-2.9-.1z"/>
<path color="#134200" d="M352.3 248.6l3 .1-2.3-2.5-3-.1z"/>
<path color="#0b4b00" d="M357.5 251.4l3 .2-2.3-2.7-2.9-.2z"/>
<path color="#005201" d="M362.7 254.5l3 .1-2.2-2.9-3-.1z"/>
<path color="#00643e" d="M373.1 261.1l2.9 0-2.2-3.2-2.9-.1z"/>
<path color="#00716d" d="M378.2 264.6l2.9 0-2.1-3.5-3 0z"/>
<path color="#005881" d="M383.3 268.2l2.9-.1-2.1-3.6-3 .1z"/>
<path color="#002986" d="M388.3 271.8l3-.2-2.2-3.7-2.9 .2z"/>
<path color="#071e00" d="M284.3 244.2l2.9-1.7-2.2 1.3-2.8 1.7z"/>
<path color="#240b00" d="M320.6 237.6l3-.3-2.3-1-3 .3z"/>
<path color="#241a00" d="M331.2 239.9l3-.1-2.3-1.5-3 .1z"/>
<path color="#00590d" d="M367.9 257.7l3 .1-2.2-3.1-3-.1z"/>
<path color="#001e0d" d="M271.6 253.8l2.8-2.5-2 2-2.8 2.6z"/>
<path color="#232100" d="M296.6 239.4l3-1.2-2.2 .3-3 1.1z"/>
<path color="#240d00" d="M307.1 237.7l2.9-.7-2.2-.4-3 .7z"/>
<path color="#254000" d="M344 245.9l3 .1-2.2-2.3-3 0z"/>
<path color="#0f4e00" d="M354.5 251.3l3 .1-2.2-2.7-3-.1z"/>
<path color="#006380" d="M380.3 268.2l3 0-2.2-3.6-2.9 0z"/>
<path color="#000a24" d="M262.3 264.4l2.6-3.3-1.9 2.8-2.6 3.3z"/>
<path color="#002123" d="M266.9 258.7l2.7-2.8-1.9 2.4-2.8 2.8z"/>
<path color="#001d01" d="M276.5 249.6l2.8-2.2-2.1 1.7-2.8 2.2z"/>
<path color="#051e00" d="M281.4 246.1l2.9-1.9-2.1 1.3-2.9 1.9z"/>
<path color="#0c1f00" d="M286.4 243.3l2.9-1.7-2.1 .9-2.9 1.7z"/>
<path color="#1a2100" d="M291.5 241l2.9-1.4-2.2 .6-2.9 1.4z"/>
<path color="#241700" d="M301.8 238.3l3-1-2.2 0-3 .9z"/>
<path color="#240800" d="M312.3 237.6l3-.5-2.3-.7-3 .6z"/>
<path color="#240800" d="M317.6 238l3-.4-2.3-1-3 .5z"/>
<path color="#240c00" d="M322.9 238.9l3-.3-2.3-1.3-3 .3z"/>
<path color="#241500" d="M328.2 240.1l3-.2-2.3-1.5-3 .2z"/>
<path color="#2b2400" d="M333.5 241.7l3-.1-2.3-1.8-3 .1z"/>
<path color="#343700" d="M338.8 243.7l3 0-2.3-2.1-3 0z"/>
<path color="#184600" d="M349.3 248.5l3 .1-2.3-2.5-3-.1z"/>
<path color="#035400" d="M359.8 254.4l2.9 .1-2.2-2.9-3-.2z"/>
<path color="#005a09" d="M365 257.6l2.9 .1-2.2-3.1-3-.1z"/>
<path color="#00622b" d="M370.1 261l3 .1-2.2-3.3-3-.1z"/>
<path color="#007164" d="M375.2 264.6l3 0-2.2-3.5-2.9 0z"/>
<path color="#003486" d="M385.4 272l2.9-.2-2.1-3.7-2.9 .1z"/>
<path color="#000c87" d="M390.4 275.8l3-.3-2.1-3.9-3 .2z"/>
<path color="#000323" d="M259.6 267.9l2.7-3.5-1.9 2.8-2.7 3.6z"/>
<path color="#002018" d="M268.9 256.6l2.7-2.8-2 2.1-2.7 2.8z"/>
<path color="#091e00" d="M283.5 245.2l2.9-1.9-2.1 .9-2.9 1.9z"/>
<path color="#212200" d="M293.7 240.7l2.9-1.3-2.2 .2-2.9 1.4z"/>
<path color="#240f00" d="M304.1 238.6l3-.9-2.3-.4-3 1z"/>
<path color="#240900" d="M319.9 239.3l3-.4-2.3-1.3-3 .4z"/>
<path color="#362800" d="M330.5 241.9l3-.2-2.3-1.8-3 .2z"/>
<path color="#214c00" d="M346.3 248.5l3 0-2.3-2.5-3-.1z"/>
<path color="#085600" d="M356.8 254.3l3 .1-2.3-3-3-.1z"/>
<path color="#006116" d="M367.2 261l2.9 0-2.2-3.3-2.9-.1z"/>
<path color="#004085" d="M382.5 272.1l2.9-.1-2.1-3.8-3 0z"/>
<path color="#000082" d="M392.5 279.9l2.9-.3-2-4.1-3 .3z"/>
<path color="#001824" d="M264.2 261.9l2.7-3.2-2 2.4-2.6 3.3z"/>
<path color="#001d03" d="M273.7 252.1l2.8-2.5-2.1 1.7-2.8 2.5z"/>
<path color="#031e00" d="M278.6 248.3l2.8-2.2-2.1 1.3-2.8 2.2z"/>
<path color="#132000" d="M288.6 242.6l2.9-1.6-2.2 .6-2.9 1.7z"/>
<path color="#241a00" d="M298.9 239.4l2.9-1.1-2.2-.1-3 1.2z"/>
<path color="#240800" d="M309.3 238.4l3-.8-2.3-.6-2.9 .7z"/>
<path color="#230600" d="M314.6 238.6l3-.6-2.3-.9-3 .5z"/>
<path color="#261200" d="M325.2 240.4l3-.3-2.3-1.5-3 .3z"/>
<path color="#403f00" d="M335.7 243.8l3.1-.1-2.3-2.1-3 .1z"/>
<path color="#344800" d="M341 246l3-.1-2.2-2.2-3 0z"/>
<path color="#145100" d="M351.6 251.3l2.9 0-2.2-2.7-3-.1z"/>
<path color="#005b06" d="M362 257.5l3 .1-2.3-3.1-2.9-.1z"/>
<path color="#007058" d="M372.3 264.6l2.9 0-2.1-3.5-3-.1z"/>
<path color="#007080" d="M377.4 268.3l2.9-.1-2.1-3.6-3 0z"/>
<path color="#001088" d="M387.5 276l2.9-.2-2.1-4-2.9 .2z"/>
<path color="#000020" d="M257 271.8l2.6-3.9-1.9 2.9-2.5 3.9z"/>
<path color="#000e24" d="M261.5 265.4l2.7-3.5-1.9 2.5-2.7 3.5z"/>
<path color="#002120" d="M266.1 259.8l2.8-3.2-2 2.1-2.7 3.2z"/>
<path color="#001d06" d="M270.9 254.9l2.8-2.8-2.1 1.7-2.7 2.8z"/>
<path color="#071e00" d="M280.7 247.3l2.8-2.1-2.1 .9-2.8 2.2z"/>
<path color="#0f1f00" d="M285.7 244.5l2.9-1.9-2.2 .7-2.9 1.9z"/>
<path color="#1e2200" d="M290.8 242.4l2.9-1.7-2.2 .3-2.9 1.6z"/>
<path color="#231d00" d="M295.9 240.8l3-1.4-2.3 0-2.9 1.3z"/>
<path color="#241300" d="M301.1 239.8l3-1.2-2.3-.3-2.9 1.1z"/>
<path color="#240a00" d="M306.3 239.3l3-.9-2.2-.7-3 .9z"/>
<path color="#240700" d="M316.9 239.9l3-.6-2.3-1.3-3 .6z"/>
<path color="#5e2200" d="M322.1 240.8l3.1-.4-2.3-1.5-3 .4z"/>
<path color="#4a2f00" d="M327.4 242.2l3.1-.3-2.3-1.8-3 .3z"/>
<path color="#4b4400" d="M332.7 244l3-.2-2.2-2.1-3 .2z"/>
<path color="#2a5200" d="M343.3 248.5l3 0-2.3-2.6-3 .1z"/>
<path color="#185500" d="M348.6 251.3l3 0-2.3-2.8-3 0z"/>
<path color="#0c5900" d="M353.8 254.2l3 .1-2.3-3-2.9 0z"/>
<path color="#005d02" d="M359 257.5l3 0-2.2-3.1-3-.1z"/>
<path color="#00620f" d="M364.2 260.9l3 .1-2.2-3.4-3-.1z"/>
<path color="#006e4b" d="M369.3 264.5l3 .1-2.2-3.6-2.9 0z"/>
<path color="#004d86" d="M379.5 272.2l3-.1-2.2-3.9-2.9 .1z"/>
<path color="#00168a" d="M384.6 276.2l2.9-.2-2.1-4-2.9 .1z"/>
<path color="#000084" d="M389.6 280.2l2.9-.3-2.1-4.1-2.9 .2z"/>
<path color="#00007a" d="M394.6 284.3l2.9-.4-2.1-4.3-2.9 .3z"/>
<path color="#001d00" d="M275.7 250.8l2.9-2.5-2.1 1.3-2.8 2.5z"/>
<path color="#230600" d="M311.6 239.4l3-.8-2.3-1-3 .8z"/>
<path color="#465000" d="M338 246.1l3-.1-2.2-2.3-3.1 .1z"/>
<path color="#00777c" d="M374.5 268.3l2.9 0-2.2-3.7-2.9 0z"/>
<path color="#001b24" d="M263.4 263.3l2.7-3.5-1.9 2.1-2.7 3.5z"/>
<path color="#162000" d="M287.8 244.2l3-1.8-2.2 .2-2.9 1.9z"/>
<path color="#241800" d="M298.1 241.2l3-1.4-2.2-.4-3 1.4z"/>
<path color="#115d00" d="M350.8 254.3l3-.1-2.2-2.9-3 0z"/>
<path color="#00640c" d="M361.2 260.9l3 0-2.2-3.4-3 0z"/>
<path color="#000186" d="M386.7 280.4l2.9-.2-2.1-4.2-2.9 .2z"/>
<path color="#000423" d="M258.9 269.3l2.6-3.9-1.9 2.5-2.6 3.9z"/>
<path color="#001f14" d="M268.1 258.1l2.8-3.2-2 1.7-2.8 3.2z"/>
<path color="#041e00" d="M277.8 249.8l2.9-2.5-2.1 1-2.9 2.5z"/>
<path color="#240d00" d="M303.3 240.5l3-1.2-2.2-.7-3 1.2z"/>
<path color="#731500" d="M313.9 240.6l3-.7-2.3-1.3-3 .8z"/>
<path color="#5e3300" d="M324.4 242.7l3-.5-2.2-1.8-3.1 .4z"/>
<path color="#525700" d="M335 246.3l3-.2-2.3-2.3-3 .2z"/>
<path color="#1e5900" d="M345.6 251.3l3 0-2.3-2.8-3 0z"/>
<path color="#007873" d="M371.5 268.3l3 0-2.2-3.7-3-.1z"/>
<path color="#00228a" d="M381.7 276.3l2.9-.1-2.1-4.1-3 .1z"/>
<path color="#00007c" d="M391.7 284.6l2.9-.3-2.1-4.4-2.9 .3z"/>
<path color="#001d02" d="M272.9 253.6l2.8-2.8-2 1.3-2.8 2.8z"/>
<path color="#0a1e00" d="M282.8 246.7l2.9-2.2-2.2 .7-2.8 2.1z"/>
<path color="#232200" d="M293 242.4l2.9-1.6-2.2-.1-2.9 1.7z"/>
<path color="#240700" d="M308.6 240.3l3-.9-2.3-1-3 .9z"/>
<path color="#6e2200" d="M319.1 241.4l3-.6-2.2-1.5-3 .6z"/>
<path color="#544500" d="M329.7 244.3l3-.3-2.2-2.1-3.1 .3z"/>
<path color="#335800" d="M340.3 248.7l3-.2-2.3-2.5-3 .1z"/>
<path color="#026000" d="M356 257.5l3 0-2.2-3.2-3-.1z"/>
<path color="#006c3e" d="M366.4 264.5l2.9 0-2.1-3.5-3-.1z"/>
<path color="#005886" d="M376.6 272.3l2.9-.1-2.1-3.9-2.9 0z"/>
<path color="#001024" d="M260.8 267.2l2.6-3.9-1.9 2.1-2.6 3.9z"/>
<path color="#00007e" d="M388.8 284.8l2.9-.2-2.1-4.4-2.9 .2z"/>
<path color="#00211e" d="M265.4 261.5l2.7-3.4-2 1.7-2.7 3.5z"/>
<path color="#011d00" d="M275 252.6l2.8-2.8-2.1 1-2.8 2.8z"/>
<path color="#101f00" d="M285 246.4l2.8-2.2-2.1 .3-2.9 2.2z"/>
<path color="#1f2200" d="M290 244.3l3-1.9-2.2 0-3 1.8z"/>
<path color="#231d00" d="M295.2 242.8l2.9-1.6-2.2-.4-2.9 1.6z"/>
<path color="#241300" d="M300.4 241.9l2.9-1.4-2.2-.7-3 1.4z"/>
<path color="#771c00" d="M310.9 241.6l3-1-2.3-1.2-3 .9z"/>
<path color="#6c3600" d="M321.4 243.3l3-.6-2.3-1.9-3 .6z"/>
<path color="#5d4600" d="M326.7 244.8l3-.5-2.3-2.1-3 .5z"/>
<path color="#425f00" d="M337.3 248.9l3-.2-2.3-2.6-3 .2z"/>
<path color="#166000" d="M347.8 254.4l3-.1-2.2-3-3 0z"/>
<path color="#066300" d="M353 257.5l3 0-2.2-3.3-3 .1z"/>
<path color="#006609" d="M358.2 260.9l3 0-2.2-3.4-3 0z"/>
<path color="#006b29" d="M363.4 264.6l3-.1-2.2-3.6-3 0z"/>
<path color="#006687" d="M373.7 272.3l2.9 0-2.1-4-3 0z"/>
<path color="#000788" d="M383.8 280.6l2.9-.2-2.1-4.2-2.9 .1z"/>
<path color="#001d05" d="M270.1 256.7l2.8-3.1-2 1.3-2.8 3.2z"/>
<path color="#071e00" d="M279.9 249.1l2.9-2.4-2.1 .6-2.9 2.5z"/>
<path color="#651f00" d="M305.6 241.5l3-1.2-2.3-1-3 1.2z"/>
<path color="#782400" d="M316.1 242.2l3-.8-2.2-1.5-3 .7z"/>
<path color="#5d5d00" d="M332 246.7l3-.4-2.3-2.3-3 .3z"/>
<path color="#275e00" d="M342.6 251.5l3-.2-2.3-2.8-3 .2z"/>
<path color="#00796a" d="M368.6 268.4l2.9-.1-2.2-3.8-2.9 0z"/>
<path color="#002f8b" d="M378.7 276.4l3-.1-2.2-4.1-2.9 .1z"/>
<path color="#232300" d="M292.2 244.6l3-1.8-2.2-.4-3 1.9z"/>
<path color="#006805" d="M355.3 261l2.9-.1-2.2-3.4-3 0z"/>
<path color="#001c24" d="M262.7 265.4l2.7-3.9-2 1.8-2.6 3.9z"/>
<path color="#001d02" d="M272.2 255.7l2.8-3.1-2.1 1-2.8 3.1z"/>
<path color="#0a1e00" d="M282.1 248.8l2.9-2.4-2.2 .3-2.9 2.4z"/>
<path color="#762800" d="M307.9 242.8l3-1.2-2.3-1.3-3 1.2z"/>
<path color="#2f6400" d="M339.6 251.8l3-.3-2.3-2.8-3 .2z"/>
<path color="#007960" d="M365.6 268.4l3 0-2.2-3.9-3 .1z"/>
<path color="#003c8b" d="M375.8 276.5l2.9-.1-2.1-4.1-2.9 0z"/>
<path color="#000081" d="M385.8 285l3-.2-2.1-4.4-2.9 .2z"/>
<path color="#001f14" d="M267.4 260.1l2.7-3.4-2 1.4-2.7 3.4z"/>
<path color="#041e00" d="M277.1 251.9l2.8-2.8-2.1 .7-2.8 2.8z"/>
<path color="#152000" d="M287.1 246.4l2.9-2.1-2.2-.1-2.8 2.2z"/>
<path color="#372800" d="M297.4 243.5l3-1.6-2.3-.7-2.9 1.6z"/>
<path color="#602e00" d="M302.6 242.8l3-1.3-2.3-1-2.9 1.4z"/>
<path color="#7c2b00" d="M313.1 243.2l3-1-2.2-1.6-3 1z"/>
<path color="#753a00" d="M318.4 244.1l3-.8-2.3-1.9-3 .8z"/>
<path color="#654900" d="M323.7 245.4l3-.6-2.3-2.1-3 .6z"/>
<path color="#676400" d="M329 247.2l3-.5-2.3-2.4-3 .5z"/>
<path color="#516700" d="M334.3 249.3l3-.4-2.3-2.6-3 .4z"/>
<path color="#1a6400" d="M344.8 254.6l3-.2-2.2-3.1-3 .2z"/>
<path color="#0b6600" d="M350.1 257.7l2.9-.2-2.2-3.2-3 .1z"/>
<path color="#006b14" d="M360.5 264.6l2.9 0-2.2-3.7-3 0z"/>
<path color="#007488" d="M370.7 272.4l3-.1-2.2-4-2.9 .1z"/>
<path color="#000c8b" d="M380.8 280.7l3-.1-2.1-4.3-3 .1z"/>
<path color="#001d05" d="M269.5 259.1l2.7-3.4-2.1 1-2.7 3.4z"/>
<path color="#071e00" d="M279.2 251.6l2.9-2.8-2.2 .3-2.8 2.8z"/>
<path color="#2c3400" d="M289.3 246.8l2.9-2.2-2.2-.3-2.9 2.1z"/>
<path color="#453f00" d="M294.5 245.3l2.9-1.8-2.2-.7-3 1.8z"/>
<path color="#713800" d="M304.9 244.2l3-1.4-2.3-1.3-3 1.3z"/>
<path color="#794000" d="M315.4 245.1l3-1-2.3-1.9-3 1z"/>
<path color="#5f6e00" d="M331.3 249.8l3-.5-2.3-2.6-3 .5z"/>
<path color="#1f6800" d="M341.8 254.9l3-.3-2.2-3.1-3 .3z"/>
<path color="#006b02" d="M352.3 261.2l3-.2-2.3-3.5-2.9 .2z"/>
<path color="#006d11" d="M357.5 264.8l3-.2-2.3-3.7-2.9 .1z"/>
<path color="#007f88" d="M367.8 272.5l2.9-.1-2.1-4-3 0z"/>
<path color="#00128e" d="M377.9 280.9l2.9-.2-2.1-4.3-2.9 .1z"/>
<path color="#00211f" d="M264.7 264l2.7-3.9-2 1.4-2.7 3.9z"/>
<path color="#001d00" d="M274.3 255l2.8-3.1-2.1 .7-2.8 3.1z"/>
<path color="#0e1f00" d="M284.2 248.9l2.9-2.5-2.1 0-2.9 2.4z"/>
<path color="#7c3700" d="M310.1 244.4l3-1.2-2.2-1.6-3 1.2z"/>
<path color="#6d4f00" d="M320.7 246.2l3-.8-2.3-2.1-3 .8z"/>
<path color="#6f6900" d="M326 247.8l3-.6-2.3-2.4-3 .6z"/>
<path color="#366a00" d="M336.5 252.2l3.1-.4-2.3-2.9-3 .4z"/>
<path color="#007854" d="M362.6 268.5l3-.1-2.2-3.8-2.9 0z"/>
<path color="#004a8d" d="M372.9 276.6l2.9-.1-2.1-4.2-3 .1z"/>
<path color="#000084" d="M382.9 285.3l2.9-.3-2-4.4-3 .1z"/>
<path color="#553a00" d="M299.7 244.5l2.9-1.7-2.2-.9-3 1.6z"/>
<path color="#0f6900" d="M347.1 257.9l3-.2-2.3-3.3-3 .2z"/>
<path color="#002016" d="M266.7 262.9l2.8-3.8-2.1 1-2.7 3.9z"/>
<path color="#031e00" d="M276.4 254.7l2.8-3.1-2.1 .3-2.8 3.1z"/>
<path color="#233f00" d="M286.4 249.2l2.9-2.4-2.2-.4-2.9 2.5z"/>
<path color="#007749" d="M359.7 268.7l2.9-.2-2.1-3.9-3 .2z"/>
<path color="#00578e" d="M369.9 276.8l3-.2-2.2-4.2-2.9 .1z"/>
<path color="#000088" d="M380 285.5l2.9-.2-2.1-4.6-2.9 .2z"/>
<path color="#001d03" d="M271.5 258.4l2.8-3.4-2.1 .7-2.7 3.4z"/>
<path color="#0d2e00" d="M281.4 251.6l2.8-2.7-2.1-.1-2.9 2.8z"/>
<path color="#494f00" d="M291.5 247.5l3-2.2-2.3-.7-2.9 2.2z"/>
<path color="#5c5000" d="M296.7 246.4l3-1.9-2.3-1-2.9 1.8z"/>
<path color="#664700" d="M301.9 245.8l3-1.6-2.3-1.4-2.9 1.7z"/>
<path color="#764600" d="M307.1 245.8l3-1.4-2.2-1.6-3 1.4z"/>
<path color="#784a00" d="M312.4 246.3l3-1.2-2.3-1.9-3 1.2z"/>
<path color="#745700" d="M317.7 247.2l3-1-2.3-2.1-3 1z"/>
<path color="#766f00" d="M323 248.7l3-.9-2.3-2.4-3 .8z"/>
<path color="#687400" d="M328.3 250.5l3-.7-2.3-2.6-3 .6z"/>
<path color="#3c6f00" d="M333.5 252.7l3-.5-2.2-2.9-3 .5z"/>
<path color="#226c00" d="M338.8 255.3l3-.4-2.2-3.1-3.1 .4z"/>
<path color="#136d00" d="M344.1 258.3l3-.4-2.3-3.3-3 .3z"/>
<path color="#016e00" d="M349.3 261.5l3-.3-2.2-3.5-3 .2z"/>
<path color="#006f0e" d="M354.5 265l3-.2-2.2-3.8-3 .2z"/>
<path color="#008180" d="M364.8 272.7l3-.2-2.2-4.1-3 .1z"/>
<path color="#001890" d="M375 281.1l2.9-.2-2.1-4.4-2.9 .1z"/>
<path color="#002a01" d="M273.6 258.1l2.8-3.4-2.1 .3-2.8 3.4z"/>
<path color="#1a4700" d="M283.6 252l2.8-2.8-2.2-.3-2.8 2.7z"/>
<path color="#6d6000" d="M298.9 247.7l3-1.9-2.2-1.3-3 1.9z"/>
<path color="#775900" d="M309.4 247.7l3-1.4-2.3-1.9-3 1.4z"/>
<path color="#277000" d="M335.8 255.9l3-.6-2.3-3.1-3 .5z"/>
<path color="#047100" d="M346.3 261.9l3-.4-2.2-3.6-3 .4z"/>
<path color="#008379" d="M361.8 272.9l3-.2-2.2-4.2-2.9 .2z"/>
<path color="#002592" d="M372 281.3l3-.2-2.1-4.5-3 .2z"/>
<path color="#001e0a" d="M268.8 262.3l2.7-3.9-2 .7-2.8 3.8z"/>
<path color="#0a3a00" d="M278.5 254.7l2.9-3.1-2.2 0-2.8 3.1z"/>
<path color="#365500" d="M288.6 249.9l2.9-2.4-2.2-.7-2.9 2.4z"/>
<path color="#7a6300" d="M314.7 248.4l3-1.2-2.3-2.1-3 1.2z"/>
<path color="#7b7700" d="M320 249.7l3-1-2.3-2.5-3 1z"/>
<path color="#6d7900" d="M325.2 251.4l3.1-.9-2.3-2.7-3 .9z"/>
<path color="#417400" d="M330.5 253.4l3-.7-2.2-2.9-3 .7z"/>
<path color="#007739" d="M356.7 269l3-.3-2.2-3.9-3 .2z"/>
<path color="#006390" d="M366.9 277l3-.2-2.1-4.3-3 .2z"/>
<path color="#00008b" d="M377.1 285.7l2.9-.2-2.1-4.6-2.9 .2z"/>
<path color="#5d6100" d="M293.8 248.5l2.9-2.1-2.2-1.1-3 2.2z"/>
<path color="#735800" d="M304.2 247.4l2.9-1.6-2.2-1.6-3 1.6z"/>
<path color="#167000" d="M341 258.7l3.1-.4-2.3-3.4-3 .4z"/>
<path color="#00720c" d="M351.5 265.3l3-.3-2.2-3.8-3 .3z"/>
<path color="#003608" d="M270.9 261.9l2.7-3.8-2.1 .3-2.7 3.9z"/>
<path color="#124f00" d="M280.7 255.1l2.9-3.1-2.2-.4-2.9 3.1z"/>
<path color="#006f92" d="M364 277.3l2.9-.3-2.1-4.3-3 .2z"/>
<path color="#00068e" d="M374.1 286l3-.3-2.1-4.6-3 .2z"/>
<path color="#024300" d="M275.7 258.2l2.8-3.5-2.1 0-2.8 3.4z"/>
<path color="#265a00" d="M285.7 252.7l2.9-2.8-2.2-.7-2.8 2.8z"/>
<path color="#6a6f00" d="M296 249.8l2.9-2.1-2.2-1.3-2.9 2.1z"/>
<path color="#787200" d="M301.2 249.3l3-1.9-2.3-1.6-3 1.9z"/>
<path color="#7d6e00" d="M306.4 249.3l3-1.6-2.3-1.9-2.9 1.6z"/>
<path color="#7f7400" d="M311.7 249.9l3-1.5-2.3-2.1-3 1.4z"/>
<path color="#7c7c00" d="M316.9 250.9l3.1-1.2-2.3-2.5-3 1.2z"/>
<path color="#6d7d00" d="M322.2 252.4l3-1-2.2-2.7-3 1z"/>
<path color="#447800" d="M327.5 254.3l3-.9-2.2-2.9-3.1 .9z"/>
<path color="#2a7400" d="M332.8 256.7l3-.8-2.3-3.2-3 .7z"/>
<path color="#197400" d="M338 259.3l3-.6-2.2-3.4-3 .6z"/>
<path color="#077400" d="M343.3 262.4l3-.5-2.2-3.6-3.1 .4z"/>
<path color="#007509" d="M348.5 265.7l3-.4-2.2-3.8-3 .4z"/>
<path color="#008573" d="M358.9 273.2l2.9-.3-2.1-4.2-3 .3z"/>
<path color="#003193" d="M369.1 281.6l2.9-.3-2.1-4.5-3 .2z"/>
<path color="#466600" d="M290.8 251l3-2.5-2.3-1-2.9 2.4z"/>
<path color="#00782a" d="M353.7 269.3l3-.3-2.2-4-3 .3z"/>
<path color="#075500" d="M277.9 258.5l2.8-3.4-2.2-.4-2.8 3.5z"/>
<path color="#003d95" d="M366.1 281.9l3-.3-2.2-4.6-2.9 .3z"/>
<path color="#004b07" d="M273 262l2.7-3.8-2.1-.1-2.7 3.8z"/>
<path color="#185e00" d="M282.9 255.8l2.8-3.1-2.1-.7-2.9 3.1z"/>
<path color="#4d7100" d="M293.1 252.3l2.9-2.5-2.2-1.3-3 2.5z"/>
<path color="#7a7c00" d="M303.5 251.3l2.9-2-2.2-1.9-3 1.9z"/>
<path color="#798100" d="M313.9 252.4l3-1.5-2.2-2.5-3 1.5z"/>
<path color="#668000" d="M319.2 253.7l3-1.3-2.2-2.7-3.1 1.2z"/>
<path color="#437c00" d="M324.5 255.4l3-1.1-2.3-2.9-3 1z"/>
<path color="#2b7800" d="M329.8 257.6l3-.9-2.3-3.3-3 .9z"/>
<path color="#097700" d="M340.3 263l3-.6-2.3-3.7-3 .6z"/>
<path color="#00791d" d="M350.7 269.8l3-.5-2.2-4-3 .4z"/>
<path color="#007b94" d="M361 277.6l3-.3-2.2-4.4-2.9 .3z"/>
<path color="#000a92" d="M371.2 286.3l2.9-.3-2.1-4.7-2.9 .3z"/>
<path color="#2f6700" d="M287.9 253.7l2.9-2.7-2.2-1.1-2.9 2.8z"/>
<path color="#6f7900" d="M298.2 251.5l3-2.2-2.3-1.6-2.9 2.1z"/>
<path color="#7d7f00" d="M308.7 251.6l3-1.7-2.3-2.2-3 1.6z"/>
<path color="#1b7700" d="M335 260.1l3-.8-2.2-3.4-3 .8z"/>
<path color="#007708" d="M345.5 266.3l3-.6-2.2-3.8-3 .5z"/>
<path color="#00866c" d="M355.9 273.6l3-.4-2.2-4.2-3 .3z"/>
<path color="#005b05" d="M275.1 262.3l2.8-3.8-2.2-.3-2.7 3.8z"/>
<path color="#000f95" d="M368.2 286.7l3-.4-2.1-4.7-3 .3z"/>
<path color="#0c6300" d="M280.1 259.2l2.8-3.4-2.2-.7-2.8 3.4z"/>
<path color="#337100" d="M290.2 255.1l2.9-2.8-2.3-1.3-2.9 2.7z"/>
<path color="#657f00" d="M300.5 253.5l3-2.2-2.3-2-3 2.2z"/>
<path color="#728300" d="M305.7 253.5l3-1.9-2.3-2.3-2.9 2z"/>
<path color="#6c8400" d="M311 254.1l2.9-1.7-2.2-2.5-3 1.7z"/>
<path color="#578200" d="M316.2 255.2l3-1.5-2.3-2.8-3 1.5z"/>
<path color="#407e00" d="M321.5 256.7l3-1.3-2.3-3-3 1.3z"/>
<path color="#2a7b00" d="M326.8 258.7l3-1.1-2.3-3.3-3 1.1z"/>
<path color="#1b7a00" d="M332 261.1l3-1-2.2-3.4-3 .9z"/>
<path color="#0a7a00" d="M337.3 263.8l3-.8-2.3-3.7-3 .8z"/>
<path color="#007a07" d="M342.5 267l3-.7-2.2-3.9-3 .6z"/>
<path color="#008666" d="M352.9 274.1l3-.5-2.2-4.3-3 .5z"/>
<path color="#004897" d="M363.1 282.3l3-.4-2.1-4.6-3 .3z"/>
<path color="#1d6900" d="M285.1 256.8l2.8-3.1-2.2-1-2.8 3.1z"/>
<path color="#487800" d="M295.3 254l2.9-2.5-2.2-1.7-2.9 2.5z"/>
<path color="#007a17" d="M347.7 270.4l3-.6-2.2-4.1-3 .6z"/>
<path color="#008696" d="M358 278.1l3-.5-2.1-4.4-3 .4z"/>
<path color="#006603" d="M277.3 263.1l2.8-3.9-2.2-.7-2.8 3.8z"/>
<path color="#1f7200" d="M287.3 258.2l2.9-3.1-2.3-1.4-2.8 3.1z"/>
<path color="#3a8000" d="M318.5 258.2l3-1.5-2.3-3-3 1.5z"/>
<path color="#277e00" d="M323.7 260l3.1-1.3-2.3-3.3-3 1.3z"/>
<path color="#008d96" d="M355.1 278.7l2.9-.6-2.1-4.5-3 .5z"/>
<path color="#001398" d="M365.3 287.2l2.9-.5-2.1-4.8-3 .4z"/>
<path color="#0f6c00" d="M282.2 260.3l2.9-3.5-2.2-1-2.8 3.4z"/>
<path color="#317700" d="M292.4 256.8l2.9-2.8-2.2-1.7-2.9 2.8z"/>
<path color="#427d00" d="M297.6 256l2.9-2.5-2.3-2-2.9 2.5z"/>
<path color="#4c8000" d="M302.8 255.7l2.9-2.2-2.2-2.2-3 2.2z"/>
<path color="#4e8200" d="M308 256l3-1.9-2.3-2.5-3 1.9z"/>
<path color="#478200" d="M313.2 256.9l3-1.7-2.3-2.8-2.9 1.7z"/>
<path color="#1a7d00" d="M329 262.2l3-1.1-2.2-3.5-3 1.1z"/>
<path color="#0a7d00" d="M334.3 264.8l3-1-2.3-3.7-3 1z"/>
<path color="#007c06" d="M339.5 267.8l3-.8-2.2-4-3 .8z"/>
<path color="#007d16" d="M344.7 271.1l3-.7-2.2-4.1-3 .7z"/>
<path color="#008861" d="M349.9 274.8l3-.7-2.2-4.3-3 .6z"/>
<path color="#005199" d="M360.2 282.8l2.9-.5-2.1-4.7-3 .5z"/>
<path color="#107400" d="M284.4 261.7l2.9-3.5-2.2-1.4-2.9 3.5z"/>
<path color="#2a7b00" d="M294.6 258.8l3-2.8-2.3-2-2.9 2.8z"/>
<path color="#3a8200" d="M310.2 258.9l3-2-2.2-2.8-3 1.9z"/>
<path color="#2f8100" d="M315.5 260l3-1.8-2.3-3-3 1.7z"/>
<path color="#248000" d="M320.7 261.6l3-1.6-2.2-3.3-3 1.5z"/>
<path color="#188000" d="M326 263.6l3-1.4-2.2-3.5-3.1 1.3z"/>
<path color="#097f00" d="M331.2 266l3.1-1.2-2.3-3.7-3 1.1z"/>
<path color="#00895f" d="M346.9 275.5l3-.7-2.2-4.4-3 .7z"/>
<path color="#005a9c" d="M357.2 283.4l3-.6-2.2-4.7-2.9 .6z"/>
<path color="#006f02" d="M279.4 264.1l2.8-3.8-2.1-1.1-2.8 3.9z"/>
<path color="#1e7800" d="M289.5 259.9l2.9-3.1-2.2-1.7-2.9 3.1z"/>
<path color="#388000" d="M299.8 258.3l3-2.6-2.3-2.2-2.9 2.5z"/>
<path color="#3d8200" d="M305 258.3l3-2.3-2.3-2.5-2.9 2.2z"/>
<path color="#007f07" d="M336.5 268.9l3-1.1-2.2-4-3 1z"/>
<path color="#007f16" d="M341.7 272l3-.9-2.2-4.1-3 .8z"/>
<path color="#008f95" d="M352.1 279.3l3-.6-2.2-4.6-3 .7z"/>
<path color="#00179c" d="M362.3 287.7l3-.5-2.2-4.9-2.9 .5z"/>
<path color="#007602" d="M281.6 265.5l2.8-3.8-2.2-1.4-2.8 3.8z"/>
<path color="#001c9e" d="M359.3 288.4l3-.7-2.1-4.9-3 .6z"/>
<path color="#0e7900" d="M286.6 263.4l2.9-3.5-2.2-1.7-2.9 3.5z"/>
<path color="#1b7d00" d="M291.7 261.9l2.9-3.1-2.2-2-2.9 3.1z"/>
<path color="#247f00" d="M296.9 261.1l2.9-2.8-2.2-2.3-3 2.8z"/>
<path color="#298100" d="M302.1 260.9l2.9-2.6-2.2-2.6-3 2.6z"/>
<path color="#298200" d="M307.3 261.2l2.9-2.3-2.2-2.9-3 2.3z"/>
<path color="#268200" d="M312.5 262l3-2-2.3-3.1-3 2z"/>
<path color="#1f8300" d="M317.7 263.4l3-1.8-2.2-3.4-3 1.8z"/>
<path color="#148200" d="M323 265.2l3-1.6-2.3-3.6-3 1.6z"/>
<path color="#068200" d="M328.2 267.4l3-1.4-2.2-3.8-3 1.4z"/>
<path color="#008108" d="M333.5 270.1l3-1.2-2.2-4.1-3.1 1.2z"/>
<path color="#008117" d="M338.7 273.1l3-1.1-2.2-4.2-3 1.1z"/>
<path color="#008b60" d="M343.9 276.5l3-1-2.2-4.4-3 .9z"/>
<path color="#009194" d="M349.1 280.2l3-.9-2.2-4.5-3 .7z"/>
<path color="#005f9e" d="M354.2 284.2l3-.8-2.1-4.7-3 .6z"/>
<path color="#178400" d="M314.8 265.4l2.9-2-2.2-3.4-3 2z"/>
<path color="#028300" d="M325.2 269.1l3-1.7-2.2-3.8-3 1.6z"/>
<path color="#007b04" d="M283.8 267.3l2.8-3.9-2.2-1.7-2.8 3.8z"/>
<path color="#0a7e00" d="M288.9 265.5l2.8-3.6-2.2-2-2.9 3.5z"/>
<path color="#158000" d="M294 264.3l2.9-3.2-2.3-2.3-2.9 3.1z"/>
<path color="#1c8200" d="M299.1 263.7l3-2.8-2.3-2.6-2.9 2.8z"/>
<path color="#1e8300" d="M304.3 263.8l3-2.6-2.3-2.9-2.9 2.6z"/>
<path color="#1d8400" d="M309.5 264.3l3-2.3-2.3-3.1-2.9 2.3z"/>
<path color="#0e8400" d="M320 267l3-1.8-2.3-3.6-3 1.8z"/>
<path color="#00830a" d="M330.5 271.5l3-1.4-2.3-4.1-3 1.4z"/>
<path color="#008418" d="M335.7 274.4l3-1.3-2.2-4.2-3 1.2z"/>
<path color="#008e63" d="M340.9 277.6l3-1.1-2.2-4.5-3 1.1z"/>
<path color="#009396" d="M346.1 281.2l3-1-2.2-4.7-3 1z"/>
<path color="#0063a0" d="M351.2 285.1l3-.9-2.1-4.9-3 .9z"/>
<path color="#0021a0" d="M356.4 289.2l2.9-.8-2.1-5-3 .8z"/>
<path color="#007f07" d="M286 269.3l2.9-3.8-2.3-2.1-2.8 3.9z"/>
<path color="#0c8300" d="M296.2 266.9l2.9-3.2-2.2-2.6-2.9 3.2z"/>
<path color="#118400" d="M301.4 266.7l2.9-2.9-2.2-2.9-3 2.8z"/>
<path color="#118500" d="M306.6 267l2.9-2.7-2.2-3.1-3 2.6z"/>
<path color="#0e8600" d="M311.8 267.8l3-2.4-2.3-3.4-3 2.3z"/>
<path color="#068600" d="M317 269.1l3-2.1-2.3-3.6-2.9 2z"/>
<path color="#008503" d="M322.2 270.9l3-1.8-2.2-3.9-3 1.8z"/>
<path color="#00860e" d="M327.5 273.2l3-1.7-2.3-4.1-3 1.7z"/>
<path color="#008723" d="M332.7 275.9l3-1.5-2.2-4.3-3 1.4z"/>
<path color="#00916a" d="M337.9 279l3-1.4-2.2-4.5-3 1.3z"/>
<path color="#00959a" d="M343.1 282.4l3-1.2-2.2-4.7-3 1.1z"/>
<path color="#0024a2" d="M353.4 290.2l3-1-2.2-5-3 .9z"/>
<path color="#038100" d="M291.1 267.8l2.9-3.5-2.3-2.4-2.8 3.6z"/>
<path color="#0064a2" d="M348.2 286.1l3-1-2.1-4.9-3 1z"/>
<path color="#018500" d="M298.5 269.9l2.9-3.2-2.3-3-2.9 3.2z"/>
<path color="#048600" d="M303.6 269.9l3-2.9-2.3-3.2-2.9 2.9z"/>
<path color="#028700" d="M308.8 270.4l3-2.6-2.3-3.5-2.9 2.7z"/>
<path color="#008703" d="M314 271.5l3-2.4-2.2-3.7-3 2.4z"/>
<path color="#00870a" d="M319.3 273.1l2.9-2.2-2.2-3.9-3 2.1z"/>
<path color="#008713" d="M324.5 275.1l3-1.9-2.3-4.1-3 1.8z"/>
<path color="#008b39" d="M329.7 277.6l3-1.7-2.2-4.4-3 1.7z"/>
<path color="#009575" d="M334.9 280.5l3-1.5-2.2-4.6-3 1.5z"/>
<path color="#0097a0" d="M340.1 283.8l3-1.4-2.2-4.8-3 1.4z"/>
<path color="#00820d" d="M288.3 271.7l2.8-3.9-2.2-2.3-2.9 3.8z"/>
<path color="#008404" d="M293.3 270.5l2.9-3.6-2.2-2.6-2.9 3.5z"/>
<path color="#0063a4" d="M345.3 287.4l2.9-1.3-2.1-4.9-3 1.2z"/>
<path color="#0024a4" d="M350.4 291.3l3-1.1-2.2-5.1-3 1z"/>
<path color="#00870a" d="M300.7 273.2l2.9-3.3-2.2-3.2-2.9 3.2z"/>
<path color="#008809" d="M305.9 273.4l2.9-3-2.2-3.4-3 2.9z"/>
<path color="#008912" d="M316.3 275.5l3-2.4-2.3-4-3 2.4z"/>
<path color="#00891a" d="M321.5 277.3l3-2.2-2.3-4.2-2.9 2.2z"/>
<path color="#009984" d="M331.9 282.3l3-1.8-2.2-4.6-3 1.7z"/>
<path color="#0095a6" d="M337.1 285.4l3-1.6-2.2-4.8-3 1.5z"/>
<path color="#008514" d="M290.5 274.4l2.8-3.9-2.2-2.7-2.8 3.9z"/>
<path color="#00860d" d="M295.6 273.5l2.9-3.6-2.3-3-2.9 3.6z"/>
<path color="#00880c" d="M311.1 274.2l2.9-2.7-2.2-3.7-3 2.6z"/>
<path color="#009056" d="M326.7 279.6l3-2-2.2-4.4-3 1.9z"/>
<path color="#005fa6" d="M342.3 288.8l3-1.4-2.2-5-3 1.4z"/>
<path color="#0020a6" d="M347.4 292.6l3-1.3-2.2-5.2-2.9 1.3z"/>
<path color="#008916" d="M303 276.7l2.9-3.3-2.3-3.5-2.9 3.3z"/>
<path color="#0089a8" d="M334.1 287.2l3-1.8-2.2-4.9-3 1.8z"/>
<path color="#00892d" d="M292.7 277.5l2.9-4-2.3-3-2.8 3.9z"/>
<path color="#008818" d="M297.8 276.8l2.9-3.6-2.2-3.3-2.9 3.6z"/>
<path color="#008a17" d="M308.1 277.2l3-3-2.3-3.8-2.9 3z"/>
<path color="#008b1e" d="M313.3 278.3l3-2.8-2.3-4-2.9 2.7z"/>
<path color="#008f45" d="M318.5 279.8l3-2.5-2.2-4.2-3 2.4z"/>
<path color="#00966d" d="M323.7 281.9l3-2.3-2.2-4.5-3 2.2z"/>
<path color="#009b92" d="M328.9 284.3l3-2-2.2-4.7-3 2z"/>
<path color="#0056a8" d="M339.3 290.5l3-1.7-2.2-5-3 1.6z"/>
<path color="#001aa8" d="M344.4 294.1l3-1.5-2.1-5.2-3 1.4z"/>
<path color="#009261" d="M295 280.8l2.8-4-2.2-3.3-2.9 4z"/>
<path color="#009052" d="M300.1 280.4l2.9-3.7-2.3-3.5-2.9 3.6z"/>
<path color="#00935a" d="M310.4 281.3l2.9-3-2.2-4.1-3 3z"/>
<path color="#009da4" d="M326 286.6l2.9-2.3-2.2-4.7-3 2.3z"/>
<path color="#0049aa" d="M336.3 292.4l3-1.9-2.2-5.1-3 1.8z"/>
<path color="#0016a8" d="M341.4 295.8l3-1.7-2.1-5.3-3 1.7z"/>
<path color="#00914f" d="M305.2 280.6l2.9-3.4-2.2-3.8-2.9 3.3z"/>
<path color="#00976d" d="M315.6 282.6l2.9-2.8-2.2-4.3-3 2.8z"/>
<path color="#009c89" d="M320.8 284.4l2.9-2.5-2.2-4.6-3 2.5z"/>
<path color="#0079aa" d="M331.1 289.3l3-2.1-2.2-4.9-3 2z"/>
<path color="#009b8a" d="M297.2 284.5l2.9-4.1-2.3-3.6-2.8 4z"/>
<path color="#0010a7" d="M338.5 297.8l2.9-2-2.1-5.3-3 1.9z"/>
<path color="#009c85" d="M302.3 284.3l2.9-3.7-2.2-3.9-2.9 3.7z"/>
<path color="#009d87" d="M307.5 284.7l2.9-3.4-2.3-4.1-2.9 3.4z"/>
<path color="#009d91" d="M312.6 285.7l3-3.1-2.3-4.3-2.9 3z"/>
<path color="#009ea2" d="M317.8 287.2l3-2.8-2.3-4.6-2.9 2.8z"/>
<path color="#008bab" d="M323 289.2l3-2.6-2.3-4.7-2.9 2.5z"/>
<path color="#0066ab" d="M328.2 291.7l2.9-2.4-2.2-5-2.9 2.3z"/>
<path color="#0037ab" d="M333.3 294.5l3-2.1-2.2-5.2-3 2.1z"/>
<path color="#0098aa" d="M299.5 288.4l2.8-4.1-2.2-3.9-2.9 4.1z"/>
<path color="#009dab" d="M304.6 288.5l2.9-3.8-2.3-4.1-2.9 3.7z"/>
<path color="#0096ac" d="M309.7 289.2l2.9-3.5-2.2-4.4-2.9 3.4z"/>
<path color="#0086ac" d="M314.9 290.4l2.9-3.2-2.2-4.6-3 3.1z"/>
<path color="#006cac" d="M320 292.1l3-2.9-2.2-4.8-3 2.8z"/>
<path color="#004cac" d="M325.2 294.3l3-2.6-2.2-5.1-3 2.6z"/>
<path color="#0021ac" d="M330.4 296.9l2.9-2.4-2.2-5.2-2.9 2.4z"/>
<path color="#0008a5" d="M335.5 300l3-2.2-2.2-5.4-3 2.1z"/>
<path color="#0069ac" d="M301.7 292.7l2.9-4.2-2.3-4.2-2.8 4.1z"/>
<path color="#0068ad" d="M306.8 293l2.9-3.8-2.2-4.5-2.9 3.8z"/>
<path color="#004aad" d="M317.1 295.3l2.9-3.2-2.2-4.9-2.9 3.2z"/>
<path color="#0012aa" d="M327.4 299.6l3-2.7-2.2-5.2-3 2.6z"/>
<path color="#0000a2" d="M332.5 302.5l3-2.5-2.2-5.5-2.9 2.4z"/>
<path color="#005ead" d="M311.9 293.9l3-3.5-2.3-4.7-2.9 3.5z"/>
<path color="#002cae" d="M322.2 297.3l3-3-2.2-5.1-3 2.9z"/>
<path color="#0033ad" d="M303.9 297.2l2.9-4.2-2.2-4.5-2.9 4.2z"/>
<path color="#002eae" d="M309.1 297.8l2.8-3.9-2.2-4.7-2.9 3.8z"/>
<path color="#001eae" d="M314.2 298.9l2.9-3.6-2.2-4.9-3 3.5z"/>
<path color="#0012ab" d="M319.3 300.5l2.9-3.2-2.2-5.2-2.9 3.2z"/>
<path color="#0004a6" d="M324.4 302.7l3-3.1-2.2-5.3-3 3z"/>
<path color="#00009d" d="M329.6 305.2l2.9-2.7-2.1-5.6-3 2.7z"/>
<path color="#0008a7" d="M311.3 302.8l2.9-3.9-2.3-5-2.8 3.9z"/>
<path color="#00009f" d="M321.5 306l2.9-3.3-2.2-5.4-2.9 3.2z"/>
<path color="#000ca8" d="M306.2 302l2.9-4.2-2.3-4.8-2.9 4.2z"/>
<path color="#0000a4" d="M316.4 304.2l2.9-3.7-2.2-5.2-2.9 3.6z"/>
<path color="#000097" d="M326.6 308.3l3-3.1-2.2-5.6-3 3.1z"/>
<path color="#00009d" d="M308.4 307.2l2.9-4.4-2.2-5-2.9 4.2z"/>
<path color="#00009a" d="M313.5 308.2l2.9-4-2.2-5.3-2.9 3.9z"/>
<path color="#000096" d="M318.6 309.7l2.9-3.7-2.2-5.5-2.9 3.7z"/>
<path color="#00008f" d="M323.7 311.7l2.9-3.4-2.2-5.6-2.9 3.3z"/>
<path color="#00008b" d="M315.7 313.8l2.9-4.1-2.2-5.5-2.9 4z"/>
<path color="#00008f" d="M310.6 312.5l2.9-4.3-2.2-5.4-2.9 4.4z"/>
<path color="#000087" d="M320.8 315.5l2.9-3.8-2.2-5.7-2.9 3.7z"/>
<path color="#000083" d="M312.8 318.2l2.9-4.4-2.2-5.6-2.9 4.3z"/>
<path color="#000081" d="M317.9 319.6l2.9-4.1-2.2-5.8-2.9 4.1z"/>
<path color="#000079" d="M315 324.1l2.9-4.5-2.2-5.8-2.9 4.4z"/>
</g>
<path d="M255 274.5L256 273L257 271.3L258 269.9L259 268.4L260 267L261 265.7L262 264.3L263 263L264 261.9L265 260.7L266 259.6L267 258.3L268 257.3L269 256.2L270 255.2L271 254.3L272 253.3L273 252.4L274 251.6L275 250.7L276 249.9L277 249.1L278 248.3L279 247.6L280 246.9L281 246.2L282 245.6L283 245L284 244.4L285 243.8L286 243.2L287 242.7L288 242.2L289 241.7L290 241.3L291 240.8L292 240.4L293 240L294 239.6L295 239.3L296 238.9L297 238.6L298 238.3L299 238L300 237.7L301 237.4L302 237.2L303 237L304 236.8L305 236.6L306 236.4L307 236.2L308 236.1L309 235.9L310 235.8L311 235.7L312 235.6L313 235.5L314 235.4L315 235.4L316 235.3L317 235.3L318 235.3L319 235.2L320 235.2L321 235.2L322 235.2L323 235.2L324 235.2L325 235.3L326 235.3L327 235.3L328 235.4L329 235.4L330 235.5L331 235.5L332 235.6L333 235.7L334 235.7L335 235.8L336 235.9L337 236L338 236L339 236.1L340 236.2L341 236.3L342 236.4L343 236.4L344 236.5L345 236.6L346 236.7L347 236.7L348 236.8L349 236.9L350 236.9L351 237L352 237L353 237L354 237.1L355 237.2L356 237.3L357 237.5L358 237.8L359 238L360 238.3L361 238.7L362 239.1L363 239.6L364 240.1L365 240.7L366 241.2L367 242L368 242.5L369 243.4L370 244L371 245L372 245.7L373 246.8L374 247.6L375 248.8L376 249.6L377 250.9L378 251.8L379 253.1L380 254.1L381 255.6L382 257.1L383 258.2L384 259.8L385 260.9L386 262.6L387 264.4L388 265.6L389 267.5L390 269.4L391 270.7L392 272.7L393 274.8L394 276.1L395 278.3L396 280.5L397 282.7" fill="none" stroke="#000" stroke-opacity=".75" stroke-width=".9" stroke-linejoin="round"/>
<path d="M315 324.1L317.9 319.6L320.8 315.5L323.7 311.7L326.6 308.3L329.6 305.2L332.5 302.5L335.5 300L338.5 297.8L341.4 295.8L344.4 294.1L347.4 292.6L350.4 291.3L353.4 290.2L356.4 289.2L359.3 288.4L362.3 287.7L365.3 287.2L368.2 286.7L371.2 286.3L374.1 286L377.1 285.7L380 285.5L382.9 285.3L385.8 285L388.8 284.8L391.7 284.6L394.6 284.3L397.5 283.9" fill="none" stroke="#000" stroke-opacity=".45" stroke-width=".5"/>
<path d="M315 324.1L312.8 318.2L310.6 312.5L308.4 307.2L306.2 302L303.9 297.2L301.7 292.7L299.5 288.4L297.2 284.5L295 280.8L292.7 277.5L290.5 274.4L288.3 271.7L286 269.3L283.8 267.3L281.6 265.5L279.4 264.1L277.3 263.1L275.1 262.3L273 262L270.9 261.9L268.8 262.3L266.7 262.9L264.7 264L262.7 265.4L260.8 267.2L258.9 269.3L257 271.8L255.2 274.7" fill="none" stroke="#000" stroke-opacity=".45" stroke-width=".5"/>
<text x="220.1" y="217.5" font-size="10.5" textLength="14" lengthAdjust="spacingAndGlyphs" class="pl">(d)</text>
<text x="250" y="227.3" class="tk" text-anchor="end">88</text>
<text x="250.6" y="235.1" class="tk" text-anchor="end">86</text>
<text x="251.2" y="242.9" class="tk" text-anchor="end">84</text>
<text x="251.8" y="250.7" class="tk" text-anchor="end">82</text>
<text x="252.3" y="258.5" class="tk" text-anchor="end">80</text>
<text x="252.9" y="266.3" class="tk" text-anchor="end">78</text>
<text x="253.5" y="274.1" class="tk" text-anchor="end">76</text>
<text x="254.1" y="281.9" class="tk" text-anchor="end">74</text>
<text x="254.7" y="289.7" class="tk" text-anchor="end">72</text>
<text x="321" y="354.1" class="tk" text-anchor="middle">40.00</text>
<text x="340.9" y="346.2" class="tk" text-anchor="middle">50.00</text>
<text x="360.9" y="338.4" class="tk" text-anchor="middle">60.00</text>
<text x="380.8" y="330.5" class="tk" text-anchor="middle">70.00</text>
<text x="400.7" y="322.7" class="tk" text-anchor="middle">80.00</text>
<text x="308" y="353" class="tk" text-anchor="middle">20.00</text>
<text x="296.5" y="345.2" class="tk" text-anchor="middle">36.00</text>
<text x="285" y="337.4" class="tk" text-anchor="middle">52.00</text>
<text x="273.4" y="329.7" class="tk" text-anchor="middle">68.00</text>
<text x="261.9" y="321.9" class="tk" text-anchor="middle">84.00</text>
<text x="250.4" y="314.1" class="tk" text-anchor="middle">100.00</text>
<text transform="translate(229.3 315.2) rotate(-90)" y="0" class="ax" font-size="7.9" textLength="84.7" lengthAdjust="spacingAndGlyphs">ABTS radical-scavenging</text>
<text transform="translate(240.2 294.3) rotate(-90)" y="0" class="ax" font-size="7.9" textLength="43.7" lengthAdjust="spacingAndGlyphs">capacity (%)</text>
<text transform="translate(240.9 319.2) rotate(33.8)" y="1.8" class="ax" font-size="8.01" textLength="71.6" lengthAdjust="spacingAndGlyphs">Extraction time (min)</text>
<text transform="translate(327.5 358.3) rotate(-19.5)" y="1.8" class="ax" font-size="8.01" textLength="93.5" lengthAdjust="spacingAndGlyphs">Extraction temperature (<tspan font-size="5.6">℃</tspan>)</text></g>
<g><path d="M30.1 395.1L107.5 375.9L180.1 398M31 409.3L107.5 388.4L179.3 412.2M31.9 423.5L107.5 400.9L178.5 426.4M32.9 437.8L107.5 413.4L177.7 440.7M33.8 452L107.5 425.9L176.9 454.9M34.7 466.2L107.5 438.4L176.2 469.1M30.1 395.1L36.3 490.8M49.5 390.3L52.9 459.2M68.8 385.5L71.1 452.3M88.2 380.7L89.3 445.3M107.5 375.9L107.5 460M180.1 398L174.8 493.7M161.9 392.5L159 461.4M143.8 386.9L141.8 453.7M125.7 381.4L124.7 446.1" fill="none" stroke="#6a6a6a" stroke-width="0.55"/>
<polygon points="36.3,490.8 101.5,531.4 174.8,493.7 107.5,460" fill="#ffff00" stroke="#8a8a20" stroke-width="0.5"/>
<path d="M165.4 498.5L165.2 497.5L164.9 496.2L164.5 494.7L164.1 493.5L163.8 492.5L163.4 491.6L162.9 490.2L162.3 488.8L161.8 487.8M69.5 511.5L71.9 512L73.6 512.4L76.3 513L78.8 513.6L80.5 513.9L82.7 514.4L85.8 514.9L87.6 515.3L89.4 515.6L92 516L94.8 516.5L96.7 516.8L98.5 517.1L100.9 517.4L103.8 517.8L106.1 518.1L108 518.3L109.9 518.6L112.3 518.8L115 519.1L117.7 519.4L119.8 519.6L121.9 519.7L123.9 519.9" fill="none" stroke="#d8e000" stroke-width="0.5"/>
<path d="M37.4 490.3L39.5 491.5L40.9 492.3L43.3 493.5L45.8 494.7L48.4 495.8L49.8 496.4L52.6 497.5L54 498L56.9 499L58.7 499.6L61.4 500.4L63 500.9L66.1 501.8L67.7 502.2L70.4 502.9L72.6 503.4L74.3 503.8L77.2 504.4L79.5 504.9L81.3 505.2L83.5 505.7L86.6 506.2L88.5 506.5L90.4 506.7L92.3 507L95.1 507.4L97.8 507.6L100.2 507.9L102.3 508.1L104.4 508.2L106.6 508.3L108.8 508.4L111 508.5L113.3 508.5L115.7 508.5L118.2 508.4L120.9 508.3L123.3 508.1L125.3 507.9L127.1 507.7L130.3 507.1L132.3 506.7L135.2 505.8L136.7 505.3L139.3 504.1L141.6 502.8L142.6 502L144.3 500.5L145.1 499.6L146.3 497.9L146.9 496.8L147.3 495.7L147.6 494.7L147.9 493.6L148.1 492.4L148.2 491.2L148.2 490L148.1 488.8L148 487.5L147.7 486.1L147.4 484.9L147.1 483.9L146.8 483L146.4 481.8L145.7 480.3L145.2 479.3" fill="none" stroke="#d6dc00" stroke-width="0.5"/>
<path d="M48.2 485.7L50.5 486.9L53 488.1L55.6 489.2L57.4 490L59.7 490.8L62.5 491.9L64 492.3L67 493.3L68.5 493.7L71.1 494.4L73.4 495L75 495.4L78 496L80.2 496.4L82 496.7L84.2 497.1L87 497.5L89.6 497.8L91.6 498L93.7 498.2L95.8 498.3L98 498.4L100.3 498.5L102.7 498.5L105.2 498.5L107.9 498.3L110.2 498.2L112.1 497.9L114.2 497.6L117.2 497L118.8 496.6L121.7 495.7L124.2 494.6L126.5 493.3L128.4 491.9L129.2 491.1L130.2 489.9L131.2 488.5L131.6 487.5L132 486.5L132.3 485.4L132.5 484.3L132.6 483.1L132.6 482L132.4 480.7L132.2 479.4L131.8 478L131.5 477L131.1 476.1L130.6 475.1L129.8 473.5L129.3 472.6L128.7 471.8L127.6 470.2" fill="none" stroke="#e6d200" stroke-width="0.5"/>
<path d="M58 481.4L60.5 482.6L63 483.7L64.4 484.2L67.2 485.2L69.3 485.9L71.7 486.6L73.4 487.1L76.5 487.8L78.2 488.2L80.2 488.6L83.2 489L85.6 489.3L87.7 489.6L89.8 489.7L92 489.8L94.4 489.9L96.9 489.8L99.6 489.7L101.4 489.5L103.2 489.3L106.5 488.6L108 488.2L110.7 487.2L113 486.1L114.8 484.9L115.8 483.9L116.8 482.8L117.7 481.3L118.1 480.4L118.4 479.3L118.5 478.2L118.6 477.1L118.4 475.8L118.1 474.5L117.8 473.5L117.5 472.6L117 471.6L116 470L115.5 469.2L114.7 468.1L113.6 466.8L112.8 466L111.4 464.6L110.1 463.5L108.9 462.6L107.1 461.2" fill="none" stroke="#eab400" stroke-width="0.5"/>
<path d="M67.1 477.5L68.4 478L71.1 479L73.3 479.8L75.6 480.4L77.3 480.8L80.5 481.4L82.6 481.7L84.7 481.9L86.8 482.1L89.2 482.1L91.9 482L94.1 481.8L95.8 481.5L98.7 480.7L101.2 479.7L103.1 478.4L103.9 477.6L104.9 476.2L105.3 474.8L105.5 473.7L105.4 472.6L105.2 471.6L104.9 470.7L104.5 469.7L103.5 468.1L102.8 467.3L101.6 466L100.7 465.1L99 463.7" fill="none" stroke="#f09a00" stroke-width="0.5"/>
<path d="M101.5 531.4l0.6 1.2M119.8 522l0.6 1.2M138.2 512.5l0.6 1.2M156.5 503.1l0.6 1.2M174.8 493.7l0.6 1.2M101.5 531.4l-0.6 1.2M85.2 521.2l-0.6 1.2M68.9 511.1l-0.6 1.2M52.6 500.9l-0.6 1.2M36.3 490.8l-0.6 1.2" stroke="#333" stroke-width="0.6" fill="none"/>
<g class="q">
<path color="#230500" d="M107.3 390.8l2.8 1.6-2.6-1.3-2.7-1.6z"/>
<path color="#220200" d="M104.6 389.5l2.7 1.3-2.5-1.3-2.8-1.3z"/>
<path color="#230600" d="M109.9 392.1l2.7 1.6-2.5-1.3-2.8-1.6z"/>
<path color="#1f0100" d="M101.8 388.4l2.8 1.1-2.6-1.3-2.7-1z"/>
<path color="#240700" d="M112.4 393.6l2.8 1.6-2.6-1.5-2.7-1.6z"/>
<path color="#220300" d="M107.2 390.8l2.7 1.3-2.6-1.3-2.7-1.3z"/>
<path color="#1d0000" d="M99.1 387.7l2.7 .7-2.5-1.2-2.8-.7z"/>
<path color="#200100" d="M104.4 389.8l2.8 1-2.6-1.3-2.8-1.1z"/>
<path color="#220300" d="M109.7 392.3l2.7 1.3-2.5-1.5-2.7-1.3z"/>
<path color="#240900" d="M115 395.2l2.7 1.6-2.5-1.6-2.8-1.6z"/>
<path color="#210100" d="M107 391.2l2.7 1.1-2.5-1.5-2.8-1z"/>
<path color="#1b0000" d="M96.3 387.2l2.8 .5-2.6-1.2-2.7-.5z"/>
<path color="#1d0000" d="M101.7 389l2.7 .8-2.6-1.4-2.7-.7z"/>
<path color="#230400" d="M112.3 393.8l2.7 1.4-2.6-1.6-2.7-1.3z"/>
<path color="#240c00" d="M117.5 396.8l2.8 1.7-2.6-1.7-2.7-1.6z"/>
<path color="#190000" d="M93.6 387l2.7 .2-2.5-1.2-2.8-.2z"/>
<path color="#1e0100" d="M104.2 390.4l2.8 .8-2.6-1.4-2.7-.8z"/>
<path color="#220100" d="M109.5 392.8l2.8 1-2.6-1.5-2.7-1.1z"/>
<path color="#240f00" d="M120.1 398.6l2.7 1.7-2.5-1.8-2.8-1.7z"/>
<path color="#1b0000" d="M98.9 388.5l2.8 .5-2.6-1.3-2.8-.5z"/>
<path color="#230500" d="M114.8 395.5l2.7 1.3-2.5-1.6-2.7-1.4z"/>
<path color="#180000" d="M90.8 387l2.8 0-2.6-1.2-2.8 0z"/>
<path color="#1a0000" d="M96.1 388.3l2.8 .2-2.6-1.3-2.7-.2z"/>
<path color="#1c0000" d="M101.5 389.9l2.7 .5-2.5-1.4-2.8-.5z"/>
<path color="#1f0100" d="M106.8 392l2.7 .8-2.5-1.6-2.8-.8z"/>
<path color="#220200" d="M112.1 394.4l2.7 1.1-2.5-1.7-2.8-1z"/>
<path color="#240700" d="M117.4 397.2l2.7 1.4-2.6-1.8-2.7-1.3z"/>
<path color="#241200" d="M122.6 400.5l2.7 1.6-2.5-1.8-2.7-1.7z"/>
<path color="#170000" d="M88 387.3l2.8-.3-2.6-1.2-2.7 .3z"/>
<path color="#1a0000" d="M98.7 389.7l2.8 .2-2.6-1.4-2.8-.2z"/>
<path color="#220400" d="M114.6 396.2l2.8 1-2.6-1.7-2.7-1.1z"/>
<path color="#241500" d="M125.2 402.4l2.7 1.7-2.6-2-2.7-1.6z"/>
<path color="#190000" d="M93.4 388.3l2.7 0-2.5-1.3-2.8 0z"/>
<path color="#1d0000" d="M104 391.5l2.8 .5-2.6-1.6-2.7-.5z"/>
<path color="#200100" d="M109.3 393.6l2.8 .8-2.6-1.6-2.7-.8z"/>
<path color="#240a00" d="M119.9 399.1l2.7 1.4-2.5-1.9-2.7-1.4z"/>
<path color="#170000" d="M85.3 387.8l2.7-.5-2.5-1.2-2.8 .5z"/>
<path color="#180000" d="M90.6 388.6l2.8-.3-2.6-1.3-2.8 .3z"/>
<path color="#190000" d="M95.9 389.7l2.8 0-2.6-1.4-2.7 0z"/>
<path color="#1b0000" d="M101.3 391.2l2.7 .3-2.5-1.6-2.8-.2z"/>
<path color="#210100" d="M111.9 395.4l2.7 .8-2.5-1.8-2.8-.8z"/>
<path color="#230500" d="M117.2 398l2.7 1.1-2.5-1.9-2.8-1z"/>
<path color="#240d00" d="M122.5 401.1l2.7 1.3-2.6-1.9-2.7-1.4z"/>
<path color="#241800" d="M127.7 404.5l2.7 1.7-2.5-2.1-2.7-1.7z"/>
<path color="#1e0000" d="M106.6 393.1l2.7 .5-2.5-1.6-2.8-.5z"/>
<path color="#170000" d="M82.5 388.5l2.8-.7-2.6-1.2-2.7 .7z"/>
<path color="#180000" d="M93.2 390l2.7-.3-2.5-1.4-2.8 .3z"/>
<path color="#240700" d="M119.7 400l2.8 1.1-2.6-2-2.7-1.1z"/>
<path color="#241b00" d="M130.2 406.6l2.7 1.7-2.5-2.1-2.7-1.7z"/>
<path color="#170000" d="M87.8 389.1l2.8-.5-2.6-1.3-2.7 .5z"/>
<path color="#1a0000" d="M98.5 391.2l2.8 0-2.6-1.5-2.8 0z"/>
<path color="#1c0000" d="M103.8 392.9l2.8 .2-2.6-1.6-2.7-.3z"/>
<path color="#1f0100" d="M109.1 394.8l2.8 .6-2.6-1.8-2.7-.5z"/>
<path color="#220200" d="M114.4 397.2l2.8 .8-2.6-1.8-2.7-.8z"/>
<path color="#241100" d="M125 403.1l2.7 1.4-2.5-2.1-2.7-1.3z"/>
<path color="#5e0000" d="M79.8 389.5l2.7-1-2.5-1.2-2.8 1z"/>
<path color="#200000" d="M85.1 389.8l2.7-.7-2.5-1.3-2.8 .7z"/>
<path color="#190000" d="M90.4 390.5l2.8-.5-2.6-1.4-2.8 .5z"/>
<path color="#190000" d="M95.7 391.5l2.8-.3-2.6-1.5-2.7 .3z"/>
<path color="#1d0000" d="M106.4 394.6l2.7 .2-2.5-1.7-2.8-.2z"/>
<path color="#230400" d="M117 399.1l2.7 .9-2.5-2-2.8-.8z"/>
<path color="#240a00" d="M122.3 402l2.7 1.1-2.5-2-2.8-1.1z"/>
<path color="#241400" d="M127.5 405.2l2.7 1.4-2.5-2.1-2.7-1.4z"/>
<path color="#231f00" d="M132.7 408.8l2.7 1.7-2.5-2.2-2.7-1.7z"/>
<path color="#1b0000" d="M101.1 392.9l2.7 0-2.5-1.7-2.8 0z"/>
<path color="#210100" d="M111.7 396.7l2.7 .5-2.5-1.8-2.8-.6z"/>
<path color="#620000" d="M87.7 391.2l2.7-.7-2.6-1.4-2.7 .7z"/>
<path color="#240e00" d="M124.8 404.1l2.7 1.1-2.5-2.1-2.7-1.1z"/>
<path color="#660000" d="M77 390.7l2.8-1.2-2.6-1.2-2.7 1.2z"/>
<path color="#630000" d="M82.3 390.8l2.8-1-2.6-1.3-2.7 1z"/>
<path color="#210000" d="M93 392l2.7-.5-2.5-1.5-2.8 .5z"/>
<path color="#1a0000" d="M98.3 393.1l2.8-.2-2.6-1.7-2.8 .3z"/>
<path color="#1c0000" d="M103.6 394.6l2.8 0-2.6-1.7-2.7 0z"/>
<path color="#1f0100" d="M108.9 396.4l2.8 .3-2.6-1.9-2.7-.2z"/>
<path color="#220200" d="M114.2 398.6l2.8 .5-2.6-1.9-2.7-.5z"/>
<path color="#230600" d="M119.5 401.2l2.8 .8-2.6-2-2.7-.9z"/>
<path color="#241800" d="M130 407.4l2.7 1.4-2.5-2.2-2.7-1.4z"/>
<path color="#222200" d="M135.2 411.1l2.7 1.7-2.5-2.3-2.7-1.7z"/>
<path color="#6e0000" d="M74.3 392.1l2.7-1.4-2.5-1.2-2.7 1.4z"/>
<path color="#690000" d="M84.9 392.2l2.8-1-2.6-1.4-2.8 1z"/>
<path color="#680000" d="M90.2 392.8l2.8-.8-2.6-1.5-2.7 .7z"/>
<path color="#200000" d="M100.9 394.9l2.7-.3-2.5-1.7-2.8 .2z"/>
<path color="#200100" d="M111.5 398.4l2.7 .2-2.5-1.9-2.8-.3z"/>
<path color="#240800" d="M122.1 403.3l2.7 .8-2.5-2.1-2.8-.8z"/>
<path color="#241200" d="M127.3 406.3l2.7 1.1-2.5-2.2-2.7-1.1z"/>
<path color="#202200" d="M137.7 413.5l2.7 1.7-2.5-2.4-2.7-1.7z"/>
<path color="#6b0000" d="M79.6 392l2.7-1.2-2.5-1.3-2.8 1.2z"/>
<path color="#690000" d="M95.5 393.7l2.8-.6-2.6-1.6-2.7 .5z"/>
<path color="#1d0000" d="M106.2 396.4l2.7 0-2.5-1.8-2.8 0z"/>
<path color="#220300" d="M116.8 400.6l2.7 .6-2.5-2.1-2.8-.5z"/>
<path color="#231c00" d="M132.6 409.7l2.6 1.4-2.5-2.3-2.7-1.4z"/>
<path color="#770000" d="M71.6 393.7l2.7-1.6-2.5-1.2-2.8 1.6z"/>
<path color="#730000" d="M76.9 393.4l2.7-1.4-2.6-1.3-2.7 1.4z"/>
<path color="#700000" d="M82.1 393.4l2.8-1.2-2.6-1.4-2.7 1.2z"/>
<path color="#6f0000" d="M87.5 393.8l2.7-1-2.5-1.6-2.8 1z"/>
<path color="#6f0000" d="M92.8 394.4l2.7-.7-2.5-1.7-2.8 .8z"/>
<path color="#700000" d="M98.1 395.4l2.8-.5-2.6-1.8-2.8 .6z"/>
<path color="#280000" d="M103.4 396.7l2.8-.3-2.6-1.8-2.7 .3z"/>
<path color="#1f0100" d="M108.7 398.4l2.8 0-2.6-2-2.7 0z"/>
<path color="#220200" d="M114 400.4l2.8 .2-2.6-2-2.7-.2z"/>
<path color="#230500" d="M119.3 402.7l2.8 .6-2.6-2.1-2.7-.6z"/>
<path color="#240c00" d="M124.6 405.5l2.7 .8-2.5-2.2-2.7-.8z"/>
<path color="#241600" d="M129.8 408.6l2.8 1.1-2.6-2.3-2.7-1.1z"/>
<path color="#232000" d="M135.1 412l2.6 1.5-2.5-2.4-2.6-1.4z"/>
<path color="#1d2100" d="M140.2 415.9l2.7 1.7-2.5-2.4-2.7-1.7z"/>
<path color="#810000" d="M68.9 395.5l2.7-1.8-2.6-1.2-2.7 1.8z"/>
<path color="#780000" d="M79.4 394.8l2.7-1.4-2.5-1.4-2.7 1.4z"/>
<path color="#760000" d="M95.3 396.1l2.8-.7-2.6-1.7-2.7 .7z"/>
<path color="#7b0200" d="M106 398.6l2.7-.2-2.5-2-2.8 .3z"/>
<path color="#220300" d="M116.6 402.5l2.7 .2-2.5-2.1-2.8-.2z"/>
<path color="#241a00" d="M132.4 410.9l2.7 1.1-2.5-2.3-2.8-1.1z"/>
<path color="#162000" d="M142.7 418.3l2.7 1.8-2.5-2.5-2.7-1.7z"/>
<path color="#7b0000" d="M74.1 395l2.8-1.6-2.6-1.3-2.7 1.6z"/>
<path color="#760000" d="M84.7 395l2.8-1.2-2.6-1.6-2.8 1.2z"/>
<path color="#750000" d="M90 395.4l2.8-1-2.6-1.6-2.7 1z"/>
<path color="#780000" d="M100.6 397.2l2.8-.5-2.5-1.8-2.8 .5z"/>
<path color="#250100" d="M111.3 400.4l2.7 0-2.5-2-2.8 0z"/>
<path color="#240700" d="M121.9 404.9l2.7 .6-2.5-2.2-2.8-.6z"/>
<path color="#241000" d="M127.1 407.7l2.7 .9-2.5-2.3-2.7-.8z"/>
<path color="#222200" d="M137.6 414.4l2.6 1.5-2.5-2.4-2.6-1.5z"/>
<path color="#8b0000" d="M66.2 397.5l2.7-2-2.6-1.2-2.7 2z"/>
<path color="#850000" d="M71.4 396.8l2.7-1.8-2.5-1.3-2.7 1.8z"/>
<path color="#800000" d="M76.7 396.5l2.7-1.7-2.5-1.4-2.8 1.6z"/>
<path color="#7d0000" d="M82 396.4l2.7-1.4-2.6-1.6-2.7 1.4z"/>
<path color="#7c0000" d="M92.6 397.1l2.7-1-2.5-1.7-2.8 1z"/>
<path color="#7e0000" d="M97.9 398l2.7-.8-2.5-1.8-2.8 .7z"/>
<path color="#810100" d="M103.2 399.1l2.8-.5-2.6-1.9-2.8 .5z"/>
<path color="#840400" d="M108.5 400.6l2.8-.2-2.6-2-2.7 .2z"/>
<path color="#2d0200" d="M113.8 402.5l2.8 0-2.6-2.1-2.7 0z"/>
<path color="#230500" d="M119.1 404.6l2.8 .3-2.6-2.2-2.7-.2z"/>
<path color="#241400" d="M129.6 410l2.8 .9-2.6-2.3-2.7-.9z"/>
<path color="#231e00" d="M134.9 413.3l2.7 1.1-2.5-2.4-2.7-1.1z"/>
<path color="#1f2200" d="M140.1 416.9l2.6 1.4-2.5-2.4-2.6-1.5z"/>
<path color="#0f1f00" d="M145.2 420.9l2.6 1.8-2.4-2.6-2.7-1.8z"/>
<path color="#7c0000" d="M87.3 396.6l2.7-1.2-2.5-1.6-2.8 1.2z"/>
<path color="#240b00" d="M124.4 407.2l2.7 .5-2.5-2.2-2.7-.6z"/>
<path color="#8a0000" d="M74 398.3l2.7-1.8-2.6-1.5-2.7 1.8z"/>
<path color="#860100" d="M100.4 399.9l2.8-.8-2.6-1.9-2.7 .8z"/>
<path color="#8d0500" d="M111.1 402.7l2.7-.2-2.5-2.1-2.8 .2z"/>
<path color="#232200" d="M137.4 415.7l2.7 1.2-2.5-2.5-2.7-1.1z"/>
<path color="#980300" d="M63.5 399.7l2.7-2.2-2.6-1.2-2.6 2.2z"/>
<path color="#900100" d="M68.7 398.9l2.7-2.1-2.5-1.3-2.7 2z"/>
<path color="#860000" d="M79.2 398l2.8-1.6-2.6-1.6-2.7 1.7z"/>
<path color="#830000" d="M84.5 398l2.8-1.4-2.6-1.6-2.7 1.4z"/>
<path color="#830000" d="M89.8 398.3l2.8-1.2-2.6-1.7-2.7 1.2z"/>
<path color="#840000" d="M95.1 399l2.8-1-2.6-1.9-2.7 1z"/>
<path color="#8a0300" d="M105.7 401.1l2.8-.5-2.5-2-2.8 .5z"/>
<path color="#840e00" d="M116.4 404.6l2.7 0-2.5-2.1-2.8 0z"/>
<path color="#240700" d="M121.6 406.9l2.8 .3-2.5-2.3-2.8-.3z"/>
<path color="#241000" d="M126.9 409.5l2.7 .5-2.5-2.3-2.7-.5z"/>
<path color="#241800" d="M132.1 412.4l2.8 .9-2.5-2.4-2.8-.9z"/>
<path color="#1b2100" d="M142.5 419.4l2.7 1.5-2.5-2.6-2.6-1.4z"/>
<path color="#091e00" d="M147.7 423.4l2.6 1.8-2.5-2.5-2.6-1.8z"/>
<path color="#a50600" d="M60.8 402l2.7-2.3-2.5-1.2-2.7 2.3z"/>
<path color="#9c0300" d="M66 401l2.7-2.1-2.5-1.4-2.7 2.2z"/>
<path color="#940200" d="M71.2 400.3l2.8-2-2.6-1.5-2.7 2.1z"/>
<path color="#8f0000" d="M76.5 399.8l2.7-1.8-2.5-1.5-2.7 1.8z"/>
<path color="#8a0000" d="M87.1 399.8l2.7-1.5-2.5-1.7-2.8 1.4z"/>
<path color="#8c0100" d="M97.7 400.9l2.7-1-2.5-1.9-2.8 1z"/>
<path color="#8f0300" d="M103 401.9l2.7-.8-2.5-2-2.8 .8z"/>
<path color="#930500" d="M108.3 403.2l2.8-.5-2.6-2.1-2.8 .5z"/>
<path color="#940b00" d="M113.6 404.9l2.8-.3-2.6-2.1-2.7 .2z"/>
<path color="#250c00" d="M124.2 409.2l2.7 .3-2.5-2.3-2.8-.3z"/>
<path color="#231c00" d="M134.7 414.9l2.7 .8-2.5-2.4-2.8-.9z"/>
<path color="#202200" d="M139.9 418.2l2.6 1.2-2.4-2.5-2.7-1.2z"/>
<path color="#142000" d="M145 421.9l2.7 1.5-2.5-2.5-2.7-1.5z"/>
<path color="#071e00" d="M150.1 426l2.7 1.9-2.5-2.7-2.6-1.8z"/>
<path color="#8c0000" d="M81.8 399.7l2.7-1.7-2.5-1.6-2.8 1.6z"/>
<path color="#8a0000" d="M92.4 400.2l2.7-1.2-2.5-1.9-2.8 1.2z"/>
<path color="#7d1300" d="M118.9 406.9l2.7 0-2.5-2.3-2.7 0z"/>
<path color="#241400" d="M129.4 411.8l2.7 .6-2.5-2.4-2.7-.5z"/>
<path color="#b00d00" d="M58.2 404.5l2.6-2.5-2.5-1.2-2.7 2.5z"/>
<path color="#a00400" d="M68.5 402.5l2.7-2.2-2.5-1.4-2.7 2.1z"/>
<path color="#990500" d="M105.5 404l2.8-.8-2.6-2.1-2.7 .8z"/>
<path color="#1e2200" d="M142.3 420.8l2.7 1.1-2.5-2.5-2.6-1.2z"/>
<path color="#061e00" d="M152.6 428.7l2.6 1.8-2.4-2.6-2.7-1.9z"/>
<path color="#a90600" d="M63.3 403.4l2.7-2.4-2.5-1.3-2.7 2.3z"/>
<path color="#9a0200" d="M73.8 401.9l2.7-2.1-2.5-1.5-2.8 2z"/>
<path color="#950200" d="M79 401.5l2.8-1.8-2.6-1.7-2.7 1.8z"/>
<path color="#920100" d="M84.3 401.4l2.8-1.6-2.6-1.8-2.7 1.7z"/>
<path color="#910100" d="M89.6 401.6l2.8-1.4-2.6-1.9-2.7 1.5z"/>
<path color="#920200" d="M94.9 402.1l2.8-1.2-2.6-1.9-2.7 1.2z"/>
<path color="#950300" d="M100.2 402.9l2.8-1-2.6-2-2.7 1z"/>
<path color="#9c0900" d="M110.8 405.4l2.8-.5-2.5-2.2-2.8 .5z"/>
<path color="#8f1200" d="M116.1 407.1l2.8-.2-2.5-2.3-2.8 .3z"/>
<path color="#761a00" d="M121.4 409.2l2.8 0-2.6-2.3-2.7 0z"/>
<path color="#2a1300" d="M126.7 411.6l2.7 .2-2.5-2.3-2.7-.3z"/>
<path color="#241800" d="M131.9 414.3l2.8 .6-2.6-2.5-2.7-.6z"/>
<path color="#232100" d="M137.1 417.3l2.8 .9-2.5-2.5-2.7-.8z"/>
<path color="#0c1f00" d="M147.5 424.5l2.6 1.5-2.4-2.6-2.7-1.5z"/>
<path color="#ac1900" d="M55.5 407.2l2.7-2.7-2.6-1.2-2.6 2.7z"/>
<path color="#ad0700" d="M65.9 404.9l2.6-2.4-2.5-1.5-2.7 2.4z"/>
<path color="#9c0300" d="M81.6 403.2l2.7-1.8-2.5-1.7-2.8 1.8z"/>
<path color="#9a0300" d="M92.2 403.5l2.7-1.4-2.5-1.9-2.8 1.4z"/>
<path color="#9e0500" d="M102.8 405l2.7-1-2.5-2.1-2.8 1z"/>
<path color="#a20800" d="M108.1 406.2l2.7-.8-2.5-2.2-2.8 .8z"/>
<path color="#891800" d="M118.7 409.4l2.7-.2-2.5-2.3-2.8 .2z"/>
<path color="#2e1a00" d="M129.2 414l2.7 .3-2.5-2.5-2.7-.2z"/>
<path color="#172100" d="M144.8 423.4l2.7 1.1-2.5-2.6-2.7-1.1z"/>
<path color="#051e00" d="M155 431.4l2.7 1.8-2.5-2.7-2.6-1.8z"/>
<path color="#b10f00" d="M60.7 405.9l2.6-2.5-2.5-1.4-2.6 2.5z"/>
<path color="#a60500" d="M71.1 404.1l2.7-2.2-2.6-1.6-2.7 2.2z"/>
<path color="#a00400" d="M76.3 403.5l2.7-2-2.5-1.7-2.7 2.1z"/>
<path color="#9a0300" d="M86.9 403.3l2.7-1.7-2.5-1.8-2.8 1.6z"/>
<path color="#9b0400" d="M97.5 404.1l2.7-1.2-2.5-2-2.8 1.2z"/>
<path color="#9a1100" d="M113.4 407.6l2.7-.5-2.5-2.2-2.8 .5z"/>
<path color="#6b2500" d="M123.9 411.5l2.8 .1-2.5-2.4-2.8 0z"/>
<path color="#231c00" d="M134.4 416.8l2.7 .5-2.4-2.4-2.8-.6z"/>
<path color="#212200" d="M139.6 419.9l2.7 .9-2.4-2.6-2.8-.9z"/>
<path color="#081e00" d="M150 427.2l2.6 1.5-2.5-2.7-2.6-1.5z"/>
<path color="#a62a00" d="M52.9 410l2.6-2.8-2.5-1.2-2.6 2.8z"/>
<path color="#ad1b00" d="M58 408.6l2.7-2.7-2.5-1.4-2.7 2.7z"/>
<path color="#b11200" d="M63.2 407.4l2.7-2.5-2.6-1.5-2.6 2.5z"/>
<path color="#b20900" d="M68.4 406.4l2.7-2.3-2.6-1.6-2.6 2.4z"/>
<path color="#ac0600" d="M73.6 405.7l2.7-2.2-2.5-1.6-2.7 2.2z"/>
<path color="#a60500" d="M78.9 405.3l2.7-2.1-2.6-1.7-2.7 2z"/>
<path color="#a30400" d="M84.1 405.1l2.8-1.8-2.6-1.9-2.7 1.8z"/>
<path color="#a20400" d="M89.4 405.2l2.8-1.7-2.6-1.9-2.7 1.7z"/>
<path color="#a20500" d="M94.7 405.6l2.8-1.5-2.6-2-2.7 1.4z"/>
<path color="#a40600" d="M100 406.2l2.8-1.2-2.6-2.1-2.7 1.2z"/>
<path color="#a70800" d="M105.3 407.2l2.8-1-2.6-2.2-2.7 1z"/>
<path color="#a21000" d="M110.6 408.4l2.8-.8-2.6-2.2-2.7 .8z"/>
<path color="#961800" d="M115.9 409.9l2.8-.5-2.6-2.3-2.7 .5z"/>
<path color="#812400" d="M121.2 411.8l2.7-.3-2.5-2.3-2.7 .2z"/>
<path color="#602e00" d="M126.4 414l2.8 0-2.5-2.4-2.8-.1z"/>
<path color="#312200" d="M131.7 416.5l2.7 .3-2.5-2.5-2.7-.3z"/>
<path color="#232000" d="M136.9 419.3l2.7 .6-2.5-2.6-2.7-.5z"/>
<path color="#1f2200" d="M142.1 422.5l2.7 .9-2.5-2.6-2.7-.9z"/>
<path color="#0f1f00" d="M147.3 426l2.7 1.2-2.5-2.7-2.7-1.1z"/>
<path color="#071e00" d="M152.4 429.8l2.6 1.6-2.4-2.7-2.6-1.5z"/>
<path color="#031e00" d="M157.5 434.1l2.6 1.8-2.4-2.7-2.7-1.8z"/>
<path color="#9b4400" d="M50.3 412.9l2.6-2.9-2.5-1.2-2.6 2.9z"/>
<path color="#ae1d00" d="M60.5 410.1l2.7-2.7-2.5-1.5-2.7 2.7z"/>
<path color="#b21500" d="M65.7 409l2.7-2.6-2.5-1.5-2.7 2.5z"/>
<path color="#b20800" d="M76.2 407.5l2.7-2.2-2.6-1.8-2.7 2.2z"/>
<path color="#ab0600" d="M86.7 407l2.7-1.8-2.5-1.9-2.8 1.8z"/>
<path color="#ab0700" d="M97.2 407.7l2.8-1.5-2.5-2.1-2.8 1.5z"/>
<path color="#9e1800" d="M113.1 410.7l2.8-.8-2.5-2.3-2.8 .8z"/>
<path color="#763000" d="M123.7 414.2l2.7-.2-2.5-2.5-2.7 .3z"/>
<path color="#342a00" d="M134.2 419l2.7 .3-2.5-2.5-2.7-.3z"/>
<path color="#192100" d="M144.6 425.1l2.7 .9-2.5-2.6-2.7-.9z"/>
<path color="#091e00" d="M149.7 428.6l2.7 1.2-2.4-2.6-2.7-1.2z"/>
<path color="#021e00" d="M159.9 436.8l2.6 1.9-2.4-2.8-2.6-1.8z"/>
<path color="#a62e00" d="M55.4 411.4l2.6-2.8-2.5-1.4-2.6 2.8z"/>
<path color="#b40e00" d="M70.9 408.1l2.7-2.4-2.5-1.6-2.7 2.3z"/>
<path color="#ae0700" d="M81.4 407.1l2.7-2-2.5-1.9-2.7 2.1z"/>
<path color="#aa0600" d="M92 407.2l2.7-1.6-2.5-2.1-2.8 1.7z"/>
<path color="#ac0a00" d="M102.5 408.4l2.8-1.2-2.5-2.2-2.8 1.2z"/>
<path color="#a81100" d="M107.8 409.4l2.8-1-2.5-2.2-2.8 1z"/>
<path color="#8f2100" d="M118.4 412.3l2.8-.5-2.5-2.4-2.8 .5z"/>
<path color="#553300" d="M129 416.4l2.7 .1-2.5-2.5-2.8 0z"/>
<path color="#212200" d="M139.4 421.9l2.7 .6-2.5-2.6-2.7-.6z"/>
<path color="#051e00" d="M154.9 432.5l2.6 1.6-2.5-2.7-2.6-1.6z"/>
<path color="#905900" d="M47.7 416l2.6-3.1-2.5-1.2-2.6 3z"/>
<path color="#9c4800" d="M52.8 414.3l2.6-2.9-2.5-1.4-2.6 2.9z"/>
<path color="#a73300" d="M57.9 412.9l2.6-2.8-2.5-1.5-2.6 2.8z"/>
<path color="#ae2100" d="M63.1 411.7l2.6-2.7-2.5-1.6-2.7 2.7z"/>
<path color="#b41300" d="M73.5 409.9l2.7-2.4-2.6-1.8-2.7 2.4z"/>
<path color="#b40b00" d="M83.9 409.1l2.8-2.1-2.6-1.9-2.7 2z"/>
<path color="#b20a00" d="M89.2 409.1l2.8-1.9-2.6-2-2.7 1.8z"/>
<path color="#b10b00" d="M94.5 409.3l2.7-1.6-2.5-2.1-2.7 1.6z"/>
<path color="#b00e00" d="M99.8 409.8l2.7-1.4-2.5-2.2-2.8 1.5z"/>
<path color="#a41800" d="M110.4 411.7l2.7-1-2.5-2.3-2.8 1z"/>
<path color="#992000" d="M115.7 413.1l2.7-.8-2.5-2.4-2.8 .8z"/>
<path color="#863000" d="M120.9 414.7l2.8-.5-2.5-2.4-2.8 .5z"/>
<path color="#6c3a00" d="M126.2 416.7l2.8-.3-2.6-2.4-2.7 .2z"/>
<path color="#363200" d="M136.7 421.6l2.7 .3-2.5-2.6-2.7-.3z"/>
<path color="#111f00" d="M147.1 427.7l2.6 .9-2.4-2.6-2.7-.9z"/>
<path color="#071e00" d="M152.2 431.3l2.7 1.2-2.5-2.7-2.7-1.2z"/>
<path color="#041e00" d="M157.3 435.2l2.6 1.6-2.4-2.7-2.6-1.6z"/>
<path color="#001d00" d="M162.3 439.5l2.6 1.9-2.4-2.7-2.6-1.9z"/>
<path color="#b21900" d="M68.2 410.7l2.7-2.6-2.5-1.7-2.7 2.6z"/>
<path color="#b50e00" d="M78.7 409.4l2.7-2.3-2.5-1.8-2.7 2.2z"/>
<path color="#ab1300" d="M105.1 410.6l2.7-1.2-2.5-2.2-2.8 1.2z"/>
<path color="#4b3600" d="M131.5 419l2.7 0-2.5-2.5-2.7-.1z"/>
<path color="#1f2200" d="M141.9 424.5l2.7 .6-2.5-2.6-2.7-.6z"/>
<path color="#9c4d00" d="M55.3 415.8l2.6-2.9-2.5-1.5-2.6 2.9z"/>
<path color="#b31100" d="M91.7 411.2l2.8-1.9-2.5-2.1-2.8 1.9z"/>
<path color="#913000" d="M118.2 415.5l2.7-.8-2.5-2.4-2.7 .8z"/>
<path color="#061e00" d="M154.6 434l2.7 1.2-2.4-2.7-2.7-1.2z"/>
<path color="#8a6e00" d="M45.1 419.2l2.6-3.2-2.5-1.3-2.6 3.2z"/>
<path color="#915c00" d="M50.2 417.4l2.6-3.1-2.5-1.4-2.6 3.1z"/>
<path color="#a63a00" d="M60.4 414.5l2.7-2.8-2.6-1.6-2.6 2.8z"/>
<path color="#ae2700" d="M65.6 413.4l2.6-2.7-2.5-1.7-2.6 2.7z"/>
<path color="#b11e00" d="M70.8 412.4l2.7-2.5-2.6-1.8-2.7 2.6z"/>
<path color="#b31800" d="M76 411.8l2.7-2.4-2.5-1.9-2.7 2.4z"/>
<path color="#b41400" d="M81.2 411.3l2.7-2.2-2.5-2-2.7 2.3z"/>
<path color="#b41200" d="M86.5 411.1l2.7-2-2.5-2.1-2.8 2.1z"/>
<path color="#b11300" d="M97 411.5l2.8-1.7-2.6-2.1-2.7 1.6z"/>
<path color="#ad1600" d="M102.3 412.1l2.8-1.5-2.6-2.2-2.7 1.4z"/>
<path color="#a81b00" d="M107.6 412.9l2.8-1.2-2.6-2.3-2.7 1.2z"/>
<path color="#a02100" d="M112.9 414.1l2.8-1-2.6-2.4-2.7 1z"/>
<path color="#7c3d00" d="M123.4 417.2l2.8-.5-2.5-2.5-2.8 .5z"/>
<path color="#614000" d="M128.7 419.2l2.8-.2-2.5-2.6-2.8 .3z"/>
<path color="#4c4000" d="M133.9 421.5l2.8 .1-2.5-2.6-2.7 0z"/>
<path color="#343500" d="M139.2 424.2l2.7 .3-2.5-2.6-2.7-.3z"/>
<path color="#192100" d="M144.4 427.1l2.7 .6-2.5-2.6-2.7-.6z"/>
<path color="#0a1e00" d="M149.5 430.4l2.7 .9-2.5-2.7-2.6-.9z"/>
<path color="#031e00" d="M159.7 437.9l2.6 1.6-2.4-2.7-2.6-1.6z"/>
<path color="#001d01" d="M164.8 442.3l2.5 1.9-2.4-2.8-2.6-1.9z"/>
<path color="#878400" d="M42.5 422.5l2.6-3.3-2.5-1.3-2.6 3.3z"/>
<path color="#8c7300" d="M47.6 420.6l2.6-3.2-2.5-1.4-2.6 3.2z"/>
<path color="#926000" d="M52.6 418.9l2.7-3.1-2.5-1.5-2.6 3.1z"/>
<path color="#9c5200" d="M57.8 417.5l2.6-3-2.5-1.6-2.6 2.9z"/>
<path color="#ab3100" d="M68.1 415.2l2.7-2.8-2.6-1.7-2.6 2.7z"/>
<path color="#b12300" d="M73.3 414.3l2.7-2.5-2.5-1.9-2.7 2.5z"/>
<path color="#b21e00" d="M78.5 413.7l2.7-2.4-2.5-1.9-2.7 2.4z"/>
<path color="#b31b00" d="M83.8 413.4l2.7-2.3-2.6-2-2.7 2.2z"/>
<path color="#b21900" d="M89 413.3l2.7-2.1-2.5-2.1-2.7 2z"/>
<path color="#b11900" d="M94.3 413.4l2.7-1.9-2.5-2.2-2.8 1.9z"/>
<path color="#aa1e00" d="M104.8 414.4l2.8-1.5-2.5-2.3-2.8 1.5z"/>
<path color="#973200" d="M115.4 416.5l2.8-1-2.5-2.4-2.8 1z"/>
<path color="#883f00" d="M120.7 418l2.7-.8-2.5-2.5-2.7 .8z"/>
<path color="#724600" d="M125.9 419.7l2.8-.5-2.5-2.5-2.8 .5z"/>
<path color="#5d4800" d="M131.2 421.8l2.7-.3-2.4-2.5-2.8 .2z"/>
<path color="#4c4900" d="M136.4 424.1l2.8 .1-2.5-2.6-2.8-.1z"/>
<path color="#313600" d="M141.6 426.8l2.8 .3-2.5-2.6-2.7-.3z"/>
<path color="#081e00" d="M152 433.1l2.6 .9-2.4-2.7-2.7-.9z"/>
<path color="#051e00" d="M157.1 436.7l2.6 1.2-2.4-2.7-2.7-1.2z"/>
<path color="#011d00" d="M162.2 440.7l2.6 1.6-2.5-2.8-2.6-1.6z"/>
<path color="#001d02" d="M167.2 445l2.6 1.9-2.5-2.7-2.5-1.9z"/>
<path color="#a44200" d="M62.9 416.2l2.7-2.8-2.5-1.7-2.7 2.8z"/>
<path color="#ae1b00" d="M99.6 413.8l2.7-1.7-2.5-2.3-2.8 1.7z"/>
<path color="#a32500" d="M110.1 415.3l2.8-1.2-2.5-2.4-2.8 1.2z"/>
<path color="#122000" d="M146.8 429.8l2.7 .6-2.4-2.7-2.7-.6z"/>
<path color="#8f7800" d="M50.1 422.1l2.5-3.2-2.4-1.5-2.6 3.2z"/>
<path color="#ad3000" d="M75.8 416.3l2.7-2.6-2.5-1.9-2.7 2.5z"/>
<path color="#b12100" d="M86.3 415.5l2.7-2.2-2.5-2.2-2.7 2.3z"/>
<path color="#7e4a00" d="M123.2 420.5l2.7-.8-2.5-2.5-2.7 .8z"/>
<path color="#5d5400" d="M133.7 424.4l2.7-.3-2.5-2.6-2.7 .3z"/>
<path color="#031e00" d="M159.5 439.4l2.7 1.3-2.5-2.8-2.6-1.2z"/>
<path color="#798500" d="M40 425.9l2.5-3.4-2.5-1.3-2.5 3.3z"/>
<path color="#888700" d="M45 423.9l2.6-3.3-2.5-1.4-2.6 3.3z"/>
<path color="#916500" d="M55.1 420.6l2.7-3.1-2.5-1.7-2.7 3.1z"/>
<path color="#9b5800" d="M60.3 419.2l2.6-3-2.5-1.7-2.6 3z"/>
<path color="#a24b00" d="M65.4 418l2.7-2.8-2.5-1.8-2.7 2.8z"/>
<path color="#a93c00" d="M70.6 417.1l2.7-2.8-2.5-1.9-2.7 2.8z"/>
<path color="#b02600" d="M81 415.8l2.8-2.4-2.6-2.1-2.7 2.4z"/>
<path color="#b02000" d="M91.5 415.5l2.8-2.1-2.6-2.2-2.7 2.1z"/>
<path color="#af2100" d="M96.8 415.6l2.8-1.8-2.6-2.3-2.7 1.9z"/>
<path color="#ab2300" d="M102.1 416.1l2.7-1.7-2.5-2.3-2.7 1.7z"/>
<path color="#a52c00" d="M107.4 416.8l2.7-1.5-2.5-2.4-2.8 1.5z"/>
<path color="#9c3700" d="M112.6 417.7l2.8-1.2-2.5-2.4-2.8 1.2z"/>
<path color="#8f4200" d="M117.9 419l2.8-1-2.5-2.5-2.8 1z"/>
<path color="#6a4d00" d="M128.4 422.3l2.8-.5-2.5-2.6-2.8 .5z"/>
<path color="#474b00" d="M138.9 426.7l2.7 .1-2.4-2.6-2.8-.1z"/>
<path color="#283600" d="M144.1 429.4l2.7 .4-2.4-2.7-2.8-.3z"/>
<path color="#0a1e00" d="M149.3 432.4l2.7 .7-2.5-2.7-2.7-.6z"/>
<path color="#061e00" d="M154.4 435.8l2.7 .9-2.5-2.7-2.6-.9z"/>
<path color="#001d00" d="M164.6 443.4l2.6 1.6-2.4-2.7-2.6-1.6z"/>
<path color="#001d03" d="M169.6 447.7l2.6 2-2.4-2.8-2.6-1.9z"/>
<path color="#528000" d="M37.4 429.3l2.6-3.4-2.5-1.4-2.5 3.5z"/>
<path color="#888900" d="M47.5 425.5l2.6-3.4-2.5-1.5-2.6 3.3z"/>
<path color="#995f00" d="M62.8 421l2.6-3-2.5-1.8-2.6 3z"/>
<path color="#a54800" d="M73.1 419.1l2.7-2.8-2.5-2-2.7 2.8z"/>
<path color="#ac3500" d="M83.6 417.9l2.7-2.4-2.5-2.1-2.8 2.4z"/>
<path color="#a93000" d="M99.3 418l2.8-1.9-2.5-2.3-2.8 1.8z"/>
<path color="#9e3e00" d="M109.9 419.2l2.7-1.5-2.5-2.4-2.7 1.5z"/>
<path color="#755200" d="M125.7 423l2.7-.7-2.5-2.6-2.7 .8z"/>
<path color="#5a5a00" d="M136.2 427l2.7-.3-2.5-2.6-2.7 .3z"/>
<path color="#1c3400" d="M146.6 432.1l2.7 .3-2.5-2.6-2.7-.4z"/>
<path color="#021e00" d="M162 442.1l2.6 1.3-2.4-2.7-2.7-1.3z"/>
<path color="#001d04" d="M172 450.4l2.5 2-2.3-2.7-2.6-2z"/>
<path color="#7a8800" d="M42.4 427.3l2.6-3.4-2.5-1.4-2.5 3.4z"/>
<path color="#907f00" d="M52.5 423.8l2.6-3.2-2.5-1.7-2.5 3.2z"/>
<path color="#936d00" d="M57.7 422.3l2.6-3.1-2.5-1.7-2.7 3.1z"/>
<path color="#a05400" d="M67.9 419.9l2.7-2.8-2.5-1.9-2.7 2.8z"/>
<path color="#a93d00" d="M78.3 418.4l2.7-2.6-2.5-2.1-2.7 2.6z"/>
<path color="#ad3000" d="M88.8 417.7l2.7-2.2-2.5-2.2-2.7 2.2z"/>
<path color="#ac2e00" d="M94.1 417.7l2.7-2.1-2.5-2.2-2.8 2.1z"/>
<path color="#a53600" d="M104.6 418.5l2.8-1.7-2.6-2.4-2.7 1.7z"/>
<path color="#944700" d="M115.2 420.2l2.7-1.2-2.5-2.5-2.8 1.2z"/>
<path color="#874e00" d="M120.4 421.5l2.8-1-2.5-2.5-2.8 1z"/>
<path color="#6a5b00" d="M130.9 424.9l2.8-.5-2.5-2.6-2.8 .5z"/>
<path color="#414b00" d="M141.4 429.4l2.7 0-2.5-2.6-2.7-.1z"/>
<path color="#081e00" d="M151.7 435.1l2.7 .7-2.4-2.7-2.7-.7z"/>
<path color="#051e00" d="M156.9 438.5l2.6 .9-2.4-2.7-2.7-.9z"/>
<path color="#001d01" d="M167 446.1l2.6 1.6-2.4-2.7-2.6-1.6z"/>
<path color="#257900" d="M34.9 432.9l2.5-3.6-2.4-1.3-2.5 3.5z"/>
<path color="#508200" d="M39.9 430.8l2.5-3.5-2.4-1.4-2.6 3.4z"/>
<path color="#778900" d="M44.9 428.9l2.6-3.4-2.5-1.6-2.6 3.4z"/>
<path color="#878b00" d="M50 427.1l2.5-3.3-2.4-1.7-2.6 3.4z"/>
<path color="#947500" d="M60.2 424.2l2.6-3.2-2.5-1.8-2.6 3.1z"/>
<path color="#976700" d="M65.3 423l2.6-3.1-2.5-1.9-2.6 3z"/>
<path color="#9d5c00" d="M70.5 421.9l2.6-2.8-2.5-2-2.7 2.8z"/>
<path color="#a25300" d="M75.7 421.1l2.6-2.7-2.5-2.1-2.7 2.8z"/>
<path color="#a54b00" d="M80.9 420.5l2.7-2.6-2.6-2.1-2.7 2.6z"/>
<path color="#a74400" d="M86.1 420.2l2.7-2.5-2.5-2.2-2.7 2.4z"/>
<path color="#a63f00" d="M96.6 420.1l2.7-2.1-2.5-2.4-2.7 2.1z"/>
<path color="#a34200" d="M101.9 420.4l2.7-1.9-2.5-2.4-2.8 1.9z"/>
<path color="#9e4700" d="M107.1 420.9l2.8-1.7-2.5-2.4-2.8 1.7z"/>
<path color="#964d00" d="M112.4 421.7l2.8-1.5-2.6-2.5-2.7 1.5z"/>
<path color="#7e5800" d="M122.9 424l2.8-1-2.5-2.5-2.8 1z"/>
<path color="#756100" d="M128.2 425.6l2.7-.7-2.5-2.6-2.7 .7z"/>
<path color="#696600" d="M133.4 427.5l2.8-.5-2.5-2.6-2.8 .5z"/>
<path color="#545b00" d="M138.7 429.6l2.7-.2-2.5-2.7-2.7 .3z"/>
<path color="#324900" d="M143.9 432l2.7 .1-2.5-2.7-2.7 0z"/>
<path color="#103200" d="M149 434.8l2.7 .3-2.4-2.7-2.7-.3z"/>
<path color="#041e00" d="M159.3 441.1l2.7 1-2.5-2.7-2.6-.9z"/>
<path color="#011d00" d="M164.4 444.8l2.6 1.3-2.4-2.7-2.6-1.3z"/>
<path color="#001d02" d="M169.4 448.8l2.6 1.6-2.4-2.7-2.6-1.6z"/>
<path color="#001d05" d="M174.4 453.1l2.5 2-2.4-2.7-2.5-2z"/>
<path color="#928700" d="M55 425.5l2.7-3.2-2.6-1.7-2.6 3.2z"/>
<path color="#a74000" d="M91.3 420l2.8-2.3-2.6-2.2-2.7 2.2z"/>
<path color="#8c5300" d="M117.7 422.7l2.7-1.2-2.5-2.5-2.7 1.2z"/>
<path color="#061e00" d="M154.2 437.8l2.7 .7-2.5-2.7-2.7-.7z"/>
<path color="#4b8300" d="M42.4 432.4l2.5-3.5-2.5-1.6-2.5 3.5z"/>
<path color="#967000" d="M67.8 425l2.7-3.1-2.6-2-2.6 3.1z"/>
<path color="#9e5d00" d="M78.2 423.3l2.7-2.8-2.6-2.1-2.6 2.7z"/>
<path color="#746f00" d="M130.7 428.2l2.7-.7-2.5-2.6-2.7 .7z"/>
<path color="#485900" d="M141.1 432.3l2.8-.3-2.5-2.6-2.7 .2z"/>
<path color="#001d01" d="M166.8 447.5l2.6 1.3-2.4-2.7-2.6-1.3z"/>
<path color="#247b00" d="M37.4 434.3l2.5-3.5-2.5-1.5-2.5 3.6z"/>
<path color="#728a00" d="M47.4 430.5l2.6-3.4-2.5-1.6-2.6 3.4z"/>
<path color="#918d00" d="M57.5 427.4l2.7-3.2-2.5-1.9-2.7 3.2z"/>
<path color="#a05700" d="M83.4 422.8l2.7-2.6-2.5-2.3-2.7 2.6z"/>
<path color="#a25000" d="M93.9 422.3l2.7-2.2-2.5-2.4-2.8 2.3z"/>
<path color="#9c5100" d="M104.4 422.8l2.7-1.9-2.5-2.4-2.7 1.9z"/>
<path color="#8e5900" d="M114.9 424.2l2.8-1.5-2.5-2.5-2.8 1.5z"/>
<path color="#7d6600" d="M125.4 426.6l2.8-1-2.5-2.6-2.8 1z"/>
<path color="#0d3100" d="M151.5 437.4l2.7 .4-2.5-2.7-2.7-.3z"/>
<path color="#021e00" d="M161.7 443.8l2.7 1-2.4-2.7-2.7-1z"/>
<path color="#001d03" d="M171.8 451.5l2.6 1.6-2.4-2.7-2.6-1.6z"/>
<path color="#868d00" d="M52.4 428.9l2.6-3.4-2.5-1.7-2.5 3.3z"/>
<path color="#957f00" d="M62.7 426.1l2.6-3.1-2.5-2-2.6 3.2z"/>
<path color="#996500" d="M73 424l2.7-2.9-2.6-2-2.6 2.8z"/>
<path color="#a25200" d="M88.6 422.4l2.7-2.4-2.5-2.3-2.7 2.5z"/>
<path color="#a04f00" d="M99.1 422.5l2.8-2.1-2.6-2.4-2.7 2.1z"/>
<path color="#965500" d="M109.6 423.4l2.8-1.7-2.5-2.5-2.8 1.7z"/>
<path color="#845e00" d="M120.2 425.3l2.7-1.3-2.5-2.5-2.7 1.2z"/>
<path color="#626700" d="M135.9 430.1l2.8-.5-2.5-2.6-2.8 .5z"/>
<path color="#224600" d="M146.3 434.7l2.7 .1-2.4-2.7-2.7-.1z"/>
<path color="#051e00" d="M156.6 440.5l2.7 .6-2.4-2.6-2.7-.7z"/>
<path color="#237d00" d="M39.8 435.9l2.6-3.5-2.5-1.6-2.5 3.5z"/>
<path color="#001d01" d="M169.2 450.2l2.6 1.3-2.4-2.7-2.6-1.3z"/>
<path color="#448300" d="M44.8 434.1l2.6-3.6-2.5-1.6-2.5 3.5z"/>
<path color="#838e00" d="M54.9 430.8l2.6-3.4-2.5-1.9-2.6 3.4z"/>
<path color="#958a00" d="M65.2 428.1l2.6-3.1-2.5-2-2.6 3.1z"/>
<path color="#967c00" d="M70.3 427.1l2.7-3.1-2.5-2.1-2.7 3.1z"/>
<path color="#977000" d="M75.5 426.2l2.7-2.9-2.5-2.2-2.7 2.9z"/>
<path color="#996800" d="M80.7 425.5l2.7-2.7-2.5-2.3-2.7 2.8z"/>
<path color="#9c5e00" d="M91.1 424.8l2.8-2.5-2.6-2.3-2.7 2.4z"/>
<path color="#995c00" d="M101.6 424.9l2.8-2.1-2.5-2.4-2.8 2.1z"/>
<path color="#955e00" d="M106.9 425.3l2.7-1.9-2.5-2.5-2.7 1.9z"/>
<path color="#896500" d="M117.4 426.8l2.8-1.5-2.5-2.6-2.8 1.5z"/>
<path color="#7c7600" d="M127.9 429.2l2.8-1-2.5-2.6-2.8 1z"/>
<path color="#6d7000" d="M133.2 430.9l2.7-.8-2.5-2.6-2.7 .7z"/>
<path color="#586600" d="M138.4 432.8l2.7-.5-2.4-2.7-2.8 .5z"/>
<path color="#345600" d="M143.6 434.9l2.7-.2-2.4-2.7-2.8 .3z"/>
<path color="#0a3000" d="M153.9 440.1l2.7 .4-2.4-2.7-2.7-.4z"/>
<path color="#011d00" d="M164.2 446.5l2.6 1-2.4-2.7-2.7-1z"/>
<path color="#6b8a00" d="M49.9 432.3l2.5-3.4-2.4-1.8-2.6 3.4z"/>
<path color="#8e8f00" d="M60 429.4l2.7-3.3-2.5-1.9-2.7 3.2z"/>
<path color="#9b6200" d="M85.9 425.1l2.7-2.7-2.5-2.2-2.7 2.6z"/>
<path color="#9c5c00" d="M96.4 424.7l2.7-2.2-2.5-2.4-2.7 2.2z"/>
<path color="#8f6000" d="M112.1 425.9l2.8-1.7-2.5-2.5-2.8 1.7z"/>
<path color="#836d00" d="M122.7 427.9l2.7-1.3-2.5-2.6-2.7 1.3z"/>
<path color="#144300" d="M148.8 437.4l2.7 0-2.5-2.6-2.7-.1z"/>
<path color="#041e00" d="M159.1 443.2l2.6 .6-2.4-2.7-2.7-.6z"/>
<path color="#978800" d="M72.8 429.3l2.7-3.1-2.5-2.2-2.7 3.1z"/>
<path color="#657000" d="M135.6 433.5l2.8-.7-2.5-2.7-2.7 .8z"/>
<path color="#227e00" d="M42.3 437.6l2.5-3.5-2.4-1.7-2.6 3.5z"/>
<path color="#608a00" d="M52.4 434.2l2.5-3.4-2.5-1.9-2.5 3.4z"/>
<path color="#8a9000" d="M62.5 431.4l2.7-3.3-2.5-2-2.7 3.3z"/>
<path color="#976e00" d="M88.4 427.4l2.7-2.6-2.5-2.4-2.7 2.7z"/>
<path color="#887500" d="M119.9 429.4l2.8-1.5-2.5-2.6-2.8 1.5z"/>
<path color="#205300" d="M146 437.6l2.8-.2-2.5-2.7-2.7 .2z"/>
<path color="#082f00" d="M156.4 442.8l2.7 .4-2.5-2.7-2.7-.4z"/>
<path color="#001d00" d="M166.6 449.1l2.6 1.1-2.4-2.7-2.6-1z"/>
<path color="#3b8300" d="M47.3 435.9l2.6-3.6-2.5-1.8-2.6 3.6z"/>
<path color="#7d8f00" d="M57.4 432.7l2.6-3.3-2.5-2-2.6 3.4z"/>
<path color="#939000" d="M67.7 430.2l2.6-3.1-2.5-2.1-2.6 3.1z"/>
<path color="#977d00" d="M78 428.5l2.7-3-2.5-2.2-2.7 2.9z"/>
<path color="#977400" d="M83.2 427.9l2.7-2.8-2.5-2.3-2.7 2.7z"/>
<path color="#976a00" d="M93.6 427.2l2.8-2.5-2.5-2.4-2.8 2.5z"/>
<path color="#966800" d="M98.9 427.2l2.7-2.3-2.5-2.4-2.7 2.2z"/>
<path color="#936800" d="M104.1 427.4l2.8-2.1-2.5-2.5-2.8 2.1z"/>
<path color="#906a00" d="M109.4 427.8l2.7-1.9-2.5-2.5-2.7 1.9z"/>
<path color="#8d6f00" d="M114.6 428.5l2.8-1.7-2.5-2.6-2.8 1.7z"/>
<path color="#827d00" d="M125.1 430.5l2.8-1.3-2.5-2.6-2.7 1.3z"/>
<path color="#757800" d="M130.4 431.9l2.8-1-2.5-2.7-2.8 1z"/>
<path color="#446300" d="M140.8 435.4l2.8-.5-2.5-2.6-2.7 .5z"/>
<path color="#104300" d="M151.2 440l2.7 .1-2.4-2.7-2.7 0z"/>
<path color="#031e00" d="M161.5 445.8l2.7 .7-2.5-2.7-2.6-.6z"/>
<path color="#2f8200" d="M49.8 437.8l2.6-3.6-2.5-1.9-2.6 3.6z"/>
<path color="#728e00" d="M59.9 434.8l2.6-3.4-2.5-2-2.6 3.3z"/>
<path color="#8d9100" d="M70.2 432.5l2.6-3.2-2.5-2.2-2.6 3.1z"/>
<path color="#949100" d="M75.3 431.5l2.7-3-2.5-2.3-2.7 3.1z"/>
<path color="#978300" d="M85.7 430.2l2.7-2.8-2.5-2.3-2.7 2.8z"/>
<path color="#967900" d="M96.2 429.7l2.7-2.5-2.5-2.5-2.8 2.5z"/>
<path color="#8f7b00" d="M111.9 430.4l2.7-1.9-2.5-2.6-2.7 1.9z"/>
<path color="#858200" d="M122.4 432l2.7-1.5-2.4-2.6-2.8 1.5z"/>
<path color="#6c7800" d="M132.9 434.5l2.7-1-2.4-2.6-2.8 1z"/>
<path color="#516d00" d="M138.1 436.2l2.7-.8-2.4-2.6-2.8 .7z"/>
<path color="#165100" d="M148.5 440.3l2.7-.3-2.4-2.6-2.8 .2z"/>
<path color="#062d00" d="M158.8 445.4l2.7 .4-2.4-2.6-2.7-.4z"/>
<path color="#217f00" d="M44.8 439.5l2.5-3.6-2.5-1.8-2.5 3.5z"/>
<path color="#528900" d="M54.8 436.2l2.6-3.5-2.5-1.9-2.5 3.4z"/>
<path color="#859100" d="M65 433.5l2.7-3.3-2.5-2.1-2.7 3.3z"/>
<path color="#977d00" d="M90.9 429.9l2.7-2.7-2.5-2.4-2.7 2.6z"/>
<path color="#947700" d="M101.4 429.7l2.7-2.3-2.5-2.5-2.7 2.3z"/>
<path color="#927800" d="M106.6 429.9l2.8-2.1-2.5-2.5-2.8 2.1z"/>
<path color="#8c8000" d="M117.1 431.1l2.8-1.7-2.5-2.6-2.8 1.7z"/>
<path color="#2e5f00" d="M143.3 438.1l2.7-.5-2.4-2.7-2.8 .5z"/>
<path color="#0d4200" d="M153.7 442.7l2.7 .1-2.5-2.7-2.7-.1z"/>
<path color="#011d00" d="M163.9 448.5l2.7 .6-2.4-2.6-2.7-.7z"/>
<path color="#978b00" d="M80.5 430.8l2.7-2.9-2.5-2.4-2.7 3z"/>
<path color="#7a7e00" d="M127.6 433.1l2.8-1.2-2.5-2.7-2.8 1.3z"/>
<path color="#1f8000" d="M47.2 441.4l2.6-3.6-2.5-1.9-2.5 3.6z"/>
<path color="#438700" d="M57.3 438.3l2.6-3.5-2.5-2.1-2.6 3.5z"/>
<path color="#7a9100" d="M67.5 435.8l2.7-3.3-2.5-2.3-2.7 3.3z"/>
<path color="#396900" d="M140.6 438.8l2.7-.7-2.5-2.7-2.7 .8z"/>
<path color="#135000" d="M150.9 442.9l2.8-.2-2.5-2.7-2.7 .3z"/>
<path color="#042b00" d="M161.2 448.1l2.7 .4-2.4-2.7-2.7-.4z"/>
<path color="#268200" d="M52.3 439.8l2.5-3.6-2.4-2-2.6 3.6z"/>
<path color="#628d00" d="M62.4 436.9l2.6-3.4-2.5-2.1-2.6 3.4z"/>
<path color="#879200" d="M72.7 434.7l2.6-3.2-2.5-2.2-2.6 3.2z"/>
<path color="#8e9200" d="M77.8 433.9l2.7-3.1-2.5-2.3-2.7 3z"/>
<path color="#939200" d="M83 433.2l2.7-3-2.5-2.3-2.7 2.9z"/>
<path color="#969100" d="M88.2 432.7l2.7-2.8-2.5-2.5-2.7 2.8z"/>
<path color="#968c00" d="M93.4 432.3l2.8-2.6-2.6-2.5-2.7 2.7z"/>
<path color="#958900" d="M98.7 432.2l2.7-2.5-2.5-2.5-2.7 2.5z"/>
<path color="#948800" d="M103.9 432.3l2.7-2.4-2.5-2.5-2.7 2.3z"/>
<path color="#928900" d="M109.1 432.5l2.8-2.1-2.5-2.6-2.8 2.1z"/>
<path color="#8d8900" d="M114.4 433l2.7-1.9-2.5-2.6-2.7 1.9z"/>
<path color="#868600" d="M119.6 433.7l2.8-1.7-2.5-2.6-2.8 1.7z"/>
<path color="#7d8200" d="M124.9 434.6l2.7-1.5-2.5-2.6-2.7 1.5z"/>
<path color="#717e00" d="M130.1 435.8l2.8-1.3-2.5-2.6-2.8 1.2z"/>
<path color="#597500" d="M135.3 437.2l2.8-1-2.5-2.7-2.7 1z"/>
<path color="#1b5c00" d="M145.8 440.7l2.7-.4-2.5-2.7-2.7 .5z"/>
<path color="#0b4000" d="M156.1 445.3l2.7 .1-2.4-2.6-2.7-.1z"/>
<path color="#238200" d="M54.7 441.8l2.6-3.5-2.5-2.1-2.5 3.6z"/>
<path color="#4f8a00" d="M64.9 439.2l2.6-3.4-2.5-2.3-2.6 3.4z"/>
<path color="#869300" d="M80.3 436.3l2.7-3.1-2.5-2.4-2.7 3.1z"/>
<path color="#8e9200" d="M90.7 435.1l2.7-2.8-2.5-2.4-2.7 2.8z"/>
<path color="#848a00" d="M116.9 435.6l2.7-1.9-2.5-2.6-2.7 1.9z"/>
<path color="#718200" d="M127.3 437.3l2.8-1.5-2.5-2.7-2.7 1.5z"/>
<path color="#216400" d="M143 441.5l2.8-.8-2.5-2.6-2.7 .7z"/>
<path color="#0f4f00" d="M153.4 445.5l2.7-.2-2.4-2.6-2.8 .2z"/>
<path color="#1d8100" d="M49.7 443.4l2.6-3.6-2.5-2-2.6 3.6z"/>
<path color="#328500" d="M59.8 440.4l2.6-3.5-2.5-2.1-2.6 3.5z"/>
<path color="#698f00" d="M70 438l2.7-3.3-2.5-2.2-2.7 3.3z"/>
<path color="#909100" d="M95.9 434.9l2.8-2.7-2.5-2.5-2.8 2.6z"/>
<path color="#908f00" d="M101.2 434.7l2.7-2.4-2.5-2.6-2.7 2.5z"/>
<path color="#8e8e00" d="M106.4 434.8l2.7-2.3-2.5-2.6-2.7 2.4z"/>
<path color="#8a8c00" d="M111.6 435.1l2.8-2.1-2.5-2.6-2.8 2.1z"/>
<path color="#3f7100" d="M137.8 439.8l2.8-1-2.5-2.6-2.8 1z"/>
<path color="#175b00" d="M148.2 443.4l2.7-.5-2.4-2.6-2.7 .4z"/>
<path color="#083e00" d="M158.5 448l2.7 .1-2.4-2.7-2.7-.1z"/>
<path color="#7c9200" d="M75.2 437.1l2.6-3.2-2.5-2.4-2.6 3.2z"/>
<path color="#8b9200" d="M85.5 435.6l2.7-2.9-2.5-2.5-2.7 3z"/>
<path color="#7d8700" d="M122.1 436.3l2.8-1.7-2.5-2.6-2.8 1.7z"/>
<path color="#5c7b00" d="M132.6 438.4l2.7-1.2-2.4-2.7-2.8 1.3z"/>
<path color="#1a8200" d="M52.2 445.5l2.5-3.7-2.4-2-2.6 3.6z"/>
<path color="#268400" d="M62.3 442.7l2.6-3.5-2.5-2.3-2.6 3.5z"/>
<path color="#1a6400" d="M145.5 444.1l2.7-.7-2.4-2.7-2.8 .8z"/>
<path color="#0c4d00" d="M155.8 448.1l2.7-.1-2.4-2.7-2.7 .2z"/>
<path color="#208300" d="M57.2 444l2.6-3.6-2.5-2.1-2.6 3.5z"/>
<path color="#3a8700" d="M67.4 441.5l2.6-3.5-2.5-2.2-2.6 3.4z"/>
<path color="#688f00" d="M77.7 439.5l2.6-3.2-2.5-2.4-2.6 3.2z"/>
<path color="#779100" d="M82.8 438.7l2.7-3.1-2.5-2.4-2.7 3.1z"/>
<path color="#829300" d="M88 438.1l2.7-3-2.5-2.4-2.7 2.9z"/>
<path color="#869200" d="M93.2 437.7l2.7-2.8-2.5-2.6-2.7 2.8z"/>
<path color="#879100" d="M98.4 437.4l2.8-2.7-2.5-2.5-2.8 2.7z"/>
<path color="#879000" d="M103.6 437.3l2.8-2.5-2.5-2.5-2.7 2.4z"/>
<path color="#858e00" d="M108.9 437.5l2.7-2.4-2.5-2.6-2.7 2.3z"/>
<path color="#818c00" d="M114.1 437.8l2.8-2.2-2.5-2.6-2.8 2.1z"/>
<path color="#7a8a00" d="M119.3 438.3l2.8-2-2.5-2.6-2.7 1.9z"/>
<path color="#6d8500" d="M124.6 439l2.7-1.7-2.4-2.7-2.8 1.7z"/>
<path color="#597f00" d="M129.8 439.9l2.8-1.5-2.5-2.6-2.8 1.5z"/>
<path color="#266c00" d="M140.3 442.5l2.7-1-2.4-2.7-2.8 1z"/>
<path color="#135a00" d="M150.7 446l2.7-.5-2.5-2.6-2.7 .5z"/>
<path color="#538c00" d="M72.5 440.4l2.7-3.3-2.5-2.4-2.7 3.3z"/>
<path color="#417600" d="M135 441.1l2.8-1.3-2.5-2.6-2.7 1.2z"/>
<path color="#1d8400" d="M59.7 446.3l2.6-3.6-2.5-2.3-2.6 3.6z"/>
<path color="#166300" d="M147.9 446.8l2.8-.8-2.5-2.6-2.7 .7z"/>
<path color="#178300" d="M54.7 447.7l2.5-3.7-2.5-2.2-2.5 3.7z"/>
<path color="#228400" d="M64.8 445l2.6-3.5-2.5-2.3-2.6 3.5z"/>
<path color="#3c8800" d="M75 442.8l2.7-3.3-2.5-2.4-2.7 3.3z"/>
<path color="#608e00" d="M85.3 441.2l2.7-3.1-2.5-2.5-2.7 3.1z"/>
<path color="#749000" d="M95.7 440.3l2.7-2.9-2.5-2.5-2.7 2.8z"/>
<path color="#789000" d="M100.9 440l2.7-2.7-2.4-2.6-2.8 2.7z"/>
<path color="#788f00" d="M106.1 440l2.8-2.5-2.5-2.7-2.8 2.5z"/>
<path color="#758d00" d="M111.4 440.1l2.7-2.3-2.5-2.7-2.7 2.4z"/>
<path color="#638600" d="M121.8 440.9l2.8-1.9-2.5-2.7-2.8 2z"/>
<path color="#3e7a00" d="M132.3 442.6l2.7-1.5-2.4-2.7-2.8 1.5z"/>
<path color="#1d6b00" d="M142.7 445.1l2.8-1-2.5-2.6-2.7 1z"/>
<path color="#0f5900" d="M153.1 448.6l2.7-.5-2.4-2.6-2.7 .5z"/>
<path color="#288500" d="M69.9 443.9l2.6-3.5-2.5-2.4-2.6 3.5z"/>
<path color="#508c00" d="M80.2 442l2.6-3.3-2.5-2.4-2.6 3.2z"/>
<path color="#6d9000" d="M90.5 440.7l2.7-3-2.5-2.6-2.7 3z"/>
<path color="#6e8a00" d="M116.6 440.4l2.7-2.1-2.4-2.7-2.8 2.2z"/>
<path color="#528100" d="M127 441.7l2.8-1.8-2.5-2.6-2.7 1.7z"/>
<path color="#277100" d="M137.5 443.7l2.8-1.2-2.5-2.7-2.8 1.3z"/>
<path color="#148300" d="M57.1 450l2.6-3.7-2.5-2.3-2.5 3.7z"/>
<path color="#126200" d="M150.3 449.4l2.8-.8-2.4-2.6-2.8 .8z"/>
<path color="#1a8400" d="M62.2 448.6l2.6-3.6-2.5-2.3-2.6 3.6z"/>
<path color="#238500" d="M72.4 446.3l2.6-3.5-2.5-2.4-2.6 3.5z"/>
<path color="#368700" d="M82.7 444.5l2.6-3.3-2.5-2.5-2.6 3.3z"/>
<path color="#468a00" d="M87.8 443.8l2.7-3.1-2.5-2.6-2.7 3.1z"/>
<path color="#518c00" d="M93 443.3l2.7-3-2.5-2.6-2.7 3z"/>
<path color="#5a8d00" d="M98.2 442.9l2.7-2.9-2.5-2.6-2.7 2.9z"/>
<path color="#5e8c00" d="M103.4 442.7l2.7-2.7-2.5-2.7-2.7 2.7z"/>
<path color="#5e8b00" d="M108.6 442.6l2.8-2.5-2.5-2.6-2.8 2.5z"/>
<path color="#5a8900" d="M113.8 442.7l2.8-2.3-2.5-2.6-2.7 2.3z"/>
<path color="#528600" d="M119.1 443.1l2.7-2.2-2.5-2.6-2.7 2.1z"/>
<path color="#468100" d="M124.3 443.6l2.7-1.9-2.4-2.7-2.8 1.9z"/>
<path color="#257500" d="M134.7 445.2l2.8-1.5-2.5-2.6-2.7 1.5z"/>
<path color="#186a00" d="M145.2 447.8l2.7-1-2.4-2.7-2.8 1z"/>
<path color="#1f8500" d="M67.3 447.4l2.6-3.5-2.5-2.4-2.6 3.5z"/>
<path color="#288500" d="M77.5 445.3l2.7-3.3-2.5-2.5-2.7 3.3z"/>
<path color="#377c00" d="M129.5 444.3l2.8-1.7-2.5-2.7-2.8 1.8z"/>
<path color="#1e7000" d="M140 446.4l2.7-1.3-2.4-2.6-2.8 1.2z"/>
<path color="#118400" d="M59.6 452.3l2.6-3.7-2.5-2.3-2.6 3.7z"/>
<path color="#1b8500" d="M69.8 449.9l2.6-3.6-2.5-2.4-2.6 3.5z"/>
<path color="#3d8800" d="M100.7 445.5l2.7-2.8-2.5-2.7-2.7 2.9z"/>
<path color="#418700" d="M105.9 445.3l2.7-2.7-2.5-2.6-2.7 2.7z"/>
<path color="#1e7400" d="M137.2 447.9l2.8-1.5-2.5-2.7-2.8 1.5z"/>
<path color="#146900" d="M147.6 450.3l2.7-.9-2.4-2.6-2.7 1z"/>
<path color="#168500" d="M64.7 451l2.6-3.6-2.5-2.4-2.6 3.6z"/>
<path color="#1f8500" d="M74.9 448.8l2.6-3.5-2.5-2.5-2.6 3.5z"/>
<path color="#238600" d="M80 447.9l2.7-3.4-2.5-2.5-2.7 3.3z"/>
<path color="#268500" d="M85.1 447.1l2.7-3.3-2.5-2.6-2.6 3.3z"/>
<path color="#2b8500" d="M90.3 446.4l2.7-3.1-2.5-2.6-2.7 3.1z"/>
<path color="#368700" d="M95.5 445.9l2.7-3-2.5-2.6-2.7 3z"/>
<path color="#418600" d="M111.1 445.3l2.7-2.6-2.4-2.6-2.8 2.5z"/>
<path color="#3e8400" d="M116.3 445.4l2.8-2.3-2.5-2.7-2.8 2.3z"/>
<path color="#368100" d="M121.5 445.7l2.8-2.1-2.5-2.7-2.7 2.2z"/>
<path color="#2a7c00" d="M126.8 446.3l2.7-2-2.5-2.6-2.7 1.9z"/>
<path color="#227800" d="M132 447l2.7-1.8-2.4-2.6-2.8 1.7z"/>
<path color="#196f00" d="M142.4 449l2.8-1.2-2.5-2.7-2.7 1.3z"/>
<path color="#128500" d="M67.1 453.5l2.7-3.6-2.5-2.5-2.6 3.6z"/>
<path color="#1b8600" d="M77.3 451.3l2.7-3.4-2.5-2.6-2.6 3.5z"/>
<path color="#238500" d="M92.8 449l2.7-3.1-2.5-2.6-2.7 3.1z"/>
<path color="#258500" d="M98 448.5l2.7-3-2.5-2.6-2.7 3z"/>
<path color="#268400" d="M103.2 448.2l2.7-2.9-2.5-2.6-2.7 2.8z"/>
<path color="#288300" d="M108.4 448l2.7-2.7-2.5-2.7-2.7 2.7z"/>
<path color="#288200" d="M113.6 448l2.7-2.6-2.5-2.7-2.7 2.6z"/>
<path color="#217b00" d="M129.2 448.9l2.8-1.9-2.5-2.7-2.7 2z"/>
<path color="#1a7400" d="M139.6 450.5l2.8-1.5-2.4-2.6-2.8 1.5z"/>
<path color="#0d8400" d="M62.1 454.7l2.6-3.7-2.5-2.4-2.6 3.7z"/>
<path color="#178500" d="M72.2 452.4l2.7-3.6-2.5-2.5-2.6 3.6z"/>
<path color="#1e8600" d="M82.5 450.4l2.6-3.3-2.4-2.6-2.7 3.4z"/>
<path color="#218600" d="M87.6 449.7l2.7-3.3-2.5-2.6-2.7 3.3z"/>
<path color="#258000" d="M118.8 448.1l2.7-2.4-2.4-2.6-2.8 2.3z"/>
<path color="#237e00" d="M124 448.4l2.8-2.1-2.5-2.7-2.8 2.1z"/>
<path color="#1e7800" d="M134.4 449.6l2.8-1.7-2.5-2.7-2.7 1.8z"/>
<path color="#156e00" d="M144.8 451.6l2.8-1.3-2.4-2.5-2.8 1.2z"/>
<path color="#098500" d="M64.5 457.2l2.6-3.7-2.4-2.5-2.6 3.7z"/>
<path color="#157300" d="M142.1 453.1l2.7-1.5-2.4-2.6-2.8 1.5z"/>
<path color="#0e8500" d="M69.6 456l2.6-3.6-2.4-2.5-2.7 3.6z"/>
<path color="#128500" d="M74.7 454.9l2.6-3.6-2.4-2.5-2.7 3.6z"/>
<path color="#168600" d="M79.8 453.9l2.7-3.5-2.5-2.5-2.7 3.4z"/>
<path color="#198600" d="M84.9 453.1l2.7-3.4-2.5-2.6-2.6 3.3z"/>
<path color="#1c8600" d="M90.1 452.3l2.7-3.3-2.5-2.6-2.7 3.3z"/>
<path color="#1f8500" d="M95.3 451.7l2.7-3.2-2.5-2.6-2.7 3.1z"/>
<path color="#208500" d="M100.4 451.2l2.8-3-2.5-2.7-2.7 3z"/>
<path color="#218400" d="M105.6 450.9l2.8-2.9-2.5-2.7-2.7 2.9z"/>
<path color="#228300" d="M110.8 450.7l2.8-2.7-2.5-2.7-2.7 2.7z"/>
<path color="#218100" d="M116 450.6l2.8-2.5-2.5-2.7-2.7 2.6z"/>
<path color="#208000" d="M121.2 450.8l2.8-2.4-2.5-2.7-2.7 2.4z"/>
<path color="#1f7d00" d="M126.4 451.1l2.8-2.2-2.4-2.6-2.8 2.1z"/>
<path color="#1c7b00" d="M131.7 451.6l2.7-2-2.4-2.6-2.8 1.9z"/>
<path color="#197700" d="M136.9 452.2l2.7-1.7-2.4-2.6-2.8 1.7z"/>
<path color="#1a8500" d="M97.7 454.4l2.7-3.2-2.4-2.7-2.7 3.2z"/>
<path color="#1c8400" d="M108.1 453.6l2.7-2.9-2.4-2.7-2.8 2.9z"/>
<path color="#058500" d="M67 459.8l2.6-3.8-2.5-2.5-2.6 3.7z"/>
<path color="#098500" d="M72.1 458.6l2.6-3.7-2.5-2.5-2.6 3.6z"/>
<path color="#0e8500" d="M77.2 457.5l2.6-3.6-2.5-2.6-2.6 3.6z"/>
<path color="#118600" d="M82.3 456.6l2.6-3.5-2.4-2.7-2.7 3.5z"/>
<path color="#158600" d="M87.4 455.7l2.7-3.4-2.5-2.6-2.7 3.4z"/>
<path color="#178500" d="M92.6 455l2.7-3.3-2.5-2.7-2.7 3.3z"/>
<path color="#1b8400" d="M102.9 453.9l2.7-3-2.4-2.7-2.8 3z"/>
<path color="#1d8200" d="M113.3 453.4l2.7-2.8-2.4-2.6-2.8 2.7z"/>
<path color="#1c8100" d="M118.5 453.3l2.7-2.5-2.4-2.7-2.8 2.5z"/>
<path color="#1b7f00" d="M123.7 453.4l2.7-2.3-2.4-2.7-2.8 2.4z"/>
<path color="#1a7d00" d="M128.9 453.7l2.8-2.1-2.5-2.7-2.8 2.2z"/>
<path color="#177a00" d="M134.1 454.2l2.8-2-2.5-2.6-2.7 2z"/>
<path color="#147600" d="M139.3 454.8l2.8-1.7-2.5-2.6-2.7 1.7z"/>
<path color="#008500" d="M69.5 462.4l2.6-3.8-2.5-2.6-2.6 3.8z"/>
<path color="#098500" d="M79.6 460.2l2.7-3.6-2.5-2.7-2.6 3.6z"/>
<path color="#0d8600" d="M84.8 459.3l2.6-3.6-2.5-2.6-2.6 3.5z"/>
<path color="#108600" d="M89.9 458.4l2.7-3.4-2.5-2.7-2.7 3.4z"/>
<path color="#128500" d="M95 457.7l2.7-3.3-2.4-2.7-2.7 3.3z"/>
<path color="#158500" d="M100.2 457.1l2.7-3.2-2.5-2.7-2.7 3.2z"/>
<path color="#168400" d="M105.4 456.6l2.7-3-2.5-2.7-2.7 3z"/>
<path color="#178300" d="M110.5 456.2l2.8-2.8-2.5-2.7-2.7 2.9z"/>
<path color="#178200" d="M115.7 456l2.8-2.7-2.5-2.7-2.7 2.8z"/>
<path color="#178100" d="M120.9 456l2.8-2.6-2.5-2.6-2.7 2.5z"/>
<path color="#167f00" d="M126.1 456.1l2.8-2.4-2.5-2.6-2.7 2.3z"/>
<path color="#137900" d="M136.6 456.8l2.7-2-2.4-2.6-2.8 2z"/>
<path color="#058500" d="M74.6 461.2l2.6-3.7-2.5-2.6-2.6 3.7z"/>
<path color="#157c00" d="M131.3 456.3l2.8-2.1-2.4-2.6-2.8 2.1z"/>
<path color="#048500" d="M82.1 462.9l2.7-3.6-2.5-2.7-2.7 3.6z"/>
<path color="#088500" d="M87.2 462l2.7-3.6-2.5-2.7-2.6 3.6z"/>
<path color="#0b8500" d="M92.4 461.1l2.6-3.4-2.4-2.7-2.7 3.4z"/>
<path color="#0d8500" d="M97.5 460.4l2.7-3.3-2.5-2.7-2.7 3.3z"/>
<path color="#0f8500" d="M102.7 459.8l2.7-3.2-2.5-2.7-2.7 3.2z"/>
<path color="#118400" d="M107.8 459.3l2.7-3.1-2.4-2.6-2.7 3z"/>
<path color="#128300" d="M113 458.9l2.7-2.9-2.4-2.6-2.8 2.8z"/>
<path color="#138200" d="M118.2 458.7l2.7-2.7-2.4-2.7-2.8 2.7z"/>
<path color="#128000" d="M123.4 458.6l2.7-2.5-2.4-2.7-2.8 2.6z"/>
<path color="#008503" d="M71.9 465l2.7-3.8-2.5-2.6-2.6 3.8z"/>
<path color="#008500" d="M77 463.9l2.6-3.7-2.4-2.7-2.6 3.7z"/>
<path color="#127e00" d="M128.6 458.7l2.7-2.4-2.4-2.6-2.8 2.4z"/>
<path color="#107c00" d="M133.8 458.9l2.8-2.1-2.5-2.6-2.8 2.1z"/>
<path color="#008501" d="M84.6 465.6l2.6-3.6-2.4-2.7-2.7 3.6z"/>
<path color="#038500" d="M89.7 464.7l2.7-3.6-2.5-2.7-2.7 3.6z"/>
<path color="#088500" d="M99.9 463.1l2.8-3.3-2.5-2.7-2.7 3.3z"/>
<path color="#0a8400" d="M105.1 462.5l2.7-3.2-2.4-2.7-2.7 3.2z"/>
<path color="#0d8300" d="M115.4 461.6l2.8-2.9-2.5-2.7-2.7 2.9z"/>
<path color="#0e8100" d="M120.6 461.4l2.8-2.8-2.5-2.6-2.7 2.7z"/>
<path color="#008507" d="M74.4 467.7l2.6-3.8-2.4-2.7-2.7 3.8z"/>
<path color="#008503" d="M79.5 466.6l2.6-3.7-2.5-2.7-2.6 3.7z"/>
<path color="#068500" d="M94.8 463.8l2.7-3.4-2.5-2.7-2.6 3.4z"/>
<path color="#0c8400" d="M110.3 462l2.7-3.1-2.5-2.7-2.7 3.1z"/>
<path color="#0e8000" d="M125.8 461.3l2.8-2.6-2.5-2.6-2.7 2.5z"/>
<path color="#0d7e00" d="M131 461.3l2.8-2.4-2.5-2.6-2.7 2.4z"/>
<path color="#008604" d="M87 468.3l2.7-3.6-2.5-2.7-2.6 3.6z"/>
<path color="#088200" d="M117.9 464.3l2.7-2.9-2.4-2.7-2.8 2.9z"/>
<path color="#00860a" d="M76.9 470.4l2.6-3.8-2.5-2.7-2.6 3.8z"/>
<path color="#008607" d="M81.9 469.3l2.7-3.7-2.5-2.7-2.6 3.7z"/>
<path color="#008502" d="M92.1 467.4l2.7-3.6-2.4-2.7-2.7 3.6z"/>
<path color="#018500" d="M97.3 466.6l2.6-3.5-2.4-2.7-2.7 3.4z"/>
<path color="#038400" d="M102.4 465.8l2.7-3.3-2.4-2.7-2.8 3.3z"/>
<path color="#058400" d="M107.6 465.2l2.7-3.2-2.5-2.7-2.7 3.2z"/>
<path color="#078300" d="M112.7 464.7l2.7-3.1-2.4-2.7-2.7 3.1z"/>
<path color="#098100" d="M123.1 464l2.7-2.7-2.4-2.7-2.8 2.8z"/>
<path color="#097f00" d="M128.3 463.9l2.7-2.6-2.4-2.6-2.8 2.6z"/>
<path color="#00860e" d="M79.3 473.2l2.6-3.9-2.4-2.7-2.6 3.8z"/>
<path color="#00860b" d="M84.4 472.1l2.6-3.8-2.4-2.7-2.7 3.7z"/>
<path color="#008505" d="M94.6 470.2l2.7-3.6-2.5-2.8-2.7 3.6z"/>
<path color="#008300" d="M110 467.9l2.7-3.2-2.4-2.7-2.7 3.2z"/>
<path color="#038200" d="M120.3 466.9l2.8-2.9-2.5-2.6-2.7 2.9z"/>
<path color="#048000" d="M125.5 466.6l2.8-2.7-2.5-2.6-2.7 2.7z"/>
<path color="#008608" d="M89.5 471.1l2.6-3.7-2.4-2.7-2.7 3.6z"/>
<path color="#008503" d="M99.7 469.3l2.7-3.5-2.5-2.7-2.6 3.5z"/>
<path color="#008401" d="M104.8 468.6l2.8-3.4-2.5-2.7-2.7 3.3z"/>
<path color="#028300" d="M115.2 467.4l2.7-3.1-2.5-2.7-2.7 3.1z"/>
<path color="#008611" d="M81.7 475.9l2.7-3.8-2.5-2.8-2.6 3.9z"/>
<path color="#008101" d="M122.8 469.5l2.7-2.9-2.4-2.6-2.8 2.9z"/>
<path color="#00860e" d="M86.8 474.9l2.7-3.8-2.5-2.8-2.6 3.8z"/>
<path color="#00860c" d="M91.9 473.8l2.7-3.6-2.5-2.8-2.6 3.7z"/>
<path color="#008509" d="M97 472.9l2.7-3.6-2.4-2.7-2.7 3.6z"/>
<path color="#008507" d="M102.1 472l2.7-3.4-2.4-2.8-2.7 3.5z"/>
<path color="#008405" d="M107.3 471.3l2.7-3.4-2.4-2.7-2.8 3.4z"/>
<path color="#008303" d="M112.4 470.6l2.8-3.2-2.5-2.7-2.7 3.2z"/>
<path color="#008202" d="M117.6 470l2.7-3.1-2.4-2.6-2.7 3.1z"/>
<path color="#008615" d="M84.2 478.7l2.6-3.8-2.4-2.8-2.7 3.8z"/>
<path color="#008612" d="M89.3 477.6l2.6-3.8-2.4-2.7-2.7 3.8z"/>
<path color="#00860f" d="M94.4 476.6l2.6-3.7-2.4-2.7-2.7 3.6z"/>
<path color="#00850d" d="M99.5 475.7l2.6-3.7-2.4-2.7-2.7 3.6z"/>
<path color="#00850a" d="M104.6 474.8l2.7-3.5-2.5-2.7-2.7 3.4z"/>
<path color="#008408" d="M109.7 474l2.7-3.4-2.4-2.7-2.7 3.4z"/>
<path color="#008307" d="M114.9 473.3l2.7-3.3-2.4-2.6-2.8 3.2z"/>
<path color="#008205" d="M120 472.6l2.8-3.1-2.5-2.6-2.7 3.1z"/>
<path color="#008619" d="M86.6 481.5l2.7-3.9-2.5-2.7-2.6 3.8z"/>
<path color="#008616" d="M91.7 480.4l2.7-3.8-2.5-2.8-2.6 3.8z"/>
<path color="#008510" d="M101.9 478.4l2.7-3.6-2.5-2.8-2.6 3.7z"/>
<path color="#00840c" d="M112.1 476.6l2.8-3.3-2.5-2.7-2.7 3.4z"/>
<path color="#00830a" d="M117.3 475.9l2.7-3.3-2.4-2.6-2.7 3.3z"/>
<path color="#008613" d="M96.8 479.4l2.7-3.7-2.5-2.8-2.6 3.7z"/>
<path color="#00850e" d="M107 477.5l2.7-3.5-2.4-2.7-2.7 3.5z"/>
<path color="#008825" d="M89.1 484.3l2.6-3.9-2.4-2.8-2.7 3.9z"/>
<path color="#008619" d="M94.1 483.2l2.7-3.8-2.4-2.8-2.7 3.8z"/>
<path color="#008616" d="M99.2 482.1l2.7-3.7-2.4-2.7-2.7 3.7z"/>
<path color="#008514" d="M104.3 481.1l2.7-3.6-2.4-2.7-2.7 3.6z"/>
<path color="#008411" d="M109.4 480.1l2.7-3.5-2.4-2.6-2.7 3.5z"/>
<path color="#00840f" d="M114.6 479.3l2.7-3.4-2.4-2.6-2.8 3.3z"/>
<path color="#008827" d="M96.5 485.9l2.7-3.8-2.4-2.7-2.7 3.8z"/>
<path color="#008517" d="M106.7 483.8l2.7-3.7-2.4-2.6-2.7 3.6z"/>
<path color="#008933" d="M91.5 487.1l2.6-3.9-2.4-2.8-2.6 3.9z"/>
<path color="#00861c" d="M101.6 484.8l2.7-3.7-2.4-2.7-2.7 3.7z"/>
<path color="#008415" d="M111.9 482.8l2.7-3.5-2.5-2.7-2.7 3.5z"/>
<path color="#008b41" d="M93.9 489.8l2.6-3.9-2.4-2.7-2.6 3.9z"/>
<path color="#008935" d="M99 488.7l2.6-3.9-2.4-2.7-2.7 3.8z"/>
<path color="#00872a" d="M104.1 487.5l2.6-3.7-2.4-2.7-2.7 3.7z"/>
<path color="#00851f" d="M109.2 486.4l2.7-3.6-2.5-2.7-2.7 3.7z"/>
<path color="#008a43" d="M101.4 491.4l2.7-3.9-2.5-2.7-2.6 3.9z"/>
<path color="#008c4f" d="M96.3 492.6l2.7-3.9-2.5-2.8-2.6 3.9z"/>
<path color="#008837" d="M106.5 490.2l2.7-3.8-2.5-2.6-2.6 3.7z"/>
<path color="#008e59" d="M98.7 495.3l2.7-3.9-2.4-2.7-2.7 3.9z"/>
<path color="#008c50" d="M103.8 494l2.7-3.8-2.4-2.7-2.7 3.9z"/>
<path color="#008f61" d="M101.1 498l2.7-4-2.4-2.6-2.7 3.9z"/>
</g>
<path d="M32 431.8L33 430.6L34 429.3L35 428.1L36 426.3L37 425.1L38 423.9L39 422.7L40 421L41 419.8L42 418.7L43 417.6L44 415.9L45 414.8L46 413.7L47 412.7L48 411.6L49 410.1L50 409.1L51 408.1L52 407.1L53 406.1L54 405.2L55 403.8L56 402.9L57 402L58 401.2L59 400.3L60 399.5L61 398.3L62 397.6L63 396.8L64 396.1L65 395.4L66 394.7L67 394.1L68 393.4L69 392.8L70 392L71 391.4L72 390.9L73 390.4L74 389.9L75 389.5L76 389L77 388.6L78 388.3L79 387.9L80 387.6L81 387.2L82 387L83 386.7L84 386.6L85 386.4L86 386.3L87 386.2L88 386.1L89 386.1L90 386.1L91 386.1L92 386.1L93 386.2L94 386.3L95 386.4L96 386.7L97 386.9L98 387.1L99 387.4L100 387.7L101 388.1L102 388.4L103 388.8L104 389.3L105 389.7L106 390.2L107 390.8L108 391.3L109 391.8L110 392.2L111 392.8L112 393.4L113 394L114 394.6L115 395.1L116 395.7L117 396.5L118 397.1L119 397.7L120 398.3L121 399.2L122 399.8L123 400.5L124 401.1L125 402.1L126 402.8L127 403.5L128 404.2L129 405.2L130 406L131 406.7L132 407.4L133 408.6L134 409.3L135 410.1L136 411.3L137 412.1L138 412.9L139 413.7L140 415L141 415.8L142 416.7L143 417.9L144 418.8L145 419.7L146 421L147 421.9L148 422.8L149 423.7L150 425L151 425.9L152 426.8L153 428.2L154 429.2L155 430.1L156 431.5L157 432.4L158 433.4L159 434.8L160 435.8L161 436.7L162 438.1L163 439.1L164 440.5L165 441.5L166 442.5L167 443.9L168 444.9L169 445.8L170 447.3L171 448.2L172 449.7L173 450.6L174 451.6L175 453L176 454L177 454.9" fill="none" stroke="#000" stroke-opacity=".75" stroke-width=".9" stroke-linejoin="round"/>
<path d="M101.1 498L103.8 494L106.5 490.2L109.2 486.4L111.9 482.8L114.6 479.3L117.3 475.9L120 472.6L122.8 469.5L125.5 466.6L128.3 463.9L131 461.3L133.8 458.9L136.6 456.8L139.3 454.8L142.1 453.1L144.8 451.6L147.6 450.3L150.3 449.4L153.1 448.6L155.8 448.1L158.5 448L161.2 448.1L163.9 448.5L166.6 449.1L169.2 450.2L171.8 451.5L174.4 453.1L176.9 455.1" fill="none" stroke="#000" stroke-opacity=".45" stroke-width=".5"/>
<path d="M101.1 498L98.7 495.3L96.3 492.6L93.9 489.8L91.5 487.1L89.1 484.3L86.6 481.5L84.2 478.7L81.7 475.9L79.3 473.2L76.9 470.4L74.4 467.7L71.9 465L69.5 462.4L67 459.8L64.5 457.2L62.1 454.7L59.6 452.3L57.1 450L54.7 447.7L52.2 445.5L49.7 443.4L47.2 441.4L44.8 439.5L42.3 437.6L39.8 435.9L37.4 434.3L34.9 432.9L32.5 431.5" fill="none" stroke="#000" stroke-opacity=".45" stroke-width=".5"/>
<text x="4.4" y="388.8" font-size="9.6" textLength="10.9" lengthAdjust="spacingAndGlyphs" class="pl" font-weight="bold">(e)</text>
<text x="28.5" y="395.3" class="tk" text-anchor="end">88</text>
<text x="29.4" y="409.5" class="tk" text-anchor="end">86</text>
<text x="30.3" y="423.7" class="tk" text-anchor="end">84</text>
<text x="31.3" y="438" class="tk" text-anchor="end">82</text>
<text x="32.2" y="452.2" class="tk" text-anchor="end">80</text>
<text x="33.1" y="466.4" class="tk" text-anchor="end">78</text>
<text x="106.5" y="535.6" class="tk" text-anchor="middle">40.00</text>
<text x="124.8" y="526.2" class="tk" text-anchor="middle">50.00</text>
<text x="143.2" y="516.8" class="tk" text-anchor="middle">60.00</text>
<text x="161.5" y="507.3" class="tk" text-anchor="middle">70.00</text>
<text x="179.8" y="497.9" class="tk" text-anchor="middle">80.00</text>
<text x="95" y="534.8" class="tk" text-anchor="middle">20.00</text>
<text x="78.7" y="524.6" class="tk" text-anchor="middle">30.00</text>
<text x="62.4" y="514.5" class="tk" text-anchor="middle">40.00</text>
<text x="46.1" y="504.3" class="tk" text-anchor="middle">50.00</text>
<text x="29.8" y="494.2" class="tk" text-anchor="middle">60.00</text>
<text transform="translate(9.8 489) rotate(-90)" y="0" class="ax" font-size="7.9" textLength="83" lengthAdjust="spacingAndGlyphs">ABTS radical-scavenging</text>
<text transform="translate(19.2 467.8) rotate(-90)" y="0" class="ax" font-size="7.9" textLength="40.6" lengthAdjust="spacingAndGlyphs">capacity (%)</text>
<text transform="translate(14.4 496.3) rotate(30.9)" y="1.8" class="ax" font-size="7.9" textLength="86.7" lengthAdjust="spacingAndGlyphs">Ethanol concentration (%)</text>
<text transform="translate(117.1 542.5) rotate(-27.1)" y="1.9" class="ax" font-size="8.11" textLength="94.7" lengthAdjust="spacingAndGlyphs">Extraction temperature (<tspan font-size="5.6">℃</tspan>)</text></g>
<g><path d="M247.8 393.8L345.1 378.8L417.2 405.1M248.7 411.6L345.2 395.3L416.1 423.1M249.7 429.4L345.2 411.9L415.1 441.2M250.6 447.2L345.3 428.4L414 459.2M251.5 465L345.4 444.9L412.9 477.3M247.8 393.8L252.8 488.8M267.3 390.8L270.3 461M286.7 387.8L289.1 457M306.2 384.8L307.9 452.9M325.6 381.8L326.6 448.9M345.1 378.8L345.5 467M417.2 405.1L411.5 501.4M399.2 398.5L396 469.2M381.1 392L379.2 461.1M363.1 385.4L362.3 453" fill="none" stroke="#6a6a6a" stroke-width="0.55"/>
<polygon points="252.8,488.8 313,532.2 411.5,501.4 345.5,467" fill="#ffff00" stroke="#8a8a20" stroke-width="0.5"/>
<path d="M283.7 511.1L285.7 511.7L287.8 512.4L290.6 513.4L292.2 513.9L295.4 515L297 515.6L300.2 516.7L301.7 517.2L304.8 518.3L306.3 518.9L309.2 520L310.7 520.6L313.6 521.8L316.4 523L317.7 523.6L320.4 524.8L323 526L324.3 526.6L326.7 527.9" fill="none" stroke="#d8e000" stroke-width="0.5"/>
<path d="M269 500.5L272.3 501.5L274 502L276.3 502.7L279.3 503.5L281.1 504.1L283.8 504.9L286.3 505.6L288 506.1L291.4 507.1L293.2 507.7L295.3 508.3L298.3 509.2L300 509.7L303.3 510.8L305 511.3L307.6 512.1L309.9 512.9L312 513.5L314.7 514.4L316.6 515.1L319.3 516.1L321.6 516.9L323.7 517.7L326.6 518.9L328 519.4L330.7 520.6L333.4 521.8L334.6 522.4L337.1 523.6" fill="none" stroke="#d6dc00" stroke-width="0.5"/>
<path d="M408.9 502.2L406.1 501.3L404.6 500.8L401.9 499.8L399.3 498.8L396.8 497.7L395.6 497.1L393.3 496L391 494.9L388.7 493.7L386.6 492.6L384.4 491.4L382.3 490.2L380.2 489L378.1 487.8L377.1 487.2L374.9 486.1L372.8 484.9L370.7 483.7L368.5 482.5L366.3 481.4L364.1 480.2L361.8 479.1L359.5 478L358.3 477.4L355.9 476.3L353.4 475.2L350.9 474.1L348.3 473.1L347 472.5L344.3 471.5L341.5 470.5L339.6 469.8L337.2 469M254.7 490.2L256.7 490.8L258.4 491.3L261.9 492.3L263.8 492.9L265.6 493.4L268.9 494.4L271 495L272.8 495.5L276 496.4L278.3 497L280.1 497.5L283 498.3L285.6 499L287.5 499.4L290.1 500.1L293 500.9L294.8 501.4L297.2 502L300.3 502.8L302.2 503.3L304.4 503.8L307.6 504.7L309.4 505.1L311.8 505.8L314.8 506.6L316.6 507L319.5 507.8L321.8 508.4L323.5 508.9L326.9 509.9L328.6 510.4L331.8 511.4L333.4 511.9L336.6 512.9L338.1 513.4L341 514.5L342.5 515.1L345.2 516.2L347.9 517.3L350.3 518.5L351.5 519.2" fill="none" stroke="#e6d200" stroke-width="0.5"/>
<path d="M262 486.6L263.8 487.2L265.7 487.7L269.2 488.7L271.1 489.2L273 489.7L276 490.5L278.6 491.2L280.5 491.6L282.8 492.2L286.1 493L288.3 493.5L290.2 493.9L292.7 494.5L295.9 495.2L298.2 495.7L300.2 496.1L302.4 496.6L305.6 497.2L308.3 497.8L310.4 498.2L312.4 498.6L315.2 499.1L318.3 499.6L320.8 500.1L322.9 500.4L325 500.8L327.8 501.3L330.9 501.8L333.6 502.2L335.8 502.5L338 502.8L340.2 503.2L343.2 503.6L346.2 504L349.2 504.3L351.6 504.6L354 504.9L356.5 505.1L359.1 505.3L361.9 505.4L365.2 505.2L367.7 503.9L368 502.6L367.8 501.7L367.6 500.9L366.8 499.2L366.3 498.5L365.3 496.9L364.7 496.1L363.6 494.6L362.9 493.9L361.6 492.5L360.8 491.6L359.5 490.3L358 488.9L357 488.2L355.5 486.9L353.8 485.6L352 484.3L350.1 483L349.1 482.4L347.1 481.2L345 479.9L342.8 478.7L340.5 477.6L338.9 476.8L337 475.9L334.4 474.7L331.8 473.6L329.2 472.6L327.8 472" fill="none" stroke="#eab400" stroke-width="0.5"/>
<path d="M272.7 484.1L274.6 484.6L276.5 485.1L279.8 485.9L282.4 486.5L284.4 486.9L286.4 487.3L289.2 487.9L292.2 488.5L295 489L297.2 489.3L299.5 489.7L301.8 490L304.2 490.4L306.7 490.7L309.2 490.9L311.9 491.2L314.8 491.3L317.9 491.5L321.1 491.5L323.2 491.3L326.9 490.9L329.9 489.9L331.5 488.8L332.2 487.7L332.3 486.8L332.2 485.9L331.4 484.3L330.9 483.6L329.5 482.1L327.9 480.7L327 480.1L325 478.8L322.9 477.5L320.6 476.3L319 475.5L316.9 474.6" fill="none" stroke="#f09a00" stroke-width="0.5"/>
<path d="M313 532.2l0.6 1.2M332.7 526l0.6 1.2M352.4 519.9l0.6 1.2M372.1 513.7l0.6 1.2M391.8 507.6l0.6 1.2M411.5 501.4l0.6 1.2M313 532.2l-0.6 1.2M297.9 521.4l-0.6 1.2M282.9 510.5l-0.6 1.2M267.9 499.7l-0.6 1.2M252.8 488.8l-0.6 1.2" stroke="#333" stroke-width="0.6" fill="none"/>
<g class="q">
<path color="#001f10" d="M344.3 409.2l3.4 2.4-2.5-.3-3.4-2.5z"/>
<path color="#001d03" d="M340.9 407l3.4 2.2-2.5-.4-3.4-2.2z"/>
<path color="#001e0a" d="M346.8 409.6l3.4 2.3-2.5-.3-3.4-2.4z"/>
<path color="#011d00" d="M337.4 405l3.5 2-2.5-.4-3.5-2.1z"/>
<path color="#001d05" d="M349.3 410.1l3.4 2.3-2.5-.5-3.4-2.3z"/>
<path color="#001d02" d="M343.4 407.5l3.4 2.1-2.5-.4-3.4-2.2z"/>
<path color="#061e00" d="M333.9 403.2l3.5 1.8-2.5-.5-3.4-1.9z"/>
<path color="#021e00" d="M339.9 405.5l3.5 2-2.5-.5-3.5-2z"/>
<path color="#001d01" d="M345.8 408.1l3.5 2-2.5-.5-3.4-2.1z"/>
<path color="#001d05" d="M351.8 410.8l3.4 2.2-2.5-.6-3.4-2.3z"/>
<path color="#031e00" d="M342.4 406.2l3.4 1.9-2.4-.6-3.5-2z"/>
<path color="#0b1e00" d="M330.5 401.5l3.4 1.7-2.4-.6-3.5-1.7z"/>
<path color="#071e00" d="M336.4 403.8l3.5 1.7-2.5-.5-3.5-1.8z"/>
<path color="#001d01" d="M348.3 408.7l3.5 2.1-2.5-.7-3.5-2z"/>
<path color="#001d04" d="M354.3 411.4l3.4 2.2-2.5-.6-3.4-2.2z"/>
<path color="#1c2100" d="M327 400.1l3.5 1.4-2.5-.6-3.5-1.5z"/>
<path color="#081e00" d="M338.9 404.5l3.5 1.7-2.5-.7-3.5-1.7z"/>
<path color="#041e00" d="M344.9 406.9l3.4 1.8-2.5-.6-3.4-1.9z"/>
<path color="#001d04" d="M356.8 412.2l3.4 2.1-2.5-.7-3.4-2.2z"/>
<path color="#0c1f00" d="M333 402.2l3.4 1.6-2.5-.6-3.4-1.7z"/>
<path color="#001d00" d="M350.8 409.5l3.5 1.9-2.5-.6-3.5-2.1z"/>
<path color="#241b00" d="M323.5 398.9l3.5 1.2-2.5-.7-3.5-1.3z"/>
<path color="#1f2200" d="M329.5 400.9l3.5 1.3-2.5-.7-3.5-1.4z"/>
<path color="#0e1f00" d="M335.4 403l3.5 1.5-2.5-.7-3.4-1.6z"/>
<path color="#081e00" d="M341.4 405.3l3.5 1.6-2.5-.7-3.5-1.7z"/>
<path color="#041e00" d="M347.4 407.7l3.4 1.8-2.5-.8-3.4-1.8z"/>
<path color="#001d00" d="M353.3 410.3l3.5 1.9-2.5-.8-3.5-1.9z"/>
<path color="#001d03" d="M359.3 413l3.5 2-2.6-.7-3.4-2.1z"/>
<path color="#240d00" d="M320 397.8l3.5 1.1-2.5-.8-3.4-1.1z"/>
<path color="#212200" d="M332 401.7l3.4 1.3-2.4-.8-3.5-1.3z"/>
<path color="#051e00" d="M349.9 408.6l3.4 1.7-2.5-.8-3.4-1.8z"/>
<path color="#001d03" d="M361.8 413.9l3.5 2-2.5-.9-3.5-2z"/>
<path color="#241900" d="M326 399.7l3.5 1.2-2.5-.8-3.5-1.2z"/>
<path color="#101f00" d="M337.9 403.9l3.5 1.4-2.5-.8-3.5-1.5z"/>
<path color="#091e00" d="M343.9 406.1l3.5 1.6-2.5-.8-3.5-1.6z"/>
<path color="#001d00" d="M355.8 411.1l3.5 1.9-2.5-.8-3.5-1.9z"/>
<path color="#230500" d="M316.6 397l3.4 .8-2.4-.8-3.5-.9z"/>
<path color="#240a00" d="M322.5 398.7l3.5 1-2.5-.8-3.5-1.1z"/>
<path color="#241700" d="M328.5 400.6l3.5 1.1-2.5-.8-3.5-1.2z"/>
<path color="#222200" d="M334.4 402.6l3.5 1.3-2.5-.9-3.4-1.3z"/>
<path color="#091e00" d="M346.4 407.1l3.5 1.5-2.5-.9-3.5-1.6z"/>
<path color="#051e00" d="M352.4 409.5l3.4 1.6-2.5-.8-3.4-1.7z"/>
<path color="#011d00" d="M358.3 412.1l3.5 1.8-2.5-.9-3.5-1.9z"/>
<path color="#001d03" d="M364.3 414.8l3.5 1.9-2.5-.8-3.5-2z"/>
<path color="#122000" d="M340.4 404.8l3.5 1.3-2.5-.8-3.5-1.4z"/>
<path color="#210100" d="M313.1 396.4l3.5 .6-2.5-.9-3.5-.7z"/>
<path color="#240900" d="M325 399.7l3.5 .9-2.5-.9-3.5-1z"/>
<path color="#051e00" d="M354.9 410.5l3.4 1.6-2.5-1-3.4-1.6z"/>
<path color="#001d03" d="M366.8 415.7l3.5 1.9-2.5-.9-3.5-1.9z"/>
<path color="#230400" d="M319 398l3.5 .7-2.5-.9-3.4-.8z"/>
<path color="#241600" d="M331 401.6l3.4 1-2.4-.9-3.5-1.1z"/>
<path color="#232200" d="M336.9 403.6l3.5 1.2-2.5-.9-3.5-1.3z"/>
<path color="#142000" d="M342.9 405.8l3.5 1.3-2.5-1-3.5-1.3z"/>
<path color="#091e00" d="M348.9 408l3.5 1.5-2.5-.9-3.5-1.5z"/>
<path color="#011d00" d="M360.8 413l3.5 1.8-2.5-.9-3.5-1.8z"/>
<path color="#1e0100" d="M309.6 396l3.5 .4-2.5-1-3.5-.5z"/>
<path color="#210100" d="M315.5 397.4l3.5 .6-2.4-1-3.5-.6z"/>
<path color="#220400" d="M321.5 399l3.5 .7-2.5-1-3.5-.7z"/>
<path color="#240800" d="M327.5 400.8l3.5 .8-2.5-1-3.5-.9z"/>
<path color="#232200" d="M339.4 404.7l3.5 1.1-2.5-1-3.5-1.2z"/>
<path color="#091e00" d="M351.4 409.1l3.5 1.4-2.5-1-3.5-1.5z"/>
<path color="#051e00" d="M357.4 411.5l3.4 1.5-2.5-.9-3.4-1.6z"/>
<path color="#011d00" d="M363.3 414l3.5 1.7-2.5-.9-3.5-1.8z"/>
<path color="#001d02" d="M369.3 416.7l3.5 1.9-2.5-1-3.5-1.9z"/>
<path color="#241500" d="M333.4 402.7l3.5 .9-2.5-1-3.4-1z"/>
<path color="#152000" d="M345.4 406.8l3.5 1.2-2.5-.9-3.5-1.3z"/>
<path color="#210100" d="M318 398.6l3.5 .4-2.5-1-3.5-.6z"/>
<path color="#051e00" d="M359.9 412.6l3.4 1.4-2.5-1-3.4-1.5z"/>
<path color="#1c0000" d="M306.1 395.7l3.5 .3-2.5-1.1-3.5-.3z"/>
<path color="#1e0000" d="M312 397.1l3.5 .3-2.4-1-3.5-.4z"/>
<path color="#220400" d="M324 400.2l3.5 .6-2.5-1.1-3.5-.7z"/>
<path color="#240800" d="M329.9 401.9l3.5 .8-2.4-1.1-3.5-.8z"/>
<path color="#241500" d="M335.9 403.8l3.5 .9-2.5-1.1-3.5-.9z"/>
<path color="#232100" d="M341.9 405.8l3.5 1-2.5-1-3.5-1.1z"/>
<path color="#152000" d="M347.9 407.9l3.5 1.2-2.5-1.1-3.5-1.2z"/>
<path color="#091e00" d="M353.9 410.2l3.5 1.3-2.5-1-3.5-1.4z"/>
<path color="#011d00" d="M365.8 415.1l3.5 1.6-2.5-1-3.5-1.7z"/>
<path color="#001d02" d="M371.8 417.7l3.5 1.8-2.5-.9-3.5-1.9z"/>
<path color="#190000" d="M302.6 395.7l3.5 0-2.5-1.1-3.4-.1z"/>
<path color="#1e0100" d="M314.5 398.3l3.5 .3-2.5-1.2-3.5-.3z"/>
<path color="#210100" d="M320.5 399.8l3.5 .4-2.5-1.2-3.5-.4z"/>
<path color="#240800" d="M332.4 403.1l3.5 .7-2.5-1.1-3.5-.8z"/>
<path color="#232200" d="M344.4 406.9l3.5 1-2.5-1.1-3.5-1z"/>
<path color="#091e00" d="M356.4 411.3l3.5 1.3-2.5-1.1-3.5-1.3z"/>
<path color="#051e00" d="M362.4 413.7l3.4 1.4-2.5-1.1-3.4-1.4z"/>
<path color="#001d02" d="M374.3 418.8l3.5 1.7-2.5-1-3.5-1.8z"/>
<path color="#1c0000" d="M308.6 397l3.4 .1-2.4-1.1-3.5-.3z"/>
<path color="#220400" d="M326.4 401.4l3.5 .5-2.4-1.1-3.5-.6z"/>
<path color="#241500" d="M338.4 405l3.5 .8-2.5-1.1-3.5-.9z"/>
<path color="#142000" d="M350.4 409l3.5 1.2-2.5-1.1-3.5-1.2z"/>
<path color="#011d00" d="M368.3 416.2l3.5 1.5-2.5-1-3.5-1.6z"/>
<path color="#180000" d="M299.1 396l3.5-.3-2.4-1.2-3.5 .1z"/>
<path color="#1a0000" d="M305.1 397l3.5 0-2.5-1.3-3.5 0z"/>
<path color="#1c0000" d="M311 398.3l3.5 0-2.5-1.2-3.4-.1z"/>
<path color="#1e0100" d="M317 399.6l3.5 .2-2.5-1.2-3.5-.3z"/>
<path color="#210100" d="M322.9 401.1l3.5 .3-2.4-1.2-3.5-.4z"/>
<path color="#230400" d="M328.9 402.6l3.5 .5-2.5-1.2-3.5-.5z"/>
<path color="#240900" d="M334.9 404.3l3.5 .7-2.5-1.2-3.5-.7z"/>
<path color="#241600" d="M340.9 406.2l3.5 .7-2.5-1.1-3.5-.8z"/>
<path color="#222200" d="M346.9 408.1l3.5 .9-2.5-1.1-3.5-1z"/>
<path color="#142000" d="M352.9 410.2l3.5 1.1-2.5-1.1-3.5-1.2z"/>
<path color="#091e00" d="M358.9 412.4l3.5 1.3-2.5-1.1-3.5-1.3z"/>
<path color="#051e00" d="M364.9 414.8l3.4 1.4-2.5-1.1-3.4-1.4z"/>
<path color="#011d00" d="M370.8 417.3l3.5 1.5-2.5-1.1-3.5-1.5z"/>
<path color="#001d02" d="M376.8 419.9l3.5 1.7-2.5-1.1-3.5-1.7z"/>
<path color="#170000" d="M295.7 396.4l3.4-.4-2.4-1.4-3.5 .4z"/>
<path color="#1a0000" d="M307.5 398.4l3.5-.1-2.4-1.3-3.5 0z"/>
<path color="#220100" d="M325.4 402.4l3.5 .2-2.5-1.2-3.5-.3z"/>
<path color="#240a00" d="M337.4 405.6l3.5 .6-2.5-1.2-3.5-.7z"/>
<path color="#222200" d="M349.4 409.4l3.5 .8-2.5-1.2-3.5-.9z"/>
<path color="#051e00" d="M367.4 415.9l3.4 1.4-2.5-1.1-3.4-1.4z"/>
<path color="#001d02" d="M379.3 420.9l3.5 1.7-2.5-1-3.5-1.7z"/>
<path color="#180000" d="M301.6 397.3l3.5-.3-2.5-1.3-3.5 .3z"/>
<path color="#1c0000" d="M313.5 399.6l3.5 0-2.5-1.3-3.5 0z"/>
<path color="#1f0100" d="M319.4 401l3.5 .1-2.4-1.3-3.5-.2z"/>
<path color="#230400" d="M331.4 404l3.5 .3-2.5-1.2-3.5-.5z"/>
<path color="#241700" d="M343.4 407.5l3.5 .6-2.5-1.2-3.5-.7z"/>
<path color="#122000" d="M355.4 411.4l3.5 1-2.5-1.1-3.5-1.1z"/>
<path color="#091e00" d="M361.4 413.6l3.5 1.2-2.5-1.1-3.5-1.3z"/>
<path color="#011d00" d="M373.3 418.4l3.5 1.5-2.5-1.1-3.5-1.5z"/>
<path color="#5f0000" d="M292.2 397l3.5-.6-2.5-1.4-3.4 .5z"/>
<path color="#210000" d="M298.1 397.9l3.5-.6-2.5-1.3-3.4 .4z"/>
<path color="#1a0000" d="M304 398.8l3.5-.4-2.4-1.4-3.5 .3z"/>
<path color="#1b0000" d="M310 399.9l3.5-.3-2.5-1.3-3.5 .1z"/>
<path color="#1f0100" d="M321.9 402.4l3.5 0-2.5-1.3-3.5-.1z"/>
<path color="#220200" d="M327.9 403.8l3.5 .2-2.5-1.4-3.5-.2z"/>
<path color="#230500" d="M333.8 405.3l3.6 .3-2.5-1.3-3.5-.3z"/>
<path color="#240c00" d="M339.8 407l3.6 .5-2.5-1.3-3.5-.6z"/>
<path color="#241800" d="M345.8 408.8l3.6 .6-2.5-1.3-3.5-.6z"/>
<path color="#212200" d="M351.8 410.7l3.6 .7-2.5-1.2-3.5-.8z"/>
<path color="#091e00" d="M363.8 414.8l3.6 1.1-2.5-1.1-3.5-1.2z"/>
<path color="#051e00" d="M369.8 417.1l3.5 1.3-2.5-1.1-3.4-1.4z"/>
<path color="#011d00" d="M375.8 419.5l3.5 1.4-2.5-1-3.5-1.5z"/>
<path color="#001d02" d="M381.8 422l3.5 1.6-2.5-1-3.5-1.7z"/>
<path color="#1d0000" d="M315.9 401.1l3.5-.1-2.4-1.4-3.5 0z"/>
<path color="#111f00" d="M357.8 412.7l3.6 .9-2.5-1.2-3.5-1z"/>
<path color="#680000" d="M300.5 399.4l3.5-.6-2.4-1.5-3.5 .6z"/>
<path color="#220300" d="M330.3 405.2l3.5 .1-2.4-1.3-3.5-.2z"/>
<path color="#240e00" d="M342.3 408.4l3.5 .4-2.4-1.3-3.6-.5z"/>
<path color="#051e00" d="M372.3 418.3l3.5 1.2-2.5-1.1-3.5-1.3z"/>
<path color="#680000" d="M288.7 397.9l3.5-.9-2.4-1.5-3.5 .8z"/>
<path color="#680000" d="M294.6 398.6l3.5-.7-2.4-1.5-3.5 .6z"/>
<path color="#690000" d="M306.5 400.3l3.5-.4-2.5-1.5-3.5 .4z"/>
<path color="#1e0000" d="M312.4 401.4l3.5-.3-2.4-1.5-3.5 .3z"/>
<path color="#1e0000" d="M318.4 402.6l3.5-.2-2.5-1.4-3.5 .1z"/>
<path color="#200100" d="M324.3 403.8l3.6 0-2.5-1.4-3.5 0z"/>
<path color="#230600" d="M336.3 406.7l3.5 .3-2.4-1.4-3.6-.3z"/>
<path color="#241a00" d="M348.3 410.1l3.5 .6-2.4-1.3-3.6-.6z"/>
<path color="#202200" d="M354.3 412l3.5 .7-2.4-1.3-3.6-.7z"/>
<path color="#0f1f00" d="M360.3 413.9l3.5 .9-2.4-1.2-3.6-.9z"/>
<path color="#091e00" d="M366.3 416.1l3.5 1-2.4-1.2-3.6-1.1z"/>
<path color="#011d00" d="M378.3 420.6l3.5 1.4-2.5-1.1-3.5-1.4z"/>
<path color="#001d02" d="M384.3 423.1l3.5 1.6-2.5-1.1-3.5-1.6z"/>
<path color="#740000" d="M285.3 399l3.4-1.1-2.4-1.6-3.4 1z"/>
<path color="#720000" d="M291.2 399.5l3.4-.9-2.4-1.6-3.5 .9z"/>
<path color="#710000" d="M297.1 400.2l3.4-.8-2.4-1.5-3.5 .7z"/>
<path color="#720000" d="M303 401l3.5-.7-2.5-1.5-3.5 .6z"/>
<path color="#740100" d="M314.9 403l3.5-.4-2.5-1.5-3.5 .3z"/>
<path color="#210100" d="M326.8 405.3l3.5-.1-2.4-1.4-3.6 0z"/>
<path color="#220300" d="M332.8 406.7l3.5 0-2.5-1.4-3.5-.1z"/>
<path color="#230600" d="M338.8 408.2l3.5 .2-2.5-1.4-3.5-.3z"/>
<path color="#241100" d="M344.8 409.8l3.5 .3-2.5-1.3-3.5-.4z"/>
<path color="#1f2200" d="M356.8 413.3l3.5 .6-2.5-1.2-3.5-.7z"/>
<path color="#081e00" d="M368.8 417.3l3.5 1-2.5-1.2-3.5-1z"/>
<path color="#051e00" d="M374.8 419.5l3.5 1.1-2.5-1.1-3.5-1.2z"/>
<path color="#011d00" d="M380.8 421.8l3.5 1.3-2.5-1.1-3.5-1.4z"/>
<path color="#001d02" d="M386.8 424.2l3.5 1.5-2.5-1-3.5-1.6z"/>
<path color="#730000" d="M308.9 401.9l3.5-.5-2.4-1.5-3.5 .4z"/>
<path color="#200100" d="M320.8 404.1l3.5-.3-2.4-1.4-3.5 .2z"/>
<path color="#241c00" d="M350.8 411.5l3.5 .5-2.5-1.3-3.5-.6z"/>
<path color="#0e1f00" d="M362.8 415.2l3.5 .9-2.5-1.3-3.5-.9z"/>
<path color="#810000" d="M281.8 400.3l3.5-1.3-2.4-1.7-3.5 1.2z"/>
<path color="#7b0000" d="M293.6 401.3l3.5-1.1-2.5-1.6-3.4 .9z"/>
<path color="#230400" d="M335.2 408.2l3.6 0-2.5-1.5-3.5 0z"/>
<path color="#051e00" d="M377.3 420.6l3.5 1.2-2.5-1.2-3.5-1.1z"/>
<path color="#001d02" d="M389.3 425.2l3.5 1.5-2.5-1-3.5-1.5z"/>
<path color="#7d0000" d="M287.7 400.7l3.5-1.2-2.5-1.6-3.4 1.1z"/>
<path color="#7b0000" d="M299.5 401.9l3.5-.9-2.5-1.6-3.4 .8z"/>
<path color="#7c0000" d="M305.4 402.7l3.5-.8-2.4-1.6-3.5 .7z"/>
<path color="#7d0100" d="M311.4 403.6l3.5-.6-2.5-1.6-3.5 .5z"/>
<path color="#7e0200" d="M317.3 404.6l3.5-.5-2.4-1.5-3.5 .4z"/>
<path color="#2c0100" d="M323.3 405.7l3.5-.4-2.5-1.5-3.5 .3z"/>
<path color="#220200" d="M329.3 406.9l3.5-.2-2.5-1.5-3.5 .1z"/>
<path color="#240800" d="M341.2 409.6l3.6 .2-2.5-1.4-3.5-.2z"/>
<path color="#241300" d="M347.3 411.2l3.5 .3-2.5-1.4-3.5-.3z"/>
<path color="#231d00" d="M353.3 412.9l3.5 .4-2.5-1.3-3.5-.5z"/>
<path color="#1e2200" d="M359.3 414.6l3.5 .6-2.5-1.3-3.5-.6z"/>
<path color="#0d1f00" d="M365.3 416.5l3.5 .8-2.5-1.2-3.5-.9z"/>
<path color="#081e00" d="M371.3 418.5l3.5 1-2.5-1.2-3.5-1z"/>
<path color="#011d00" d="M383.3 422.9l3.5 1.3-2.5-1.1-3.5-1.3z"/>
<path color="#910000" d="M278.4 401.8l3.4-1.5-2.4-1.8-3.4 1.4z"/>
<path color="#880000" d="M290.1 402.6l3.5-1.3-2.4-1.8-3.5 1.2z"/>
<path color="#860100" d="M307.9 404.5l3.5-.9-2.5-1.7-3.5 .8z"/>
<path color="#870300" d="M319.8 406.3l3.5-.6-2.5-1.6-3.5 .5z"/>
<path color="#2a0400" d="M331.7 408.5l3.5-.3-2.4-1.5-3.5 .2z"/>
<path color="#230500" d="M337.7 409.8l3.5-.2-2.4-1.4-3.6 0z"/>
<path color="#241600" d="M349.7 412.6l3.6 .3-2.5-1.4-3.5-.3z"/>
<path color="#1b2100" d="M361.8 416l3.5 .5-2.5-1.3-3.5-.6z"/>
<path color="#041e00" d="M379.8 421.8l3.5 1.1-2.5-1.1-3.5-1.2z"/>
<path color="#001d02" d="M391.8 426.3l3.5 1.4-2.5-1-3.5-1.5z"/>
<path color="#8c0000" d="M284.3 402.1l3.4-1.4-2.4-1.7-3.5 1.3z"/>
<path color="#860000" d="M296 403.1l3.5-1.2-2.4-1.7-3.5 1.1z"/>
<path color="#850000" d="M301.9 403.7l3.5-1-2.4-1.7-3.5 .9z"/>
<path color="#860200" d="M313.8 405.3l3.5-.7-2.4-1.6-3.5 .6z"/>
<path color="#880500" d="M325.7 407.3l3.6-.4-2.5-1.6-3.5 .4z"/>
<path color="#240b00" d="M343.7 411.1l3.6 .1-2.5-1.4-3.6-.2z"/>
<path color="#232000" d="M355.7 414.2l3.6 .4-2.5-1.3-3.5-.4z"/>
<path color="#0c1f00" d="M367.8 417.8l3.5 .7-2.5-1.2-3.5-.8z"/>
<path color="#081e00" d="M373.8 419.7l3.5 .9-2.5-1.1-3.5-1z"/>
<path color="#011d00" d="M385.8 424l3.5 1.2-2.5-1-3.5-1.3z"/>
<path color="#a30400" d="M275 403.6l3.4-1.8-2.4-1.9-3.4 1.7z"/>
<path color="#9c0300" d="M280.8 403.8l3.5-1.7-2.5-1.8-3.4 1.5z"/>
<path color="#970200" d="M286.7 404.1l3.4-1.5-2.4-1.9-3.4 1.4z"/>
<path color="#930100" d="M292.5 404.5l3.5-1.4-2.4-1.8-3.5 1.3z"/>
<path color="#910100" d="M298.4 404.9l3.5-1.2-2.4-1.8-3.5 1.2z"/>
<path color="#900200" d="M304.4 405.5l3.5-1-2.5-1.8-3.5 1z"/>
<path color="#8f0200" d="M310.3 406.3l3.5-1-2.4-1.7-3.5 .9z"/>
<path color="#900400" d="M316.2 407.1l3.6-.8-2.5-1.7-3.5 .7z"/>
<path color="#910500" d="M322.2 408l3.5-.7-2.4-1.6-3.5 .6z"/>
<path color="#900900" d="M328.2 409l3.5-.5-2.4-1.6-3.6 .4z"/>
<path color="#810f00" d="M334.2 410.1l3.5-.3-2.5-1.6-3.5 .3z"/>
<path color="#230600" d="M340.2 411.3l3.5-.2-2.5-1.5-3.5 .2z"/>
<path color="#240f00" d="M346.2 412.7l3.5-.1-2.4-1.4-3.6-.1z"/>
<path color="#241800" d="M352.2 414.1l3.5 .1-2.4-1.3-3.6-.3z"/>
<path color="#232200" d="M358.2 415.7l3.6 .3-2.5-1.4-3.6-.4z"/>
<path color="#182100" d="M364.2 417.3l3.6 .5-2.5-1.3-3.5-.5z"/>
<path color="#0c1e00" d="M370.3 419.1l3.5 .6-2.5-1.2-3.5-.7z"/>
<path color="#081e00" d="M376.3 421l3.5 .8-2.5-1.2-3.5-.9z"/>
<path color="#041e00" d="M382.3 423l3.5 1-2.5-1.1-3.5-1.1z"/>
<path color="#011d00" d="M388.3 425.1l3.5 1.2-2.5-1.1-3.5-1.2z"/>
<path color="#001d02" d="M394.3 427.3l3.5 1.4-2.5-1-3.5-1.4z"/>
<path color="#b60b00" d="M271.6 405.5l3.4-1.9-2.4-2-3.4 1.9z"/>
<path color="#a80500" d="M283.2 405.8l3.5-1.7-2.4-2-3.5 1.7z"/>
<path color="#a20400" d="M289.1 406l3.4-1.5-2.4-1.9-3.4 1.5z"/>
<path color="#9c0300" d="M300.9 406.9l3.5-1.4-2.5-1.8-3.5 1.2z"/>
<path color="#9a0400" d="M312.7 408.1l3.5-1-2.4-1.8-3.5 1z"/>
<path color="#9a0800" d="M324.6 409.7l3.6-.7-2.5-1.7-3.5 .7z"/>
<path color="#2a0b00" d="M342.6 412.9l3.6-.2-2.5-1.6-3.5 .2z"/>
<path color="#241b00" d="M354.7 415.6l3.5 .1-2.5-1.5-3.5-.1z"/>
<path color="#162000" d="M366.7 418.7l3.6 .4-2.5-1.3-3.6-.5z"/>
<path color="#071e00" d="M378.8 422.2l3.5 .8-2.5-1.2-3.5-.8z"/>
<path color="#041e00" d="M384.8 424.1l3.5 1-2.5-1.1-3.5-1z"/>
<path color="#001d02" d="M396.8 428.3l3.5 1.3-2.5-.9-3.5-1.4z"/>
<path color="#af0600" d="M277.4 405.6l3.4-1.8-2.4-2-3.4 1.8z"/>
<path color="#9e0400" d="M295 406.4l3.4-1.5-2.4-1.8-3.5 1.4z"/>
<path color="#9a0400" d="M306.8 407.4l3.5-1.1-2.4-1.8-3.5 1z"/>
<path color="#9a0500" d="M318.7 408.8l3.5-.8-2.4-1.7-3.6 .8z"/>
<path color="#920e00" d="M330.6 410.7l3.6-.6-2.5-1.6-3.5 .5z"/>
<path color="#801300" d="M336.6 411.7l3.6-.4-2.5-1.5-3.5 .3z"/>
<path color="#241200" d="M348.6 414.2l3.6-.1-2.5-1.5-3.5 .1z"/>
<path color="#212200" d="M360.7 417.1l3.5 .2-2.4-1.3-3.6-.3z"/>
<path color="#0b1e00" d="M372.7 420.4l3.6 .6-2.5-1.3-3.5-.6z"/>
<path color="#011d00" d="M390.8 426.1l3.5 1.2-2.5-1-3.5-1.2z"/>
<path color="#b51e00" d="M268.2 407.8l3.4-2.3-2.4-2-3.4 2.1z"/>
<path color="#b61600" d="M274 407.7l3.4-2.1-2.4-2-3.4 1.9z"/>
<path color="#b70f00" d="M279.8 407.7l3.4-1.9-2.4-2-3.4 1.8z"/>
<path color="#b40900" d="M285.6 407.9l3.5-1.9-2.4-1.9-3.5 1.7z"/>
<path color="#aa0600" d="M297.4 408.4l3.5-1.5-2.5-2-3.4 1.5z"/>
<path color="#a50600" d="M309.2 409.4l3.5-1.3-2.4-1.8-3.5 1.1z"/>
<path color="#a40700" d="M315.1 410l3.6-1.2-2.5-1.7-3.5 1z"/>
<path color="#a30a00" d="M321.1 410.7l3.5-1-2.4-1.7-3.5 .8z"/>
<path color="#9c0e00" d="M327.1 411.5l3.5-.8-2.4-1.7-3.6 .7z"/>
<path color="#7e1700" d="M339.1 413.4l3.5-.5-2.4-1.6-3.6 .4z"/>
<path color="#311200" d="M345.1 414.5l3.5-.3-2.4-1.5-3.6 .2z"/>
<path color="#241500" d="M351.1 415.7l3.6-.1-2.5-1.5-3.6 .1z"/>
<path color="#231d00" d="M357.1 417l3.6 .1-2.5-1.4-3.5-.1z"/>
<path color="#132000" d="M369.2 420l3.5 .4-2.4-1.3-3.6-.4z"/>
<path color="#071e00" d="M381.3 423.3l3.5 .8-2.5-1.1-3.5-.8z"/>
<path color="#041e00" d="M387.3 425.2l3.5 .9-2.5-1-3.5-1z"/>
<path color="#011d00" d="M393.3 427.1l3.5 1.2-2.5-1-3.5-1.2z"/>
<path color="#001d02" d="M399.4 429.2l3.5 1.3-2.6-.9-3.5-1.3z"/>
<path color="#af0700" d="M291.5 408.1l3.5-1.7-2.5-1.9-3.4 1.5z"/>
<path color="#a70600" d="M303.3 408.8l3.5-1.4-2.4-1.9-3.5 1.4z"/>
<path color="#901300" d="M333.1 412.4l3.5-.7-2.4-1.6-3.6 .6z"/>
<path color="#202200" d="M363.1 418.5l3.6 .2-2.5-1.4-3.5-.2z"/>
<path color="#0a1e00" d="M375.2 421.6l3.6 .6-2.5-1.2-3.6-.6z"/>
<path color="#b42000" d="M276.4 409.9l3.4-2.2-2.4-2.1-3.4 2.1z"/>
<path color="#a90e00" d="M317.6 411.9l3.5-1.2-2.4-1.9-3.6 1.2z"/>
<path color="#552800" d="M347.5 416.1l3.6-.4-2.5-1.5-3.5 .3z"/>
<path color="#041e00" d="M389.8 426.3l3.5 .8-2.5-1-3.5-.9z"/>
<path color="#a55300" d="M264.8 410.2l3.4-2.4-2.4-2.2-3.3 2.3z"/>
<path color="#ae3500" d="M270.6 410l3.4-2.3-2.4-2.2-3.4 2.3z"/>
<path color="#b51a00" d="M282.2 409.9l3.4-2-2.4-2.1-3.4 1.9z"/>
<path color="#b51400" d="M288 410l3.5-1.9-2.4-2.1-3.5 1.9z"/>
<path color="#b41000" d="M293.9 410.2l3.5-1.8-2.4-2-3.5 1.7z"/>
<path color="#b30d00" d="M299.8 410.5l3.5-1.7-2.4-1.9-3.5 1.5z"/>
<path color="#b00c00" d="M305.7 410.8l3.5-1.4-2.4-2-3.5 1.4z"/>
<path color="#ad0c00" d="M311.6 411.3l3.5-1.3-2.4-1.9-3.5 1.3z"/>
<path color="#a31100" d="M323.5 412.5l3.6-1-2.5-1.8-3.5 1z"/>
<path color="#9a1500" d="M329.5 413.3l3.6-.9-2.5-1.7-3.5 .8z"/>
<path color="#8d1800" d="M335.5 414.1l3.6-.7-2.5-1.7-3.5 .7z"/>
<path color="#782100" d="M341.5 415.1l3.6-.6-2.5-1.6-3.5 .5z"/>
<path color="#241800" d="M353.5 417.2l3.6-.2-2.4-1.4-3.6 .1z"/>
<path color="#232000" d="M359.6 418.5l3.5 0-2.4-1.4-3.6-.1z"/>
<path color="#1f2200" d="M365.6 419.8l3.6 .2-2.5-1.3-3.6-.2z"/>
<path color="#111f00" d="M371.7 421.3l3.5 .3-2.5-1.2-3.5-.4z"/>
<path color="#0a1e00" d="M377.7 422.8l3.6 .5-2.5-1.1-3.6-.6z"/>
<path color="#071e00" d="M383.7 424.5l3.6 .7-2.5-1.1-3.5-.8z"/>
<path color="#011d00" d="M395.8 428.1l3.6 1.1-2.6-.9-3.5-1.2z"/>
<path color="#001d02" d="M401.9 430.1l3.5 1.3-2.5-.9-3.5-1.3z"/>
<path color="#998c00" d="M261.5 412.9l3.3-2.7-2.3-2.3-3.4 2.6z"/>
<path color="#9a6e00" d="M267.2 412.6l3.4-2.6-2.4-2.2-3.4 2.4z"/>
<path color="#a35800" d="M273 412.4l3.4-2.5-2.4-2.2-3.4 2.3z"/>
<path color="#ab4000" d="M278.8 412.2l3.4-2.3-2.4-2.2-3.4 2.2z"/>
<path color="#b31f00" d="M290.4 412.2l3.5-2-2.4-2.1-3.5 1.9z"/>
<path color="#b21a00" d="M296.3 412.4l3.5-1.9-2.4-2.1-3.5 1.8z"/>
<path color="#b11700" d="M302.2 412.6l3.5-1.8-2.4-2-3.5 1.7z"/>
<path color="#af1600" d="M308.1 412.9l3.5-1.6-2.4-1.9-3.5 1.4z"/>
<path color="#ab1500" d="M314 413.3l3.6-1.4-2.5-1.9-3.5 1.3z"/>
<path color="#a71600" d="M320 413.8l3.5-1.3-2.4-1.8-3.5 1.2z"/>
<path color="#971b00" d="M331.9 415.1l3.6-1-2.4-1.7-3.6 .9z"/>
<path color="#6f2d00" d="M344 416.7l3.5-.6-2.4-1.6-3.6 .6z"/>
<path color="#4d2c00" d="M350 417.7l3.5-.5-2.4-1.5-3.6 .4z"/>
<path color="#251c00" d="M356 418.8l3.6-.3-2.5-1.5-3.6 .2z"/>
<path color="#232200" d="M362 419.9l3.6-.1-2.5-1.3-3.5 0z"/>
<path color="#1c2100" d="M368.1 421.2l3.6 .1-2.5-1.3-3.6-.2z"/>
<path color="#0f1f00" d="M374.1 422.6l3.6 .2-2.5-1.2-3.5-.3z"/>
<path color="#071e00" d="M386.2 425.6l3.6 .7-2.5-1.1-3.6-.7z"/>
<path color="#041e00" d="M392.3 427.3l3.5 .8-2.5-1-3.5-.8z"/>
<path color="#011d00" d="M398.3 429l3.6 1.1-2.5-.9-3.6-1.1z"/>
<path color="#001d02" d="M404.4 430.9l3.5 1.3-2.5-.8-3.5-1.3z"/>
<path color="#b22800" d="M284.6 412.2l3.4-2.2-2.4-2.1-3.4 2z"/>
<path color="#a01800" d="M326 414.4l3.5-1.1-2.4-1.8-3.6 1z"/>
<path color="#882200" d="M337.9 415.8l3.6-.7-2.4-1.7-3.6 .7z"/>
<path color="#0a1e00" d="M380.2 424l3.5 .5-2.4-1.2-3.6-.5z"/>
<path color="#999100" d="M269.6 415l3.4-2.6-2.4-2.4-3.4 2.6z"/>
<path color="#ae2b00" d="M298.7 414.6l3.5-2-2.4-2.1-3.5 1.9z"/>
<path color="#ac1f00" d="M310.5 415l3.5-1.7-2.4-2-3.5 1.6z"/>
<path color="#452e00" d="M352.4 419.3l3.6-.5-2.5-1.6-3.5 .5z"/>
<path color="#212200" d="M364.5 421.3l3.6-.1-2.5-1.4-3.6 .1z"/>
<path color="#041e00" d="M394.8 428.2l3.5 .8-2.5-.9-3.5-.8z"/>
<path color="#568e00" d="M258.1 415.8l3.4-2.9-2.4-2.4-3.3 2.8z"/>
<path color="#879400" d="M263.8 415.4l3.4-2.8-2.4-2.4-3.3 2.7z"/>
<path color="#997400" d="M275.4 414.8l3.4-2.6-2.4-2.3-3.4 2.5z"/>
<path color="#9f6000" d="M281.2 414.6l3.4-2.4-2.4-2.3-3.4 2.3z"/>
<path color="#a54e00" d="M287 414.5l3.4-2.3-2.4-2.2-3.4 2.2z"/>
<path color="#aa3a00" d="M292.8 414.5l3.5-2.1-2.4-2.2-3.5 2z"/>
<path color="#ae2100" d="M304.6 414.7l3.5-1.8-2.4-2.1-3.5 1.8z"/>
<path color="#a91e00" d="M316.5 415.3l3.5-1.5-2.4-1.9-3.6 1.4z"/>
<path color="#a41e00" d="M322.4 415.7l3.6-1.3-2.5-1.9-3.5 1.3z"/>
<path color="#9d1f00" d="M328.4 416.3l3.5-1.2-2.4-1.8-3.5 1.1z"/>
<path color="#902800" d="M334.4 416.9l3.5-1.1-2.4-1.7-3.6 1z"/>
<path color="#7e3100" d="M340.4 417.6l3.6-.9-2.5-1.6-3.6 .7z"/>
<path color="#663500" d="M346.4 418.4l3.6-.7-2.5-1.6-3.5 .6z"/>
<path color="#292200" d="M358.5 420.3l3.5-.4-2.4-1.4-3.6 .3z"/>
<path color="#1a2100" d="M370.5 422.5l3.6 .1-2.4-1.3-3.6-.1z"/>
<path color="#0e1f00" d="M376.6 423.8l3.6 .2-2.5-1.2-3.6-.2z"/>
<path color="#091e00" d="M382.7 425.2l3.5 .4-2.5-1.1-3.5-.5z"/>
<path color="#071e00" d="M388.7 426.7l3.6 .6-2.5-1-3.6-.7z"/>
<path color="#011d00" d="M400.8 429.9l3.6 1-2.5-.8-3.6-1.1z"/>
<path color="#001d01" d="M406.9 431.7l3.5 1.2-2.5-.7-3.5-1.3z"/>
<path color="#278800" d="M254.8 419l3.3-3.2-2.3-2.5-3.3 3.1z"/>
<path color="#538e00" d="M266.2 418l3.4-3-2.4-2.4-3.4 2.8z"/>
<path color="#997d00" d="M283.5 417l3.5-2.5-2.4-2.3-3.4 2.4z"/>
<path color="#9e5a00" d="M295.2 416.8l3.5-2.2-2.4-2.2-3.5 2.1z"/>
<path color="#a34100" d="M307 416.9l3.5-1.9-2.4-2.1-3.5 1.8z"/>
<path color="#9b3300" d="M324.8 417.7l3.6-1.4-2.4-1.9-3.6 1.3z"/>
<path color="#863a00" d="M336.8 418.7l3.6-1.1-2.5-1.8-3.5 1.1z"/>
<path color="#433200" d="M354.9 420.8l3.6-.5-2.5-1.5-3.6 .5z"/>
<path color="#202200" d="M367 422.7l3.5-.2-2.4-1.3-3.6 .1z"/>
<path color="#0d1f00" d="M379.1 425l3.6 .2-2.5-1.2-3.6-.2z"/>
<path color="#041e00" d="M397.3 429.1l3.5 .8-2.5-.9-3.5-.8z"/>
<path color="#001d01" d="M409.4 432.4l3.5 1.2-2.5-.7-3.5-1.2z"/>
<path color="#358900" d="M260.5 418.5l3.3-3.1-2.3-2.5-3.4 2.9z"/>
<path color="#839400" d="M272 417.6l3.4-2.8-2.4-2.4-3.4 2.6z"/>
<path color="#959300" d="M277.7 417.2l3.5-2.6-2.4-2.4-3.4 2.6z"/>
<path color="#996900" d="M289.4 416.8l3.4-2.3-2.4-2.3-3.4 2.3z"/>
<path color="#a14d00" d="M301.1 416.8l3.5-2.1-2.4-2.1-3.5 2z"/>
<path color="#a33900" d="M312.9 417.1l3.6-1.8-2.5-2-3.5 1.7z"/>
<path color="#a03400" d="M318.9 417.3l3.5-1.6-2.4-1.9-3.5 1.5z"/>
<path color="#923600" d="M330.8 418.1l3.6-1.2-2.5-1.8-3.5 1.2z"/>
<path color="#753d00" d="M342.8 419.3l3.6-.9-2.4-1.7-3.6 .9z"/>
<path color="#5d3a00" d="M348.8 420l3.6-.7-2.4-1.6-3.6 .7z"/>
<path color="#2c2800" d="M360.9 421.7l3.6-.4-2.5-1.4-3.5 .4z"/>
<path color="#172100" d="M373 423.8l3.6 0-2.5-1.2-3.6-.1z"/>
<path color="#091e00" d="M385.1 426.3l3.6 .4-2.5-1.1-3.5-.4z"/>
<path color="#071e00" d="M391.2 427.7l3.6 .5-2.5-.9-3.6-.6z"/>
<path color="#021e00" d="M403.4 430.7l3.5 1-2.5-.8-3.6-1z"/>
<path color="#128900" d="M251.5 422.4l3.3-3.4-2.3-2.6-3.3 3.3z"/>
<path color="#1d8900" d="M257.2 421.7l3.3-3.2-2.4-2.7-3.3 3.2z"/>
<path color="#278900" d="M262.9 421.1l3.3-3.1-2.4-2.6-3.3 3.1z"/>
<path color="#338900" d="M268.6 420.6l3.4-3-2.4-2.6-3.4 3z"/>
<path color="#769200" d="M280.1 419.7l3.4-2.7-2.3-2.4-3.5 2.6z"/>
<path color="#8e9300" d="M285.9 419.4l3.5-2.6-2.4-2.3-3.5 2.5z"/>
<path color="#978a00" d="M291.8 419.2l3.4-2.4-2.4-2.3-3.4 2.3z"/>
<path color="#967500" d="M297.6 419.1l3.5-2.3-2.4-2.2-3.5 2.2z"/>
<path color="#956600" d="M303.5 419l3.5-2.1-2.4-2.2-3.5 2.1z"/>
<path color="#975b00" d="M309.4 419.1l3.5-2-2.4-2.1-3.5 1.9z"/>
<path color="#944d00" d="M321.3 419.4l3.5-1.7-2.4-2-3.5 1.6z"/>
<path color="#904900" d="M327.2 419.7l3.6-1.6-2.4-1.8-3.6 1.4z"/>
<path color="#884800" d="M333.2 420l3.6-1.3-2.4-1.8-3.6 1.2z"/>
<path color="#7c4700" d="M339.2 420.5l3.6-1.2-2.4-1.7-3.6 1.1z"/>
<path color="#573f00" d="M351.3 421.7l3.6-.9-2.5-1.5-3.6 .7z"/>
<path color="#443900" d="M357.3 422.4l3.6-.7-2.4-1.4-3.6 .5z"/>
<path color="#2c2b00" d="M363.4 423.2l3.6-.5-2.5-1.4-3.6 .4z"/>
<path color="#1f2200" d="M369.4 424.1l3.6-.3-2.5-1.3-3.5 .2z"/>
<path color="#162000" d="M375.5 425.1l3.6-.1-2.5-1.2-3.6 0z"/>
<path color="#0d1f00" d="M381.6 426.2l3.5 .1-2.4-1.1-3.6-.2z"/>
<path color="#071e00" d="M393.7 428.6l3.6 .5-2.5-.9-3.6-.5z"/>
<path color="#051e00" d="M399.8 430l3.6 .7-2.6-.8-3.5-.8z"/>
<path color="#021e00" d="M405.9 431.4l3.5 1-2.5-.7-3.5-1z"/>
<path color="#001d01" d="M411.9 433l3.6 1.2-2.6-.6-3.5-1.2z"/>
<path color="#4a8c00" d="M274.3 420.1l3.4-2.9-2.3-2.4-3.4 2.8z"/>
<path color="#975300" d="M315.3 419.2l3.6-1.9-2.4-2-3.6 1.8z"/>
<path color="#6b4400" d="M345.2 421l3.6-1-2.4-1.6-3.6 .9z"/>
<path color="#091e00" d="M387.6 427.3l3.6 .4-2.5-1-3.6-.4z"/>
<path color="#128900" d="M259.5 424.5l3.4-3.4-2.4-2.6-3.3 3.2z"/>
<path color="#668f00" d="M288.3 421.9l3.5-2.7-2.4-2.4-3.5 2.6z"/>
<path color="#908f00" d="M300 421.4l3.5-2.4-2.4-2.2-3.5 2.3z"/>
<path color="#454000" d="M359.7 423.9l3.7-.7-2.5-1.5-3.6 .7z"/>
<path color="#1d2100" d="M371.9 425.4l3.6-.3-2.5-1.3-3.6 .3z"/>
<path color="#051e00" d="M402.3 430.7l3.6 .7-2.5-.7-3.6-.7z"/>
<path color="#078900" d="M253.9 425.3l3.3-3.6-2.4-2.7-3.3 3.4z"/>
<path color="#1c8900" d="M265.2 423.9l3.4-3.3-2.4-2.6-3.3 3.1z"/>
<path color="#308900" d="M276.7 422.7l3.4-3-2.4-2.5-3.4 2.9z"/>
<path color="#938300" d="M305.9 421.3l3.5-2.2-2.4-2.2-3.5 2.1z"/>
<path color="#8d6700" d="M317.7 421.3l3.6-1.9-2.4-2.1-3.6 1.9z"/>
<path color="#855900" d="M329.7 421.6l3.5-1.6-2.4-1.9-3.6 1.6z"/>
<path color="#725000" d="M341.7 422.3l3.5-1.3-2.4-1.7-3.6 1.2z"/>
<path color="#584700" d="M353.7 423.3l3.6-.9-2.4-1.6-3.6 .9z"/>
<path color="#0d1f00" d="M384 427.3l3.6 0-2.5-1-3.5-.1z"/>
<path color="#071e00" d="M396.2 429.5l3.6 .5-2.5-.9-3.6-.5z"/>
<path color="#031e00" d="M408.4 432.1l3.5 .9-2.5-.6-3.5-1z"/>
<path color="#268900" d="M271 423.3l3.3-3.2-2.3-2.5-3.4 3z"/>
<path color="#3f8a00" d="M282.5 422.3l3.4-2.9-2.4-2.4-3.4 2.7z"/>
<path color="#859200" d="M294.1 421.6l3.5-2.5-2.4-2.3-3.4 2.4z"/>
<path color="#907200" d="M311.8 421.3l3.5-2.1-2.4-2.1-3.5 2z"/>
<path color="#895f00" d="M323.7 421.4l3.5-1.7-2.4-2-3.5 1.7z"/>
<path color="#7d5400" d="M335.6 421.9l3.6-1.4-2.4-1.8-3.6 1.3z"/>
<path color="#664c00" d="M347.7 422.7l3.6-1-2.5-1.7-3.6 1z"/>
<path color="#2b2c00" d="M365.8 424.6l3.6-.5-2.4-1.4-3.6 .5z"/>
<path color="#142000" d="M377.9 426.3l3.7-.1-2.5-1.2-3.6 .1z"/>
<path color="#091e00" d="M390.1 428.3l3.6 .3-2.5-.9-3.6-.4z"/>
<path color="#008a04" d="M256.2 428.2l3.3-3.7-2.3-2.8-3.3 3.6z"/>
<path color="#061e00" d="M404.8 431.4l3.6 .7-2.5-.7-3.6-.7z"/>
<path color="#078a00" d="M261.9 427.4l3.3-3.5-2.3-2.8-3.4 3.4z"/>
<path color="#1b8900" d="M273.3 426l3.4-3.3-2.4-2.6-3.3 3.2z"/>
<path color="#2c8800" d="M284.9 424.9l3.4-3-2.4-2.5-3.4 2.9z"/>
<path color="#3a8900" d="M290.7 424.5l3.4-2.9-2.3-2.4-3.5 2.7z"/>
<path color="#548c00" d="M296.5 424.1l3.5-2.7-2.4-2.3-3.5 2.5z"/>
<path color="#748f00" d="M302.4 423.8l3.5-2.5-2.4-2.3-3.5 2.4z"/>
<path color="#8c8a00" d="M314.2 423.5l3.5-2.2-2.4-2.1-3.5 2.1z"/>
<path color="#887400" d="M326.1 423.5l3.6-1.9-2.5-1.9-3.5 1.7z"/>
<path color="#826a00" d="M332.1 423.6l3.5-1.7-2.4-1.9-3.5 1.6z"/>
<path color="#725c00" d="M344.1 424l3.6-1.3-2.5-1.7-3.5 1.3z"/>
<path color="#585000" d="M356.1 424.8l3.6-.9-2.4-1.5-3.6 .9z"/>
<path color="#444300" d="M362.2 425.4l3.6-.8-2.4-1.4-3.7 .7z"/>
<path color="#2a2c00" d="M368.3 426l3.6-.6-2.5-1.3-3.6 .5z"/>
<path color="#1b2100" d="M374.3 426.7l3.6-.4-2.4-1.2-3.6 .3z"/>
<path color="#0d1f00" d="M386.5 428.3l3.6 0-2.5-1-3.6 0z"/>
<path color="#081e00" d="M398.7 430.3l3.6 .4-2.5-.7-3.6-.5z"/>
<path color="#128900" d="M267.6 426.6l3.4-3.3-2.4-2.7-3.4 3.3z"/>
<path color="#248800" d="M279.1 425.4l3.4-3.1-2.4-2.6-3.4 3z"/>
<path color="#858e00" d="M308.3 423.6l3.5-2.3-2.4-2.2-3.5 2.2z"/>
<path color="#8c8100" d="M320.1 423.4l3.6-2-2.4-2-3.6 1.9z"/>
<path color="#7b6200" d="M338.1 423.8l3.6-1.5-2.5-1.8-3.6 1.4z"/>
<path color="#665700" d="M350.1 424.4l3.6-1.1-2.4-1.6-3.6 1z"/>
<path color="#142000" d="M380.4 427.4l3.6-.1-2.4-1.1-3.7 .1z"/>
<path color="#0a1e00" d="M392.6 429.2l3.6 .3-2.5-.9-3.6-.3z"/>
<path color="#298700" d="M293.1 427l3.4-2.9-2.4-2.5-3.4 2.9z"/>
<path color="#414300" d="M364.6 426.8l3.7-.8-2.5-1.4-3.6 .8z"/>
<path color="#008b0d" d="M258.6 431.1l3.3-3.7-2.4-2.9-3.3 3.7z"/>
<path color="#068a00" d="M269.9 429.5l3.4-3.5-2.3-2.7-3.4 3.3z"/>
<path color="#1a8900" d="M281.4 428.1l3.5-3.2-2.4-2.6-3.4 3.1z"/>
<path color="#5f8a00" d="M310.7 425.9l3.5-2.4-2.4-2.2-3.5 2.3z"/>
<path color="#726b00" d="M346.5 425.8l3.6-1.4-2.4-1.7-3.6 1.3z"/>
<path color="#1a2100" d="M376.8 427.8l3.6-.4-2.5-1.1-3.6 .4z"/>
<path color="#0d1f00" d="M389 429.3l3.6-.1-2.5-.9-3.6 0z"/>
<path color="#081e00" d="M401.2 431l3.6 .4-2.5-.7-3.6-.4z"/>
<path color="#008a04" d="M264.2 430.3l3.4-3.7-2.4-2.7-3.3 3.5z"/>
<path color="#118900" d="M275.7 428.7l3.4-3.3-2.4-2.7-3.4 3.3z"/>
<path color="#228800" d="M287.2 427.5l3.5-3-2.4-2.6-3.4 3z"/>
<path color="#348700" d="M298.9 426.6l3.5-2.8-2.4-2.4-3.5 2.7z"/>
<path color="#428700" d="M304.8 426.2l3.5-2.6-2.4-2.3-3.5 2.5z"/>
<path color="#778b00" d="M316.6 425.7l3.5-2.3-2.4-2.1-3.5 2.2z"/>
<path color="#7f8700" d="M322.5 425.6l3.6-2.1-2.4-2.1-3.6 2z"/>
<path color="#818300" d="M328.5 425.5l3.6-1.9-2.4-2-3.6 1.9z"/>
<path color="#807d00" d="M334.5 425.5l3.6-1.7-2.5-1.9-3.5 1.7z"/>
<path color="#7b7500" d="M340.5 425.6l3.6-1.6-2.4-1.7-3.6 1.5z"/>
<path color="#666200" d="M352.5 426l3.6-1.2-2.4-1.5-3.6 1.1z"/>
<path color="#565500" d="M358.6 426.4l3.6-1-2.5-1.5-3.6 .9z"/>
<path color="#282b00" d="M370.7 427.3l3.6-.6-2.4-1.3-3.6 .6z"/>
<path color="#132000" d="M382.9 428.5l3.6-.2-2.5-1-3.6 .1z"/>
<path color="#0a1e00" d="M395.1 430.1l3.6 .2-2.5-.8-3.6-.3z"/>
<path color="#008b0d" d="M266.6 433.2l3.3-3.7-2.3-2.9-3.4 3.7z"/>
<path color="#058900" d="M278 431.5l3.4-3.4-2.3-2.7-3.4 3.3z"/>
<path color="#188800" d="M289.6 430.1l3.5-3.1-2.4-2.5-3.5 3z"/>
<path color="#208700" d="M295.4 429.6l3.5-3-2.4-2.5-3.4 2.9z"/>
<path color="#2f8400" d="M307.1 428.6l3.6-2.7-2.4-2.3-3.5 2.6z"/>
<path color="#4d8500" d="M319 427.9l3.5-2.3-2.4-2.2-3.5 2.3z"/>
<path color="#747e00" d="M336.9 427.4l3.6-1.8-2.4-1.8-3.6 1.7z"/>
<path color="#6b6e00" d="M348.9 427.5l3.6-1.5-2.4-1.6-3.6 1.4z"/>
<path color="#515400" d="M361 427.8l3.6-1-2.4-1.4-3.6 1z"/>
<path color="#3e4200" d="M367.1 428.1l3.6-.8-2.4-1.3-3.7 .8z"/>
<path color="#1a2100" d="M379.3 429l3.6-.5-2.5-1.1-3.6 .4z"/>
<path color="#0e1f00" d="M391.5 430.1l3.6 0-2.5-.9-3.6 .1z"/>
<path color="#008c16" d="M260.9 434.2l3.3-3.9-2.3-2.9-3.3 3.7z"/>
<path color="#008a04" d="M272.3 432.3l3.4-3.6-2.4-2.7-3.4 3.5z"/>
<path color="#0f8900" d="M283.8 430.8l3.4-3.3-2.3-2.6-3.5 3.2z"/>
<path color="#398400" d="M313 428.2l3.6-2.5-2.4-2.2-3.5 2.4z"/>
<path color="#628500" d="M324.9 427.7l3.6-2.2-2.4-2-3.6 2.1z"/>
<path color="#718300" d="M330.9 427.5l3.6-2-2.4-1.9-3.6 1.9z"/>
<path color="#717600" d="M342.9 427.4l3.6-1.6-2.4-1.8-3.6 1.6z"/>
<path color="#252900" d="M373.2 428.5l3.6-.7-2.5-1.1-3.6 .6z"/>
<path color="#142000" d="M385.4 429.5l3.6-.2-2.5-1-3.6 .2z"/>
<path color="#0b1e00" d="M397.6 430.9l3.6 .1-2.5-.7-3.6-.2z"/>
<path color="#278600" d="M301.3 429l3.5-2.8-2.4-2.4-3.5 2.8z"/>
<path color="#606200" d="M354.9 427.6l3.7-1.2-2.5-1.6-3.6 1.2z"/>
<path color="#00903e" d="M263.3 437.2l3.3-4-2.4-2.9-3.3 3.9z"/>
<path color="#008b0d" d="M274.6 435.3l3.4-3.8-2.3-2.8-3.4 3.6z"/>
<path color="#048900" d="M286.1 433.6l3.5-3.5-2.4-2.6-3.4 3.3z"/>
<path color="#3b4000" d="M369.5 429.5l3.7-1-2.5-1.2-3.6 .8z"/>
<path color="#1a2100" d="M381.7 430l3.7-.5-2.5-1-3.6 .5z"/>
<path color="#101f00" d="M394 430.9l3.6 0-2.5-.8-3.6 0z"/>
<path color="#008b16" d="M268.9 436.2l3.4-3.9-2.4-2.8-3.3 3.7z"/>
<path color="#008a05" d="M280.4 434.4l3.4-3.6-2.4-2.7-3.4 3.4z"/>
<path color="#0e8800" d="M291.9 432.8l3.5-3.2-2.3-2.6-3.5 3.1z"/>
<path color="#178700" d="M297.8 432.1l3.5-3.1-2.4-2.4-3.5 3z"/>
<path color="#1e8600" d="M303.6 431.5l3.5-2.9-2.3-2.4-3.5 2.8z"/>
<path color="#258400" d="M309.5 431l3.5-2.8-2.3-2.3-3.6 2.7z"/>
<path color="#2a8200" d="M315.4 430.5l3.6-2.6-2.4-2.2-3.6 2.5z"/>
<path color="#348100" d="M321.3 430.1l3.6-2.4-2.4-2.1-3.5 2.3z"/>
<path color="#3d7f00" d="M327.3 429.8l3.6-2.3-2.4-2-3.6 2.2z"/>
<path color="#517e00" d="M333.3 429.5l3.6-2.1-2.4-1.9-3.6 2z"/>
<path color="#5f7b00" d="M339.3 429.3l3.6-1.9-2.4-1.8-3.6 1.8z"/>
<path color="#657600" d="M345.3 429.2l3.6-1.7-2.4-1.7-3.6 1.6z"/>
<path color="#646e00" d="M351.3 429.1l3.6-1.5-2.4-1.6-3.6 1.5z"/>
<path color="#5b6200" d="M357.4 429.2l3.6-1.4-2.4-1.4-3.7 1.2z"/>
<path color="#4d5400" d="M363.4 429.3l3.7-1.2-2.5-1.3-3.6 1z"/>
<path color="#212600" d="M375.6 429.7l3.7-.7-2.5-1.2-3.6 .7z"/>
<path color="#162000" d="M387.8 430.5l3.7-.4-2.5-.8-3.6 .2z"/>
<path color="#00903d" d="M271.3 439.2l3.3-3.9-2.3-3-3.4 3.9z"/>
<path color="#008a0d" d="M282.7 437.2l3.4-3.6-2.3-2.8-3.4 3.6z"/>
<path color="#0d8700" d="M300.1 434.7l3.5-3.2-2.3-2.5-3.5 3.1z"/>
<path color="#1d8400" d="M311.9 433.3l3.5-2.8-2.4-2.3-3.5 2.8z"/>
<path color="#457700" d="M341.7 431.1l3.6-1.9-2.4-1.8-3.6 1.9z"/>
<path color="#556c00" d="M353.7 430.8l3.7-1.6-2.5-1.6-3.6 1.5z"/>
<path color="#373e00" d="M372 430.7l3.6-1-2.4-1.2-3.7 1z"/>
<path color="#1b2100" d="M384.2 431l3.6-.5-2.4-1-3.7 .5z"/>
<path color="#00996f" d="M265.6 440.3l3.3-4.1-2.3-3-3.3 4z"/>
<path color="#008b16" d="M277 438.2l3.4-3.8-2.4-2.9-3.4 3.8z"/>
<path color="#008905" d="M288.5 436.3l3.4-3.5-2.3-2.7-3.5 3.5z"/>
<path color="#238200" d="M317.8 432.8l3.5-2.7-2.3-2.2-3.6 2.6z"/>
<path color="#287f00" d="M323.7 432.3l3.6-2.5-2.4-2.1-3.6 2.4z"/>
<path color="#2f7d00" d="M329.7 431.8l3.6-2.3-2.4-2-3.6 2.3z"/>
<path color="#367a00" d="M335.7 431.5l3.6-2.2-2.4-1.9-3.6 2.1z"/>
<path color="#495200" d="M365.9 430.6l3.6-1.1-2.4-1.4-3.7 1.2z"/>
<path color="#1d2100" d="M378.1 430.8l3.6-.8-2.4-1-3.7 .7z"/>
<path color="#182100" d="M390.3 431.3l3.7-.4-2.5-.8-3.7 .4z"/>
<path color="#038800" d="M294.3 435.5l3.5-3.4-2.4-2.5-3.5 3.2z"/>
<path color="#158600" d="M306 434l3.5-3-2.4-2.4-3.5 2.9z"/>
<path color="#517300" d="M347.7 430.9l3.6-1.8-2.4-1.6-3.6 1.7z"/>
<path color="#536100" d="M359.8 430.7l3.6-1.4-2.4-1.5-3.6 1.4z"/>
<path color="#009e93" d="M267.9 443.4l3.4-4.2-2.4-3-3.3 4.1z"/>
<path color="#008f3c" d="M279.3 441.1l3.4-3.9-2.3-2.8-3.4 3.8z"/>
<path color="#333a00" d="M374.4 431.9l3.7-1.1-2.5-1.1-3.6 1z"/>
<path color="#1d2100" d="M386.7 431.9l3.6-.6-2.5-.8-3.6 .5z"/>
<path color="#00986e" d="M273.6 442.3l3.4-4.1-2.4-2.9-3.3 3.9z"/>
<path color="#008b16" d="M285.1 440.1l3.4-3.8-2.4-2.7-3.4 3.6z"/>
<path color="#008805" d="M296.6 438.1l3.5-3.4-2.3-2.6-3.5 3.4z"/>
<path color="#038700" d="M302.5 437.3l3.5-3.3-2.4-2.5-3.5 3.2z"/>
<path color="#0c8500" d="M308.3 436.5l3.6-3.2-2.4-2.3-3.5 3z"/>
<path color="#148400" d="M314.2 435.7l3.6-2.9-2.4-2.3-3.5 2.8z"/>
<path color="#1b8200" d="M320.1 435l3.6-2.7-2.4-2.2-3.5 2.7z"/>
<path color="#217f00" d="M326.1 434.4l3.6-2.6-2.4-2-3.6 2.5z"/>
<path color="#267b00" d="M332.1 433.9l3.6-2.4-2.4-2-3.6 2.3z"/>
<path color="#2d7800" d="M338 433.4l3.7-2.3-2.4-1.8-3.6 2.2z"/>
<path color="#337400" d="M344.1 432.9l3.6-2-2.4-1.7-3.6 1.9z"/>
<path color="#3e6f00" d="M350.1 432.6l3.6-1.8-2.4-1.7-3.6 1.8z"/>
<path color="#476900" d="M356.1 432.3l3.7-1.6-2.4-1.5-3.7 1.6z"/>
<path color="#434f00" d="M368.3 431.9l3.7-1.2-2.5-1.2-3.6 1.1z"/>
<path color="#1e2200" d="M380.5 431.9l3.7-.9-2.5-1-3.6 .8z"/>
<path color="#008a0d" d="M290.8 439.1l3.5-3.6-2.4-2.7-3.4 3.5z"/>
<path color="#495e00" d="M362.2 432.1l3.7-1.5-2.5-1.3-3.6 1.4z"/>
<path color="#009e91" d="M275.9 445.3l3.4-4.2-2.3-2.9-3.4 4.1z"/>
<path color="#2f3600" d="M376.9 432.9l3.6-1-2.4-1.1-3.7 1.1z"/>
<path color="#0097ac" d="M270.2 446.6l3.4-4.3-2.3-3.1-3.4 4.2z"/>
<path color="#00976b" d="M281.6 444.1l3.5-4-2.4-2.9-3.4 3.9z"/>
<path color="#008a16" d="M293.2 441.9l3.4-3.8-2.3-2.6-3.5 3.6z"/>
<path color="#008705" d="M304.8 439.8l3.5-3.3-2.3-2.5-3.5 3.3z"/>
<path color="#0c8400" d="M316.6 438.1l3.5-3.1-2.3-2.2-3.6 2.9z"/>
<path color="#148100" d="M322.5 437.3l3.6-2.9-2.4-2.1-3.6 2.7z"/>
<path color="#1b7f00" d="M328.5 436.5l3.6-2.6-2.4-2.1-3.6 2.6z"/>
<path color="#217b00" d="M334.4 435.9l3.6-2.5-2.3-1.9-3.6 2.4z"/>
<path color="#2b7200" d="M346.5 434.7l3.6-2.1-2.4-1.7-3.6 2z"/>
<path color="#3b6600" d="M358.6 433.8l3.6-1.7-2.4-1.4-3.7 1.6z"/>
<path color="#3e4c00" d="M370.7 433.2l3.7-1.3-2.4-1.2-3.7 1.2z"/>
<path color="#1f2200" d="M383 432.8l3.7-.9-2.5-.9-3.7 .9z"/>
<path color="#008e39" d="M287.4 443l3.4-3.9-2.3-2.8-3.4 3.8z"/>
<path color="#00890d" d="M299 440.8l3.5-3.5-2.4-2.6-3.5 3.4z"/>
<path color="#038500" d="M310.7 438.9l3.5-3.2-2.3-2.4-3.6 3.2z"/>
<path color="#257700" d="M340.4 435.2l3.7-2.3-2.4-1.8-3.7 2.3z"/>
<path color="#306c00" d="M352.5 434.2l3.6-1.9-2.4-1.5-3.6 1.8z"/>
<path color="#425c00" d="M364.6 433.4l3.7-1.5-2.4-1.3-3.7 1.5z"/>
<path color="#006fad" d="M272.5 449.8l3.4-4.5-2.3-3-3.4 4.3z"/>
<path color="#2b3000" d="M379.3 433.9l3.7-1.1-2.5-.9-3.6 1z"/>
<path color="#009bac" d="M278.2 448.4l3.4-4.3-2.3-3-3.4 4.2z"/>
<path color="#009667" d="M289.7 445.8l3.5-3.9-2.4-2.8-3.4 3.9z"/>
<path color="#008915" d="M301.3 443.5l3.5-3.7-2.3-2.5-3.5 3.5z"/>
<path color="#00870c" d="M307.2 442.4l3.5-3.5-2.4-2.4-3.5 3.3z"/>
<path color="#008504" d="M313 441.4l3.6-3.3-2.4-2.4-3.5 3.2z"/>
<path color="#058300" d="M318.9 440.4l3.6-3.1-2.4-2.3-3.5 3.1z"/>
<path color="#0d8100" d="M324.9 439.5l3.6-3-2.4-2.1-3.6 2.9z"/>
<path color="#157e00" d="M330.8 438.6l3.6-2.7-2.3-2-3.6 2.6z"/>
<path color="#1c7b00" d="M336.8 437.8l3.6-2.6-2.4-1.8-3.6 2.5z"/>
<path color="#217600" d="M342.8 437.1l3.7-2.4-2.4-1.8-3.7 2.3z"/>
<path color="#257100" d="M348.8 436.4l3.7-2.2-2.4-1.6-3.6 2.1z"/>
<path color="#326300" d="M361 435.2l3.6-1.8-2.4-1.3-3.6 1.7z"/>
<path color="#3b4900" d="M373.2 434.3l3.7-1.4-2.5-1-3.7 1.3z"/>
<path color="#009d8e" d="M284 447.1l3.4-4.1-2.3-2.9-3.5 4z"/>
<path color="#008d33" d="M295.5 444.6l3.5-3.8-2.4-2.7-3.4 3.8z"/>
<path color="#2b6b00" d="M354.9 435.8l3.7-2-2.5-1.5-3.6 1.9z"/>
<path color="#3c5900" d="M367.1 434.7l3.6-1.5-2.4-1.3-3.7 1.5z"/>
<path color="#0042ad" d="M274.9 453l3.3-4.6-2.3-3.1-3.4 4.5z"/>
<path color="#009ea9" d="M286.3 450.1l3.4-4.3-2.3-2.8-3.4 4.1z"/>
<path color="#008302" d="M321.3 442.7l3.6-3.2-2.4-2.2-3.6 3.1z"/>
<path color="#078100" d="M327.2 441.6l3.6-3-2.3-2.1-3.6 3z"/>
<path color="#2c6000" d="M363.4 436.5l3.7-1.8-2.5-1.3-3.6 1.8z"/>
<path color="#394400" d="M375.6 435.3l3.7-1.4-2.4-1-3.7 1.4z"/>
<path color="#0075ac" d="M280.5 451.5l3.5-4.4-2.4-3-3.4 4.3z"/>
<path color="#009c89" d="M292 448.7l3.5-4.1-2.3-2.7-3.5 3.9z"/>
<path color="#009360" d="M297.8 447.4l3.5-3.9-2.3-2.7-3.5 3.8z"/>
<path color="#008b28" d="M303.6 446.1l3.6-3.7-2.4-2.6-3.5 3.7z"/>
<path color="#008713" d="M309.5 444.9l3.5-3.5-2.3-2.5-3.5 3.5z"/>
<path color="#00850a" d="M315.4 443.8l3.5-3.4-2.3-2.3-3.6 3.3z"/>
<path color="#107e00" d="M333.2 440.6l3.6-2.8-2.4-1.9-3.6 2.7z"/>
<path color="#177a00" d="M339.2 439.7l3.6-2.6-2.4-1.9-3.6 2.6z"/>
<path color="#1d7600" d="M345.2 438.8l3.6-2.4-2.3-1.7-3.7 2.4z"/>
<path color="#227000" d="M351.2 438l3.7-2.2-2.4-1.6-3.7 2.2z"/>
<path color="#276900" d="M357.3 437.2l3.7-2-2.4-1.4-3.7 2z"/>
<path color="#385600" d="M369.5 435.9l3.7-1.6-2.5-1.1-3.6 1.5z"/>
<path color="#004aac" d="M282.9 454.6l3.4-4.5-2.3-3-3.5 4.4z"/>
<path color="#009da2" d="M294.3 451.6l3.5-4.2-2.3-2.8-3.5 4.1z"/>
<path color="#00871a" d="M311.8 447.4l3.6-3.6-2.4-2.4-3.5 3.5z"/>
<path color="#008510" d="M317.7 446.1l3.6-3.4-2.4-2.3-3.5 3.4z"/>
<path color="#008307" d="M323.6 444.9l3.6-3.3-2.3-2.1-3.6 3.2z"/>
<path color="#018000" d="M329.6 443.7l3.6-3.1-2.4-2-3.6 3z"/>
<path color="#0a7d00" d="M335.5 442.6l3.7-2.9-2.4-1.9-3.6 2.8z"/>
<path color="#1f6e00" d="M353.6 439.5l3.7-2.3-2.4-1.4-3.7 2.2z"/>
<path color="#2a5d00" d="M365.8 437.8l3.7-1.9-2.4-1.2-3.7 1.8z"/>
<path color="#0018ac" d="M277.2 456.2l3.3-4.7-2.3-3.1-3.3 4.6z"/>
<path color="#007cab" d="M288.6 453l3.4-4.3-2.3-2.9-3.4 4.3z"/>
<path color="#009a81" d="M300.1 450.1l3.5-4-2.3-2.6-3.5 3.9z"/>
<path color="#009057" d="M306 448.7l3.5-3.8-2.3-2.5-3.6 3.7z"/>
<path color="#137900" d="M341.5 441.5l3.7-2.7-2.4-1.7-3.6 2.6z"/>
<path color="#1a7500" d="M347.6 440.5l3.6-2.5-2.4-1.6-3.6 2.4z"/>
<path color="#246700" d="M359.7 438.6l3.7-2.1-2.4-1.3-3.7 2z"/>
<path color="#375200" d="M371.9 437l3.7-1.7-2.4-1-3.7 1.6z"/>
<path color="#0005a5" d="M279.5 459.4l3.4-4.8-2.4-3.1-3.3 4.7z"/>
<path color="#285a00" d="M368.2 439l3.7-2-2.4-1.1-3.7 1.9z"/>
<path color="#001fad" d="M285.1 457.7l3.5-4.7-2.3-2.9-3.4 4.5z"/>
<path color="#0055ab" d="M290.9 456l3.4-4.4-2.3-2.9-3.4 4.3z"/>
<path color="#0086aa" d="M296.6 454.4l3.5-4.3-2.3-2.7-3.5 4.2z"/>
<path color="#009b98" d="M302.4 452.8l3.6-4.1-2.4-2.6-3.5 4z"/>
<path color="#009673" d="M308.3 451.3l3.5-3.9-2.3-2.5-3.5 3.8z"/>
<path color="#008c42" d="M314.1 449.9l3.6-3.8-2.3-2.3-3.6 3.6z"/>
<path color="#008516" d="M320 448.4l3.6-3.5-2.3-2.2-3.6 3.4z"/>
<path color="#00830c" d="M326 447.1l3.6-3.4-2.4-2.1-3.6 3.3z"/>
<path color="#008004" d="M331.9 445.8l3.6-3.2-2.3-2-3.6 3.1z"/>
<path color="#067c00" d="M337.9 444.5l3.6-3-2.3-1.8-3.7 2.9z"/>
<path color="#0f7800" d="M343.9 443.3l3.7-2.8-2.4-1.7-3.7 2.7z"/>
<path color="#177300" d="M350 442.1l3.6-2.6-2.4-1.5-3.6 2.5z"/>
<path color="#1d6d00" d="M356 441l3.7-2.4-2.4-1.4-3.7 2.3z"/>
<path color="#216400" d="M362.1 440l3.7-2.2-2.4-1.3-3.7 2.1z"/>
<path color="#009161" d="M316.5 452.3l3.5-3.9-2.3-2.3-3.6 3.8z"/>
<path color="#008211" d="M328.3 449.2l3.6-3.4-2.3-2.1-3.6 3.4z"/>
<path color="#000095" d="M281.7 462.5l3.4-4.8-2.2-3.1-3.4 4.8z"/>
<path color="#000ba6" d="M287.4 460.7l3.5-4.7-2.3-3-3.5 4.7z"/>
<path color="#002eac" d="M293.2 458.9l3.4-4.5-2.3-2.8-3.4 4.4z"/>
<path color="#0066aa" d="M298.9 457.2l3.5-4.4-2.3-2.7-3.5 4.3z"/>
<path color="#0093a9" d="M304.8 455.5l3.5-4.2-2.3-2.6-3.6 4.1z"/>
<path color="#009a8b" d="M310.6 453.9l3.5-4-2.3-2.5-3.5 3.9z"/>
<path color="#008726" d="M322.4 450.7l3.6-3.6-2.4-2.2-3.6 3.5z"/>
<path color="#007f08" d="M334.3 447.7l3.6-3.2-2.4-1.9-3.6 3.2z"/>
<path color="#017b00" d="M340.3 446.3l3.6-3-2.4-1.8-3.6 3z"/>
<path color="#0c7700" d="M346.3 445l3.7-2.9-2.4-1.6-3.7 2.8z"/>
<path color="#147200" d="M352.3 443.7l3.7-2.7-2.4-1.5-3.6 2.6z"/>
<path color="#1b6b00" d="M358.4 442.4l3.7-2.4-2.4-1.4-3.7 2.4z"/>
<path color="#206200" d="M364.5 441.2l3.7-2.2-2.4-1.2-3.7 2.2z"/>
<path color="#000090" d="M284 465.7l3.4-5-2.3-3-3.4 4.8z"/>
<path color="#0012a8" d="M295.5 461.8l3.4-4.6-2.3-2.8-3.4 4.5z"/>
<path color="#0041aa" d="M301.2 460l3.6-4.5-2.4-2.7-3.5 4.4z"/>
<path color="#0076a8" d="M307.1 458.1l3.5-4.2-2.3-2.6-3.5 4.2z"/>
<path color="#00999f" d="M312.9 456.4l3.6-4.1-2.4-2.4-3.5 4z"/>
<path color="#009679" d="M318.8 454.6l3.6-3.9-2.4-2.3-3.5 3.9z"/>
<path color="#008a46" d="M324.7 452.9l3.6-3.7-2.3-2.1-3.6 3.6z"/>
<path color="#008215" d="M330.6 451.3l3.7-3.6-2.4-1.9-3.6 3.4z"/>
<path color="#007f0b" d="M336.6 449.7l3.7-3.4-2.4-1.8-3.6 3.2z"/>
<path color="#007b02" d="M342.6 448.1l3.7-3.1-2.4-1.7-3.6 3z"/>
<path color="#097600" d="M348.6 446.6l3.7-2.9-2.3-1.6-3.7 2.9z"/>
<path color="#1a6900" d="M360.8 443.7l3.7-2.5-2.4-1.2-3.7 2.4z"/>
<path color="#000098" d="M289.7 463.7l3.5-4.8-2.3-2.9-3.5 4.7z"/>
<path color="#137000" d="M354.7 445.1l3.7-2.7-2.4-1.4-3.7 2.7z"/>
<path color="#0002a2" d="M297.7 464.7l3.5-4.7-2.3-2.8-3.4 4.6z"/>
<path color="#001eaa" d="M303.5 462.7l3.6-4.6-2.3-2.6-3.6 4.5z"/>
<path color="#0059a8" d="M309.3 460.7l3.6-4.3-2.3-2.5-3.5 4.2z"/>
<path color="#008ba6" d="M315.2 458.8l3.6-4.2-2.3-2.3-3.6 4.1z"/>
<path color="#00978b" d="M321.1 456.9l3.6-4-2.3-2.2-3.6 3.9z"/>
<path color="#008d5d" d="M327 455.1l3.6-3.8-2.3-2.1-3.6 3.7z"/>
<path color="#00821c" d="M333 453.3l3.6-3.6-2.3-2-3.7 3.6z"/>
<path color="#007e0e" d="M338.9 451.5l3.7-3.4-2.3-1.8-3.7 3.4z"/>
<path color="#007a04" d="M345 449.8l3.6-3.2-2.3-1.6-3.7 3.1z"/>
<path color="#00008c" d="M286.3 468.8l3.4-5.1-2.3-3-3.4 5z"/>
<path color="#000092" d="M292 466.8l3.5-5-2.3-2.9-3.5 4.8z"/>
<path color="#077500" d="M351 448.1l3.7-3-2.4-1.4-3.7 2.9z"/>
<path color="#116f00" d="M357.1 446.4l3.7-2.7-2.4-1.3-3.7 2.7z"/>
<path color="#000093" d="M300 467.5l3.5-4.8-2.3-2.7-3.5 4.7z"/>
<path color="#000ea5" d="M305.8 465.4l3.5-4.7-2.2-2.6-3.6 4.6z"/>
<path color="#0074a6" d="M317.5 461.2l3.6-4.3-2.3-2.3-3.6 4.2z"/>
<path color="#009799" d="M323.4 459.1l3.6-4-2.3-2.2-3.6 4z"/>
<path color="#008431" d="M335.3 455.2l3.6-3.7-2.3-1.8-3.6 3.6z"/>
<path color="#007d11" d="M341.3 453.2l3.7-3.4-2.4-1.7-3.7 3.4z"/>
<path color="#000088" d="M288.6 472l3.4-5.2-2.3-3.1-3.4 5.1z"/>
<path color="#00008e" d="M294.3 469.7l3.4-5-2.2-2.9-3.5 5z"/>
<path color="#003ba8" d="M311.6 463.3l3.6-4.5-2.3-2.4-3.6 4.3z"/>
<path color="#00906e" d="M329.3 457.1l3.7-3.8-2.4-2-3.6 3.8z"/>
<path color="#007806" d="M347.3 451.3l3.7-3.2-2.4-1.5-3.6 3.2z"/>
<path color="#067300" d="M353.4 449.5l3.7-3.1-2.4-1.3-3.7 3z"/>
<path color="#00008f" d="M302.3 470.3l3.5-4.9-2.3-2.7-3.5 4.8z"/>
<path color="#008543" d="M337.6 457l3.7-3.8-2.4-1.7-3.6 3.7z"/>
<path color="#000086" d="M290.8 475l3.5-5.3-2.3-2.9-3.4 5.2z"/>
<path color="#00008a" d="M296.5 472.7l3.5-5.2-2.3-2.8-3.4 5z"/>
<path color="#0001a0" d="M308.1 468l3.5-4.7-2.3-2.6-3.5 4.7z"/>
<path color="#001fa8" d="M313.9 465.7l3.6-4.5-2.3-2.4-3.6 4.5z"/>
<path color="#005ea5" d="M319.8 463.5l3.6-4.4-2.3-2.2-3.6 4.3z"/>
<path color="#0092a3" d="M325.7 461.3l3.6-4.2-2.3-2-3.6 4z"/>
<path color="#00937c" d="M331.6 459.1l3.7-3.9-2.3-1.9-3.7 3.8z"/>
<path color="#007c12" d="M343.6 454.9l3.7-3.6-2.3-1.5-3.7 3.4z"/>
<path color="#007707" d="M349.7 452.8l3.7-3.3-2.4-1.4-3.7 3.2z"/>
<path color="#000083" d="M293.1 478.1l3.4-5.4-2.2-3-3.5 5.3z"/>
<path color="#000087" d="M298.8 475.5l3.5-5.2-2.3-2.8-3.5 5.2z"/>
<path color="#000091" d="M310.4 470.6l3.5-4.9-2.3-2.4-3.5 4.7z"/>
<path color="#0081a2" d="M328 463.4l3.6-4.3-2.3-2-3.6 4.2z"/>
<path color="#008551" d="M339.9 458.7l3.7-3.8-2.3-1.7-3.7 3.8z"/>
<path color="#007b14" d="M346 456.4l3.7-3.6-2.4-1.5-3.7 3.6z"/>
<path color="#00008c" d="M304.6 473l3.5-5-2.3-2.6-3.5 4.9z"/>
<path color="#0011a4" d="M316.2 468.1l3.6-4.6-2.3-2.3-3.6 4.5z"/>
<path color="#0047a5" d="M322.1 465.7l3.6-4.4-2.3-2.2-3.6 4.4z"/>
<path color="#009285" d="M334 461l3.6-4-2.3-1.8-3.7 3.9z"/>
<path color="#000080" d="M295.3 481l3.5-5.5-2.3-2.8-3.4 5.4z"/>
<path color="#008657" d="M342.3 460.3l3.7-3.9-2.4-1.5-3.7 3.8z"/>
<path color="#000084" d="M301 478.4l3.6-5.4-2.3-2.7-3.5 5.2z"/>
<path color="#000089" d="M306.8 475.7l3.6-5.1-2.3-2.6-3.5 5z"/>
<path color="#00008e" d="M312.6 473.1l3.6-5-2.3-2.4-3.5 4.9z"/>
<path color="#00079f" d="M318.5 470.5l3.6-4.8-2.3-2.2-3.6 4.6z"/>
<path color="#0032a4" d="M324.4 467.9l3.6-4.5-2.3-2.1-3.6 4.4z"/>
<path color="#0072a1" d="M330.3 465.3l3.7-4.3-2.4-1.9-3.6 4.3z"/>
<path color="#00918c" d="M336.3 462.8l3.6-4.1-2.3-1.7-3.6 4z"/>
<path color="#00007e" d="M297.5 484l3.5-5.6-2.2-2.9-3.5 5.5z"/>
<path color="#000082" d="M303.3 481.1l3.5-5.4-2.2-2.7-3.6 5.4z"/>
<path color="#000086" d="M309.1 478.3l3.5-5.2-2.2-2.5-3.6 5.1z"/>
<path color="#00008b" d="M314.9 475.5l3.6-5-2.3-2.4-3.6 5z"/>
<path color="#000099" d="M320.8 472.7l3.6-4.8-2.3-2.2-3.6 4.8z"/>
<path color="#0020a3" d="M326.7 469.9l3.6-4.6-2.3-1.9-3.6 4.5z"/>
<path color="#0066a0" d="M332.6 467.2l3.7-4.4-2.3-1.8-3.7 4.3z"/>
<path color="#009091" d="M338.6 464.5l3.7-4.2-2.4-1.6-3.6 4.1z"/>
<path color="#00007b" d="M299.8 486.8l3.5-5.7-2.3-2.7-3.5 5.6z"/>
<path color="#000080" d="M305.5 483.8l3.6-5.5-2.3-2.6-3.5 5.4z"/>
<path color="#000089" d="M317.2 477.8l3.6-5.1-2.3-2.2-3.6 5z"/>
<path color="#0016a1" d="M328.9 471.9l3.7-4.7-2.3-1.9-3.6 4.6z"/>
<path color="#005b9f" d="M334.9 469l3.7-4.5-2.3-1.7-3.7 4.4z"/>
<path color="#000084" d="M311.3 480.8l3.6-5.3-2.3-2.4-3.5 5.2z"/>
<path color="#00008e" d="M323 474.8l3.7-4.9-2.3-2-3.6 4.8z"/>
<path color="#000079" d="M302 489.6l3.5-5.8-2.2-2.7-3.5 5.7z"/>
<path color="#00007d" d="M307.8 486.4l3.5-5.6-2.2-2.5-3.6 5.5z"/>
<path color="#000081" d="M313.6 483.2l3.6-5.4-2.3-2.3-3.6 5.3z"/>
<path color="#000086" d="M319.4 480l3.6-5.2-2.2-2.1-3.6 5.1z"/>
<path color="#00008c" d="M325.3 476.9l3.6-5-2.2-2-3.7 4.9z"/>
<path color="#00119e" d="M331.2 473.7l3.7-4.7-2.3-1.8-3.7 4.7z"/>
<path color="#00007b" d="M310 488.9l3.6-5.7-2.3-2.4-3.5 5.6z"/>
<path color="#000084" d="M321.7 482.1l3.6-5.2-2.3-2.1-3.6 5.2z"/>
<path color="#000077" d="M304.2 492.3l3.6-5.9-2.3-2.6-3.5 5.8z"/>
<path color="#00007f" d="M315.8 485.5l3.6-5.5-2.2-2.2-3.6 5.4z"/>
<path color="#00008a" d="M327.6 478.8l3.6-5.1-2.3-1.8-3.6 5z"/>
<path color="#000074" d="M306.4 494.9l3.6-6-2.2-2.5-3.6 5.9z"/>
<path color="#000079" d="M312.2 491.3l3.6-5.8-2.2-2.3-3.6 5.7z"/>
<path color="#00007e" d="M318 487.7l3.7-5.6-2.3-2.1-3.6 5.5z"/>
<path color="#000081" d="M323.9 484.2l3.7-5.4-2.3-1.9-3.6 5.2z"/>
<path color="#000077" d="M314.4 493.6l3.6-5.9-2.2-2.2-3.6 5.8z"/>
<path color="#000072" d="M308.7 497.4l3.5-6.1-2.2-2.4-3.6 6z"/>
<path color="#00007c" d="M320.3 489.8l3.6-5.6-2.2-2.1-3.7 5.6z"/>
<path color="#000070" d="M310.9 499.7l3.5-6.1-2.2-2.3-3.5 6.1z"/>
<path color="#000075" d="M316.7 495.8l3.6-6-2.3-2.1-3.6 5.9z"/>
<path color="#00006e" d="M313.1 502l3.6-6.2-2.3-2.2-3.5 6.1z"/>
</g>
<path d="M249 420L250 418.8L251 417.6L252 417.1L253 416L254 414.9L255 414.4L256 413.3L257 412.3L258 411.3L259 410.9L260 409.9L261 409L262 408.6L263 407.7L264 406.9L265 406.1L266 405.7L267 404.9L268 404.2L269 403.9L270 403.2L271 402.5L272 402.2L273 401.6L274 401L275 400.7L276 400.1L277 399.6L278 399.4L279 398.9L280 398.4L281 398.2L282 397.8L283 397.4L284 397.2L285 396.9L286 396.6L287 396.4L288 396.1L289 395.9L290 395.8L291 395.6L292 395.4L293 395.3L294 395.2L295 395L296 395L297 394.9L298 394.9L299 394.8L300 394.8L301 394.8L302 394.8L303 394.9L304 394.9L305 395L306 395.1L307 395.2L308 395.3L309 395.4L310 395.6L311 395.7L312 395.9L313 396.1L314 396.3L315 396.6L316 396.8L317 397.1L318 397.4L319 397.6L320 397.9L321 398.2L322 398.5L323 398.9L324 399.2L325 399.5L326 399.8L327 400.2L328 400.5L329 400.8L330 401.2L331 401.5L332 401.9L333 402.2L334 402.6L335 402.9L336 403.3L337 403.6L338 404L339 404.4L340 404.8L341 405.1L342 405.5L343 405.9L344 406.3L345 406.6L346 407L347 407.4L348 407.9L349 408.2L350 408.6L351 409L352 409.4L353 409.8L354 410.2L355 410.6L356 411L357 411.5L358 411.9L359 412.3L360 412.7L361 413.2L362 413.5L363 414L364 414.4L365 414.8L366 415.3L367 415.7L368 416.1L369 416.5L370 417L371 417.4L372 417.9L373 418.3L374 418.7L375 419.2L376 419.6L377 420.1L378 420.5L379 420.9L380 421.3L381 421.8L382 422.2L383 422.6L384 423.1L385 423.5L386 423.9L387 424.4L388 424.8L389 425.2L390 425.6L391 426L392 426.5L393 426.9L394 427.3L395 427.7L396 428.1L397 428.4L398 428.8L399 429.2L400 429.6L401 430L402 430.3L403 430.6L404 431L405 431.3L406 431.6L407 431.9L408 432.2L409 432.4L410 432.7L411 432.9L412 433.2L413 433.5L414 433.8L415 434.2" fill="none" stroke="#000" stroke-opacity=".75" stroke-width=".9" stroke-linejoin="round"/>
<path d="M313.1 502L316.7 495.8L320.3 489.8L323.9 484.2L327.6 478.8L331.2 473.7L334.9 469L338.6 464.5L342.3 460.3L346 456.4L349.7 452.8L353.4 449.5L357.1 446.4L360.8 443.7L364.5 441.2L368.2 439L371.9 437L375.6 435.3L379.3 433.9L383 432.8L386.7 431.9L390.3 431.3L394 430.9L397.6 430.9L401.2 431L404.8 431.4L408.4 432.1L411.9 433L415.5 434.2" fill="none" stroke="#000" stroke-opacity=".45" stroke-width=".5"/>
<path d="M313.1 502L310.9 499.7L308.7 497.4L306.4 494.9L304.2 492.3L302 489.6L299.8 486.8L297.5 484L295.3 481L293.1 478.1L290.8 475L288.6 472L286.3 468.8L284 465.7L281.7 462.5L279.5 459.4L277.2 456.2L274.9 453L272.5 449.8L270.2 446.6L267.9 443.4L265.6 440.3L263.3 437.2L260.9 434.2L258.6 431.1L256.2 428.2L253.9 425.3L251.5 422.4L249.2 419.7" fill="none" stroke="#000" stroke-opacity=".45" stroke-width=".5"/>
<text x="221.6" y="382.2" font-size="10.5" textLength="12" lengthAdjust="spacingAndGlyphs" class="pl">(f)</text>
<text x="246.2" y="394" class="tk" text-anchor="end">90</text>
<text x="247.1" y="411.8" class="tk" text-anchor="end">85</text>
<text x="248.1" y="429.6" class="tk" text-anchor="end">80</text>
<text x="249" y="447.4" class="tk" text-anchor="end">75</text>
<text x="249.9" y="465.2" class="tk" text-anchor="end">70</text>
<text x="319.6" y="535.7" class="tk" text-anchor="middle">20.00</text>
<text x="339.3" y="529.5" class="tk" text-anchor="middle">36.00</text>
<text x="359" y="523.4" class="tk" text-anchor="middle">52.00</text>
<text x="378.7" y="517.2" class="tk" text-anchor="middle">68.00</text>
<text x="398.4" y="511.1" class="tk" text-anchor="middle">84.00</text>
<text x="418.1" y="504.9" class="tk" text-anchor="middle">100.00</text>
<text x="305.4" y="536" class="tk" text-anchor="middle">20.00</text>
<text x="290.3" y="525.1" class="tk" text-anchor="middle">30.00</text>
<text x="275.3" y="514.3" class="tk" text-anchor="middle">40.00</text>
<text x="260.2" y="503.5" class="tk" text-anchor="middle">50.00</text>
<text x="245.2" y="492.6" class="tk" text-anchor="middle">60.00</text>
<text transform="translate(225.6 482.4) rotate(-90)" y="0" class="ax" font-size="7.9" textLength="84" lengthAdjust="spacingAndGlyphs">ABTS radical-scavenging</text>
<text transform="translate(234.7 461.6) rotate(-90)" y="0" class="ax" font-size="7.9" textLength="43.2" lengthAdjust="spacingAndGlyphs">capacity (%)</text>
<text transform="translate(228.2 494.4) rotate(33.5)" y="1.8" class="ax" font-size="7.9" textLength="87" lengthAdjust="spacingAndGlyphs">Ethanol concentration (%)</text>
<text transform="translate(336.8 541.2) rotate(-17.7)" y="1.9" class="ax" font-size="8.32" textLength="76.8" lengthAdjust="spacingAndGlyphs">Extraction time (min)</text></g>
</svg>
</body></html>
